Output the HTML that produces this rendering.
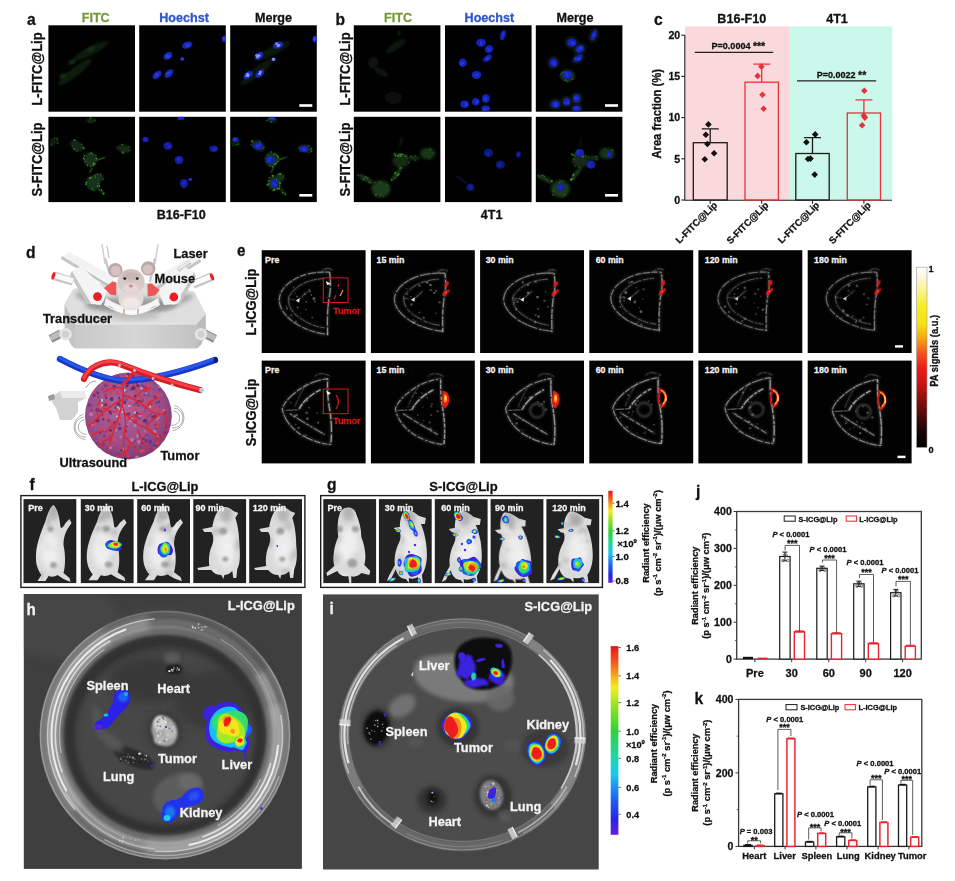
<!DOCTYPE html>
<html><head><meta charset="utf-8"><title>Figure</title>
<style>
html,body{margin:0;padding:0;background:#fff;}
body{width:955px;height:881px;overflow:hidden;font-family:"Liberation Sans",sans-serif;}
svg{display:block;position:absolute;left:0;top:0;opacity:0.999;}
text{font-family:"Liberation Sans",sans-serif;font-weight:bold;}
</style></head><body>
<svg width="955" height="881" viewBox="0 0 955 881">

<!-- p_defs -->

<defs>
<filter id="b05" x="-30%" y="-30%" width="160%" height="160%"><feGaussianBlur stdDeviation="0.5"/></filter>
<filter id="b1" x="-30%" y="-30%" width="160%" height="160%"><feGaussianBlur stdDeviation="1"/></filter>
<filter id="b15" x="-30%" y="-30%" width="160%" height="160%"><feGaussianBlur stdDeviation="1.5"/></filter>
<filter id="b2" x="-30%" y="-30%" width="160%" height="160%"><feGaussianBlur stdDeviation="2"/></filter>
<filter id="b3" x="-30%" y="-30%" width="160%" height="160%"><feGaussianBlur stdDeviation="3"/></filter>
<filter id="b5" x="-30%" y="-30%" width="160%" height="160%"><feGaussianBlur stdDeviation="5"/></filter>
<linearGradient id="jet" x1="0" y1="0" x2="0" y2="1">
<stop offset="0" stop-color="#e8141c"/><stop offset="0.08" stop-color="#f5541a"/><stop offset="0.15" stop-color="#f8a01c"/><stop offset="0.22" stop-color="#f2ee1e"/>
<stop offset="0.33" stop-color="#8be024"/><stop offset="0.45" stop-color="#2fd23a"/><stop offset="0.58" stop-color="#1fd6a6"/><stop offset="0.68" stop-color="#18c8ee"/>
<stop offset="0.80" stop-color="#1e6af0"/><stop offset="0.92" stop-color="#2a22e6"/><stop offset="1" stop-color="#6a1fd8"/>
</linearGradient>
<linearGradient id="hot" x1="0" y1="0" x2="0" y2="1">
<stop offset="0" stop-color="#ffffff"/><stop offset="0.06" stop-color="#fbf6d8"/><stop offset="0.14" stop-color="#fbf280"/><stop offset="0.22" stop-color="#f8ec20"/>
<stop offset="0.32" stop-color="#f8e010"/><stop offset="0.40" stop-color="#f8a010"/><stop offset="0.48" stop-color="#f4501a"/><stop offset="0.56" stop-color="#ee1c18"/>
<stop offset="0.66" stop-color="#c41212"/><stop offset="0.78" stop-color="#6c0c0c"/><stop offset="0.9" stop-color="#200505"/><stop offset="1" stop-color="#000"/>
</linearGradient>
<radialGradient id="jetr">
<stop offset="0" stop-color="#e8141c"/><stop offset="0.28" stop-color="#f5641a"/><stop offset="0.42" stop-color="#f2ee1e"/>
<stop offset="0.56" stop-color="#3fd83a"/><stop offset="0.7" stop-color="#18c8ee"/><stop offset="0.85" stop-color="#2a3ae6"/><stop offset="1" stop-color="#5a1fd8"/>
</radialGradient>
<radialGradient id="jetg">
<stop offset="0" stop-color="#f2ee1e"/><stop offset="0.3" stop-color="#3fd83a"/><stop offset="0.55" stop-color="#18c8ee"/><stop offset="0.8" stop-color="#2a3ae6"/><stop offset="1" stop-color="#4a1fd8"/>
</radialGradient>
<radialGradient id="jetb">
<stop offset="0" stop-color="#18c8ee"/><stop offset="0.4" stop-color="#1e6af0"/><stop offset="1" stop-color="#2a22e6"/>
</radialGradient>
</defs>

<!-- p_abc -->
<rect x="48.4" y="25.3" width="86.6" height="86.4" fill="#010101"/><rect x="139.2" y="25.3" width="86.6" height="86.4" fill="#010101"/><rect x="230.2" y="25.3" width="86.6" height="86.4" fill="#010101"/><rect x="48.4" y="116.8" width="86.6" height="85.3" fill="#010101"/><rect x="139.2" y="116.8" width="86.6" height="85.3" fill="#010101"/><rect x="230.2" y="116.8" width="86.6" height="85.3" fill="#010101"/><rect x="353.8" y="25.3" width="86.6" height="86.4" fill="#010101"/><rect x="445.0" y="25.3" width="86.6" height="86.4" fill="#010101"/><rect x="535.8" y="25.3" width="86.6" height="86.4" fill="#010101"/><rect x="353.8" y="116.8" width="86.6" height="85.3" fill="#010101"/><rect x="445.0" y="116.8" width="86.6" height="85.3" fill="#010101"/><rect x="535.8" y="116.8" width="86.6" height="85.3" fill="#010101"/><text transform="translate(27.0,25.3) scale(0.92,1)" font-size="17" text-anchor="start" fill="#111" stroke="#111" stroke-width=".28" >a</text><text x="95.7" y="22.2" font-size="12.6" text-anchor="middle" fill="#74993a" stroke="#74993a" stroke-width=".28" >FITC</text><text x="184.0" y="22.2" font-size="12.6" text-anchor="middle" fill="#2f55c9" stroke="#2f55c9" stroke-width=".28" >Hoechst</text><text x="273.5" y="22.2" font-size="12.6" text-anchor="middle" fill="#111" stroke="#111" stroke-width=".28" >Merge</text><text transform="translate(42.2,69.0) rotate(-90) scale(1,1.07)" font-size="13" text-anchor="middle" fill="#111" stroke="#111" stroke-width=".28">L-FITC@Lip</text><text transform="translate(42.2,159.5) rotate(-90) scale(1,1.07)" font-size="13" text-anchor="middle" fill="#111" stroke="#111" stroke-width=".28">S-FITC@Lip</text><text x="181.2" y="218.6" font-size="12.6" text-anchor="middle" fill="#111" stroke="#111" stroke-width=".28" >B16-F10</text><text transform="translate(335.5,25.3) scale(0.92,1)" font-size="17" text-anchor="start" fill="#111" stroke="#111" stroke-width=".28" >b</text><text x="398.0" y="22.2" font-size="12.6" text-anchor="middle" fill="#74993a" stroke="#74993a" stroke-width=".28" >FITC</text><text x="489.4" y="22.2" font-size="12.6" text-anchor="middle" fill="#2f55c9" stroke="#2f55c9" stroke-width=".28" >Hoechst</text><text x="575.0" y="22.2" font-size="12.6" text-anchor="middle" fill="#111" stroke="#111" stroke-width=".28" >Merge</text><text transform="translate(349.6,69.0) rotate(-90) scale(1,1.07)" font-size="13" text-anchor="middle" fill="#111" stroke="#111" stroke-width=".28">L-FITC@Lip</text><text transform="translate(349.6,159.5) rotate(-90) scale(1,1.07)" font-size="13" text-anchor="middle" fill="#111" stroke="#111" stroke-width=".28">S-FITC@Lip</text><text x="491.6" y="218.6" font-size="12.6" text-anchor="middle" fill="#111" stroke="#111" stroke-width=".28" >4T1</text><rect x="299.3" y="104.2" width="13" height="2.6" fill="#fff"/><rect x="299.3" y="194.0" width="13" height="2.6" fill="#fff"/><rect x="605.0" y="104.2" width="13" height="2.6" fill="#fff"/><rect x="605.0" y="194.0" width="13" height="2.6" fill="#fff"/><clipPath id="tc1"><rect x="48.4" y="25.3" width="86.6" height="86.0"/></clipPath><g clip-path="url(#tc1)"><ellipse cx="90.5" cy="51.0" rx="20.0" ry="4.2" transform="rotate(-27 90.5 51.0)" fill="#101c0e" opacity="1" filter="url(#b1)"/><ellipse cx="75.0" cy="72.0" rx="21.0" ry="4.5" transform="rotate(-38 75.0 72.0)" fill="#101c0e" opacity="1" filter="url(#b1)"/><ellipse cx="91.0" cy="49.0" rx="4.0" ry="2.0" transform="rotate(-27 91.0 49.0)" fill="#18301a" opacity="1" filter="url(#b1)"/><ellipse cx="72.0" cy="62.0" rx="4.0" ry="2.0" transform="rotate(-27 72.0 62.0)" fill="#18301a" opacity="1" filter="url(#b1)"/><ellipse cx="63.0" cy="76.0" rx="4.0" ry="2.0" transform="rotate(-27 63.0 76.0)" fill="#18301a" opacity="1" filter="url(#b1)"/></g><clipPath id="tc2"><rect x="139.2" y="25.3" width="86.6" height="86.0"/></clipPath><g clip-path="url(#tc2)"><ellipse cx="187.2" cy="45.2" rx="5.2" ry="3.4" transform="rotate(-20 187.2 45.2)" fill="#1a2bbe" opacity="1" filter="url(#b05)"/><circle cx="187.0" cy="45.5" r="1.3" fill="#2a40ea" opacity="0.9" filter="url(#b05)"/><circle cx="188.6" cy="45.6" r="1.1" fill="#2a40ea" opacity="0.9" filter="url(#b05)"/><circle cx="188.6" cy="45.5" r="0.9" fill="#2a40ea" opacity="0.9" filter="url(#b05)"/><circle cx="187.0" cy="45.3" r="1.0" fill="#2a40ea" opacity="0.9" filter="url(#b05)"/><ellipse cx="167.9" cy="55.8" rx="4.8" ry="3.4" transform="rotate(-40 167.9 55.8)" fill="#1a2bbe" opacity="1" filter="url(#b05)"/><circle cx="166.0" cy="56.5" r="1.0" fill="#2a40ea" opacity="0.9" filter="url(#b05)"/><circle cx="168.2" cy="57.0" r="1.5" fill="#2a40ea" opacity="0.9" filter="url(#b05)"/><circle cx="167.0" cy="55.5" r="1.5" fill="#2a40ea" opacity="0.9" filter="url(#b05)"/><circle cx="170.1" cy="56.3" r="1.1" fill="#2a40ea" opacity="0.9" filter="url(#b05)"/><ellipse cx="157.0" cy="74.9" rx="5.2" ry="3.2" transform="rotate(-40 157.0 74.9)" fill="#1a2bbe" opacity="1" filter="url(#b05)"/><circle cx="157.2" cy="75.1" r="1.1" fill="#2a40ea" opacity="0.9" filter="url(#b05)"/><circle cx="157.2" cy="74.6" r="1.2" fill="#2a40ea" opacity="0.9" filter="url(#b05)"/><circle cx="156.3" cy="74.4" r="1.2" fill="#2a40ea" opacity="0.9" filter="url(#b05)"/><circle cx="157.2" cy="74.9" r="1.0" fill="#2a40ea" opacity="0.9" filter="url(#b05)"/><ellipse cx="168.9" cy="73.6" rx="5.2" ry="3.2" transform="rotate(-45 168.9 73.6)" fill="#1a2bbe" opacity="1" filter="url(#b05)"/><circle cx="168.4" cy="72.9" r="1.1" fill="#2a40ea" opacity="0.9" filter="url(#b05)"/><circle cx="167.8" cy="73.2" r="1.1" fill="#2a40ea" opacity="0.9" filter="url(#b05)"/><circle cx="169.5" cy="72.4" r="1.0" fill="#2a40ea" opacity="0.9" filter="url(#b05)"/><circle cx="167.6" cy="73.2" r="1.4" fill="#2a40ea" opacity="0.9" filter="url(#b05)"/><ellipse cx="182.2" cy="59.0" rx="1.8" ry="1.2" transform="rotate(-30 182.2 59.0)" fill="#1a2bbe" opacity="1" filter="url(#b05)"/><circle cx="182.2" cy="58.8" r="1.5" fill="#2a40ea" opacity="0.9" filter="url(#b05)"/><circle cx="182.5" cy="59.2" r="1.4" fill="#2a40ea" opacity="0.9" filter="url(#b05)"/><circle cx="182.5" cy="59.3" r="0.9" fill="#2a40ea" opacity="0.9" filter="url(#b05)"/><circle cx="181.8" cy="58.6" r="1.2" fill="#2a40ea" opacity="0.9" filter="url(#b05)"/><ellipse cx="224.2" cy="39.0" rx="2.3" ry="3.2" transform="rotate(0 224.2 39.0)" fill="#1a2bbe" opacity="1" filter="url(#b05)"/><circle cx="224.5" cy="38.6" r="1.3" fill="#2a40ea" opacity="0.9" filter="url(#b05)"/><circle cx="223.6" cy="38.4" r="1.2" fill="#2a40ea" opacity="0.9" filter="url(#b05)"/><circle cx="224.8" cy="37.6" r="1.2" fill="#2a40ea" opacity="0.9" filter="url(#b05)"/><circle cx="224.2" cy="38.9" r="1.3" fill="#2a40ea" opacity="0.9" filter="url(#b05)"/></g><clipPath id="tc3"><rect x="230.2" y="25.3" width="86.6" height="86.0"/></clipPath><g clip-path="url(#tc3)"><ellipse cx="272.5" cy="51.0" rx="20.0" ry="4.2" transform="rotate(-27 272.5 51.0)" fill="#10160f" opacity="1" filter="url(#b1)"/><ellipse cx="257.0" cy="72.0" rx="21.0" ry="4.5" transform="rotate(-38 257.0 72.0)" fill="#10160f" opacity="1" filter="url(#b1)"/><ellipse cx="278.2" cy="45.2" rx="5.2" ry="3.4" transform="rotate(-20 278.2 45.2)" fill="#1a2bbe" opacity="1" filter="url(#b05)"/><circle cx="276.5" cy="43.7" r="1.4" fill="#7f9cf0" opacity="0.9" filter="url(#b05)"/><circle cx="278.0" cy="45.9" r="1.3" fill="#7f9cf0" opacity="0.9" filter="url(#b05)"/><circle cx="279.5" cy="45.3" r="1.0" fill="#7f9cf0" opacity="0.9" filter="url(#b05)"/><circle cx="278.3" cy="45.3" r="1.4" fill="#7f9cf0" opacity="0.9" filter="url(#b05)"/><circle cx="278.7" cy="45.5" r="1.1" fill="#7f9cf0" opacity="0.9" filter="url(#b05)"/><ellipse cx="258.9" cy="55.8" rx="4.8" ry="3.4" transform="rotate(-40 258.9 55.8)" fill="#1a2bbe" opacity="1" filter="url(#b05)"/><circle cx="259.0" cy="55.7" r="1.2" fill="#7f9cf0" opacity="0.9" filter="url(#b05)"/><circle cx="256.7" cy="55.3" r="1.4" fill="#7f9cf0" opacity="0.9" filter="url(#b05)"/><circle cx="259.4" cy="55.4" r="1.1" fill="#7f9cf0" opacity="0.9" filter="url(#b05)"/><circle cx="257.4" cy="57.1" r="1.5" fill="#7f9cf0" opacity="0.9" filter="url(#b05)"/><circle cx="259.2" cy="56.1" r="1.0" fill="#7f9cf0" opacity="0.9" filter="url(#b05)"/><ellipse cx="248.0" cy="74.9" rx="5.2" ry="3.2" transform="rotate(-40 248.0 74.9)" fill="#1a2bbe" opacity="1" filter="url(#b05)"/><circle cx="248.1" cy="75.7" r="1.3" fill="#7f9cf0" opacity="0.9" filter="url(#b05)"/><circle cx="248.0" cy="74.9" r="1.2" fill="#7f9cf0" opacity="0.9" filter="url(#b05)"/><circle cx="246.9" cy="75.6" r="1.5" fill="#7f9cf0" opacity="0.9" filter="url(#b05)"/><circle cx="247.5" cy="74.1" r="1.3" fill="#7f9cf0" opacity="0.9" filter="url(#b05)"/><circle cx="247.9" cy="74.8" r="1.4" fill="#7f9cf0" opacity="0.9" filter="url(#b05)"/><ellipse cx="259.9" cy="73.6" rx="5.2" ry="3.2" transform="rotate(-45 259.9 73.6)" fill="#1a2bbe" opacity="1" filter="url(#b05)"/><circle cx="260.4" cy="72.1" r="1.4" fill="#7f9cf0" opacity="0.9" filter="url(#b05)"/><circle cx="259.0" cy="74.0" r="1.0" fill="#7f9cf0" opacity="0.9" filter="url(#b05)"/><circle cx="259.8" cy="73.5" r="0.9" fill="#7f9cf0" opacity="0.9" filter="url(#b05)"/><circle cx="260.0" cy="73.9" r="1.1" fill="#7f9cf0" opacity="0.9" filter="url(#b05)"/><circle cx="259.9" cy="73.6" r="1.0" fill="#7f9cf0" opacity="0.9" filter="url(#b05)"/><ellipse cx="273.2" cy="59.0" rx="1.8" ry="1.2" transform="rotate(-30 273.2 59.0)" fill="#1a2bbe" opacity="1" filter="url(#b05)"/><circle cx="273.5" cy="59.1" r="0.9" fill="#7f9cf0" opacity="0.9" filter="url(#b05)"/><circle cx="273.6" cy="58.7" r="1.0" fill="#7f9cf0" opacity="0.9" filter="url(#b05)"/><circle cx="273.2" cy="59.2" r="1.1" fill="#7f9cf0" opacity="0.9" filter="url(#b05)"/><circle cx="273.8" cy="59.4" r="1.5" fill="#7f9cf0" opacity="0.9" filter="url(#b05)"/><circle cx="272.7" cy="59.1" r="1.0" fill="#7f9cf0" opacity="0.9" filter="url(#b05)"/><ellipse cx="315.2" cy="39.0" rx="2.3" ry="3.2" transform="rotate(0 315.2 39.0)" fill="#1a2bbe" opacity="1" filter="url(#b05)"/><circle cx="315.5" cy="39.4" r="1.1" fill="#7f9cf0" opacity="0.9" filter="url(#b05)"/><circle cx="315.3" cy="38.8" r="0.9" fill="#7f9cf0" opacity="0.9" filter="url(#b05)"/><circle cx="315.8" cy="38.7" r="1.0" fill="#7f9cf0" opacity="0.9" filter="url(#b05)"/><circle cx="315.2" cy="39.0" r="1.2" fill="#7f9cf0" opacity="0.9" filter="url(#b05)"/><circle cx="316.3" cy="38.8" r="1.3" fill="#7f9cf0" opacity="0.9" filter="url(#b05)"/><ellipse cx="314.8" cy="39.0" rx="2.3" ry="3.2" transform="rotate(0 314.8 39.0)" fill="#1a2bbe" opacity="1" filter="url(#b05)"/><circle cx="314.8" cy="39.6" r="1.0" fill="#2a40ea" opacity="0.9" filter="url(#b05)"/><circle cx="314.9" cy="38.1" r="1.4" fill="#2a40ea" opacity="0.9" filter="url(#b05)"/><circle cx="314.7" cy="39.3" r="1.4" fill="#2a40ea" opacity="0.9" filter="url(#b05)"/><circle cx="315.9" cy="38.9" r="1.4" fill="#2a40ea" opacity="0.9" filter="url(#b05)"/></g><clipPath id="tc4"><rect x="48.4" y="116.8" width="86.6" height="86.0"/></clipPath><g clip-path="url(#tc4)"><ellipse cx="76.8" cy="145.8" rx="7.5" ry="4.5" transform="rotate(35 76.8 145.8)" fill="#16281a" opacity="1" filter="url(#b1)"/><circle cx="81.6" cy="144.3" r="0.7" fill="#3fa02c" opacity="0.68" filter="url(#b05)"/><circle cx="72.4" cy="146.0" r="0.6" fill="#3fa02c" opacity="0.58" filter="url(#b05)"/><circle cx="74.0" cy="149.1" r="1.0" fill="#3fa02c" opacity="0.65" filter="url(#b05)"/><circle cx="83.8" cy="148.5" r="1.0" fill="#3fa02c" opacity="0.61" filter="url(#b05)"/><circle cx="75.7" cy="149.4" r="0.6" fill="#3fa02c" opacity="0.54" filter="url(#b05)"/><circle cx="74.2" cy="140.0" r="0.9" fill="#3fa02c" opacity="0.67" filter="url(#b05)"/><circle cx="75.4" cy="140.4" r="0.6" fill="#3fa02c" opacity="0.75" filter="url(#b05)"/><circle cx="83.3" cy="147.4" r="0.9" fill="#3fa02c" opacity="0.67" filter="url(#b05)"/><circle cx="77.1" cy="150.9" r="0.7" fill="#3fa02c" opacity="0.81" filter="url(#b05)"/><ellipse cx="90.3" cy="159.5" rx="6.8" ry="7.2" transform="rotate(0 90.3 159.5)" fill="#17301a" opacity="1" filter="url(#b1)"/><circle cx="96.1" cy="158.4" r="0.7" fill="#4bb834" opacity="0.88" filter="url(#b05)"/><circle cx="89.4" cy="153.8" r="0.6" fill="#4bb834" opacity="0.52" filter="url(#b05)"/><circle cx="95.9" cy="155.5" r="0.6" fill="#4bb834" opacity="0.82" filter="url(#b05)"/><circle cx="96.7" cy="158.7" r="0.7" fill="#4bb834" opacity="0.70" filter="url(#b05)"/><circle cx="93.8" cy="163.5" r="1.0" fill="#4bb834" opacity="0.74" filter="url(#b05)"/><circle cx="83.4" cy="158.3" r="0.7" fill="#4bb834" opacity="0.84" filter="url(#b05)"/><circle cx="92.8" cy="154.3" r="0.7" fill="#4bb834" opacity="0.58" filter="url(#b05)"/><circle cx="90.7" cy="166.2" r="0.7" fill="#4bb834" opacity="0.64" filter="url(#b05)"/><circle cx="95.0" cy="164.9" r="0.7" fill="#4bb834" opacity="0.66" filter="url(#b05)"/><circle cx="84.3" cy="155.8" r="0.7" fill="#4bb834" opacity="0.86" filter="url(#b05)"/><circle cx="84.1" cy="159.4" r="0.8" fill="#4bb834" opacity="0.46" filter="url(#b05)"/><circle cx="85.2" cy="161.6" r="0.6" fill="#4bb834" opacity="0.81" filter="url(#b05)"/><circle cx="93.1" cy="165.2" r="0.9" fill="#4bb834" opacity="0.70" filter="url(#b05)"/><circle cx="87.5" cy="165.3" r="0.8" fill="#4bb834" opacity="0.80" filter="url(#b05)"/><circle cx="95.2" cy="163.6" r="0.7" fill="#4bb834" opacity="0.57" filter="url(#b05)"/><circle cx="91.2" cy="153.1" r="0.8" fill="#4bb834" opacity="0.79" filter="url(#b05)"/><ellipse cx="100.0" cy="159.0" rx="6.5" ry="0.9" transform="rotate(-18 100.0 159.0)" fill="#1d4418" opacity="1" filter="url(#b05)"/><ellipse cx="91.0" cy="170.0" rx="0.9" ry="3.5" transform="rotate(25 91.0 170.0)" fill="#1d4418" opacity="1" filter="url(#b05)"/><ellipse cx="92.8" cy="183.0" rx="6.8" ry="7.5" transform="rotate(0 92.8 183.0)" fill="#17301a" opacity="1" filter="url(#b1)"/><circle cx="97.9" cy="179.5" r="0.8" fill="#4bb834" opacity="0.68" filter="url(#b05)"/><circle cx="86.3" cy="182.5" r="0.8" fill="#4bb834" opacity="0.69" filter="url(#b05)"/><circle cx="85.8" cy="184.1" r="0.9" fill="#4bb834" opacity="0.84" filter="url(#b05)"/><circle cx="98.1" cy="180.8" r="0.8" fill="#4bb834" opacity="0.87" filter="url(#b05)"/><circle cx="95.7" cy="178.0" r="0.6" fill="#4bb834" opacity="0.65" filter="url(#b05)"/><circle cx="97.8" cy="185.7" r="0.6" fill="#4bb834" opacity="0.75" filter="url(#b05)"/><circle cx="94.3" cy="175.5" r="0.6" fill="#4bb834" opacity="0.77" filter="url(#b05)"/><circle cx="89.9" cy="178.0" r="0.9" fill="#4bb834" opacity="0.89" filter="url(#b05)"/><circle cx="94.1" cy="190.6" r="0.7" fill="#4bb834" opacity="0.67" filter="url(#b05)"/><circle cx="99.6" cy="182.5" r="0.6" fill="#4bb834" opacity="0.64" filter="url(#b05)"/><circle cx="87.0" cy="182.4" r="0.6" fill="#4bb834" opacity="0.59" filter="url(#b05)"/><circle cx="91.9" cy="177.4" r="0.8" fill="#4bb834" opacity="0.65" filter="url(#b05)"/><circle cx="98.5" cy="183.7" r="0.8" fill="#4bb834" opacity="0.68" filter="url(#b05)"/><circle cx="99.3" cy="186.1" r="0.9" fill="#4bb834" opacity="0.89" filter="url(#b05)"/><circle cx="97.3" cy="186.8" r="0.6" fill="#4bb834" opacity="0.80" filter="url(#b05)"/><circle cx="92.1" cy="188.9" r="0.7" fill="#4bb834" opacity="0.86" filter="url(#b05)"/><ellipse cx="99.0" cy="177.5" rx="4.5" ry="4.2" transform="rotate(0 99.0 177.5)" fill="#17301a" opacity="1" filter="url(#b1)"/><circle cx="100.6" cy="174.3" r="0.6" fill="#3fa02c" opacity="0.86" filter="url(#b05)"/><circle cx="95.1" cy="175.8" r="0.6" fill="#3fa02c" opacity="0.48" filter="url(#b05)"/><circle cx="97.5" cy="174.1" r="0.6" fill="#3fa02c" opacity="0.87" filter="url(#b05)"/><circle cx="96.0" cy="174.4" r="0.6" fill="#3fa02c" opacity="0.84" filter="url(#b05)"/><circle cx="103.1" cy="179.2" r="0.8" fill="#3fa02c" opacity="0.60" filter="url(#b05)"/><circle cx="94.6" cy="176.1" r="0.7" fill="#3fa02c" opacity="0.51" filter="url(#b05)"/><circle cx="95.4" cy="176.9" r="0.6" fill="#3fa02c" opacity="0.52" filter="url(#b05)"/><ellipse cx="101.0" cy="191.0" rx="5.0" ry="1.2" transform="rotate(48 101.0 191.0)" fill="#1d4418" opacity="1" filter="url(#b1)"/><circle cx="103.4" cy="194.1" r="0.7" fill="#4bb834" opacity="0.59" filter="url(#b05)"/><circle cx="101.9" cy="190.5" r="0.8" fill="#4bb834" opacity="0.53" filter="url(#b05)"/><circle cx="99.0" cy="189.9" r="0.7" fill="#4bb834" opacity="0.46" filter="url(#b05)"/><circle cx="101.5" cy="189.9" r="0.6" fill="#4bb834" opacity="0.66" filter="url(#b05)"/><circle cx="103.7" cy="193.4" r="0.9" fill="#4bb834" opacity="0.64" filter="url(#b05)"/><ellipse cx="124.0" cy="148.7" rx="7.0" ry="4.0" transform="rotate(10 124.0 148.7)" fill="#152a18" opacity="1" filter="url(#b1)"/><circle cx="117.1" cy="147.6" r="0.7" fill="#3a8c2a" opacity="0.68" filter="url(#b05)"/><circle cx="121.9" cy="144.4" r="0.7" fill="#3a8c2a" opacity="0.82" filter="url(#b05)"/><circle cx="122.9" cy="144.8" r="0.7" fill="#3a8c2a" opacity="0.61" filter="url(#b05)"/><circle cx="128.9" cy="150.6" r="0.6" fill="#3a8c2a" opacity="0.78" filter="url(#b05)"/><circle cx="123.3" cy="151.8" r="0.6" fill="#3a8c2a" opacity="0.83" filter="url(#b05)"/><circle cx="129.0" cy="146.8" r="0.7" fill="#3a8c2a" opacity="0.56" filter="url(#b05)"/><circle cx="121.8" cy="151.8" r="0.6" fill="#3a8c2a" opacity="0.65" filter="url(#b05)"/><circle cx="122.7" cy="152.7" r="1.0" fill="#3a8c2a" opacity="0.70" filter="url(#b05)"/><circle cx="123.5" cy="152.8" r="0.7" fill="#3a8c2a" opacity="0.61" filter="url(#b05)"/><ellipse cx="90.7" cy="120.2" rx="5.0" ry="2.2" transform="rotate(0 90.7 120.2)" fill="#122414" opacity="1" filter="url(#b1)"/><circle cx="95.0" cy="120.2" r="0.8" fill="#2f7a22" opacity="0.68" filter="url(#b05)"/><circle cx="92.1" cy="122.1" r="0.6" fill="#2f7a22" opacity="0.57" filter="url(#b05)"/><circle cx="94.4" cy="121.2" r="0.6" fill="#2f7a22" opacity="0.46" filter="url(#b05)"/><circle cx="89.3" cy="121.9" r="0.8" fill="#2f7a22" opacity="0.69" filter="url(#b05)"/><circle cx="90.7" cy="118.1" r="0.9" fill="#2f7a22" opacity="0.85" filter="url(#b05)"/><ellipse cx="54.0" cy="142.0" rx="5.5" ry="3.5" transform="rotate(-20 54.0 142.0)" fill="#0f1c10" opacity="1" filter="url(#b1)"/><circle cx="51.3" cy="145.0" r="1.0" fill="#2a6a20" opacity="0.52" filter="url(#b05)"/><circle cx="52.1" cy="139.2" r="0.6" fill="#2a6a20" opacity="0.83" filter="url(#b05)"/><circle cx="57.1" cy="138.7" r="0.9" fill="#2a6a20" opacity="0.82" filter="url(#b05)"/><circle cx="57.8" cy="143.2" r="0.8" fill="#2a6a20" opacity="0.83" filter="url(#b05)"/><circle cx="54.6" cy="138.3" r="0.8" fill="#2a6a20" opacity="0.85" filter="url(#b05)"/></g><clipPath id="tc5"><rect x="139.2" y="116.8" width="86.6" height="86.0"/></clipPath><g clip-path="url(#tc5)"><ellipse cx="167.9" cy="145.8" rx="4.5" ry="4.0" transform="rotate(0 167.9 145.8)" fill="#121c9c" opacity="1" filter="url(#b05)"/><circle cx="167.2" cy="144.4" r="1.0" fill="#1c2ed4" opacity="0.9" filter="url(#b05)"/><circle cx="168.2" cy="145.9" r="1.1" fill="#1c2ed4" opacity="0.9" filter="url(#b05)"/><circle cx="169.5" cy="146.9" r="1.2" fill="#1c2ed4" opacity="0.9" filter="url(#b05)"/><ellipse cx="179.0" cy="160.0" rx="4.5" ry="4.2" transform="rotate(0 179.0 160.0)" fill="#121c9c" opacity="1" filter="url(#b05)"/><circle cx="177.9" cy="159.0" r="1.3" fill="#1c2ed4" opacity="0.9" filter="url(#b05)"/><circle cx="179.0" cy="160.0" r="1.4" fill="#1c2ed4" opacity="0.9" filter="url(#b05)"/><circle cx="179.0" cy="158.8" r="1.2" fill="#1c2ed4" opacity="0.9" filter="url(#b05)"/><ellipse cx="184.0" cy="183.6" rx="4.0" ry="4.6" transform="rotate(0 184.0 183.6)" fill="#121c9c" opacity="1" filter="url(#b05)"/><circle cx="183.9" cy="183.5" r="1.3" fill="#1c2ed4" opacity="0.9" filter="url(#b05)"/><circle cx="184.0" cy="183.8" r="1.1" fill="#1c2ed4" opacity="0.9" filter="url(#b05)"/><circle cx="183.9" cy="183.1" r="1.3" fill="#1c2ed4" opacity="0.9" filter="url(#b05)"/><ellipse cx="190.5" cy="179.5" rx="2.0" ry="1.5" transform="rotate(0 190.5 179.5)" fill="#121c9c" opacity="1" filter="url(#b05)"/><circle cx="191.0" cy="179.4" r="1.1" fill="#1c2ed4" opacity="0.9" filter="url(#b05)"/><circle cx="189.8" cy="179.6" r="1.4" fill="#1c2ed4" opacity="0.9" filter="url(#b05)"/><circle cx="190.0" cy="179.1" r="0.9" fill="#1c2ed4" opacity="0.9" filter="url(#b05)"/><ellipse cx="213.8" cy="148.8" rx="4.3" ry="3.3" transform="rotate(0 213.8 148.8)" fill="#121c9c" opacity="1" filter="url(#b05)"/><circle cx="214.2" cy="149.2" r="1.3" fill="#1c2ed4" opacity="0.9" filter="url(#b05)"/><circle cx="213.3" cy="149.8" r="0.9" fill="#1c2ed4" opacity="0.9" filter="url(#b05)"/><circle cx="214.4" cy="149.0" r="1.3" fill="#1c2ed4" opacity="0.9" filter="url(#b05)"/><ellipse cx="145.5" cy="139.5" rx="3.2" ry="2.8" transform="rotate(0 145.5 139.5)" fill="#121c9c" opacity="1" filter="url(#b05)"/><circle cx="145.1" cy="138.5" r="1.1" fill="#1c2ed4" opacity="0.9" filter="url(#b05)"/><circle cx="144.7" cy="139.4" r="1.2" fill="#1c2ed4" opacity="0.9" filter="url(#b05)"/><circle cx="146.7" cy="140.4" r="1.0" fill="#1c2ed4" opacity="0.9" filter="url(#b05)"/><ellipse cx="181.0" cy="118.3" rx="3.5" ry="2.0" transform="rotate(0 181.0 118.3)" fill="#121c9c" opacity="1" filter="url(#b05)"/><circle cx="182.8" cy="118.2" r="0.9" fill="#1c2ed4" opacity="0.9" filter="url(#b05)"/><circle cx="179.5" cy="118.5" r="1.5" fill="#1c2ed4" opacity="0.9" filter="url(#b05)"/><circle cx="180.5" cy="118.4" r="1.0" fill="#1c2ed4" opacity="0.9" filter="url(#b05)"/></g><clipPath id="tc6"><rect x="230.2" y="116.8" width="86.6" height="86.0"/></clipPath><g clip-path="url(#tc6)"><ellipse cx="258.1" cy="145.8" rx="7.5" ry="4.5" transform="rotate(35 258.1 145.8)" fill="#16281a" opacity="1" filter="url(#b1)"/><circle cx="263.5" cy="148.1" r="0.8" fill="#3fa02c" opacity="0.51" filter="url(#b05)"/><circle cx="252.2" cy="140.8" r="0.6" fill="#3fa02c" opacity="0.82" filter="url(#b05)"/><circle cx="252.0" cy="141.2" r="0.9" fill="#3fa02c" opacity="0.55" filter="url(#b05)"/><circle cx="263.9" cy="146.9" r="0.6" fill="#3fa02c" opacity="0.45" filter="url(#b05)"/><circle cx="252.5" cy="142.2" r="0.7" fill="#3fa02c" opacity="0.51" filter="url(#b05)"/><circle cx="253.4" cy="146.4" r="0.9" fill="#3fa02c" opacity="0.45" filter="url(#b05)"/><circle cx="260.7" cy="142.1" r="0.6" fill="#3fa02c" opacity="0.87" filter="url(#b05)"/><circle cx="259.2" cy="141.1" r="0.7" fill="#3fa02c" opacity="0.62" filter="url(#b05)"/><circle cx="251.4" cy="144.7" r="0.8" fill="#3fa02c" opacity="0.61" filter="url(#b05)"/><ellipse cx="271.6" cy="159.5" rx="6.8" ry="7.2" transform="rotate(0 271.6 159.5)" fill="#17301a" opacity="1" filter="url(#b1)"/><circle cx="266.5" cy="162.1" r="0.6" fill="#4bb834" opacity="0.50" filter="url(#b05)"/><circle cx="274.5" cy="154.3" r="1.0" fill="#4bb834" opacity="0.56" filter="url(#b05)"/><circle cx="271.0" cy="166.0" r="0.6" fill="#4bb834" opacity="0.62" filter="url(#b05)"/><circle cx="278.2" cy="157.5" r="0.9" fill="#4bb834" opacity="0.73" filter="url(#b05)"/><circle cx="277.6" cy="155.7" r="0.8" fill="#4bb834" opacity="0.77" filter="url(#b05)"/><circle cx="277.9" cy="161.6" r="0.8" fill="#4bb834" opacity="0.79" filter="url(#b05)"/><circle cx="268.1" cy="154.8" r="0.6" fill="#4bb834" opacity="0.87" filter="url(#b05)"/><circle cx="275.8" cy="164.1" r="0.7" fill="#4bb834" opacity="0.58" filter="url(#b05)"/><circle cx="271.1" cy="152.0" r="0.7" fill="#4bb834" opacity="0.75" filter="url(#b05)"/><circle cx="269.6" cy="165.8" r="0.7" fill="#4bb834" opacity="0.53" filter="url(#b05)"/><circle cx="274.5" cy="164.5" r="1.0" fill="#4bb834" opacity="0.67" filter="url(#b05)"/><circle cx="272.9" cy="166.7" r="1.0" fill="#4bb834" opacity="0.65" filter="url(#b05)"/><circle cx="275.1" cy="164.0" r="0.6" fill="#4bb834" opacity="0.60" filter="url(#b05)"/><circle cx="276.3" cy="162.7" r="0.7" fill="#4bb834" opacity="0.71" filter="url(#b05)"/><circle cx="276.6" cy="154.9" r="0.7" fill="#4bb834" opacity="0.64" filter="url(#b05)"/><circle cx="265.8" cy="158.6" r="0.7" fill="#4bb834" opacity="0.48" filter="url(#b05)"/><ellipse cx="281.3" cy="159.0" rx="6.5" ry="0.9" transform="rotate(-18 281.3 159.0)" fill="#1d4418" opacity="1" filter="url(#b05)"/><ellipse cx="272.3" cy="170.0" rx="0.9" ry="3.5" transform="rotate(25 272.3 170.0)" fill="#1d4418" opacity="1" filter="url(#b05)"/><ellipse cx="274.1" cy="183.0" rx="6.8" ry="7.5" transform="rotate(0 274.1 183.0)" fill="#17301a" opacity="1" filter="url(#b1)"/><circle cx="272.9" cy="190.7" r="0.6" fill="#4bb834" opacity="0.68" filter="url(#b05)"/><circle cx="269.4" cy="177.5" r="0.6" fill="#4bb834" opacity="0.57" filter="url(#b05)"/><circle cx="274.2" cy="189.5" r="0.8" fill="#4bb834" opacity="0.88" filter="url(#b05)"/><circle cx="278.1" cy="176.8" r="0.6" fill="#4bb834" opacity="0.46" filter="url(#b05)"/><circle cx="272.4" cy="175.6" r="0.8" fill="#4bb834" opacity="0.71" filter="url(#b05)"/><circle cx="280.0" cy="183.0" r="1.0" fill="#4bb834" opacity="0.82" filter="url(#b05)"/><circle cx="278.5" cy="176.8" r="0.7" fill="#4bb834" opacity="0.50" filter="url(#b05)"/><circle cx="277.6" cy="188.6" r="0.9" fill="#4bb834" opacity="0.87" filter="url(#b05)"/><circle cx="273.0" cy="176.0" r="0.9" fill="#4bb834" opacity="0.66" filter="url(#b05)"/><circle cx="269.2" cy="181.2" r="0.9" fill="#4bb834" opacity="0.55" filter="url(#b05)"/><circle cx="279.7" cy="179.6" r="0.7" fill="#4bb834" opacity="0.51" filter="url(#b05)"/><circle cx="274.0" cy="190.1" r="0.9" fill="#4bb834" opacity="0.50" filter="url(#b05)"/><circle cx="279.7" cy="185.9" r="0.8" fill="#4bb834" opacity="0.62" filter="url(#b05)"/><circle cx="275.1" cy="189.9" r="0.6" fill="#4bb834" opacity="0.59" filter="url(#b05)"/><circle cx="267.3" cy="184.9" r="0.8" fill="#4bb834" opacity="0.85" filter="url(#b05)"/><circle cx="268.6" cy="184.0" r="0.7" fill="#4bb834" opacity="0.88" filter="url(#b05)"/><ellipse cx="280.3" cy="177.5" rx="4.5" ry="4.2" transform="rotate(0 280.3 177.5)" fill="#17301a" opacity="1" filter="url(#b1)"/><circle cx="279.2" cy="174.1" r="0.6" fill="#3fa02c" opacity="0.67" filter="url(#b05)"/><circle cx="278.5" cy="174.2" r="0.7" fill="#3fa02c" opacity="0.75" filter="url(#b05)"/><circle cx="283.6" cy="175.9" r="0.6" fill="#3fa02c" opacity="0.60" filter="url(#b05)"/><circle cx="276.5" cy="179.4" r="0.6" fill="#3fa02c" opacity="0.81" filter="url(#b05)"/><circle cx="280.0" cy="173.7" r="0.6" fill="#3fa02c" opacity="0.89" filter="url(#b05)"/><circle cx="278.6" cy="181.4" r="0.7" fill="#3fa02c" opacity="0.55" filter="url(#b05)"/><circle cx="280.5" cy="174.0" r="1.0" fill="#3fa02c" opacity="0.67" filter="url(#b05)"/><ellipse cx="282.3" cy="191.0" rx="5.0" ry="1.2" transform="rotate(48 282.3 191.0)" fill="#1d4418" opacity="1" filter="url(#b1)"/><circle cx="282.7" cy="192.8" r="0.7" fill="#4bb834" opacity="0.75" filter="url(#b05)"/><circle cx="285.0" cy="193.6" r="0.7" fill="#4bb834" opacity="0.55" filter="url(#b05)"/><circle cx="285.0" cy="193.8" r="0.6" fill="#4bb834" opacity="0.48" filter="url(#b05)"/><circle cx="279.1" cy="188.5" r="0.9" fill="#4bb834" opacity="0.78" filter="url(#b05)"/><circle cx="285.8" cy="194.8" r="0.7" fill="#4bb834" opacity="0.53" filter="url(#b05)"/><ellipse cx="305.3" cy="148.7" rx="7.0" ry="4.0" transform="rotate(10 305.3 148.7)" fill="#152a18" opacity="1" filter="url(#b1)"/><circle cx="311.7" cy="148.3" r="0.6" fill="#3a8c2a" opacity="0.75" filter="url(#b05)"/><circle cx="300.6" cy="150.3" r="0.7" fill="#3a8c2a" opacity="0.53" filter="url(#b05)"/><circle cx="311.0" cy="149.8" r="0.7" fill="#3a8c2a" opacity="0.88" filter="url(#b05)"/><circle cx="309.9" cy="152.5" r="0.6" fill="#3a8c2a" opacity="0.61" filter="url(#b05)"/><circle cx="308.9" cy="145.7" r="0.7" fill="#3a8c2a" opacity="0.47" filter="url(#b05)"/><circle cx="299.3" cy="148.2" r="1.0" fill="#3a8c2a" opacity="0.54" filter="url(#b05)"/><circle cx="300.1" cy="150.9" r="0.6" fill="#3a8c2a" opacity="0.63" filter="url(#b05)"/><circle cx="308.5" cy="145.6" r="0.6" fill="#3a8c2a" opacity="0.47" filter="url(#b05)"/><circle cx="311.6" cy="151.4" r="0.7" fill="#3a8c2a" opacity="0.79" filter="url(#b05)"/><ellipse cx="272.0" cy="120.2" rx="5.0" ry="2.2" transform="rotate(0 272.0 120.2)" fill="#122414" opacity="1" filter="url(#b1)"/><circle cx="275.4" cy="119.1" r="0.7" fill="#2f7a22" opacity="0.88" filter="url(#b05)"/><circle cx="268.9" cy="119.0" r="0.9" fill="#2f7a22" opacity="0.59" filter="url(#b05)"/><circle cx="271.4" cy="121.8" r="0.9" fill="#2f7a22" opacity="0.86" filter="url(#b05)"/><circle cx="268.6" cy="118.5" r="0.6" fill="#2f7a22" opacity="0.56" filter="url(#b05)"/><circle cx="266.9" cy="120.6" r="1.0" fill="#2f7a22" opacity="0.62" filter="url(#b05)"/><ellipse cx="235.3" cy="142.0" rx="5.5" ry="3.5" transform="rotate(-20 235.3 142.0)" fill="#0f1c10" opacity="1" filter="url(#b1)"/><circle cx="236.3" cy="144.9" r="0.8" fill="#2a6a20" opacity="0.87" filter="url(#b05)"/><circle cx="238.5" cy="144.2" r="0.9" fill="#2a6a20" opacity="0.82" filter="url(#b05)"/><circle cx="234.9" cy="138.7" r="0.7" fill="#2a6a20" opacity="0.59" filter="url(#b05)"/><circle cx="232.9" cy="145.7" r="0.6" fill="#2a6a20" opacity="0.54" filter="url(#b05)"/><circle cx="234.4" cy="139.3" r="0.6" fill="#2a6a20" opacity="0.47" filter="url(#b05)"/><ellipse cx="258.3" cy="146.0" rx="4.3" ry="3.8" transform="rotate(0 258.3 146.0)" fill="#1624b0" opacity="1" filter="url(#b05)"/><circle cx="257.6" cy="145.8" r="1.5" fill="#2236e0" opacity="0.9" filter="url(#b05)"/><circle cx="260.0" cy="144.6" r="1.1" fill="#2236e0" opacity="0.9" filter="url(#b05)"/><circle cx="258.5" cy="146.1" r="1.2" fill="#2236e0" opacity="0.9" filter="url(#b05)"/><ellipse cx="270.5" cy="160.0" rx="4.3" ry="4.0" transform="rotate(0 270.5 160.0)" fill="#1624b0" opacity="1" filter="url(#b05)"/><circle cx="270.2" cy="159.0" r="1.0" fill="#2236e0" opacity="0.9" filter="url(#b05)"/><circle cx="269.2" cy="160.7" r="1.3" fill="#2236e0" opacity="0.9" filter="url(#b05)"/><circle cx="270.5" cy="158.1" r="1.3" fill="#2236e0" opacity="0.9" filter="url(#b05)"/><ellipse cx="274.3" cy="183.6" rx="3.8" ry="4.4" transform="rotate(0 274.3 183.6)" fill="#1624b0" opacity="1" filter="url(#b05)"/><circle cx="275.6" cy="185.0" r="1.1" fill="#2236e0" opacity="0.9" filter="url(#b05)"/><circle cx="273.6" cy="183.2" r="1.3" fill="#2236e0" opacity="0.9" filter="url(#b05)"/><circle cx="274.5" cy="184.2" r="1.0" fill="#2236e0" opacity="0.9" filter="url(#b05)"/><ellipse cx="304.0" cy="148.8" rx="4.2" ry="3.2" transform="rotate(0 304.0 148.8)" fill="#1624b0" opacity="1" filter="url(#b05)"/><circle cx="305.2" cy="150.1" r="1.2" fill="#2236e0" opacity="0.9" filter="url(#b05)"/><circle cx="303.6" cy="149.4" r="1.5" fill="#2236e0" opacity="0.9" filter="url(#b05)"/><circle cx="303.5" cy="148.8" r="1.4" fill="#2236e0" opacity="0.9" filter="url(#b05)"/><ellipse cx="235.5" cy="139.5" rx="3.0" ry="2.6" transform="rotate(0 235.5 139.5)" fill="#1624b0" opacity="1" filter="url(#b05)"/><circle cx="234.6" cy="138.3" r="1.0" fill="#2236e0" opacity="0.9" filter="url(#b05)"/><circle cx="234.2" cy="139.7" r="1.4" fill="#2236e0" opacity="0.9" filter="url(#b05)"/><circle cx="235.6" cy="139.5" r="1.1" fill="#2236e0" opacity="0.9" filter="url(#b05)"/><ellipse cx="272.0" cy="118.3" rx="3.4" ry="1.9" transform="rotate(0 272.0 118.3)" fill="#1624b0" opacity="1" filter="url(#b05)"/><circle cx="272.3" cy="118.4" r="1.5" fill="#2236e0" opacity="0.9" filter="url(#b05)"/><circle cx="270.5" cy="117.8" r="1.1" fill="#2236e0" opacity="0.9" filter="url(#b05)"/><circle cx="272.6" cy="118.0" r="1.1" fill="#2236e0" opacity="0.9" filter="url(#b05)"/></g><clipPath id="tc7"><rect x="353.8" y="25.3" width="86.6" height="86.0"/></clipPath><g clip-path="url(#tc7)"><ellipse cx="373.4" cy="62.8" rx="5.0" ry="6.0" transform="rotate(0 373.4 62.8)" fill="#10160f" opacity="1" filter="url(#b1)"/><ellipse cx="396.0" cy="46.0" rx="12.0" ry="3.5" transform="rotate(-35 396.0 46.0)" fill="#10160f" opacity="1" filter="url(#b1)"/><ellipse cx="381.0" cy="72.0" rx="8.0" ry="3.0" transform="rotate(30 381.0 72.0)" fill="#10160f" opacity="1" filter="url(#b1)"/><ellipse cx="393.5" cy="98.0" rx="9.0" ry="6.0" transform="rotate(0 393.5 98.0)" fill="#0c100c" opacity="1" filter="url(#b1)"/><ellipse cx="399.0" cy="33.0" rx="2.0" ry="3.0" transform="rotate(0 399.0 33.0)" fill="#10160f" opacity="1" filter="url(#b1)"/></g><clipPath id="tc8"><rect x="445.0" y="25.3" width="86.6" height="86.0"/></clipPath><g clip-path="url(#tc8)"><ellipse cx="503.0" cy="35.2" rx="2.6" ry="5.2" transform="rotate(20 503.0 35.2)" fill="#1624b8" opacity="1" filter="url(#b05)"/><circle cx="503.2" cy="32.5" r="1.0" fill="#2438e4" opacity="0.9" filter="url(#b05)"/><circle cx="502.3" cy="34.2" r="1.0" fill="#2438e4" opacity="0.9" filter="url(#b05)"/><circle cx="502.9" cy="35.5" r="1.0" fill="#2438e4" opacity="0.9" filter="url(#b05)"/><ellipse cx="481.0" cy="42.7" rx="4.8" ry="4.0" transform="rotate(0 481.0 42.7)" fill="#1624b8" opacity="1" filter="url(#b05)"/><circle cx="481.0" cy="44.0" r="1.3" fill="#2438e4" opacity="0.9" filter="url(#b05)"/><circle cx="481.0" cy="42.7" r="1.1" fill="#2438e4" opacity="0.9" filter="url(#b05)"/><circle cx="480.8" cy="42.3" r="1.1" fill="#2438e4" opacity="0.9" filter="url(#b05)"/><ellipse cx="489.0" cy="49.0" rx="4.3" ry="3.8" transform="rotate(-30 489.0 49.0)" fill="#1624b8" opacity="1" filter="url(#b05)"/><circle cx="489.5" cy="50.6" r="1.2" fill="#2438e4" opacity="0.9" filter="url(#b05)"/><circle cx="489.2" cy="49.1" r="1.1" fill="#2438e4" opacity="0.9" filter="url(#b05)"/><circle cx="487.6" cy="48.6" r="1.0" fill="#2438e4" opacity="0.9" filter="url(#b05)"/><ellipse cx="487.4" cy="58.3" rx="4.8" ry="2.8" transform="rotate(-35 487.4 58.3)" fill="#1624b8" opacity="1" filter="url(#b05)"/><circle cx="488.3" cy="59.2" r="1.1" fill="#2438e4" opacity="0.9" filter="url(#b05)"/><circle cx="487.2" cy="58.8" r="1.5" fill="#2438e4" opacity="0.9" filter="url(#b05)"/><circle cx="486.8" cy="59.1" r="1.1" fill="#2438e4" opacity="0.9" filter="url(#b05)"/><ellipse cx="462.7" cy="62.8" rx="4.0" ry="4.3" transform="rotate(0 462.7 62.8)" fill="#1624b8" opacity="1" filter="url(#b05)"/><circle cx="461.1" cy="63.8" r="1.5" fill="#2438e4" opacity="0.9" filter="url(#b05)"/><circle cx="462.4" cy="63.2" r="1.3" fill="#2438e4" opacity="0.9" filter="url(#b05)"/><circle cx="462.7" cy="62.8" r="1.4" fill="#2438e4" opacity="0.9" filter="url(#b05)"/><ellipse cx="476.5" cy="74.9" rx="4.8" ry="4.0" transform="rotate(0 476.5 74.9)" fill="#1624b8" opacity="1" filter="url(#b05)"/><circle cx="474.6" cy="75.7" r="1.1" fill="#2438e4" opacity="0.9" filter="url(#b05)"/><circle cx="477.4" cy="74.2" r="1.0" fill="#2438e4" opacity="0.9" filter="url(#b05)"/><circle cx="477.9" cy="75.0" r="1.3" fill="#2438e4" opacity="0.9" filter="url(#b05)"/><ellipse cx="485.8" cy="98.5" rx="3.8" ry="4.3" transform="rotate(0 485.8 98.5)" fill="#1624b8" opacity="1" filter="url(#b05)"/><circle cx="486.0" cy="98.4" r="1.3" fill="#2438e4" opacity="0.9" filter="url(#b05)"/><circle cx="485.1" cy="99.4" r="1.0" fill="#2438e4" opacity="0.9" filter="url(#b05)"/><circle cx="485.6" cy="99.7" r="1.5" fill="#2438e4" opacity="0.9" filter="url(#b05)"/><ellipse cx="475.8" cy="101.8" rx="3.8" ry="3.8" transform="rotate(0 475.8 101.8)" fill="#1624b8" opacity="1" filter="url(#b05)"/><circle cx="476.6" cy="102.4" r="1.4" fill="#2438e4" opacity="0.9" filter="url(#b05)"/><circle cx="476.2" cy="101.7" r="1.0" fill="#2438e4" opacity="0.9" filter="url(#b05)"/><circle cx="477.7" cy="101.1" r="1.2" fill="#2438e4" opacity="0.9" filter="url(#b05)"/><ellipse cx="464.7" cy="104.3" rx="4.3" ry="3.8" transform="rotate(0 464.7 104.3)" fill="#1624b8" opacity="1" filter="url(#b05)"/><circle cx="466.8" cy="104.9" r="1.1" fill="#2438e4" opacity="0.9" filter="url(#b05)"/><circle cx="465.9" cy="103.6" r="1.4" fill="#2438e4" opacity="0.9" filter="url(#b05)"/><circle cx="465.7" cy="105.7" r="1.0" fill="#2438e4" opacity="0.9" filter="url(#b05)"/><ellipse cx="485.8" cy="108.6" rx="4.3" ry="3.0" transform="rotate(0 485.8 108.6)" fill="#1624b8" opacity="1" filter="url(#b05)"/><circle cx="484.1" cy="109.4" r="1.4" fill="#2438e4" opacity="0.9" filter="url(#b05)"/><circle cx="486.0" cy="108.9" r="1.1" fill="#2438e4" opacity="0.9" filter="url(#b05)"/><circle cx="484.9" cy="108.5" r="1.0" fill="#2438e4" opacity="0.9" filter="url(#b05)"/></g><clipPath id="tc9"><rect x="535.8" y="25.3" width="86.6" height="86.0"/></clipPath><g clip-path="url(#tc9)"><ellipse cx="593.8" cy="35.2" rx="5.1" ry="7.7" transform="rotate(20 593.8 35.2)" fill="#10180f" opacity="1" filter="url(#b1)"/><ellipse cx="571.8" cy="42.7" rx="7.3" ry="6.5" transform="rotate(0 571.8 42.7)" fill="#10180f" opacity="1" filter="url(#b1)"/><ellipse cx="579.8" cy="49.0" rx="6.8" ry="6.3" transform="rotate(-30 579.8 49.0)" fill="#10180f" opacity="1" filter="url(#b1)"/><ellipse cx="578.2" cy="58.3" rx="7.3" ry="5.3" transform="rotate(-35 578.2 58.3)" fill="#10180f" opacity="1" filter="url(#b1)"/><ellipse cx="553.5" cy="62.8" rx="6.5" ry="6.8" transform="rotate(0 553.5 62.8)" fill="#10180f" opacity="1" filter="url(#b1)"/><ellipse cx="567.3" cy="74.9" rx="7.3" ry="6.5" transform="rotate(0 567.3 74.9)" fill="#10180f" opacity="1" filter="url(#b1)"/><ellipse cx="576.6" cy="98.5" rx="6.3" ry="6.8" transform="rotate(0 576.6 98.5)" fill="#10180f" opacity="1" filter="url(#b1)"/><ellipse cx="566.6" cy="101.8" rx="6.3" ry="6.3" transform="rotate(0 566.6 101.8)" fill="#10180f" opacity="1" filter="url(#b1)"/><ellipse cx="555.5" cy="104.3" rx="6.8" ry="6.3" transform="rotate(0 555.5 104.3)" fill="#10180f" opacity="1" filter="url(#b1)"/><ellipse cx="576.6" cy="108.6" rx="6.8" ry="5.5" transform="rotate(0 576.6 108.6)" fill="#10180f" opacity="1" filter="url(#b1)"/><ellipse cx="567.5" cy="75.9" rx="7.5" ry="5.5" transform="rotate(0 567.5 75.9)" fill="#16301a" opacity="1" filter="url(#b1)"/><circle cx="567.6" cy="81.2" r="1.0" fill="#3a8c2a" opacity="0.47" filter="url(#b05)"/><circle cx="560.7" cy="73.8" r="0.6" fill="#3a8c2a" opacity="0.83" filter="url(#b05)"/><circle cx="572.7" cy="79.3" r="0.8" fill="#3a8c2a" opacity="0.73" filter="url(#b05)"/><circle cx="565.2" cy="80.4" r="0.8" fill="#3a8c2a" opacity="0.64" filter="url(#b05)"/><circle cx="563.9" cy="71.8" r="0.7" fill="#3a8c2a" opacity="0.46" filter="url(#b05)"/><circle cx="562.6" cy="72.5" r="0.7" fill="#3a8c2a" opacity="0.79" filter="url(#b05)"/><ellipse cx="593.8" cy="35.2" rx="2.6" ry="5.2" transform="rotate(20 593.8 35.2)" fill="#1624b8" opacity="1" filter="url(#b05)"/><circle cx="593.9" cy="33.9" r="1.0" fill="#2438e4" opacity="0.9" filter="url(#b05)"/><circle cx="593.6" cy="35.3" r="1.0" fill="#2438e4" opacity="0.9" filter="url(#b05)"/><circle cx="593.7" cy="35.3" r="1.2" fill="#2438e4" opacity="0.9" filter="url(#b05)"/><ellipse cx="571.8" cy="42.7" rx="4.8" ry="4.0" transform="rotate(0 571.8 42.7)" fill="#1624b8" opacity="1" filter="url(#b05)"/><circle cx="571.7" cy="42.7" r="1.3" fill="#2438e4" opacity="0.9" filter="url(#b05)"/><circle cx="573.5" cy="43.5" r="1.4" fill="#2438e4" opacity="0.9" filter="url(#b05)"/><circle cx="571.7" cy="42.7" r="1.2" fill="#2438e4" opacity="0.9" filter="url(#b05)"/><ellipse cx="579.8" cy="49.0" rx="4.3" ry="3.8" transform="rotate(-30 579.8 49.0)" fill="#1624b8" opacity="1" filter="url(#b05)"/><circle cx="578.2" cy="50.4" r="1.0" fill="#2438e4" opacity="0.9" filter="url(#b05)"/><circle cx="581.3" cy="47.4" r="1.3" fill="#2438e4" opacity="0.9" filter="url(#b05)"/><circle cx="580.0" cy="48.6" r="1.5" fill="#2438e4" opacity="0.9" filter="url(#b05)"/><ellipse cx="578.2" cy="58.3" rx="4.8" ry="2.8" transform="rotate(-35 578.2 58.3)" fill="#1624b8" opacity="1" filter="url(#b05)"/><circle cx="575.7" cy="58.4" r="1.4" fill="#2438e4" opacity="0.9" filter="url(#b05)"/><circle cx="579.3" cy="59.3" r="1.5" fill="#2438e4" opacity="0.9" filter="url(#b05)"/><circle cx="579.0" cy="58.5" r="1.4" fill="#2438e4" opacity="0.9" filter="url(#b05)"/><ellipse cx="553.5" cy="62.8" rx="4.0" ry="4.3" transform="rotate(0 553.5 62.8)" fill="#1624b8" opacity="1" filter="url(#b05)"/><circle cx="554.6" cy="64.6" r="1.1" fill="#2438e4" opacity="0.9" filter="url(#b05)"/><circle cx="553.6" cy="62.5" r="1.2" fill="#2438e4" opacity="0.9" filter="url(#b05)"/><circle cx="553.9" cy="62.6" r="1.1" fill="#2438e4" opacity="0.9" filter="url(#b05)"/><ellipse cx="567.3" cy="74.9" rx="4.8" ry="4.0" transform="rotate(0 567.3 74.9)" fill="#1624b8" opacity="1" filter="url(#b05)"/><circle cx="566.5" cy="74.9" r="0.9" fill="#2438e4" opacity="0.9" filter="url(#b05)"/><circle cx="567.5" cy="75.2" r="1.5" fill="#2438e4" opacity="0.9" filter="url(#b05)"/><circle cx="566.3" cy="73.1" r="1.0" fill="#2438e4" opacity="0.9" filter="url(#b05)"/><ellipse cx="576.6" cy="98.5" rx="3.8" ry="4.3" transform="rotate(0 576.6 98.5)" fill="#1624b8" opacity="1" filter="url(#b05)"/><circle cx="576.7" cy="98.2" r="1.2" fill="#2438e4" opacity="0.9" filter="url(#b05)"/><circle cx="576.1" cy="97.9" r="1.4" fill="#2438e4" opacity="0.9" filter="url(#b05)"/><circle cx="575.5" cy="98.0" r="1.4" fill="#2438e4" opacity="0.9" filter="url(#b05)"/><ellipse cx="566.6" cy="101.8" rx="3.8" ry="3.8" transform="rotate(0 566.6 101.8)" fill="#1624b8" opacity="1" filter="url(#b05)"/><circle cx="568.2" cy="103.1" r="1.3" fill="#2438e4" opacity="0.9" filter="url(#b05)"/><circle cx="565.3" cy="102.8" r="1.1" fill="#2438e4" opacity="0.9" filter="url(#b05)"/><circle cx="567.8" cy="101.7" r="1.1" fill="#2438e4" opacity="0.9" filter="url(#b05)"/><ellipse cx="555.5" cy="104.3" rx="4.3" ry="3.8" transform="rotate(0 555.5 104.3)" fill="#1624b8" opacity="1" filter="url(#b05)"/><circle cx="555.6" cy="103.4" r="1.0" fill="#2438e4" opacity="0.9" filter="url(#b05)"/><circle cx="555.5" cy="104.2" r="1.4" fill="#2438e4" opacity="0.9" filter="url(#b05)"/><circle cx="555.5" cy="105.6" r="1.5" fill="#2438e4" opacity="0.9" filter="url(#b05)"/><ellipse cx="576.6" cy="108.6" rx="4.3" ry="3.0" transform="rotate(0 576.6 108.6)" fill="#1624b8" opacity="1" filter="url(#b05)"/><circle cx="575.3" cy="108.0" r="1.1" fill="#2438e4" opacity="0.9" filter="url(#b05)"/><circle cx="576.7" cy="108.6" r="1.0" fill="#2438e4" opacity="0.9" filter="url(#b05)"/><circle cx="575.8" cy="108.1" r="1.2" fill="#2438e4" opacity="0.9" filter="url(#b05)"/></g><clipPath id="tc10"><rect x="353.8" y="116.8" width="86.6" height="86.0"/></clipPath><g clip-path="url(#tc10)"><ellipse cx="381.0" cy="189.0" rx="9.5" ry="8.5" transform="rotate(0 381.0 189.0)" fill="#1a3a1a" opacity="1" filter="url(#b15)"/><circle cx="386.9" cy="184.9" r="0.7" fill="#2f7a22" opacity="0.74" filter="url(#b05)"/><circle cx="388.1" cy="189.9" r="0.7" fill="#2f7a22" opacity="0.50" filter="url(#b05)"/><circle cx="376.2" cy="194.4" r="0.8" fill="#2f7a22" opacity="0.72" filter="url(#b05)"/><circle cx="383.5" cy="196.6" r="0.8" fill="#2f7a22" opacity="0.51" filter="url(#b05)"/><circle cx="388.2" cy="186.3" r="0.6" fill="#2f7a22" opacity="0.49" filter="url(#b05)"/><circle cx="374.8" cy="182.4" r="0.9" fill="#2f7a22" opacity="0.63" filter="url(#b05)"/><circle cx="380.4" cy="195.4" r="0.8" fill="#2f7a22" opacity="0.70" filter="url(#b05)"/><circle cx="375.7" cy="195.5" r="0.7" fill="#2f7a22" opacity="0.87" filter="url(#b05)"/><circle cx="380.2" cy="182.0" r="1.0" fill="#2f7a22" opacity="0.47" filter="url(#b05)"/><circle cx="372.9" cy="187.5" r="0.7" fill="#2f7a22" opacity="0.48" filter="url(#b05)"/><ellipse cx="366.0" cy="179.0" rx="9.0" ry="2.2" transform="rotate(28 366.0 179.0)" fill="#1a3a1a" opacity="1" filter="url(#b1)"/><circle cx="367.8" cy="178.1" r="0.8" fill="#3a8c2a" opacity="0.87" filter="url(#b05)"/><circle cx="369.4" cy="182.4" r="0.8" fill="#3a8c2a" opacity="0.68" filter="url(#b05)"/><circle cx="361.8" cy="174.9" r="0.6" fill="#3a8c2a" opacity="0.59" filter="url(#b05)"/><circle cx="363.4" cy="179.4" r="1.0" fill="#3a8c2a" opacity="0.80" filter="url(#b05)"/><circle cx="365.5" cy="176.9" r="0.9" fill="#3a8c2a" opacity="0.79" filter="url(#b05)"/><circle cx="358.2" cy="175.4" r="0.8" fill="#3a8c2a" opacity="0.55" filter="url(#b05)"/><circle cx="370.6" cy="182.7" r="0.6" fill="#3a8c2a" opacity="0.60" filter="url(#b05)"/><ellipse cx="396.5" cy="174.0" rx="9.0" ry="1.8" transform="rotate(-52 396.5 174.0)" fill="#1d4418" opacity="1" filter="url(#b1)"/><circle cx="395.1" cy="173.0" r="0.9" fill="#4bb834" opacity="0.77" filter="url(#b05)"/><circle cx="397.3" cy="175.7" r="0.7" fill="#4bb834" opacity="0.80" filter="url(#b05)"/><circle cx="391.8" cy="179.7" r="0.8" fill="#4bb834" opacity="0.88" filter="url(#b05)"/><circle cx="399.1" cy="173.6" r="0.6" fill="#4bb834" opacity="0.57" filter="url(#b05)"/><circle cx="398.3" cy="174.5" r="1.0" fill="#4bb834" opacity="0.79" filter="url(#b05)"/><circle cx="395.2" cy="178.3" r="0.7" fill="#4bb834" opacity="0.56" filter="url(#b05)"/><circle cx="400.1" cy="167.9" r="0.9" fill="#4bb834" opacity="0.75" filter="url(#b05)"/><circle cx="401.2" cy="167.6" r="0.9" fill="#4bb834" opacity="0.76" filter="url(#b05)"/><ellipse cx="401.0" cy="161.0" rx="8.5" ry="6.5" transform="rotate(0 401.0 161.0)" fill="#152a18" opacity="1" filter="url(#b15)"/><circle cx="405.7" cy="156.5" r="0.9" fill="#2f7a22" opacity="0.71" filter="url(#b05)"/><circle cx="398.5" cy="165.9" r="0.8" fill="#2f7a22" opacity="0.49" filter="url(#b05)"/><circle cx="406.7" cy="158.3" r="0.6" fill="#2f7a22" opacity="0.50" filter="url(#b05)"/><circle cx="407.5" cy="158.6" r="0.6" fill="#2f7a22" opacity="0.46" filter="url(#b05)"/><circle cx="408.9" cy="162.6" r="0.8" fill="#2f7a22" opacity="0.76" filter="url(#b05)"/><circle cx="400.5" cy="156.0" r="0.8" fill="#2f7a22" opacity="0.61" filter="url(#b05)"/><circle cx="404.5" cy="155.1" r="1.0" fill="#2f7a22" opacity="0.48" filter="url(#b05)"/><circle cx="406.9" cy="156.1" r="1.0" fill="#2f7a22" opacity="0.50" filter="url(#b05)"/><ellipse cx="399.0" cy="155.0" rx="8.0" ry="1.2" transform="rotate(8 399.0 155.0)" fill="#1d4418" opacity="1" filter="url(#b1)"/><circle cx="400.6" cy="156.1" r="0.6" fill="#4bb834" opacity="0.83" filter="url(#b05)"/><circle cx="402.0" cy="154.4" r="0.9" fill="#4bb834" opacity="0.73" filter="url(#b05)"/><circle cx="397.4" cy="155.7" r="0.6" fill="#4bb834" opacity="0.79" filter="url(#b05)"/><circle cx="400.7" cy="156.2" r="0.7" fill="#4bb834" opacity="0.46" filter="url(#b05)"/><circle cx="398.6" cy="156.0" r="0.9" fill="#4bb834" opacity="0.62" filter="url(#b05)"/><circle cx="395.3" cy="155.6" r="0.8" fill="#4bb834" opacity="0.83" filter="url(#b05)"/><circle cx="394.7" cy="153.8" r="0.7" fill="#4bb834" opacity="0.65" filter="url(#b05)"/><circle cx="400.1" cy="154.1" r="0.9" fill="#4bb834" opacity="0.69" filter="url(#b05)"/><ellipse cx="427.5" cy="153.5" rx="7.5" ry="5.5" transform="rotate(0 427.5 153.5)" fill="#183818" opacity="1" filter="url(#b15)"/><circle cx="429.1" cy="158.9" r="0.6" fill="#2a6a20" opacity="0.82" filter="url(#b05)"/><circle cx="430.2" cy="157.1" r="0.6" fill="#2a6a20" opacity="0.79" filter="url(#b05)"/><circle cx="433.1" cy="152.9" r="0.8" fill="#2a6a20" opacity="0.67" filter="url(#b05)"/><circle cx="429.2" cy="149.3" r="0.8" fill="#2a6a20" opacity="0.61" filter="url(#b05)"/><circle cx="430.6" cy="149.5" r="1.0" fill="#2a6a20" opacity="0.58" filter="url(#b05)"/><ellipse cx="414.0" cy="158.0" rx="6.0" ry="2.5" transform="rotate(0 414.0 158.0)" fill="#152a18" opacity="1" filter="url(#b1)"/><circle cx="415.3" cy="160.3" r="0.8" fill="#2f7a22" opacity="0.50" filter="url(#b05)"/><circle cx="411.0" cy="156.5" r="0.9" fill="#2f7a22" opacity="0.76" filter="url(#b05)"/><circle cx="415.3" cy="155.7" r="0.7" fill="#2f7a22" opacity="0.63" filter="url(#b05)"/><ellipse cx="401.0" cy="142.0" rx="1.0" ry="6.0" transform="rotate(15 401.0 142.0)" fill="#101c10" opacity="1" filter="url(#b1)"/></g><clipPath id="tc11"><rect x="445.0" y="116.8" width="86.6" height="86.0"/></clipPath><g clip-path="url(#tc11)"><ellipse cx="488.4" cy="152.8" rx="4.6" ry="4.1" transform="rotate(0 488.4 152.8)" fill="#10187a" opacity="1" filter="url(#b05)"/><circle cx="486.6" cy="154.0" r="1.0" fill="#1826a8" opacity="0.9" filter="url(#b05)"/><circle cx="488.4" cy="152.8" r="1.0" fill="#1826a8" opacity="0.9" filter="url(#b05)"/><circle cx="488.2" cy="154.8" r="1.2" fill="#1826a8" opacity="0.9" filter="url(#b05)"/><ellipse cx="500.4" cy="164.6" rx="4.6" ry="4.1" transform="rotate(0 500.4 164.6)" fill="#10187a" opacity="1" filter="url(#b05)"/><circle cx="498.8" cy="166.0" r="1.0" fill="#1826a8" opacity="0.9" filter="url(#b05)"/><circle cx="499.1" cy="164.9" r="1.4" fill="#1826a8" opacity="0.9" filter="url(#b05)"/><circle cx="500.4" cy="163.1" r="1.1" fill="#1826a8" opacity="0.9" filter="url(#b05)"/><ellipse cx="518.5" cy="154.6" rx="2.3" ry="3.3" transform="rotate(0 518.5 154.6)" fill="#10187a" opacity="1" filter="url(#b05)"/><circle cx="518.4" cy="154.8" r="1.4" fill="#1826a8" opacity="0.9" filter="url(#b05)"/><circle cx="518.0" cy="153.5" r="1.0" fill="#1826a8" opacity="0.9" filter="url(#b05)"/><circle cx="517.6" cy="155.1" r="1.2" fill="#1826a8" opacity="0.9" filter="url(#b05)"/><ellipse cx="470.3" cy="187.2" rx="3.8" ry="3.8" transform="rotate(0 470.3 187.2)" fill="#10187a" opacity="1" filter="url(#b05)"/><circle cx="471.0" cy="187.9" r="1.4" fill="#1826a8" opacity="0.9" filter="url(#b05)"/><circle cx="470.3" cy="187.6" r="1.1" fill="#1826a8" opacity="0.9" filter="url(#b05)"/><circle cx="469.8" cy="185.5" r="1.0" fill="#1826a8" opacity="0.9" filter="url(#b05)"/><ellipse cx="462.0" cy="180.0" rx="8.0" ry="0.7" transform="rotate(35 462.0 180.0)" fill="#0c1250" opacity="1" filter="url(#b05)"/></g><clipPath id="tc12"><rect x="535.8" y="116.8" width="86.6" height="86.0"/></clipPath><g clip-path="url(#tc12)"><ellipse cx="560.5" cy="189.0" rx="9.5" ry="8.5" transform="rotate(0 560.5 189.0)" fill="#1a3a1a" opacity="1" filter="url(#b15)"/><circle cx="564.9" cy="194.8" r="0.7" fill="#2f7a22" opacity="0.68" filter="url(#b05)"/><circle cx="564.8" cy="195.1" r="0.6" fill="#2f7a22" opacity="0.89" filter="url(#b05)"/><circle cx="559.5" cy="182.4" r="1.0" fill="#2f7a22" opacity="0.50" filter="url(#b05)"/><circle cx="553.1" cy="194.9" r="0.9" fill="#2f7a22" opacity="0.78" filter="url(#b05)"/><circle cx="553.4" cy="191.7" r="0.8" fill="#2f7a22" opacity="0.50" filter="url(#b05)"/><circle cx="562.7" cy="196.1" r="0.6" fill="#2f7a22" opacity="0.63" filter="url(#b05)"/><circle cx="562.8" cy="181.1" r="0.8" fill="#2f7a22" opacity="0.73" filter="url(#b05)"/><circle cx="553.2" cy="190.5" r="0.8" fill="#2f7a22" opacity="0.63" filter="url(#b05)"/><circle cx="559.9" cy="180.3" r="0.7" fill="#2f7a22" opacity="0.71" filter="url(#b05)"/><circle cx="560.5" cy="181.6" r="0.7" fill="#2f7a22" opacity="0.77" filter="url(#b05)"/><ellipse cx="545.5" cy="179.0" rx="9.0" ry="2.2" transform="rotate(28 545.5 179.0)" fill="#1a3a1a" opacity="1" filter="url(#b1)"/><circle cx="551.9" cy="180.7" r="0.9" fill="#3a8c2a" opacity="0.83" filter="url(#b05)"/><circle cx="543.2" cy="175.6" r="0.8" fill="#3a8c2a" opacity="0.59" filter="url(#b05)"/><circle cx="541.8" cy="175.6" r="0.7" fill="#3a8c2a" opacity="0.80" filter="url(#b05)"/><circle cx="544.7" cy="176.3" r="0.7" fill="#3a8c2a" opacity="0.64" filter="url(#b05)"/><circle cx="538.1" cy="175.7" r="0.7" fill="#3a8c2a" opacity="0.75" filter="url(#b05)"/><circle cx="551.6" cy="181.4" r="0.8" fill="#3a8c2a" opacity="0.80" filter="url(#b05)"/><circle cx="539.4" cy="177.2" r="1.0" fill="#3a8c2a" opacity="0.47" filter="url(#b05)"/><ellipse cx="576.0" cy="174.0" rx="9.0" ry="1.8" transform="rotate(-52 576.0 174.0)" fill="#1d4418" opacity="1" filter="url(#b1)"/><circle cx="571.4" cy="179.2" r="0.9" fill="#4bb834" opacity="0.87" filter="url(#b05)"/><circle cx="571.6" cy="179.4" r="0.8" fill="#4bb834" opacity="0.69" filter="url(#b05)"/><circle cx="573.7" cy="174.3" r="0.8" fill="#4bb834" opacity="0.82" filter="url(#b05)"/><circle cx="571.0" cy="180.0" r="1.0" fill="#4bb834" opacity="0.54" filter="url(#b05)"/><circle cx="572.9" cy="175.6" r="0.9" fill="#4bb834" opacity="0.51" filter="url(#b05)"/><circle cx="580.6" cy="167.9" r="0.6" fill="#4bb834" opacity="0.57" filter="url(#b05)"/><circle cx="573.3" cy="178.8" r="0.7" fill="#4bb834" opacity="0.64" filter="url(#b05)"/><circle cx="573.3" cy="175.0" r="0.7" fill="#4bb834" opacity="0.55" filter="url(#b05)"/><ellipse cx="580.5" cy="161.0" rx="8.5" ry="6.5" transform="rotate(0 580.5 161.0)" fill="#152a18" opacity="1" filter="url(#b15)"/><circle cx="580.0" cy="154.3" r="0.8" fill="#2f7a22" opacity="0.55" filter="url(#b05)"/><circle cx="582.8" cy="155.7" r="0.6" fill="#2f7a22" opacity="0.51" filter="url(#b05)"/><circle cx="581.9" cy="154.6" r="0.8" fill="#2f7a22" opacity="0.66" filter="url(#b05)"/><circle cx="574.1" cy="159.0" r="1.0" fill="#2f7a22" opacity="0.61" filter="url(#b05)"/><circle cx="575.1" cy="156.0" r="0.9" fill="#2f7a22" opacity="0.66" filter="url(#b05)"/><circle cx="578.4" cy="166.7" r="0.6" fill="#2f7a22" opacity="0.83" filter="url(#b05)"/><circle cx="575.3" cy="166.2" r="0.7" fill="#2f7a22" opacity="0.62" filter="url(#b05)"/><circle cx="580.3" cy="166.7" r="0.6" fill="#2f7a22" opacity="0.45" filter="url(#b05)"/><ellipse cx="578.5" cy="155.0" rx="8.0" ry="1.2" transform="rotate(8 578.5 155.0)" fill="#1d4418" opacity="1" filter="url(#b1)"/><circle cx="577.5" cy="153.9" r="0.7" fill="#4bb834" opacity="0.59" filter="url(#b05)"/><circle cx="571.6" cy="154.2" r="0.8" fill="#4bb834" opacity="0.75" filter="url(#b05)"/><circle cx="573.1" cy="155.2" r="0.9" fill="#4bb834" opacity="0.48" filter="url(#b05)"/><circle cx="582.5" cy="154.5" r="0.9" fill="#4bb834" opacity="0.51" filter="url(#b05)"/><circle cx="582.3" cy="154.5" r="0.6" fill="#4bb834" opacity="0.46" filter="url(#b05)"/><circle cx="585.7" cy="155.7" r="0.7" fill="#4bb834" opacity="0.50" filter="url(#b05)"/><circle cx="582.4" cy="156.3" r="0.9" fill="#4bb834" opacity="0.61" filter="url(#b05)"/><circle cx="583.0" cy="156.6" r="0.9" fill="#4bb834" opacity="0.53" filter="url(#b05)"/><ellipse cx="607.0" cy="153.5" rx="7.5" ry="5.5" transform="rotate(0 607.0 153.5)" fill="#183818" opacity="1" filter="url(#b15)"/><circle cx="612.4" cy="150.3" r="0.9" fill="#2a6a20" opacity="0.75" filter="url(#b05)"/><circle cx="612.8" cy="150.1" r="0.9" fill="#2a6a20" opacity="0.54" filter="url(#b05)"/><circle cx="604.6" cy="148.8" r="0.9" fill="#2a6a20" opacity="0.65" filter="url(#b05)"/><circle cx="612.1" cy="150.1" r="0.7" fill="#2a6a20" opacity="0.56" filter="url(#b05)"/><circle cx="611.3" cy="157.3" r="0.6" fill="#2a6a20" opacity="0.66" filter="url(#b05)"/><ellipse cx="593.5" cy="158.0" rx="6.0" ry="2.5" transform="rotate(0 593.5 158.0)" fill="#152a18" opacity="1" filter="url(#b1)"/><circle cx="596.8" cy="159.8" r="0.8" fill="#2f7a22" opacity="0.69" filter="url(#b05)"/><circle cx="596.4" cy="156.6" r="0.9" fill="#2f7a22" opacity="0.66" filter="url(#b05)"/><circle cx="588.2" cy="157.1" r="0.9" fill="#2f7a22" opacity="0.62" filter="url(#b05)"/><ellipse cx="580.5" cy="142.0" rx="1.0" ry="6.0" transform="rotate(15 580.5 142.0)" fill="#101c10" opacity="1" filter="url(#b1)"/><ellipse cx="579.6" cy="152.8" rx="4.6" ry="4.1" transform="rotate(0 579.6 152.8)" fill="#1420a0" opacity="1" filter="url(#b05)"/><circle cx="577.5" cy="153.9" r="0.9" fill="#1c2cc8" opacity="0.9" filter="url(#b05)"/><circle cx="578.6" cy="151.7" r="0.9" fill="#1c2cc8" opacity="0.9" filter="url(#b05)"/><circle cx="578.3" cy="151.8" r="1.5" fill="#1c2cc8" opacity="0.9" filter="url(#b05)"/><ellipse cx="590.9" cy="164.6" rx="4.6" ry="4.1" transform="rotate(0 590.9 164.6)" fill="#1420a0" opacity="1" filter="url(#b05)"/><circle cx="589.7" cy="166.5" r="1.2" fill="#1c2cc8" opacity="0.9" filter="url(#b05)"/><circle cx="588.6" cy="164.8" r="0.9" fill="#1c2cc8" opacity="0.9" filter="url(#b05)"/><circle cx="590.6" cy="163.2" r="1.1" fill="#1c2cc8" opacity="0.9" filter="url(#b05)"/><ellipse cx="609.0" cy="154.6" rx="2.3" ry="3.3" transform="rotate(0 609.0 154.6)" fill="#1420a0" opacity="1" filter="url(#b05)"/><circle cx="609.3" cy="154.1" r="1.2" fill="#1c2cc8" opacity="0.9" filter="url(#b05)"/><circle cx="608.0" cy="154.4" r="1.0" fill="#1c2cc8" opacity="0.9" filter="url(#b05)"/><circle cx="608.5" cy="154.9" r="1.2" fill="#1c2cc8" opacity="0.9" filter="url(#b05)"/><ellipse cx="560.7" cy="187.2" rx="3.8" ry="3.8" transform="rotate(0 560.7 187.2)" fill="#1420a0" opacity="1" filter="url(#b05)"/><circle cx="561.0" cy="186.7" r="1.4" fill="#1c2cc8" opacity="0.9" filter="url(#b05)"/><circle cx="559.8" cy="187.8" r="1.1" fill="#1c2cc8" opacity="0.9" filter="url(#b05)"/><circle cx="558.7" cy="187.1" r="1.3" fill="#1c2cc8" opacity="0.9" filter="url(#b05)"/></g><rect x="685" y="26.4" width="104" height="173.6" fill="#fad9dd"/><rect x="789" y="26.4" width="103.2" height="173.6" fill="#cbf8ea"/><text transform="translate(654.0,25.3) scale(0.92,1)" font-size="17" text-anchor="start" fill="#111" stroke="#111" stroke-width=".28" >c</text><text x="741.8" y="23.3" font-size="12.6" text-anchor="middle" fill="#111" stroke="#111" stroke-width=".28" >B16-F10</text><text x="837.0" y="23.3" font-size="12.6" text-anchor="middle" fill="#111" stroke="#111" stroke-width=".28" >4T1</text><path d="M684.8 35 V200.3 H892" fill="none" stroke="#222" stroke-width="1.1"/><path d="M681.3 200.0 H684.8" stroke="#222" stroke-width="1.1"/><text x="680.2" y="203.8" font-size="10.6" text-anchor="end" fill="#111" stroke="#111" stroke-width=".28" >0</text><path d="M681.3 158.8 H684.8" stroke="#222" stroke-width="1.1"/><text x="680.2" y="162.6" font-size="10.6" text-anchor="end" fill="#111" stroke="#111" stroke-width=".28" >5</text><path d="M681.3 117.6 H684.8" stroke="#222" stroke-width="1.1"/><text x="680.2" y="121.4" font-size="10.6" text-anchor="end" fill="#111" stroke="#111" stroke-width=".28" >10</text><path d="M681.3 76.4 H684.8" stroke="#222" stroke-width="1.1"/><text x="680.2" y="80.2" font-size="10.6" text-anchor="end" fill="#111" stroke="#111" stroke-width=".28" >15</text><path d="M681.3 35.2 H684.8" stroke="#222" stroke-width="1.1"/><text x="680.2" y="39.0" font-size="10.6" text-anchor="end" fill="#111" stroke="#111" stroke-width=".28" >20</text><text transform="translate(661.0,113.8) rotate(-90) scale(1,1.07)" font-size="11.2" text-anchor="middle" fill="#111" stroke="#111" stroke-width=".28">Area fraction (%)</text><rect x="693.3" y="142.7" width="33.9" height="57.3" fill="none" stroke="#1a1a1a" stroke-width="1.3"/><path d="M710.2 142.7 V128.9 M701.8 128.9 H718.8" stroke="#1a1a1a" stroke-width="1.3" fill="none"/><path d="M710.2 200.3 v3.5" stroke="#222" stroke-width="1.1"/><rect x="745.0" y="82.2" width="33.4" height="117.8" fill="none" stroke="#e8323a" stroke-width="1.3"/><path d="M761.7 82.2 V64.1 M753.2 64.1 H770.2" stroke="#e8323a" stroke-width="1.3" fill="none"/><path d="M761.7 200.3 v3.5" stroke="#222" stroke-width="1.1"/><rect x="795.8" y="153.5" width="33.4" height="46.5" fill="none" stroke="#1a1a1a" stroke-width="1.3"/><path d="M812.5 153.5 V137.7 M804.0 137.7 H821.0" stroke="#1a1a1a" stroke-width="1.3" fill="none"/><path d="M812.5 200.3 v3.5" stroke="#222" stroke-width="1.1"/><rect x="847.3" y="113.0" width="33.2" height="87.0" fill="none" stroke="#e8323a" stroke-width="1.3"/><path d="M863.9 113.0 V99.9 M855.4 99.9 H872.4" stroke="#e8323a" stroke-width="1.3" fill="none"/><path d="M863.9 200.3 v3.5" stroke="#222" stroke-width="1.1"/><path d="M708.4 121.1 l3.3 3.3 l-3.3 3.3 l-3.3 -3.3 z" fill="#111"/><path d="M705.8 131.4 l3.3 3.3 l-3.3 3.3 l-3.3 -3.3 z" fill="#111"/><path d="M707.4 140.7 l3.3 3.3 l-3.3 3.3 l-3.3 -3.3 z" fill="#111"/><path d="M714.1 150.0 l3.3 3.3 l-3.3 3.3 l-3.3 -3.3 z" fill="#111"/><path d="M704.8 156.0 l3.3 3.3 l-3.3 3.3 l-3.3 -3.3 z" fill="#111"/><path d="M815.2 131.1 l3.3 3.3 l-3.3 3.3 l-3.3 -3.3 z" fill="#111"/><path d="M806.4 138.9 l3.3 3.3 l-3.3 3.3 l-3.3 -3.3 z" fill="#111"/><path d="M808.0 155.7 l3.3 3.3 l-3.3 3.3 l-3.3 -3.3 z" fill="#111"/><path d="M810.5 155.3 l3.3 3.3 l-3.3 3.3 l-3.3 -3.3 z" fill="#111"/><path d="M814.7 171.3 l3.3 3.3 l-3.3 3.3 l-3.3 -3.3 z" fill="#111"/><path d="M761.4 63.3 l3.3 3.3 l-3.3 3.3 l-3.3 -3.3 z" fill="#e8323a"/><path d="M757.6 72.6 l3.3 3.3 l-3.3 3.3 l-3.3 -3.3 z" fill="#e8323a"/><path d="M762.4 91.4 l3.3 3.3 l-3.3 3.3 l-3.3 -3.3 z" fill="#e8323a"/><path d="M763.6 105.5 l3.3 3.3 l-3.3 3.3 l-3.3 -3.3 z" fill="#e8323a"/><path d="M864.3 87.4 l3.3 3.3 l-3.3 3.3 l-3.3 -3.3 z" fill="#e8323a"/><path d="M864.9 114.3 l3.3 3.3 l-3.3 3.3 l-3.3 -3.3 z" fill="#e8323a"/><path d="M863.8 112.2 l3.3 3.3 l-3.3 3.3 l-3.3 -3.3 z" fill="#e8323a"/><path d="M862.1 122.0 l3.3 3.3 l-3.3 3.3 l-3.3 -3.3 z" fill="#e8323a"/><path d="M694.8 52.3 H773.2 M797 80.9 H876.2" stroke="#222" stroke-width="1.2"/><text x="738.4" y="49.0" font-size="9" text-anchor="middle" fill="#111" stroke="#111" stroke-width=".28" >P=0.0004 <tspan font-size="10.5" dy="0.8">***</tspan></text><text x="841.5" y="78.0" font-size="9" text-anchor="middle" fill="#111" stroke="#111" stroke-width=".28" >P=0.0022 <tspan font-size="10.5" dy="0.8">**</tspan></text><text transform="translate(717.8,205.8) rotate(-45)" font-size="9.6" text-anchor="end" fill="#111" stroke="#111" stroke-width=".28">L-FITC@Lip</text><text transform="translate(769.2,205.8) rotate(-45)" font-size="9.6" text-anchor="end" fill="#111" stroke="#111" stroke-width=".28">S-FITC@Lip</text><text transform="translate(820.0,205.8) rotate(-45)" font-size="9.6" text-anchor="end" fill="#111" stroke="#111" stroke-width=".28">L-FITC@Lip</text><text transform="translate(871.5,205.8) rotate(-45)" font-size="9.6" text-anchor="end" fill="#111" stroke="#111" stroke-width=".28">S-FITC@Lip</text>
<!-- p_d -->
<g><text transform="translate(26.0,257.6) scale(0.92,1)" font-size="17" text-anchor="start" fill="#111" stroke="#111" stroke-width=".28">d</text><defs><linearGradient id="boxtop" x1="0" y1="0" x2="0" y2="1"><stop offset="0" stop-color="#c4c4c4"/><stop offset="1" stop-color="#dedede"/></linearGradient><linearGradient id="boxfr" x1="0" y1="0" x2="1" y2="0"><stop offset="0" stop-color="#c9c9c9"/><stop offset="0.5" stop-color="#d6d6d6"/><stop offset="1" stop-color="#c2c2c2"/></linearGradient><radialGradient id="tum" cx="0.45" cy="0.4" r="0.6"><stop offset="0" stop-color="#a86aa8"/><stop offset="0.7" stop-color="#905494"/><stop offset="1" stop-color="#703e80"/></radialGradient></defs><path d="M64.5 304 L73 289 L100 283 L162 283 L194.5 292 L205.8 314 L197 323.5 L75 323.5 Z" fill="#dedede"/><path d="M64.5 304 L75 323.5 L75 348.5 L71 345 L64.5 330 Z" fill="#c2c2c2"/><path d="M205.8 314 L197 323.5 L197 348.5 L201 345 L205.8 334 Z" fill="#bcbcbc"/><path d="M75 323.5 H197 V348.5 H75 Z" fill="url(#boxfr)"/><path d="M75 324 H197" stroke="#ececec" stroke-width="1.2"/><ellipse cx="131" cy="305" rx="46" ry="8" fill="#8a8a8a" opacity="0.75" filter="url(#b2)"/><ellipse cx="96" cy="301" rx="22" ry="5" fill="#909090" opacity="0.7" filter="url(#b2)" transform="rotate(20 96 301)"/><ellipse cx="170" cy="303" rx="24" ry="5" fill="#909090" opacity="0.7" filter="url(#b2)" transform="rotate(-18 170 303)"/><ellipse cx="134" cy="316" rx="26" ry="4" fill="#b4b4b4" opacity="0.7" filter="url(#b2)"/><path d="M50.5 339.0 L61.0 333.5" stroke="#8c8c8c" stroke-width="8.5" stroke-linecap="butt"/><path d="M50.5 338.4 L61.0 332.9" stroke="#bdbdbd" stroke-width="5.3" stroke-linecap="butt"/><circle cx="65.6" cy="334.2" r="6.2" fill="#e4e4e4"/><circle cx="65.6" cy="334.2" r="3.4" fill="#cfcfcf"/><path d="M215.0 339.0 L204.5 333.5" stroke="#8c8c8c" stroke-width="8.5" stroke-linecap="butt"/><path d="M215.0 338.4 L204.5 332.9" stroke="#bdbdbd" stroke-width="5.3" stroke-linecap="butt"/><circle cx="201" cy="334.2" r="6.2" fill="#e4e4e4"/><circle cx="201" cy="334.2" r="3.4" fill="#cfcfcf"/><path d="M102 244 L105 264 M107 246 L109 258 M158 244 L155 264" stroke="#d2d2d2" stroke-width="1.6"/><path d="M105 258 L112 282 M155 258 L150 282" stroke="#c8c8c8" stroke-width="2.4"/><path d="M63 257 L69 252 L115 277 L111 284 Z" fill="#f2f2f2"/><path d="M62 256 L110 285 L108 287 L61 259 Z" fill="#c4c4c4"/><path d="M199 260 L193 255 L151 280 L155 286 Z" fill="#f2f2f2"/><path d="M200 259 L156 287 L158 289 L201 262 Z" fill="#c4c4c4"/><path d="M190.0 262.0 L178.0 270.0" stroke="#bdbdbd" stroke-width="4.0" stroke-linecap="butt"/><path d="M190.0 261.4 L178.0 269.4" stroke="#e8e8e8" stroke-width="2.5" stroke-linecap="butt"/><path d="M72 271 L81 266 L107 291 L101 305 L91 304 Z" fill="#f4f4f4"/><path d="M72 271 L91 304 L87 304 L70 275 Z" fill="#c6c6c6"/><path d="M194 272 L185 267 L158 291 L164 305 L176 304 Z" fill="#f4f4f4"/><path d="M194 272 L176 304 L180 304 L196 276 Z" fill="#c6c6c6"/><path d="M54.0 275.8 L73.0 281.5" stroke="#c4c4c4" stroke-width="8.6" stroke-linecap="butt"/><path d="M54.0 275.2 L73.0 280.9" stroke="#fafafa" stroke-width="5.3" stroke-linecap="butt"/><path d="M211.5 276.8 L193.0 284.5" stroke="#c4c4c4" stroke-width="8.6" stroke-linecap="butt"/><path d="M211.5 276.2 L193.0 283.9" stroke="#fafafa" stroke-width="5.3" stroke-linecap="butt"/><ellipse cx="53.4" cy="275.8" rx="1.7" ry="3.8" transform="rotate(18 53.4 275.8)" fill="#ee1c24"/><ellipse cx="212" cy="276.8" rx="1.7" ry="3.8" transform="rotate(-22 212 276.8)" fill="#ee1c24"/><ellipse cx="97.5" cy="296.8" rx="7" ry="7.6" fill="#f6f6f6" transform="rotate(-30 97.5 296.8)"/><ellipse cx="173.800" cy="297" rx="7" ry="7.6" fill="#f6f6f6" transform="rotate(30 173.800 297)"/><circle cx="97.5" cy="296.6" r="4.4" fill="#ee1c24"/><circle cx="173.8" cy="297" r="4.4" fill="#ee1c24"/><path d="M104 288 L112.6 281.5 L116.3 282.4 L116.3 295.6 L110.7 294.7 Z" fill="#ee5656"/><path d="M147.4 284.3 L151.2 283.3 L159.7 290 L155 295.6 L147.8 296.5 Z" fill="#ee5656"/><path d="M106 298 Q132 316 158 298 L160 305 Q132 324 104 305 Z" fill="#f4f4f4"/><path d="M108 306 Q132 320 156 306" fill="none" stroke="#bdbdbd" stroke-width="1"/><ellipse cx="131" cy="299" rx="12.5" ry="11" fill="#e4d8d6"/><ellipse cx="131" cy="303" rx="9" ry="6" fill="#f0e8e6" filter="url(#b1)"/><circle cx="115.4" cy="270.2" r="7.2" fill="#bda6a6"/><circle cx="115.8" cy="270.8" r="5" fill="#d8c2c0"/><circle cx="148.2" cy="268.5" r="7.2" fill="#bda6a6"/><circle cx="147.8" cy="269.2" r="5" fill="#d8c2c0"/><ellipse cx="131" cy="281.5" rx="13.6" ry="12.5" fill="#d6c8c6"/><ellipse cx="131" cy="276" rx="9" ry="5" fill="#c4b2b0" opacity="0.8" filter="url(#b1)"/><ellipse cx="131" cy="289" rx="8.5" ry="5.5" fill="#e6d6d4" filter="url(#b1)"/><circle cx="124.8" cy="278.6" r="1.4" fill="#222"/><circle cx="137.2" cy="278.6" r="1.4" fill="#222"/><ellipse cx="130.8" cy="286" rx="2.2" ry="1.6" fill="#d88a94"/><path d="M112 304 Q132 319 152 304 L151 308 Q132 322 113 308 Z" fill="#f8f8f8"/><path d="M124 309 l0 5 M138 309 l0 5" stroke="#c8a8a8" stroke-width="1.6"/><text x="173.5" y="257.6" font-size="12.8" text-anchor="start" fill="#111" stroke="#111" stroke-width=".28">Laser</text><text x="154.5" y="282.5" font-size="12.8" text-anchor="start" fill="#111" stroke="#111" stroke-width=".28">Mouse</text><text x="43.0" y="323.2" font-size="12.8" text-anchor="start" fill="#111" stroke="#111" stroke-width=".28">Transducer</text><path d="M50 397 L56 394 L60 391 L84 391 L86 398 L78 402 L78 412 L72 420 L60 420 L56 408 L52 402 Z" fill="#d2d2d2"/><path d="M60 391 L84 391 L86 398 L62 398 Z" fill="#ebebeb"/><path d="M48 396 L54 394 L55 399 L49 401 Z" fill="#9a9a9a"/><path d="M84.6 419.7 A7 7 0 0 0 86.6 434.3" fill="none" stroke="#9a9a9a" stroke-width="0.8"/><path d="M173.4 410.7 A7 7 0 0 1 171.4 425.3" fill="none" stroke="#9a9a9a" stroke-width="0.8"/><path d="M84.0 417.0 A10 10 0 0 0 86.0 437.0" fill="none" stroke="#9a9a9a" stroke-width="0.8"/><path d="M174.0 408.0 A10 10 0 0 1 172.0 428.0" fill="none" stroke="#9a9a9a" stroke-width="0.8"/><path d="M83.4 414.3 A13 13 0 0 0 85.4 439.7" fill="none" stroke="#9a9a9a" stroke-width="0.8"/><path d="M174.6 405.3 A13 13 0 0 1 172.6 430.7" fill="none" stroke="#9a9a9a" stroke-width="0.8"/><path d="M86 388 A12 12 0 0 1 96 381" fill="none" stroke="#888" stroke-width="0.8"/><circle cx="128.4" cy="416" r="43.4" fill="url(#tum)"/><clipPath id="tumc"><circle cx="128.4" cy="416" r="43.4"/></clipPath><g clip-path="url(#tumc)"><circle cx="130.8" cy="447.6" r="2.0" fill="#7a4a90" opacity=".85"/><circle cx="96.1" cy="421.3" r="2.0" fill="#5b2f76" opacity=".85"/><circle cx="97.1" cy="422.1" r="2.1" fill="#c84a66" opacity=".85"/><circle cx="89.8" cy="423.3" r="1.4" fill="#d03c54" opacity=".85"/><circle cx="141.7" cy="400.1" r="2.0" fill="#4d2268" opacity=".85"/><circle cx="91.8" cy="410.6" r="1.2" fill="#6d3a84" opacity=".85"/><circle cx="137.0" cy="413.7" r="1.9" fill="#5b2f76" opacity=".85"/><circle cx="124.4" cy="448.9" r="1.8" fill="#b088bc" opacity=".85"/><circle cx="152.2" cy="403.1" r="2.1" fill="#d03c54" opacity=".85"/><circle cx="145.7" cy="435.4" r="1.1" fill="#5b2f76" opacity=".85"/><circle cx="137.1" cy="457.3" r="1.9" fill="#b088bc" opacity=".85"/><circle cx="145.5" cy="394.0" r="1.6" fill="#b088bc" opacity=".85"/><circle cx="101.6" cy="410.2" r="2.0" fill="#c84a66" opacity=".85"/><circle cx="111.2" cy="378.3" r="2.1" fill="#dc3a4e" opacity=".85"/><circle cx="120.2" cy="400.7" r="2.1" fill="#7a4a90" opacity=".85"/><circle cx="155.2" cy="397.7" r="1.7" fill="#c84a66" opacity=".85"/><circle cx="150.6" cy="414.3" r="1.1" fill="#6d3a84" opacity=".85"/><circle cx="154.4" cy="382.0" r="1.4" fill="#6d3a84" opacity=".85"/><circle cx="165.6" cy="432.6" r="1.3" fill="#5b2f76" opacity=".85"/><circle cx="133.1" cy="376.1" r="1.7" fill="#5b2f76" opacity=".85"/><circle cx="130.3" cy="389.6" r="1.6" fill="#7a4a90" opacity=".85"/><circle cx="148.4" cy="405.3" r="2.1" fill="#c84a66" opacity=".85"/><circle cx="124.0" cy="427.1" r="1.0" fill="#e04458" opacity=".85"/><circle cx="137.3" cy="442.0" r="1.2" fill="#dc3a4e" opacity=".85"/><circle cx="167.0" cy="426.6" r="1.4" fill="#7a4a90" opacity=".85"/><circle cx="154.2" cy="446.5" r="1.5" fill="#b088bc" opacity=".85"/><circle cx="94.2" cy="411.7" r="1.1" fill="#e04458" opacity=".85"/><circle cx="166.6" cy="409.4" r="1.5" fill="#dc3a4e" opacity=".85"/><circle cx="124.5" cy="395.4" r="1.5" fill="#dc3a4e" opacity=".85"/><circle cx="127.2" cy="439.6" r="1.0" fill="#7a4a90" opacity=".85"/><circle cx="100.2" cy="432.6" r="1.4" fill="#5b2f76" opacity=".85"/><circle cx="115.1" cy="407.7" r="1.5" fill="#7a4a90" opacity=".85"/><circle cx="117.4" cy="392.9" r="1.8" fill="#dc3a4e" opacity=".85"/><circle cx="138.9" cy="417.5" r="2.1" fill="#5b2f76" opacity=".85"/><circle cx="128.2" cy="445.0" r="1.2" fill="#7a4a90" opacity=".85"/><circle cx="143.2" cy="450.4" r="1.3" fill="#dc3a4e" opacity=".85"/><circle cx="101.3" cy="442.4" r="2.1" fill="#5b2f76" opacity=".85"/><circle cx="122.1" cy="401.7" r="1.2" fill="#e04458" opacity=".85"/><circle cx="135.4" cy="396.2" r="1.7" fill="#4d2268" opacity=".85"/><circle cx="120.5" cy="405.2" r="2.0" fill="#7a4a90" opacity=".85"/><circle cx="119.1" cy="397.9" r="1.1" fill="#4d2268" opacity=".85"/><circle cx="127.4" cy="395.9" r="1.3" fill="#d03c54" opacity=".85"/><circle cx="130.2" cy="408.3" r="1.3" fill="#c84a66" opacity=".85"/><circle cx="145.2" cy="388.1" r="1.4" fill="#dc3a4e" opacity=".85"/><circle cx="134.3" cy="404.9" r="1.6" fill="#7a4a90" opacity=".85"/><circle cx="101.2" cy="430.7" r="1.5" fill="#dc3a4e" opacity=".85"/><circle cx="113.0" cy="398.7" r="1.0" fill="#b088bc" opacity=".85"/><circle cx="112.0" cy="426.0" r="2.0" fill="#d03c54" opacity=".85"/><circle cx="159.5" cy="386.8" r="1.6" fill="#b088bc" opacity=".85"/><circle cx="164.7" cy="412.7" r="1.8" fill="#5b2f76" opacity=".85"/><circle cx="146.5" cy="386.1" r="2.1" fill="#e04458" opacity=".85"/><circle cx="89.4" cy="405.0" r="1.9" fill="#6d3a84" opacity=".85"/><circle cx="143.0" cy="413.3" r="1.0" fill="#c84a66" opacity=".85"/><circle cx="157.8" cy="395.6" r="2.0" fill="#c84a66" opacity=".85"/><circle cx="154.8" cy="396.7" r="1.5" fill="#5b2f76" opacity=".85"/><circle cx="150.5" cy="437.0" r="1.7" fill="#c84a66" opacity=".85"/><circle cx="101.1" cy="411.7" r="1.4" fill="#6d3a84" opacity=".85"/><circle cx="127.8" cy="455.9" r="1.9" fill="#d03c54" opacity=".85"/><circle cx="147.1" cy="423.6" r="1.6" fill="#6d3a84" opacity=".85"/><circle cx="135.7" cy="399.7" r="2.0" fill="#dc3a4e" opacity=".85"/><circle cx="141.9" cy="379.4" r="1.5" fill="#5b2f76" opacity=".85"/><circle cx="103.8" cy="404.3" r="1.3" fill="#dc3a4e" opacity=".85"/><circle cx="105.6" cy="395.1" r="1.5" fill="#5b2f76" opacity=".85"/><circle cx="128.7" cy="414.2" r="1.9" fill="#5b2f76" opacity=".85"/><circle cx="137.6" cy="418.7" r="2.1" fill="#d03c54" opacity=".85"/><circle cx="136.1" cy="406.0" r="1.5" fill="#e04458" opacity=".85"/><circle cx="134.8" cy="425.6" r="1.7" fill="#b088bc" opacity=".85"/><circle cx="106.3" cy="402.6" r="2.1" fill="#c84a66" opacity=".85"/><circle cx="114.6" cy="422.7" r="1.8" fill="#5b2f76" opacity=".85"/><circle cx="119.5" cy="424.3" r="1.0" fill="#4d2268" opacity=".85"/><circle cx="94.8" cy="424.5" r="1.4" fill="#e04458" opacity=".85"/><circle cx="139.1" cy="383.8" r="1.1" fill="#b088bc" opacity=".85"/><circle cx="102.3" cy="389.1" r="1.5" fill="#7a4a90" opacity=".85"/><circle cx="118.4" cy="388.6" r="1.2" fill="#c84a66" opacity=".85"/><circle cx="124.2" cy="448.8" r="1.2" fill="#b088bc" opacity=".85"/><circle cx="133.3" cy="421.3" r="1.4" fill="#7a4a90" opacity=".85"/><circle cx="159.0" cy="393.1" r="1.1" fill="#dc3a4e" opacity=".85"/><circle cx="113.2" cy="377.2" r="1.9" fill="#e04458" opacity=".85"/><circle cx="110.2" cy="384.0" r="1.1" fill="#e04458" opacity=".85"/><circle cx="125.8" cy="414.4" r="1.3" fill="#4d2268" opacity=".85"/><circle cx="104.5" cy="436.1" r="1.7" fill="#6d3a84" opacity=".85"/><circle cx="100.7" cy="443.4" r="1.9" fill="#7a4a90" opacity=".85"/><circle cx="157.0" cy="443.3" r="1.9" fill="#d03c54" opacity=".85"/><circle cx="159.7" cy="406.4" r="1.0" fill="#6d3a84" opacity=".85"/><circle cx="131.8" cy="385.4" r="1.1" fill="#c84a66" opacity=".85"/><circle cx="128.1" cy="374.4" r="1.6" fill="#5b2f76" opacity=".85"/><circle cx="140.9" cy="402.6" r="1.3" fill="#6d3a84" opacity=".85"/><circle cx="137.6" cy="435.4" r="1.3" fill="#b088bc" opacity=".85"/><circle cx="94.6" cy="391.6" r="1.5" fill="#e04458" opacity=".85"/><circle cx="154.7" cy="431.2" r="1.9" fill="#b088bc" opacity=".85"/><circle cx="155.5" cy="410.3" r="1.8" fill="#e04458" opacity=".85"/><circle cx="143.5" cy="438.6" r="1.2" fill="#4d2268" opacity=".85"/><circle cx="98.5" cy="416.4" r="2.0" fill="#e04458" opacity=".85"/><circle cx="94.3" cy="395.4" r="1.3" fill="#4d2268" opacity=".85"/><circle cx="138.7" cy="447.2" r="2.0" fill="#7a4a90" opacity=".85"/><circle cx="147.2" cy="390.7" r="1.7" fill="#dc3a4e" opacity=".85"/><circle cx="148.8" cy="389.8" r="2.0" fill="#dc3a4e" opacity=".85"/><circle cx="120.6" cy="436.8" r="1.2" fill="#b088bc" opacity=".85"/><circle cx="109.4" cy="407.1" r="1.9" fill="#d03c54" opacity=".85"/><circle cx="154.9" cy="449.6" r="1.8" fill="#d03c54" opacity=".85"/><circle cx="137.4" cy="447.5" r="1.0" fill="#e04458" opacity=".85"/><circle cx="140.0" cy="415.5" r="1.9" fill="#b088bc" opacity=".85"/><circle cx="135.2" cy="409.8" r="2.0" fill="#c84a66" opacity=".85"/><circle cx="105.8" cy="385.6" r="2.1" fill="#6d3a84" opacity=".85"/><circle cx="141.2" cy="399.2" r="1.9" fill="#c84a66" opacity=".85"/><circle cx="150.4" cy="441.8" r="2.0" fill="#5b2f76" opacity=".85"/><circle cx="127.1" cy="456.0" r="1.2" fill="#7a4a90" opacity=".85"/><circle cx="160.7" cy="436.8" r="1.1" fill="#6d3a84" opacity=".85"/><circle cx="140.1" cy="395.9" r="1.5" fill="#7a4a90" opacity=".85"/><circle cx="125.9" cy="391.2" r="1.4" fill="#5b2f76" opacity=".85"/><circle cx="100.8" cy="427.7" r="1.7" fill="#c84a66" opacity=".85"/><circle cx="127.0" cy="385.9" r="1.6" fill="#4d2268" opacity=".85"/><circle cx="144.9" cy="431.3" r="1.1" fill="#b088bc" opacity=".85"/><circle cx="159.5" cy="389.3" r="1.6" fill="#6d3a84" opacity=".85"/><circle cx="117.6" cy="382.3" r="1.8" fill="#7a4a90" opacity=".85"/><circle cx="118.4" cy="449.9" r="1.1" fill="#dc3a4e" opacity=".85"/><circle cx="151.9" cy="407.4" r="1.6" fill="#e04458" opacity=".85"/><circle cx="113.1" cy="389.4" r="1.8" fill="#5b2f76" opacity=".85"/><circle cx="114.4" cy="386.8" r="1.7" fill="#4d2268" opacity=".85"/><circle cx="126.3" cy="399.5" r="2.0" fill="#7a4a90" opacity=".85"/><circle cx="119.9" cy="403.5" r="1.2" fill="#e04458" opacity=".85"/><circle cx="110.5" cy="447.8" r="1.6" fill="#b088bc" opacity=".85"/><circle cx="110.9" cy="392.7" r="1.9" fill="#dc3a4e" opacity=".85"/><circle cx="124.5" cy="402.5" r="1.8" fill="#4d2268" opacity=".85"/><circle cx="92.8" cy="406.1" r="1.1" fill="#7a4a90" opacity=".85"/><circle cx="127.1" cy="425.9" r="1.0" fill="#4d2268" opacity=".85"/><circle cx="107.0" cy="415.4" r="1.4" fill="#e04458" opacity=".85"/><circle cx="114.8" cy="439.7" r="1.9" fill="#e04458" opacity=".85"/><circle cx="155.9" cy="428.8" r="1.2" fill="#6d3a84" opacity=".85"/><circle cx="98.4" cy="397.0" r="1.2" fill="#6d3a84" opacity=".85"/><circle cx="138.8" cy="441.8" r="1.9" fill="#b088bc" opacity=".85"/><circle cx="128.1" cy="382.9" r="1.9" fill="#4d2268" opacity=".85"/><circle cx="137.9" cy="385.7" r="1.6" fill="#4d2268" opacity=".85"/><circle cx="134.8" cy="436.5" r="1.0" fill="#dc3a4e" opacity=".85"/><circle cx="141.7" cy="377.6" r="1.3" fill="#b088bc" opacity=".85"/><circle cx="148.3" cy="402.7" r="2.1" fill="#d03c54" opacity=".85"/><circle cx="119.3" cy="394.3" r="1.0" fill="#d03c54" opacity=".85"/><circle cx="140.9" cy="447.9" r="1.8" fill="#6d3a84" opacity=".85"/><circle cx="112.6" cy="390.3" r="1.7" fill="#e04458" opacity=".85"/><circle cx="140.4" cy="452.1" r="1.0" fill="#c84a66" opacity=".85"/><circle cx="93.8" cy="415.9" r="1.1" fill="#d03c54" opacity=".85"/><circle cx="121.2" cy="450.1" r="1.1" fill="#4d2268" opacity=".85"/><circle cx="137.3" cy="383.2" r="1.0" fill="#5b2f76" opacity=".85"/><circle cx="105.9" cy="395.3" r="1.6" fill="#d03c54" opacity=".85"/><circle cx="150.5" cy="405.6" r="1.8" fill="#7a4a90" opacity=".85"/><circle cx="154.9" cy="445.8" r="1.8" fill="#5b2f76" opacity=".85"/><circle cx="126.8" cy="390.8" r="2.0" fill="#c84a66" opacity=".85"/><circle cx="146.7" cy="394.3" r="1.5" fill="#c84a66" opacity=".85"/><circle cx="135.3" cy="421.6" r="1.9" fill="#6d3a84" opacity=".85"/><circle cx="121.0" cy="390.1" r="1.8" fill="#d03c54" opacity=".85"/><circle cx="101.2" cy="409.5" r="1.3" fill="#d03c54" opacity=".85"/><circle cx="91.9" cy="424.3" r="1.5" fill="#b088bc" opacity=".85"/><circle cx="120.4" cy="418.3" r="1.4" fill="#dc3a4e" opacity=".85"/><circle cx="106.8" cy="438.7" r="1.2" fill="#b088bc" opacity=".85"/><circle cx="148.1" cy="416.3" r="1.2" fill="#7a4a90" opacity=".85"/><circle cx="110.0" cy="420.7" r="1.0" fill="#c84a66" opacity=".85"/><circle cx="102.1" cy="400.5" r="1.2" fill="#5b2f76" opacity=".85"/><circle cx="106.2" cy="397.9" r="1.1" fill="#4d2268" opacity=".85"/><circle cx="156.9" cy="420.0" r="1.0" fill="#b088bc" opacity=".85"/><circle cx="123.7" cy="395.5" r="1.4" fill="#5b2f76" opacity=".85"/><circle cx="170.1" cy="423.0" r="1.3" fill="#c84a66" opacity=".85"/><circle cx="114.0" cy="428.1" r="1.7" fill="#7a4a90" opacity=".85"/><circle cx="119.8" cy="428.4" r="1.9" fill="#5b2f76" opacity=".85"/><circle cx="117.6" cy="457.2" r="1.9" fill="#d03c54" opacity=".85"/><circle cx="157.6" cy="408.8" r="1.3" fill="#e04458" opacity=".85"/><circle cx="141.9" cy="384.7" r="1.3" fill="#7a4a90" opacity=".85"/><circle cx="155.0" cy="425.9" r="1.7" fill="#6d3a84" opacity=".85"/><circle cx="135.9" cy="416.2" r="1.0" fill="#6d3a84" opacity=".85"/><circle cx="98.6" cy="415.4" r="1.7" fill="#c84a66" opacity=".85"/><circle cx="144.0" cy="404.7" r="1.4" fill="#d03c54" opacity=".85"/><circle cx="103.1" cy="419.4" r="1.4" fill="#5b2f76" opacity=".85"/><circle cx="128.7" cy="381.8" r="1.1" fill="#b088bc" opacity=".85"/><circle cx="117.7" cy="454.2" r="1.6" fill="#6d3a84" opacity=".85"/><circle cx="98.3" cy="406.8" r="1.2" fill="#b088bc" opacity=".85"/><circle cx="126.0" cy="379.2" r="1.4" fill="#e04458" opacity=".85"/><circle cx="143.9" cy="451.2" r="1.3" fill="#d03c54" opacity=".85"/><circle cx="133.9" cy="386.7" r="1.9" fill="#dc3a4e" opacity=".85"/><circle cx="91.1" cy="414.3" r="2.0" fill="#b088bc" opacity=".85"/><circle cx="145.6" cy="420.7" r="1.9" fill="#5b2f76" opacity=".85"/><circle cx="158.4" cy="435.5" r="1.4" fill="#6d3a84" opacity=".85"/><circle cx="97.4" cy="393.2" r="2.0" fill="#5b2f76" opacity=".85"/><circle cx="148.4" cy="395.3" r="2.1" fill="#7a4a90" opacity=".85"/><circle cx="147.4" cy="416.2" r="1.4" fill="#6d3a84" opacity=".85"/><circle cx="117.6" cy="442.7" r="1.3" fill="#c84a66" opacity=".85"/><circle cx="144.4" cy="421.1" r="1.6" fill="#4d2268" opacity=".85"/><circle cx="149.0" cy="417.5" r="1.2" fill="#c84a66" opacity=".85"/><circle cx="102.7" cy="405.3" r="1.9" fill="#7a4a90" opacity=".85"/><circle cx="110.2" cy="411.9" r="1.7" fill="#4d2268" opacity=".85"/><circle cx="165.7" cy="425.9" r="1.9" fill="#5b2f76" opacity=".85"/><circle cx="162.0" cy="440.8" r="1.1" fill="#dc3a4e" opacity=".85"/><circle cx="108.6" cy="420.4" r="1.7" fill="#6d3a84" opacity=".85"/><circle cx="131.3" cy="376.0" r="1.4" fill="#7a4a90" opacity=".85"/><circle cx="108.3" cy="383.8" r="1.9" fill="#dc3a4e" opacity=".85"/><circle cx="96.2" cy="394.3" r="1.1" fill="#c84a66" opacity=".85"/><circle cx="151.9" cy="417.1" r="1.4" fill="#6d3a84" opacity=".85"/><circle cx="141.7" cy="450.9" r="1.8" fill="#e04458" opacity=".85"/><circle cx="103.3" cy="444.6" r="1.7" fill="#6d3a84" opacity=".85"/><circle cx="134.1" cy="440.8" r="1.4" fill="#5b2f76" opacity=".85"/><circle cx="117.1" cy="421.3" r="1.4" fill="#c84a66" opacity=".85"/><circle cx="128.3" cy="396.4" r="2.0" fill="#c84a66" opacity=".85"/><circle cx="161.9" cy="413.2" r="1.9" fill="#e04458" opacity=".85"/><circle cx="115.7" cy="429.9" r="1.5" fill="#b088bc" opacity=".85"/><circle cx="132.4" cy="388.9" r="1.3" fill="#5b2f76" opacity=".85"/><circle cx="145.3" cy="408.6" r="1.0" fill="#6d3a84" opacity=".85"/><circle cx="146.2" cy="440.8" r="1.7" fill="#5b2f76" opacity=".85"/><circle cx="164.3" cy="425.4" r="1.5" fill="#dc3a4e" opacity=".85"/><circle cx="157.0" cy="422.9" r="1.8" fill="#c84a66" opacity=".85"/><circle cx="125.2" cy="429.4" r="2.0" fill="#dc3a4e" opacity=".85"/><circle cx="110.1" cy="422.7" r="1.8" fill="#d03c54" opacity=".85"/><circle cx="115.4" cy="375.6" r="2.0" fill="#7a4a90" opacity=".85"/><circle cx="90.5" cy="433.4" r="1.6" fill="#d03c54" opacity=".85"/><circle cx="103.5" cy="409.3" r="1.3" fill="#dc3a4e" opacity=".85"/><circle cx="89.0" cy="425.3" r="1.8" fill="#dc3a4e" opacity=".85"/><circle cx="156.5" cy="402.8" r="1.1" fill="#5b2f76" opacity=".85"/><circle cx="97.5" cy="409.9" r="2.0" fill="#4d2268" opacity=".85"/><circle cx="171.0" cy="416.5" r="1.4" fill="#d03c54" opacity=".85"/><circle cx="153.7" cy="410.5" r="1.0" fill="#e04458" opacity=".85"/><circle cx="130.4" cy="420.5" r="2.0" fill="#b088bc" opacity=".85"/><circle cx="145.5" cy="387.3" r="1.5" fill="#6d3a84" opacity=".85"/><circle cx="125.8" cy="451.2" r="1.5" fill="#d03c54" opacity=".85"/><circle cx="127.8" cy="425.0" r="1.0" fill="#b088bc" opacity=".85"/><circle cx="145.9" cy="415.6" r="2.0" fill="#c84a66" opacity=".85"/><circle cx="126.8" cy="376.6" r="1.6" fill="#b088bc" opacity=".85"/><circle cx="144.0" cy="388.1" r="1.0" fill="#dc3a4e" opacity=".85"/><circle cx="157.2" cy="424.4" r="2.0" fill="#5b2f76" opacity=".85"/><circle cx="152.8" cy="399.7" r="1.5" fill="#e04458" opacity=".85"/><circle cx="110.7" cy="413.9" r="1.1" fill="#4d2268" opacity=".85"/><circle cx="153.5" cy="446.2" r="1.4" fill="#6d3a84" opacity=".85"/><circle cx="111.1" cy="439.3" r="1.5" fill="#dc3a4e" opacity=".85"/><circle cx="144.8" cy="411.7" r="1.2" fill="#7a4a90" opacity=".85"/><circle cx="157.5" cy="423.0" r="1.9" fill="#c84a66" opacity=".85"/><circle cx="159.0" cy="401.9" r="1.3" fill="#5b2f76" opacity=".85"/><circle cx="116.4" cy="407.6" r="1.3" fill="#4d2268" opacity=".85"/><circle cx="118.0" cy="376.3" r="1.5" fill="#6d3a84" opacity=".85"/><circle cx="135.4" cy="419.6" r="2.0" fill="#d03c54" opacity=".85"/><circle cx="161.8" cy="407.5" r="1.3" fill="#c84a66" opacity=".85"/><circle cx="108.7" cy="444.7" r="1.3" fill="#b088bc" opacity=".85"/><circle cx="122.9" cy="457.5" r="1.3" fill="#7a4a90" opacity=".85"/><circle cx="110.6" cy="430.3" r="1.5" fill="#4d2268" opacity=".85"/><circle cx="93.5" cy="437.1" r="1.3" fill="#d03c54" opacity=".85"/><circle cx="132.1" cy="427.5" r="1.1" fill="#e04458" opacity=".85"/><circle cx="118.2" cy="404.8" r="2.0" fill="#5b2f76" opacity=".85"/><circle cx="163.7" cy="410.3" r="1.3" fill="#b088bc" opacity=".85"/><circle cx="106.3" cy="418.4" r="1.6" fill="#e04458" opacity=".85"/><circle cx="142.1" cy="442.7" r="1.2" fill="#4d2268" opacity=".85"/><circle cx="143.4" cy="405.9" r="1.7" fill="#d03c54" opacity=".85"/><circle cx="118.6" cy="403.1" r="1.2" fill="#5b2f76" opacity=".85"/><circle cx="111.6" cy="398.9" r="2.0" fill="#4d2268" opacity=".85"/><circle cx="168.6" cy="428.7" r="1.2" fill="#e04458" opacity=".85"/><circle cx="133.5" cy="388.2" r="2.1" fill="#4d2268" opacity=".85"/><circle cx="125.4" cy="431.3" r="1.3" fill="#4d2268" opacity=".85"/><circle cx="97.4" cy="443.8" r="2.0" fill="#6d3a84" opacity=".85"/><circle cx="154.6" cy="417.2" r="2.1" fill="#4d2268" opacity=".85"/><circle cx="129.1" cy="441.6" r="1.1" fill="#d03c54" opacity=".85"/><circle cx="145.3" cy="391.7" r="1.6" fill="#7a4a90" opacity=".85"/><circle cx="145.8" cy="393.3" r="1.5" fill="#b088bc" opacity=".85"/><circle cx="100.6" cy="409.2" r="1.5" fill="#e04458" opacity=".85"/><circle cx="100.5" cy="440.9" r="2.0" fill="#dc3a4e" opacity=".85"/><circle cx="139.0" cy="401.2" r="1.3" fill="#4d2268" opacity=".85"/><circle cx="136.7" cy="402.9" r="1.5" fill="#5b2f76" opacity=".85"/><circle cx="138.5" cy="405.6" r="1.2" fill="#5b2f76" opacity=".85"/><circle cx="148.0" cy="435.0" r="1.6" fill="#7a4a90" opacity=".85"/><circle cx="129.7" cy="403.0" r="1.6" fill="#e04458" opacity=".85"/><circle cx="113.2" cy="445.4" r="1.4" fill="#c84a66" opacity=".85"/><circle cx="102.1" cy="414.9" r="1.7" fill="#7a4a90" opacity=".85"/><circle cx="117.3" cy="379.9" r="1.9" fill="#7a4a90" opacity=".85"/><circle cx="140.2" cy="396.2" r="1.3" fill="#dc3a4e" opacity=".85"/><circle cx="150.2" cy="437.3" r="1.8" fill="#7a4a90" opacity=".85"/><circle cx="128.6" cy="444.3" r="1.5" fill="#dc3a4e" opacity=".85"/><circle cx="97.4" cy="420.3" r="2.1" fill="#4d2268" opacity=".85"/><circle cx="100.3" cy="410.9" r="1.1" fill="#5b2f76" opacity=".85"/><circle cx="93.1" cy="433.9" r="1.1" fill="#dc3a4e" opacity=".85"/><circle cx="144.7" cy="394.9" r="1.4" fill="#6d3a84" opacity=".85"/><circle cx="135.4" cy="447.1" r="1.5" fill="#6d3a84" opacity=".85"/><circle cx="152.8" cy="389.2" r="1.0" fill="#7a4a90" opacity=".85"/><circle cx="110.2" cy="434.9" r="1.4" fill="#d03c54" opacity=".85"/><circle cx="105.1" cy="383.2" r="1.2" fill="#d03c54" opacity=".85"/><circle cx="133.3" cy="441.7" r="1.2" fill="#5b2f76" opacity=".85"/><circle cx="149.6" cy="427.9" r="1.2" fill="#dc3a4e" opacity=".85"/><circle cx="164.6" cy="422.5" r="1.6" fill="#7a4a90" opacity=".85"/><circle cx="125.3" cy="377.0" r="1.5" fill="#c84a66" opacity=".85"/><circle cx="122.2" cy="402.4" r="1.2" fill="#b088bc" opacity=".85"/><circle cx="143.7" cy="434.2" r="1.2" fill="#e04458" opacity=".85"/><circle cx="143.2" cy="386.2" r="1.5" fill="#6d3a84" opacity=".85"/><circle cx="136.0" cy="390.5" r="1.9" fill="#d03c54" opacity=".85"/><circle cx="137.5" cy="436.6" r="1.2" fill="#b088bc" opacity=".85"/><circle cx="106.8" cy="391.2" r="1.5" fill="#dc3a4e" opacity=".85"/><circle cx="163.3" cy="440.4" r="1.1" fill="#6d3a84" opacity=".85"/><circle cx="155.0" cy="390.1" r="1.1" fill="#7a4a90" opacity=".85"/><circle cx="158.1" cy="417.8" r="1.7" fill="#b088bc" opacity=".85"/><circle cx="157.4" cy="435.5" r="2.0" fill="#b088bc" opacity=".85"/><circle cx="132.1" cy="440.1" r="2.1" fill="#b088bc" opacity=".85"/><circle cx="157.7" cy="425.9" r="1.6" fill="#e04458" opacity=".85"/><circle cx="117.2" cy="410.4" r="1.9" fill="#c84a66" opacity=".85"/><circle cx="146.9" cy="379.2" r="1.3" fill="#b088bc" opacity=".85"/><circle cx="163.2" cy="412.1" r="1.2" fill="#e04458" opacity=".85"/><circle cx="105.8" cy="404.8" r="1.6" fill="#4d2268" opacity=".85"/><circle cx="108.0" cy="439.3" r="1.8" fill="#7a4a90" opacity=".85"/><circle cx="162.0" cy="394.7" r="1.2" fill="#e04458" opacity=".85"/><circle cx="154.7" cy="426.4" r="1.7" fill="#dc3a4e" opacity=".85"/><circle cx="102.0" cy="400.8" r="1.1" fill="#a8dce8"/><circle cx="129.4" cy="406.1" r="1.1" fill="#a8dce8"/><circle cx="101.9" cy="405.4" r="1.1" fill="#a8dce8"/><circle cx="102.1" cy="399.9" r="1.1" fill="#a8dce8"/><circle cx="117.0" cy="416.6" r="1.1" fill="#a8dce8"/><circle cx="120.0" cy="409.1" r="1.1" fill="#a8dce8"/><circle cx="141.6" cy="388.3" r="1.1" fill="#a8dce8"/><circle cx="124.4" cy="390.0" r="1.1" fill="#a8dce8"/><circle cx="117.8" cy="407.3" r="1.1" fill="#a8dce8"/><circle cx="122.7" cy="411.9" r="1.1" fill="#a8dce8"/><circle cx="150.2" cy="406.7" r="1.1" fill="#a8dce8"/><circle cx="124.7" cy="390.6" r="1.1" fill="#a8dce8"/><circle cx="122.4" cy="408.2" r="1.1" fill="#a8dce8"/><circle cx="134.9" cy="412.6" r="1.1" fill="#a8dce8"/><circle cx="131.9" cy="418.1" r="1.1" fill="#a8dce8"/><circle cx="117.7" cy="407.5" r="1.1" fill="#a8dce8"/><circle cx="128.4" cy="416" r="43.4" fill="#e03048" opacity="0.12"/><path d="M123 382 Q124 395 122 405 Q118 420 112 436 Q108 446 106 456" fill="none" stroke="#e0242e" stroke-width="1.4" stroke-linecap="round"/><path d="M122 405 Q128 420 124 436 Q122 448 128 458" fill="none" stroke="#e0242e" stroke-width="1.4" stroke-linecap="round"/><path d="M123 395 Q135 398 146 408 Q156 416 164 414" fill="none" stroke="#e0242e" stroke-width="1.4" stroke-linecap="round"/><path d="M124 412 Q134 424 146 428 Q156 432 160 444" fill="none" stroke="#e0242e" stroke-width="1.4" stroke-linecap="round"/><path d="M122 400 Q108 406 98 418 Q92 424 88 426" fill="none" stroke="#e0242e" stroke-width="1.4" stroke-linecap="round"/><path d="M146 428 Q150 420 158 416" fill="none" stroke="#e0242e" stroke-width="1.4" stroke-linecap="round"/><path d="M118 422 Q112 424 106 432" fill="none" stroke="#e0242e" stroke-width="1.4" stroke-linecap="round"/><path d="M124 436 Q134 444 138 454" fill="none" stroke="#e0242e" stroke-width="1.4" stroke-linecap="round"/><path d="M123 388 Q112 386 104 392" fill="none" stroke="#e0242e" stroke-width="1.4" stroke-linecap="round"/><path d="M112 436 Q104 440 98 448" fill="none" stroke="#e0242e" stroke-width="1.4" stroke-linecap="round"/><path d="M106 432 Q100 430 94 434" fill="none" stroke="#e0242e" stroke-width="1.4" stroke-linecap="round"/><path d="M138 430 Q140 440 148 450" fill="none" stroke="#e0242e" stroke-width="1.4" stroke-linecap="round"/><path d="M146 408 Q150 400 158 398" fill="none" stroke="#e0242e" stroke-width="1.4" stroke-linecap="round"/><path d="M164 414 Q168 422 168 432" fill="none" stroke="#e0242e" stroke-width="1.4" stroke-linecap="round"/><path d="M128 420 Q134 414 142 414" fill="none" stroke="#e0242e" stroke-width="1.4" stroke-linecap="round"/><path d="M116 412 Q110 412 104 408" fill="none" stroke="#e0242e" stroke-width="1.4" stroke-linecap="round"/><path d="M130 444 Q128 452 120 456" fill="none" stroke="#e0242e" stroke-width="1.4" stroke-linecap="round"/><path d="M150 432 Q158 436 166 436" fill="none" stroke="#e0242e" stroke-width="1.4" stroke-linecap="round"/><path d="M98 418 Q96 408 100 400" fill="none" stroke="#e0242e" stroke-width="1.4" stroke-linecap="round"/><path d="M135 398 Q140 390 150 388" fill="none" stroke="#e0242e" stroke-width="1.4" stroke-linecap="round"/></g><path d="M60 359 Q96 378 122 381 Q160 380 215 360" fill="none" stroke="#1638c4" stroke-width="6.4" stroke-linecap="round"/><path d="M60 358 Q96 377 122 380 Q160 379 214 359" fill="none" stroke="#2a56ee" stroke-width="3" stroke-linecap="round"/><ellipse cx="215.6" cy="360" rx="2" ry="3" fill="#0c1e80"/><path d="M84 379 Q88 370 96 366 Q108 360 120 364 Q160 380 200 390" fill="none" stroke="#d81c26" stroke-width="6.2" stroke-linecap="round"/><path d="M84 378 Q88 369 96 365 Q108 359 120 363 Q160 379 199 389" fill="none" stroke="#f4424a" stroke-width="2.8" stroke-linecap="round"/><path d="M134 372 Q128 380 123 384" fill="none" stroke="#e0242e" stroke-width="3.2" stroke-linecap="round"/><circle cx="201.6" cy="390.2" r="2.4" fill="#a8d8e8"/><circle cx="119.5" cy="365.5" r="1.4" fill="#c8c0c0"/><circle cx="134.5" cy="370.5" r="1.4" fill="#c8c0c0"/><circle cx="153.0" cy="378.5" r="1.4" fill="#c8c0c0"/><circle cx="172.0" cy="385.0" r="1.4" fill="#c8c0c0"/><text x="160.5" y="459.5" font-size="12.8" text-anchor="start" fill="#111" stroke="#111" stroke-width=".28">Tumor</text><text x="59.5" y="466.7" font-size="12.8" text-anchor="start" fill="#111" stroke="#111" stroke-width=".28">Ultrasound</text></g>
<!-- p_e -->
<g><text transform="translate(237.0,256.4) scale(0.92,1)" font-size="16.6" text-anchor="start" fill="#111" stroke="#111" stroke-width=".28">e</text><text transform="translate(256.1,302.0) rotate(-90) scale(1,1.07)" font-size="12.9" text-anchor="middle" fill="#111" stroke="#111" stroke-width=".28">L-ICG@Lip</text><text transform="translate(256.1,412.5) rotate(-90) scale(1,1.07)" font-size="12.9" text-anchor="middle" fill="#111" stroke="#111" stroke-width=".28">S-ICG@Lip</text><rect x="261.7" y="250.2" width="103.9" height="102.8" fill="#020202"/><text x="265.1" y="263.0" font-size="8.8" text-anchor="start" fill="#f4f4f4" stroke="#f4f4f4" stroke-width=".28">Pre</text><path d="M329.7 272.2 Q307.7 271.1 293.7 279.7 Q279.7 288.2 279.2 300.0 Q279.7 312.9 295.7 323.6 Q311.7 333.2 327.7 334.3" fill="none" stroke="#cfcfcf" stroke-width="2.4" opacity="0.20" filter="url(#b1)"/><path d="M329.7 272.2 Q307.7 271.1 293.7 279.7 Q279.7 288.2 279.2 300.0 Q279.7 312.9 295.7 323.6 Q311.7 333.2 327.7 334.3" fill="none" stroke="#cfcfcf" stroke-width="1.2" opacity="0.50" stroke-dasharray="6.2 1.5 6.6 1.2 8.1 2.0" stroke-dashoffset="1.8" filter="url(#b05)"/><path d="M323.7 278.6 Q299.7 279.7 288.7 296.8 Q286.7 310.7 303.7 320.4 Q313.7 326.8 324.7 327.8" fill="none" stroke="#bdbdbd" stroke-width="2.2" opacity="0.16" filter="url(#b1)"/><path d="M323.7 278.6 Q299.7 279.7 288.7 296.8 Q286.7 310.7 303.7 320.4 Q313.7 326.8 324.7 327.8" fill="none" stroke="#bdbdbd" stroke-width="1.0" opacity="0.40" stroke-dasharray="6.6 1.6 6.0 0.6 6.4 1.0" stroke-dashoffset="8.1" filter="url(#b05)"/><path d="M329.7 272.2 Q331.7 287.2 328.7 300.0 Q326.7 317.1 327.7 335.3" fill="none" stroke="#e0e0e0" stroke-width="2.5" opacity="0.21" filter="url(#b1)"/><path d="M329.7 272.2 Q331.7 287.2 328.7 300.0 Q326.7 317.1 327.7 335.3" fill="none" stroke="#e0e0e0" stroke-width="1.3" opacity="0.53" stroke-dasharray="7.9 0.7 6.9 1.9 9.2 2.0" stroke-dashoffset="1.6" filter="url(#b05)"/><path d="M327.7 310.7 L327.7 334.3" fill="none" stroke="#f4f4f4" stroke-width="3.1" opacity="0.21" filter="url(#b1)"/><path d="M327.7 310.7 L327.7 334.3" fill="none" stroke="#f4f4f4" stroke-width="1.9" opacity="0.53" stroke-dasharray="3.1 1.4 2.3 0.8 5.9 0.9" stroke-dashoffset="4.6" filter="url(#b05)"/><path d="M295.7 300.6 L299.7 297.9 L299.2 302.7 Z" fill="#fff" opacity="0.90" filter="url(#b05)"/><path d="M299.7 298.9 L307.7 291.5" fill="none" stroke="#ccc" stroke-width="2.2" opacity="0.15" filter="url(#b1)"/><path d="M299.7 298.9 L307.7 291.5" fill="none" stroke="#ccc" stroke-width="1.0" opacity="0.37" stroke-dasharray="6.1 1.9 4.6 1.5 8.0 2.1" stroke-dashoffset="4.6" filter="url(#b05)"/><path d="M287.7 298.9 L294.7 300.0" fill="none" stroke="#bbb" stroke-width="2.2" opacity="0.12" filter="url(#b1)"/><path d="M287.7 298.9 L294.7 300.0" fill="none" stroke="#bbb" stroke-width="1.0" opacity="0.31" stroke-dasharray="4.9 2.2 7.0 1.8 9.7 1.4" stroke-dashoffset="2.3" filter="url(#b05)"/><path d="M321.7 272.2 Q325.7 265.8 332.7 270.1" fill="none" stroke="#bbb" stroke-width="2.2" opacity="0.14" filter="url(#b1)"/><path d="M321.7 272.2 Q325.7 265.8 332.7 270.1" fill="none" stroke="#bbb" stroke-width="1.0" opacity="0.34" stroke-dasharray="5.0 0.7 5.8 1.1 10.8 1.6" stroke-dashoffset="9.6" filter="url(#b05)"/><circle cx="306.0" cy="301.8" r="0.9" fill="#aaa" opacity="0.52" filter="url(#b05)"/><circle cx="286.2" cy="306.5" r="1.0" fill="#aaa" opacity="0.27" filter="url(#b05)"/><circle cx="293.6" cy="287.5" r="0.9" fill="#aaa" opacity="0.28" filter="url(#b05)"/><circle cx="296.0" cy="321.8" r="1.3" fill="#aaa" opacity="0.29" filter="url(#b05)"/><circle cx="305.8" cy="309.5" r="0.7" fill="#aaa" opacity="0.49" filter="url(#b05)"/><circle cx="312.3" cy="317.7" r="1.1" fill="#aaa" opacity="0.31" filter="url(#b05)"/><circle cx="304.9" cy="293.9" r="1.2" fill="#aaa" opacity="0.28" filter="url(#b05)"/><circle cx="297.6" cy="307.3" r="0.9" fill="#aaa" opacity="0.54" filter="url(#b05)"/><circle cx="309.3" cy="290.2" r="1.4" fill="#aaa" opacity="0.31" filter="url(#b05)"/><circle cx="291.1" cy="315.3" r="1.2" fill="#aaa" opacity="0.28" filter="url(#b05)"/><circle cx="314.9" cy="301.5" r="0.9" fill="#aaa" opacity="0.48" filter="url(#b05)"/><circle cx="300.5" cy="313.2" r="0.8" fill="#aaa" opacity="0.28" filter="url(#b05)"/><circle cx="297.1" cy="296.6" r="1.2" fill="#aaa" opacity="0.36" filter="url(#b05)"/><circle cx="287.0" cy="308.7" r="1.1" fill="#aaa" opacity="0.42" filter="url(#b05)"/><circle cx="311.4" cy="294.9" r="0.8" fill="#aaa" opacity="0.52" filter="url(#b05)"/><circle cx="309.8" cy="291.7" r="0.9" fill="#aaa" opacity="0.47" filter="url(#b05)"/><circle cx="314.0" cy="298.5" r="1.5" fill="#aaa" opacity="0.51" filter="url(#b05)"/><circle cx="295.4" cy="293.2" r="0.8" fill="#aaa" opacity="0.26" filter="url(#b05)"/><rect x="370.9" y="250.2" width="103.9" height="102.8" fill="#020202"/><text x="376.5" y="263.0" font-size="8.8" text-anchor="start" fill="#f4f4f4" stroke="#f4f4f4" stroke-width=".28">15 min</text><path d="M444.9 273.2 Q422.9 272.2 408.9 280.2 Q394.9 288.2 394.4 299.2 Q394.9 311.2 410.9 321.2 Q426.9 330.2 442.9 331.2" fill="none" stroke="#cfcfcf" stroke-width="2.4" opacity="0.20" filter="url(#b1)"/><path d="M444.9 273.2 Q422.9 272.2 408.9 280.2 Q394.9 288.2 394.4 299.2 Q394.9 311.2 410.9 321.2 Q426.9 330.2 442.9 331.2" fill="none" stroke="#cfcfcf" stroke-width="1.2" opacity="0.50" stroke-dasharray="9.7 1.0 5.5 0.9 10.6 2.0" stroke-dashoffset="2.9" filter="url(#b05)"/><path d="M438.9 279.2 Q414.9 280.2 403.9 296.2 Q401.9 309.2 418.9 318.2 Q428.9 324.2 439.9 325.2" fill="none" stroke="#bdbdbd" stroke-width="2.2" opacity="0.16" filter="url(#b1)"/><path d="M438.9 279.2 Q414.9 280.2 403.9 296.2 Q401.9 309.2 418.9 318.2 Q428.9 324.2 439.9 325.2" fill="none" stroke="#bdbdbd" stroke-width="1.0" opacity="0.40" stroke-dasharray="4.2 1.8 2.3 0.8 8.5 2.5" stroke-dashoffset="6.1" filter="url(#b05)"/><path d="M444.9 273.2 Q446.9 287.2 443.9 299.2 Q441.9 315.2 442.9 332.2" fill="none" stroke="#e0e0e0" stroke-width="2.5" opacity="0.21" filter="url(#b1)"/><path d="M444.9 273.2 Q446.9 287.2 443.9 299.2 Q441.9 315.2 442.9 332.2" fill="none" stroke="#e0e0e0" stroke-width="1.3" opacity="0.53" stroke-dasharray="5.0 2.1 3.0 0.5 6.2 1.7" stroke-dashoffset="0.6" filter="url(#b05)"/><path d="M442.9 309.2 L442.9 331.2" fill="none" stroke="#f4f4f4" stroke-width="3.1" opacity="0.21" filter="url(#b1)"/><path d="M442.9 309.2 L442.9 331.2" fill="none" stroke="#f4f4f4" stroke-width="1.9" opacity="0.53" stroke-dasharray="4.2 1.2 4.9 0.7 6.9 2.6" stroke-dashoffset="9.8" filter="url(#b05)"/><path d="M410.9 299.7 L414.9 297.2 L414.4 301.7 Z" fill="#fff" opacity="0.90" filter="url(#b05)"/><path d="M414.9 298.2 L422.9 291.2" fill="none" stroke="#ccc" stroke-width="2.2" opacity="0.15" filter="url(#b1)"/><path d="M414.9 298.2 L422.9 291.2" fill="none" stroke="#ccc" stroke-width="1.0" opacity="0.37" stroke-dasharray="7.6 1.7 4.9 0.7 4.3 0.8" stroke-dashoffset="9.1" filter="url(#b05)"/><path d="M402.9 298.2 L409.9 299.2" fill="none" stroke="#bbb" stroke-width="2.2" opacity="0.12" filter="url(#b1)"/><path d="M402.9 298.2 L409.9 299.2" fill="none" stroke="#bbb" stroke-width="1.0" opacity="0.31" stroke-dasharray="7.9 2.1 2.1 1.5 7.9 2.3" stroke-dashoffset="3.2" filter="url(#b05)"/><path d="M436.9 273.2 Q440.9 267.2 447.9 271.2" fill="none" stroke="#bbb" stroke-width="2.2" opacity="0.14" filter="url(#b1)"/><path d="M436.9 273.2 Q440.9 267.2 447.9 271.2" fill="none" stroke="#bbb" stroke-width="1.0" opacity="0.34" stroke-dasharray="10.0 0.7 4.7 1.6 11.2 2.3" stroke-dashoffset="7.0" filter="url(#b05)"/><circle cx="426.0" cy="282.0" r="1.0" fill="#aaa" opacity="0.46" filter="url(#b05)"/><circle cx="436.1" cy="290.7" r="1.0" fill="#aaa" opacity="0.49" filter="url(#b05)"/><circle cx="430.8" cy="290.0" r="1.2" fill="#aaa" opacity="0.36" filter="url(#b05)"/><circle cx="407.4" cy="294.3" r="0.8" fill="#aaa" opacity="0.44" filter="url(#b05)"/><circle cx="439.6" cy="302.3" r="1.3" fill="#aaa" opacity="0.37" filter="url(#b05)"/><circle cx="419.5" cy="285.7" r="1.1" fill="#aaa" opacity="0.50" filter="url(#b05)"/><circle cx="435.9" cy="313.2" r="0.7" fill="#aaa" opacity="0.43" filter="url(#b05)"/><circle cx="411.4" cy="304.5" r="1.3" fill="#aaa" opacity="0.40" filter="url(#b05)"/><circle cx="406.5" cy="288.7" r="0.9" fill="#aaa" opacity="0.25" filter="url(#b05)"/><circle cx="415.7" cy="321.2" r="0.9" fill="#aaa" opacity="0.30" filter="url(#b05)"/><circle cx="434.4" cy="292.8" r="1.1" fill="#aaa" opacity="0.52" filter="url(#b05)"/><circle cx="413.3" cy="319.8" r="0.9" fill="#aaa" opacity="0.38" filter="url(#b05)"/><circle cx="427.5" cy="282.6" r="1.4" fill="#aaa" opacity="0.37" filter="url(#b05)"/><circle cx="411.1" cy="296.7" r="0.8" fill="#aaa" opacity="0.40" filter="url(#b05)"/><circle cx="430.5" cy="285.1" r="1.3" fill="#aaa" opacity="0.54" filter="url(#b05)"/><circle cx="419.5" cy="312.5" r="1.1" fill="#aaa" opacity="0.33" filter="url(#b05)"/><circle cx="423.8" cy="317.6" r="1.2" fill="#aaa" opacity="0.40" filter="url(#b05)"/><circle cx="413.6" cy="322.5" r="1.5" fill="#aaa" opacity="0.39" filter="url(#b05)"/><ellipse cx="446.7" cy="284.2" rx="1.7" ry="3.3" transform="rotate(28 446.7 284.2)" fill="#e01616" opacity="1.00" filter="url(#b05)"/><ellipse cx="445.3" cy="293.2" rx="2" ry="3.6" transform="rotate(40 445.3 293.2)" fill="#e41a16" opacity="1.00" filter="url(#b05)"/><ellipse cx="448.3" cy="290.8" rx="1.300" ry="1.800" fill="#c01212" opacity="1.00" filter="url(#b05)"/><circle cx="445.9" cy="292.2" r="0.8" fill="#ff6a28" opacity="1.00"/><rect x="480.1" y="250.2" width="103.9" height="102.8" fill="#020202"/><text x="485.7" y="263.0" font-size="8.8" text-anchor="start" fill="#f4f4f4" stroke="#f4f4f4" stroke-width=".28">30 min</text><path d="M554.1 273.2 Q532.1 272.2 518.1 280.2 Q504.1 288.2 503.6 299.2 Q504.1 311.2 520.1 321.2 Q536.1 330.2 552.1 331.2" fill="none" stroke="#cfcfcf" stroke-width="2.4" opacity="0.20" filter="url(#b1)"/><path d="M554.1 273.2 Q532.1 272.2 518.1 280.2 Q504.1 288.2 503.6 299.2 Q504.1 311.2 520.1 321.2 Q536.1 330.2 552.1 331.2" fill="none" stroke="#cfcfcf" stroke-width="1.2" opacity="0.50" stroke-dasharray="3.5 0.7 6.4 0.6 9.7 1.9" stroke-dashoffset="3.1" filter="url(#b05)"/><path d="M548.1 279.2 Q524.1 280.2 513.1 296.2 Q511.1 309.2 528.1 318.2 Q538.1 324.2 549.1 325.2" fill="none" stroke="#bdbdbd" stroke-width="2.2" opacity="0.16" filter="url(#b1)"/><path d="M548.1 279.2 Q524.1 280.2 513.1 296.2 Q511.1 309.2 528.1 318.2 Q538.1 324.2 549.1 325.2" fill="none" stroke="#bdbdbd" stroke-width="1.0" opacity="0.40" stroke-dasharray="8.5 0.6 2.7 1.2 4.2 2.5" stroke-dashoffset="2.4" filter="url(#b05)"/><path d="M554.1 273.2 Q556.1 287.2 553.1 299.2 Q551.1 315.2 552.1 332.2" fill="none" stroke="#e0e0e0" stroke-width="2.5" opacity="0.21" filter="url(#b1)"/><path d="M554.1 273.2 Q556.1 287.2 553.1 299.2 Q551.1 315.2 552.1 332.2" fill="none" stroke="#e0e0e0" stroke-width="1.3" opacity="0.53" stroke-dasharray="4.0 0.7 5.1 1.2 9.0 2.1" stroke-dashoffset="8.1" filter="url(#b05)"/><path d="M552.1 309.2 L552.1 331.2" fill="none" stroke="#f4f4f4" stroke-width="3.1" opacity="0.21" filter="url(#b1)"/><path d="M552.1 309.2 L552.1 331.2" fill="none" stroke="#f4f4f4" stroke-width="1.9" opacity="0.53" stroke-dasharray="9.7 1.7 3.0 1.2 5.4 0.8" stroke-dashoffset="4.7" filter="url(#b05)"/><path d="M520.1 299.7 L524.1 297.2 L523.6 301.7 Z" fill="#fff" opacity="0.90" filter="url(#b05)"/><path d="M524.1 298.2 L532.1 291.2" fill="none" stroke="#ccc" stroke-width="2.2" opacity="0.15" filter="url(#b1)"/><path d="M524.1 298.2 L532.1 291.2" fill="none" stroke="#ccc" stroke-width="1.0" opacity="0.37" stroke-dasharray="8.0 0.9 3.4 1.0 9.6 1.8" stroke-dashoffset="6.1" filter="url(#b05)"/><path d="M512.1 298.2 L519.1 299.2" fill="none" stroke="#bbb" stroke-width="2.2" opacity="0.12" filter="url(#b1)"/><path d="M512.1 298.2 L519.1 299.2" fill="none" stroke="#bbb" stroke-width="1.0" opacity="0.31" stroke-dasharray="8.3 1.2 6.0 1.9 4.7 2.7" stroke-dashoffset="7.2" filter="url(#b05)"/><path d="M546.1 273.2 Q550.1 267.2 557.1 271.2" fill="none" stroke="#bbb" stroke-width="2.2" opacity="0.14" filter="url(#b1)"/><path d="M546.1 273.2 Q550.1 267.2 557.1 271.2" fill="none" stroke="#bbb" stroke-width="1.0" opacity="0.34" stroke-dasharray="3.9 1.3 5.1 1.9 7.0 1.9" stroke-dashoffset="8.8" filter="url(#b05)"/><circle cx="535.7" cy="281.8" r="1.1" fill="#aaa" opacity="0.45" filter="url(#b05)"/><circle cx="534.9" cy="322.0" r="1.4" fill="#aaa" opacity="0.44" filter="url(#b05)"/><circle cx="528.2" cy="292.8" r="1.4" fill="#aaa" opacity="0.54" filter="url(#b05)"/><circle cx="544.6" cy="300.8" r="1.3" fill="#aaa" opacity="0.35" filter="url(#b05)"/><circle cx="545.7" cy="291.8" r="1.0" fill="#aaa" opacity="0.27" filter="url(#b05)"/><circle cx="516.3" cy="309.4" r="1.3" fill="#aaa" opacity="0.40" filter="url(#b05)"/><circle cx="547.8" cy="306.9" r="0.8" fill="#aaa" opacity="0.49" filter="url(#b05)"/><circle cx="535.5" cy="315.0" r="1.3" fill="#aaa" opacity="0.29" filter="url(#b05)"/><circle cx="538.6" cy="316.5" r="1.3" fill="#aaa" opacity="0.50" filter="url(#b05)"/><circle cx="522.9" cy="282.4" r="1.1" fill="#aaa" opacity="0.53" filter="url(#b05)"/><circle cx="538.2" cy="308.8" r="1.1" fill="#aaa" opacity="0.34" filter="url(#b05)"/><circle cx="528.0" cy="285.0" r="1.1" fill="#aaa" opacity="0.50" filter="url(#b05)"/><circle cx="519.7" cy="298.5" r="1.0" fill="#aaa" opacity="0.50" filter="url(#b05)"/><circle cx="537.5" cy="297.1" r="1.4" fill="#aaa" opacity="0.54" filter="url(#b05)"/><circle cx="515.1" cy="300.6" r="0.9" fill="#aaa" opacity="0.41" filter="url(#b05)"/><circle cx="514.5" cy="302.8" r="0.7" fill="#aaa" opacity="0.54" filter="url(#b05)"/><circle cx="517.5" cy="301.7" r="1.3" fill="#aaa" opacity="0.42" filter="url(#b05)"/><circle cx="513.5" cy="304.3" r="0.8" fill="#aaa" opacity="0.41" filter="url(#b05)"/><ellipse cx="555.9" cy="284.2" rx="1.7" ry="3.3" transform="rotate(28 555.9 284.2)" fill="#e01616" opacity="1.00" filter="url(#b05)"/><ellipse cx="554.5" cy="293.2" rx="2" ry="3.6" transform="rotate(40 554.5 293.2)" fill="#e41a16" opacity="1.00" filter="url(#b05)"/><ellipse cx="557.5" cy="290.8" rx="1.300" ry="1.800" fill="#c01212" opacity="1.00" filter="url(#b05)"/><circle cx="555.1" cy="292.2" r="0.8" fill="#ff6a28" opacity="1.00"/><rect x="589.3" y="250.2" width="103.9" height="102.8" fill="#020202"/><text x="595.7" y="263.0" font-size="8.8" text-anchor="start" fill="#f4f4f4" stroke="#f4f4f4" stroke-width=".28">60 min</text><path d="M661.3 272.2 Q639.3 271.2 625.3 279.2 Q611.3 287.2 610.8 298.2 Q611.3 310.2 627.3 320.2 Q643.3 329.2 659.3 330.2" fill="none" stroke="#cfcfcf" stroke-width="2.4" opacity="0.20" filter="url(#b1)"/><path d="M661.3 272.2 Q639.3 271.2 625.3 279.2 Q611.3 287.2 610.8 298.2 Q611.3 310.2 627.3 320.2 Q643.3 329.2 659.3 330.2" fill="none" stroke="#cfcfcf" stroke-width="1.2" opacity="0.50" stroke-dasharray="5.9 2.1 6.6 0.9 7.8 1.1" stroke-dashoffset="4.3" filter="url(#b05)"/><path d="M655.3 278.2 Q631.3 279.2 620.3 295.2 Q618.3 308.2 635.3 317.2 Q645.3 323.2 656.3 324.2" fill="none" stroke="#bdbdbd" stroke-width="2.2" opacity="0.16" filter="url(#b1)"/><path d="M655.3 278.2 Q631.3 279.2 620.3 295.2 Q618.3 308.2 635.3 317.2 Q645.3 323.2 656.3 324.2" fill="none" stroke="#bdbdbd" stroke-width="1.0" opacity="0.40" stroke-dasharray="8.7 2.0 4.4 1.0 5.5 2.0" stroke-dashoffset="9.3" filter="url(#b05)"/><path d="M661.3 272.2 Q663.3 286.2 660.3 298.2 Q658.3 314.2 659.3 331.2" fill="none" stroke="#e0e0e0" stroke-width="2.5" opacity="0.21" filter="url(#b1)"/><path d="M661.3 272.2 Q663.3 286.2 660.3 298.2 Q658.3 314.2 659.3 331.2" fill="none" stroke="#e0e0e0" stroke-width="1.3" opacity="0.53" stroke-dasharray="3.9 1.8 2.1 0.8 5.8 2.2" stroke-dashoffset="3.2" filter="url(#b05)"/><path d="M659.3 308.2 L659.3 330.2" fill="none" stroke="#f4f4f4" stroke-width="3.1" opacity="0.21" filter="url(#b1)"/><path d="M659.3 308.2 L659.3 330.2" fill="none" stroke="#f4f4f4" stroke-width="1.9" opacity="0.53" stroke-dasharray="5.5 1.6 2.5 1.6 5.0 1.8" stroke-dashoffset="2.5" filter="url(#b05)"/><path d="M627.3 298.7 L631.3 296.2 L630.8 300.7 Z" fill="#fff" opacity="0.90" filter="url(#b05)"/><path d="M631.3 297.2 L639.3 290.2" fill="none" stroke="#ccc" stroke-width="2.2" opacity="0.15" filter="url(#b1)"/><path d="M631.3 297.2 L639.3 290.2" fill="none" stroke="#ccc" stroke-width="1.0" opacity="0.37" stroke-dasharray="4.4 1.4 4.2 1.1 7.3 1.9" stroke-dashoffset="1.6" filter="url(#b05)"/><path d="M619.3 297.2 L626.3 298.2" fill="none" stroke="#bbb" stroke-width="2.2" opacity="0.12" filter="url(#b1)"/><path d="M619.3 297.2 L626.3 298.2" fill="none" stroke="#bbb" stroke-width="1.0" opacity="0.31" stroke-dasharray="4.4 1.6 5.2 1.3 10.8 2.0" stroke-dashoffset="8.6" filter="url(#b05)"/><path d="M653.3 272.2 Q657.3 266.2 664.3 270.2" fill="none" stroke="#bbb" stroke-width="2.2" opacity="0.14" filter="url(#b1)"/><path d="M653.3 272.2 Q657.3 266.2 664.3 270.2" fill="none" stroke="#bbb" stroke-width="1.0" opacity="0.34" stroke-dasharray="4.6 1.8 6.1 1.9 6.5 1.4" stroke-dashoffset="9.2" filter="url(#b05)"/><circle cx="641.3" cy="324.7" r="1.4" fill="#aaa" opacity="0.29" filter="url(#b05)"/><circle cx="638.4" cy="321.8" r="0.9" fill="#aaa" opacity="0.28" filter="url(#b05)"/><circle cx="643.7" cy="289.2" r="1.3" fill="#aaa" opacity="0.29" filter="url(#b05)"/><circle cx="623.7" cy="313.1" r="0.7" fill="#aaa" opacity="0.31" filter="url(#b05)"/><circle cx="629.4" cy="282.2" r="1.5" fill="#aaa" opacity="0.28" filter="url(#b05)"/><circle cx="619.9" cy="301.5" r="1.1" fill="#aaa" opacity="0.46" filter="url(#b05)"/><circle cx="639.3" cy="307.9" r="0.8" fill="#aaa" opacity="0.26" filter="url(#b05)"/><circle cx="623.7" cy="296.9" r="1.2" fill="#aaa" opacity="0.29" filter="url(#b05)"/><circle cx="640.9" cy="311.7" r="1.4" fill="#aaa" opacity="0.55" filter="url(#b05)"/><circle cx="642.8" cy="299.1" r="0.7" fill="#aaa" opacity="0.54" filter="url(#b05)"/><circle cx="620.3" cy="306.9" r="1.0" fill="#aaa" opacity="0.39" filter="url(#b05)"/><circle cx="624.2" cy="300.8" r="1.2" fill="#aaa" opacity="0.25" filter="url(#b05)"/><circle cx="631.7" cy="282.1" r="0.8" fill="#aaa" opacity="0.39" filter="url(#b05)"/><circle cx="636.4" cy="287.6" r="0.9" fill="#aaa" opacity="0.30" filter="url(#b05)"/><circle cx="634.8" cy="302.0" r="1.4" fill="#aaa" opacity="0.49" filter="url(#b05)"/><circle cx="632.1" cy="281.7" r="1.2" fill="#aaa" opacity="0.37" filter="url(#b05)"/><circle cx="625.8" cy="292.6" r="1.5" fill="#aaa" opacity="0.49" filter="url(#b05)"/><circle cx="636.3" cy="324.1" r="1.3" fill="#aaa" opacity="0.48" filter="url(#b05)"/><ellipse cx="663.1" cy="283.2" rx="1.7" ry="3.3" transform="rotate(28 663.1 283.2)" fill="#e01616" opacity="1.00" filter="url(#b05)"/><ellipse cx="661.7" cy="292.2" rx="2" ry="3.6" transform="rotate(40 661.7 292.2)" fill="#e41a16" opacity="1.00" filter="url(#b05)"/><ellipse cx="664.7" cy="289.8" rx="1.300" ry="1.800" fill="#c01212" opacity="1.00" filter="url(#b05)"/><circle cx="662.3" cy="291.2" r="0.8" fill="#ff6a28" opacity="1.00"/><rect x="698.4" y="250.2" width="103.9" height="102.8" fill="#020202"/><text x="704.8" y="263.0" font-size="8.8" text-anchor="start" fill="#f4f4f4" stroke="#f4f4f4" stroke-width=".28">120 min</text><path d="M768.4 272.2 Q746.4 271.2 732.4 279.2 Q718.4 287.2 717.9 298.2 Q718.4 310.2 734.4 320.2 Q750.4 329.2 766.4 330.2" fill="none" stroke="#cfcfcf" stroke-width="2.4" opacity="0.17" filter="url(#b1)"/><path d="M768.4 272.2 Q746.4 271.2 732.4 279.2 Q718.4 287.2 717.9 298.2 Q718.4 310.2 734.4 320.2 Q750.4 329.2 766.4 330.2" fill="none" stroke="#cfcfcf" stroke-width="1.2" opacity="0.42" stroke-dasharray="8.7 1.2 6.5 1.8 9.6 2.3" stroke-dashoffset="7.7" filter="url(#b05)"/><path d="M762.4 278.2 Q738.4 279.2 727.4 295.2 Q725.4 308.2 742.4 317.2 Q752.4 323.2 763.4 324.2" fill="none" stroke="#bdbdbd" stroke-width="2.2" opacity="0.14" filter="url(#b1)"/><path d="M762.4 278.2 Q738.4 279.2 727.4 295.2 Q725.4 308.2 742.4 317.2 Q752.4 323.2 763.4 324.2" fill="none" stroke="#bdbdbd" stroke-width="1.0" opacity="0.34" stroke-dasharray="5.8 1.8 2.4 1.0 7.8 0.8" stroke-dashoffset="3.6" filter="url(#b05)"/><path d="M768.4 272.2 Q770.4 286.2 767.4 298.2 Q765.4 314.2 766.4 331.2" fill="none" stroke="#e0e0e0" stroke-width="2.5" opacity="0.18" filter="url(#b1)"/><path d="M768.4 272.2 Q770.4 286.2 767.4 298.2 Q765.4 314.2 766.4 331.2" fill="none" stroke="#e0e0e0" stroke-width="1.3" opacity="0.45" stroke-dasharray="7.5 1.6 3.2 1.9 9.3 1.5" stroke-dashoffset="6.6" filter="url(#b05)"/><path d="M766.4 308.2 L766.4 330.2" fill="none" stroke="#f4f4f4" stroke-width="3.1" opacity="0.18" filter="url(#b1)"/><path d="M766.4 308.2 L766.4 330.2" fill="none" stroke="#f4f4f4" stroke-width="1.9" opacity="0.45" stroke-dasharray="7.0 1.5 3.9 2.0 9.1 2.2" stroke-dashoffset="7.6" filter="url(#b05)"/><path d="M734.4 298.7 L738.4 296.2 L737.9 300.7 Z" fill="#fff" opacity="0.77" filter="url(#b05)"/><path d="M738.4 297.2 L746.4 290.2" fill="none" stroke="#ccc" stroke-width="2.2" opacity="0.13" filter="url(#b1)"/><path d="M738.4 297.2 L746.4 290.2" fill="none" stroke="#ccc" stroke-width="1.0" opacity="0.32" stroke-dasharray="9.9 0.6 5.1 1.6 6.1 1.6" stroke-dashoffset="0.5" filter="url(#b05)"/><path d="M726.4 297.2 L733.4 298.2" fill="none" stroke="#bbb" stroke-width="2.2" opacity="0.11" filter="url(#b1)"/><path d="M726.4 297.2 L733.4 298.2" fill="none" stroke="#bbb" stroke-width="1.0" opacity="0.26" stroke-dasharray="4.4 1.2 2.5 0.9 11.2 1.9" stroke-dashoffset="5.1" filter="url(#b05)"/><path d="M760.4 272.2 Q764.4 266.2 771.4 270.2" fill="none" stroke="#bbb" stroke-width="2.2" opacity="0.12" filter="url(#b1)"/><path d="M760.4 272.2 Q764.4 266.2 771.4 270.2" fill="none" stroke="#bbb" stroke-width="1.0" opacity="0.29" stroke-dasharray="9.8 1.5 7.0 1.5 10.5 1.0" stroke-dashoffset="6.0" filter="url(#b05)"/><circle cx="744.6" cy="297.3" r="1.4" fill="#aaa" opacity="0.25" filter="url(#b05)"/><circle cx="736.3" cy="303.9" r="1.1" fill="#aaa" opacity="0.37" filter="url(#b05)"/><circle cx="762.5" cy="310.2" r="1.0" fill="#aaa" opacity="0.35" filter="url(#b05)"/><circle cx="734.5" cy="294.2" r="0.9" fill="#aaa" opacity="0.38" filter="url(#b05)"/><circle cx="734.5" cy="297.6" r="1.3" fill="#aaa" opacity="0.29" filter="url(#b05)"/><circle cx="754.3" cy="303.2" r="0.7" fill="#aaa" opacity="0.25" filter="url(#b05)"/><circle cx="744.8" cy="287.8" r="1.4" fill="#aaa" opacity="0.40" filter="url(#b05)"/><circle cx="763.3" cy="309.3" r="1.5" fill="#aaa" opacity="0.23" filter="url(#b05)"/><circle cx="755.3" cy="293.8" r="1.1" fill="#aaa" opacity="0.46" filter="url(#b05)"/><circle cx="745.0" cy="318.8" r="1.4" fill="#aaa" opacity="0.40" filter="url(#b05)"/><circle cx="725.0" cy="306.7" r="1.4" fill="#aaa" opacity="0.37" filter="url(#b05)"/><circle cx="756.2" cy="314.2" r="1.1" fill="#aaa" opacity="0.26" filter="url(#b05)"/><circle cx="758.2" cy="307.6" r="0.8" fill="#aaa" opacity="0.33" filter="url(#b05)"/><circle cx="737.7" cy="288.7" r="0.9" fill="#aaa" opacity="0.36" filter="url(#b05)"/><circle cx="729.0" cy="312.0" r="1.1" fill="#aaa" opacity="0.47" filter="url(#b05)"/><circle cx="760.8" cy="296.4" r="0.9" fill="#aaa" opacity="0.24" filter="url(#b05)"/><circle cx="758.2" cy="289.5" r="1.2" fill="#aaa" opacity="0.30" filter="url(#b05)"/><circle cx="742.2" cy="321.1" r="1.2" fill="#aaa" opacity="0.36" filter="url(#b05)"/><ellipse cx="770.2" cy="283.2" rx="1.7" ry="3.3" transform="rotate(28 770.2 283.2)" fill="#e01616" opacity="1.00" filter="url(#b05)"/><ellipse cx="768.8" cy="292.2" rx="2" ry="3.6" transform="rotate(40 768.8 292.2)" fill="#e41a16" opacity="1.00" filter="url(#b05)"/><ellipse cx="771.8" cy="289.8" rx="1.300" ry="1.800" fill="#c01212" opacity="1.00" filter="url(#b05)"/><circle cx="769.4" cy="291.2" r="0.8" fill="#ff6a28" opacity="1.00"/><rect x="807.7" y="250.2" width="103.9" height="102.8" fill="#020202"/><text x="814.1" y="263.0" font-size="8.8" text-anchor="start" fill="#f4f4f4" stroke="#f4f4f4" stroke-width=".28">180 min</text><path d="M876.7 272.2 Q854.7 271.2 840.7 279.2 Q826.7 287.2 826.2 298.2 Q826.7 310.2 842.7 320.2 Q858.7 329.2 874.7 330.2" fill="none" stroke="#cfcfcf" stroke-width="2.4" opacity="0.17" filter="url(#b1)"/><path d="M876.7 272.2 Q854.7 271.2 840.7 279.2 Q826.7 287.2 826.2 298.2 Q826.7 310.2 842.7 320.2 Q858.7 329.2 874.7 330.2" fill="none" stroke="#cfcfcf" stroke-width="1.2" opacity="0.42" stroke-dasharray="7.4 1.8 2.9 0.9 11.8 2.6" stroke-dashoffset="8.8" filter="url(#b05)"/><path d="M870.7 278.2 Q846.7 279.2 835.7 295.2 Q833.7 308.2 850.7 317.2 Q860.7 323.2 871.7 324.2" fill="none" stroke="#bdbdbd" stroke-width="2.2" opacity="0.14" filter="url(#b1)"/><path d="M870.7 278.2 Q846.7 279.2 835.7 295.2 Q833.7 308.2 850.7 317.2 Q860.7 323.2 871.7 324.2" fill="none" stroke="#bdbdbd" stroke-width="1.0" opacity="0.34" stroke-dasharray="3.3 0.7 3.4 1.1 9.0 1.0" stroke-dashoffset="5.4" filter="url(#b05)"/><path d="M876.7 272.2 Q878.7 286.2 875.7 298.2 Q873.7 314.2 874.7 331.2" fill="none" stroke="#e0e0e0" stroke-width="2.5" opacity="0.18" filter="url(#b1)"/><path d="M876.7 272.2 Q878.7 286.2 875.7 298.2 Q873.7 314.2 874.7 331.2" fill="none" stroke="#e0e0e0" stroke-width="1.3" opacity="0.45" stroke-dasharray="3.5 0.7 5.4 1.3 9.0 1.5" stroke-dashoffset="4.8" filter="url(#b05)"/><path d="M874.7 308.2 L874.7 330.2" fill="none" stroke="#f4f4f4" stroke-width="3.1" opacity="0.18" filter="url(#b1)"/><path d="M874.7 308.2 L874.7 330.2" fill="none" stroke="#f4f4f4" stroke-width="1.9" opacity="0.45" stroke-dasharray="4.5 1.1 5.7 1.8 4.6 1.0" stroke-dashoffset="8.1" filter="url(#b05)"/><path d="M842.7 298.7 L846.7 296.2 L846.2 300.7 Z" fill="#fff" opacity="0.77" filter="url(#b05)"/><path d="M846.7 297.2 L854.7 290.2" fill="none" stroke="#ccc" stroke-width="2.2" opacity="0.13" filter="url(#b1)"/><path d="M846.7 297.2 L854.7 290.2" fill="none" stroke="#ccc" stroke-width="1.0" opacity="0.32" stroke-dasharray="7.4 1.8 3.1 1.1 6.1 2.4" stroke-dashoffset="3.7" filter="url(#b05)"/><path d="M834.7 297.2 L841.7 298.2" fill="none" stroke="#bbb" stroke-width="2.2" opacity="0.11" filter="url(#b1)"/><path d="M834.7 297.2 L841.7 298.2" fill="none" stroke="#bbb" stroke-width="1.0" opacity="0.26" stroke-dasharray="7.6 2.2 3.6 1.3 10.0 2.6" stroke-dashoffset="4.3" filter="url(#b05)"/><path d="M868.7 272.2 Q872.7 266.2 879.7 270.2" fill="none" stroke="#bbb" stroke-width="2.2" opacity="0.12" filter="url(#b1)"/><path d="M868.7 272.2 Q872.7 266.2 879.7 270.2" fill="none" stroke="#bbb" stroke-width="1.0" opacity="0.29" stroke-dasharray="5.6 0.8 6.4 0.6 4.7 1.9" stroke-dashoffset="4.8" filter="url(#b05)"/><circle cx="848.4" cy="290.7" r="1.3" fill="#aaa" opacity="0.23" filter="url(#b05)"/><circle cx="856.4" cy="320.4" r="0.8" fill="#aaa" opacity="0.29" filter="url(#b05)"/><circle cx="850.1" cy="283.3" r="0.9" fill="#aaa" opacity="0.25" filter="url(#b05)"/><circle cx="842.0" cy="317.5" r="1.0" fill="#aaa" opacity="0.24" filter="url(#b05)"/><circle cx="848.9" cy="285.4" r="1.4" fill="#aaa" opacity="0.45" filter="url(#b05)"/><circle cx="864.0" cy="294.3" r="1.3" fill="#aaa" opacity="0.29" filter="url(#b05)"/><circle cx="847.5" cy="315.4" r="1.4" fill="#aaa" opacity="0.44" filter="url(#b05)"/><circle cx="852.8" cy="316.0" r="1.0" fill="#aaa" opacity="0.31" filter="url(#b05)"/><circle cx="842.8" cy="310.9" r="0.9" fill="#aaa" opacity="0.36" filter="url(#b05)"/><circle cx="857.0" cy="286.0" r="1.4" fill="#aaa" opacity="0.36" filter="url(#b05)"/><circle cx="860.5" cy="320.1" r="1.4" fill="#aaa" opacity="0.28" filter="url(#b05)"/><circle cx="866.9" cy="304.5" r="1.1" fill="#aaa" opacity="0.36" filter="url(#b05)"/><circle cx="868.5" cy="298.3" r="1.3" fill="#aaa" opacity="0.23" filter="url(#b05)"/><circle cx="835.7" cy="296.3" r="0.8" fill="#aaa" opacity="0.23" filter="url(#b05)"/><circle cx="851.2" cy="280.5" r="0.8" fill="#aaa" opacity="0.37" filter="url(#b05)"/><circle cx="863.4" cy="317.8" r="1.2" fill="#aaa" opacity="0.28" filter="url(#b05)"/><circle cx="855.9" cy="322.0" r="1.1" fill="#aaa" opacity="0.41" filter="url(#b05)"/><circle cx="843.5" cy="310.4" r="1.5" fill="#aaa" opacity="0.38" filter="url(#b05)"/><ellipse cx="878.5" cy="283.2" rx="1.7" ry="3.3" transform="rotate(28 878.5 283.2)" fill="#e01616" opacity="0.85" filter="url(#b05)"/><ellipse cx="877.1" cy="292.2" rx="2" ry="3.6" transform="rotate(40 877.1 292.2)" fill="#e41a16" opacity="0.85" filter="url(#b05)"/><ellipse cx="880.1" cy="289.8" rx="1.300" ry="1.800" fill="#c01212" opacity="0.85" filter="url(#b05)"/><circle cx="877.7" cy="291.2" r="0.8" fill="#ff6a28" opacity="0.85"/><rect x="261.7" y="360.6" width="103.9" height="102.8" fill="#020202"/><text x="265.1" y="373.4" font-size="8.8" text-anchor="start" fill="#f4f4f4" stroke="#f4f4f4" stroke-width=".28">Pre</text><path d="M327.7 378.6 Q312.7 380.6 300.7 388.6 Q285.7 398.6 282.2 408.6 Q284.7 423.6 300.7 434.6 Q316.7 443.6 330.7 444.6" fill="none" stroke="#d4d4d4" stroke-width="2.4" opacity="0.21" filter="url(#b1)"/><path d="M327.7 378.6 Q312.7 380.6 300.7 388.6 Q285.7 398.6 282.2 408.6 Q284.7 423.6 300.7 434.6 Q316.7 443.6 330.7 444.6" fill="none" stroke="#d4d4d4" stroke-width="1.2" opacity="0.53" stroke-dasharray="6.5 1.5 5.6 1.6 11.3 1.6" stroke-dashoffset="8.3" filter="url(#b05)"/><path d="M327.7 378.6 Q326.7 393.6 329.7 409.6 Q332.7 427.6 330.7 444.6" fill="none" stroke="#e8e8e8" stroke-width="2.6" opacity="0.23" filter="url(#b1)"/><path d="M327.7 378.6 Q326.7 393.6 329.7 409.6 Q332.7 427.6 330.7 444.6" fill="none" stroke="#e8e8e8" stroke-width="1.4" opacity="0.56" stroke-dasharray="7.7 2.0 6.0 1.8 11.1 2.7" stroke-dashoffset="6.4" filter="url(#b05)"/><path d="M298.7 409.6 Q304.7 397.6 320.7 389.6" fill="none" stroke="#f4f4f4" stroke-width="2.6" opacity="0.23" filter="url(#b1)"/><path d="M298.7 409.6 Q304.7 397.6 320.7 389.6" fill="none" stroke="#f4f4f4" stroke-width="1.4" opacity="0.56" stroke-dasharray="6.7 1.7 6.0 1.1 7.4 1.1" stroke-dashoffset="7.4" filter="url(#b05)"/><path d="M298.7 409.6 L284.7 410.6" fill="none" stroke="#ccc" stroke-width="2.3" opacity="0.15" filter="url(#b1)"/><path d="M298.7 409.6 L284.7 410.6" fill="none" stroke="#ccc" stroke-width="1.1" opacity="0.37" stroke-dasharray="9.9 1.2 2.8 0.8 7.4 1.4" stroke-dashoffset="9.7" filter="url(#b05)"/><path d="M289.7 413.6 Q308.7 425.6 324.7 434.6" fill="none" stroke="#e0e0e0" stroke-width="2.4" opacity="0.19" filter="url(#b1)"/><path d="M289.7 413.6 Q308.7 425.6 324.7 434.6" fill="none" stroke="#e0e0e0" stroke-width="1.2" opacity="0.46" stroke-dasharray="3.4 1.1 2.6 1.5 10.2 1.2" stroke-dashoffset="0.6" filter="url(#b05)"/><path d="M306.7 383.6 Q298.7 395.6 294.7 407.6" fill="none" stroke="#aaa" stroke-width="2.2" opacity="0.11" filter="url(#b1)"/><path d="M306.7 383.6 Q298.7 395.6 294.7 407.6" fill="none" stroke="#aaa" stroke-width="1.0" opacity="0.28" stroke-dasharray="6.2 1.5 6.5 0.6 4.9 1.2" stroke-dashoffset="2.2" filter="url(#b05)"/><path d="M314.7 376.6 Q320.7 370.6 330.7 376.6" fill="none" stroke="#bbb" stroke-width="2.2" opacity="0.12" filter="url(#b1)"/><path d="M314.7 376.6 Q320.7 370.6 330.7 376.6" fill="none" stroke="#bbb" stroke-width="1.0" opacity="0.31" stroke-dasharray="4.6 1.7 5.0 0.8 5.5 1.4" stroke-dashoffset="1.7" filter="url(#b05)"/><circle cx="307.2" cy="400.8" r="1.1" fill="#aaa" opacity="0.40" filter="url(#b05)"/><circle cx="296.6" cy="415.1" r="1.4" fill="#aaa" opacity="0.43" filter="url(#b05)"/><circle cx="298.6" cy="427.8" r="1.5" fill="#aaa" opacity="0.32" filter="url(#b05)"/><circle cx="307.5" cy="418.6" r="1.5" fill="#aaa" opacity="0.40" filter="url(#b05)"/><circle cx="295.8" cy="424.6" r="1.1" fill="#aaa" opacity="0.27" filter="url(#b05)"/><circle cx="322.9" cy="412.5" r="0.9" fill="#aaa" opacity="0.20" filter="url(#b05)"/><circle cx="294.7" cy="416.0" r="1.3" fill="#aaa" opacity="0.38" filter="url(#b05)"/><circle cx="300.5" cy="408.0" r="0.8" fill="#aaa" opacity="0.28" filter="url(#b05)"/><circle cx="305.6" cy="435.0" r="1.1" fill="#aaa" opacity="0.36" filter="url(#b05)"/><circle cx="317.0" cy="413.1" r="1.1" fill="#aaa" opacity="0.24" filter="url(#b05)"/><circle cx="306.8" cy="412.8" r="1.4" fill="#aaa" opacity="0.41" filter="url(#b05)"/><circle cx="309.2" cy="407.7" r="0.9" fill="#aaa" opacity="0.38" filter="url(#b05)"/><circle cx="318.1" cy="422.7" r="1.1" fill="#aaa" opacity="0.44" filter="url(#b05)"/><circle cx="290.9" cy="402.6" r="0.9" fill="#aaa" opacity="0.40" filter="url(#b05)"/><rect x="370.9" y="360.6" width="103.9" height="102.8" fill="#020202"/><text x="376.5" y="373.4" font-size="8.8" text-anchor="start" fill="#f4f4f4" stroke="#f4f4f4" stroke-width=".28">15 min</text><path d="M440.9 378.6 Q425.9 380.6 413.9 388.6 Q398.9 398.6 395.4 408.6 Q397.9 423.6 413.9 434.6 Q429.9 443.6 443.9 444.6" fill="none" stroke="#d4d4d4" stroke-width="2.4" opacity="0.21" filter="url(#b1)"/><path d="M440.9 378.6 Q425.9 380.6 413.9 388.6 Q398.9 398.6 395.4 408.6 Q397.9 423.6 413.9 434.6 Q429.9 443.6 443.9 444.6" fill="none" stroke="#d4d4d4" stroke-width="1.2" opacity="0.53" stroke-dasharray="5.9 2.1 2.5 1.7 5.7 1.9" stroke-dashoffset="5.3" filter="url(#b05)"/><path d="M440.9 378.6 Q439.9 393.6 442.9 409.6 Q445.9 427.6 443.9 444.6" fill="none" stroke="#e8e8e8" stroke-width="2.6" opacity="0.23" filter="url(#b1)"/><path d="M440.9 378.6 Q439.9 393.6 442.9 409.6 Q445.9 427.6 443.9 444.6" fill="none" stroke="#e8e8e8" stroke-width="1.4" opacity="0.56" stroke-dasharray="4.1 1.9 3.6 1.0 4.6 1.4" stroke-dashoffset="4.7" filter="url(#b05)"/><path d="M411.9 409.6 Q417.9 397.6 433.9 389.6" fill="none" stroke="#f4f4f4" stroke-width="2.6" opacity="0.23" filter="url(#b1)"/><path d="M411.9 409.6 Q417.9 397.6 433.9 389.6" fill="none" stroke="#f4f4f4" stroke-width="1.4" opacity="0.56" stroke-dasharray="8.0 1.2 5.4 0.7 7.2 1.7" stroke-dashoffset="9.7" filter="url(#b05)"/><path d="M411.9 409.6 L397.9 410.6" fill="none" stroke="#ccc" stroke-width="2.3" opacity="0.15" filter="url(#b1)"/><path d="M411.9 409.6 L397.9 410.6" fill="none" stroke="#ccc" stroke-width="1.1" opacity="0.37" stroke-dasharray="8.8 1.6 2.1 1.1 9.7 1.3" stroke-dashoffset="5.6" filter="url(#b05)"/><path d="M402.9 413.6 Q421.9 425.6 437.9 434.6" fill="none" stroke="#e0e0e0" stroke-width="2.4" opacity="0.19" filter="url(#b1)"/><path d="M402.9 413.6 Q421.9 425.6 437.9 434.6" fill="none" stroke="#e0e0e0" stroke-width="1.2" opacity="0.46" stroke-dasharray="6.2 0.6 7.0 1.7 5.7 2.0" stroke-dashoffset="2.9" filter="url(#b05)"/><path d="M419.9 383.6 Q411.9 395.6 407.9 407.6" fill="none" stroke="#aaa" stroke-width="2.2" opacity="0.11" filter="url(#b1)"/><path d="M419.9 383.6 Q411.9 395.6 407.9 407.6" fill="none" stroke="#aaa" stroke-width="1.0" opacity="0.28" stroke-dasharray="5.6 1.5 3.5 1.0 7.1 2.1" stroke-dashoffset="2.6" filter="url(#b05)"/><path d="M427.9 376.6 Q433.9 370.6 443.9 376.6" fill="none" stroke="#bbb" stroke-width="2.2" opacity="0.12" filter="url(#b1)"/><path d="M427.9 376.6 Q433.9 370.6 443.9 376.6" fill="none" stroke="#bbb" stroke-width="1.0" opacity="0.31" stroke-dasharray="4.4 1.8 3.6 1.9 8.5 2.2" stroke-dashoffset="3.3" filter="url(#b05)"/><circle cx="422.7" cy="407.4" r="0.8" fill="#aaa" opacity="0.22" filter="url(#b05)"/><circle cx="412.5" cy="396.2" r="0.8" fill="#aaa" opacity="0.30" filter="url(#b05)"/><circle cx="427.9" cy="398.5" r="0.8" fill="#aaa" opacity="0.26" filter="url(#b05)"/><circle cx="423.8" cy="420.4" r="1.0" fill="#aaa" opacity="0.22" filter="url(#b05)"/><circle cx="431.4" cy="406.4" r="1.1" fill="#aaa" opacity="0.36" filter="url(#b05)"/><circle cx="421.8" cy="392.9" r="1.0" fill="#aaa" opacity="0.28" filter="url(#b05)"/><circle cx="417.8" cy="415.1" r="1.0" fill="#aaa" opacity="0.37" filter="url(#b05)"/><circle cx="437.6" cy="411.3" r="1.2" fill="#aaa" opacity="0.35" filter="url(#b05)"/><circle cx="431.3" cy="415.1" r="1.0" fill="#aaa" opacity="0.36" filter="url(#b05)"/><circle cx="429.6" cy="422.4" r="1.1" fill="#aaa" opacity="0.40" filter="url(#b05)"/><circle cx="427.0" cy="397.6" r="0.8" fill="#aaa" opacity="0.39" filter="url(#b05)"/><circle cx="432.0" cy="403.9" r="1.0" fill="#aaa" opacity="0.33" filter="url(#b05)"/><circle cx="430.5" cy="428.7" r="1.5" fill="#aaa" opacity="0.33" filter="url(#b05)"/><circle cx="416.0" cy="393.1" r="0.9" fill="#aaa" opacity="0.44" filter="url(#b05)"/><path d="M442.9 390.6 q6 1 6.500 8 q0 6 -4 10 q-4 -2 -3.500 -9 q0.500 -5 1 -9z" fill="#e01c18" filter="url(#b05)"/><ellipse cx="445.4" cy="398.6" rx="1.600" ry="4" fill="#ff9a20" opacity="0.95" filter="url(#b05)"/><ellipse cx="445.7" cy="398.1" rx="0.8" ry="2" fill="#fff070" opacity="0.9" filter="url(#b05)"/><rect x="480.1" y="360.6" width="103.9" height="102.8" fill="#020202"/><text x="485.7" y="373.4" font-size="8.8" text-anchor="start" fill="#f4f4f4" stroke="#f4f4f4" stroke-width=".28">30 min</text><path d="M551.1 378.6 Q536.1 380.6 524.1 388.6 Q509.1 398.6 505.6 408.6 Q508.1 423.6 524.1 434.6 Q540.1 443.6 554.1 444.6" fill="none" stroke="#d4d4d4" stroke-width="2.4" opacity="0.21" filter="url(#b1)"/><path d="M551.1 378.6 Q536.1 380.6 524.1 388.6 Q509.1 398.6 505.6 408.6 Q508.1 423.6 524.1 434.6 Q540.1 443.6 554.1 444.6" fill="none" stroke="#d4d4d4" stroke-width="1.2" opacity="0.53" stroke-dasharray="7.4 0.9 2.4 0.9 8.6 2.2" stroke-dashoffset="3.3" filter="url(#b05)"/><path d="M551.1 378.6 Q550.1 393.6 553.1 409.6 Q556.1 427.6 554.1 444.6" fill="none" stroke="#e8e8e8" stroke-width="2.6" opacity="0.23" filter="url(#b1)"/><path d="M551.1 378.6 Q550.1 393.6 553.1 409.6 Q556.1 427.6 554.1 444.6" fill="none" stroke="#e8e8e8" stroke-width="1.4" opacity="0.56" stroke-dasharray="9.5 1.2 4.3 0.7 11.8 1.1" stroke-dashoffset="9.0" filter="url(#b05)"/><path d="M522.1 409.6 Q528.1 397.6 544.1 389.6" fill="none" stroke="#f4f4f4" stroke-width="2.6" opacity="0.23" filter="url(#b1)"/><path d="M522.1 409.6 Q528.1 397.6 544.1 389.6" fill="none" stroke="#f4f4f4" stroke-width="1.4" opacity="0.56" stroke-dasharray="6.8 1.5 4.8 0.9 11.3 2.8" stroke-dashoffset="8.2" filter="url(#b05)"/><path d="M522.1 409.6 L508.1 410.6" fill="none" stroke="#ccc" stroke-width="2.3" opacity="0.15" filter="url(#b1)"/><path d="M522.1 409.6 L508.1 410.6" fill="none" stroke="#ccc" stroke-width="1.1" opacity="0.37" stroke-dasharray="7.2 0.8 6.1 0.9 11.2 1.3" stroke-dashoffset="5.7" filter="url(#b05)"/><path d="M513.1 413.6 Q532.1 425.6 548.1 434.6" fill="none" stroke="#e0e0e0" stroke-width="2.4" opacity="0.19" filter="url(#b1)"/><path d="M513.1 413.6 Q532.1 425.6 548.1 434.6" fill="none" stroke="#e0e0e0" stroke-width="1.2" opacity="0.46" stroke-dasharray="8.8 0.9 4.7 0.6 4.3 1.2" stroke-dashoffset="9.9" filter="url(#b05)"/><path d="M530.1 383.6 Q522.1 395.6 518.1 407.6" fill="none" stroke="#aaa" stroke-width="2.2" opacity="0.11" filter="url(#b1)"/><path d="M530.1 383.6 Q522.1 395.6 518.1 407.6" fill="none" stroke="#aaa" stroke-width="1.0" opacity="0.28" stroke-dasharray="9.6 1.7 3.5 1.5 9.9 1.6" stroke-dashoffset="5.9" filter="url(#b05)"/><circle cx="537.1" cy="410.6" r="7" fill="none" stroke="#999" stroke-width="1.6" opacity="0.5" filter="url(#b1)"/><path d="M538.1 376.6 Q544.1 370.6 554.1 376.6" fill="none" stroke="#bbb" stroke-width="2.2" opacity="0.12" filter="url(#b1)"/><path d="M538.1 376.6 Q544.1 370.6 554.1 376.6" fill="none" stroke="#bbb" stroke-width="1.0" opacity="0.31" stroke-dasharray="8.6 0.6 3.0 1.2 5.1 1.6" stroke-dashoffset="5.7" filter="url(#b05)"/><circle cx="536.8" cy="428.3" r="0.9" fill="#aaa" opacity="0.34" filter="url(#b05)"/><circle cx="522.2" cy="429.6" r="0.7" fill="#aaa" opacity="0.37" filter="url(#b05)"/><circle cx="542.1" cy="431.4" r="1.2" fill="#aaa" opacity="0.32" filter="url(#b05)"/><circle cx="516.7" cy="423.2" r="1.3" fill="#aaa" opacity="0.39" filter="url(#b05)"/><circle cx="530.3" cy="397.6" r="1.5" fill="#aaa" opacity="0.41" filter="url(#b05)"/><circle cx="537.9" cy="402.0" r="1.0" fill="#aaa" opacity="0.34" filter="url(#b05)"/><circle cx="542.1" cy="404.2" r="1.1" fill="#aaa" opacity="0.31" filter="url(#b05)"/><circle cx="539.4" cy="406.2" r="0.7" fill="#aaa" opacity="0.38" filter="url(#b05)"/><circle cx="544.0" cy="402.0" r="1.2" fill="#aaa" opacity="0.39" filter="url(#b05)"/><circle cx="524.9" cy="430.3" r="0.8" fill="#aaa" opacity="0.23" filter="url(#b05)"/><circle cx="516.7" cy="418.9" r="1.0" fill="#aaa" opacity="0.21" filter="url(#b05)"/><circle cx="525.2" cy="397.9" r="0.9" fill="#aaa" opacity="0.28" filter="url(#b05)"/><circle cx="522.4" cy="420.4" r="0.8" fill="#aaa" opacity="0.43" filter="url(#b05)"/><circle cx="546.1" cy="409.7" r="1.4" fill="#aaa" opacity="0.31" filter="url(#b05)"/><path d="M553.1 390.6 q6 1 6.500 8 q0 6 -4 10 q-4 -2 -3.500 -9 q0.500 -5 1 -9z" fill="#e01c18" filter="url(#b05)"/><ellipse cx="555.6" cy="398.6" rx="1.600" ry="4" fill="#ff9a20" opacity="0.95" filter="url(#b05)"/><ellipse cx="555.9" cy="398.1" rx="0.8" ry="2" fill="#fff070" opacity="0.9" filter="url(#b05)"/><rect x="589.3" y="360.6" width="103.9" height="102.8" fill="#020202"/><text x="595.7" y="373.4" font-size="8.8" text-anchor="start" fill="#f4f4f4" stroke="#f4f4f4" stroke-width=".28">60 min</text><path d="M658.3 377.6 Q643.3 379.6 631.3 387.6 Q616.3 397.6 612.8 407.6 Q615.3 422.6 631.3 433.6 Q647.3 442.6 661.3 443.6" fill="none" stroke="#d4d4d4" stroke-width="2.4" opacity="0.21" filter="url(#b1)"/><path d="M658.3 377.6 Q643.3 379.6 631.3 387.6 Q616.3 397.6 612.8 407.6 Q615.3 422.6 631.3 433.6 Q647.3 442.6 661.3 443.6" fill="none" stroke="#d4d4d4" stroke-width="1.2" opacity="0.53" stroke-dasharray="8.6 1.0 5.7 1.4 11.2 1.0" stroke-dashoffset="7.9" filter="url(#b05)"/><path d="M658.3 377.6 Q657.3 392.6 660.3 408.6 Q663.3 426.6 661.3 443.6" fill="none" stroke="#e8e8e8" stroke-width="2.6" opacity="0.23" filter="url(#b1)"/><path d="M658.3 377.6 Q657.3 392.6 660.3 408.6 Q663.3 426.6 661.3 443.6" fill="none" stroke="#e8e8e8" stroke-width="1.4" opacity="0.56" stroke-dasharray="3.9 1.5 6.8 0.5 6.0 1.4" stroke-dashoffset="3.2" filter="url(#b05)"/><path d="M629.3 408.6 Q635.3 396.6 651.3 388.6" fill="none" stroke="#f4f4f4" stroke-width="2.6" opacity="0.23" filter="url(#b1)"/><path d="M629.3 408.6 Q635.3 396.6 651.3 388.6" fill="none" stroke="#f4f4f4" stroke-width="1.4" opacity="0.56" stroke-dasharray="3.4 2.0 6.1 1.1 6.9 2.0" stroke-dashoffset="0.5" filter="url(#b05)"/><path d="M629.3 408.6 L615.3 409.6" fill="none" stroke="#ccc" stroke-width="2.3" opacity="0.15" filter="url(#b1)"/><path d="M629.3 408.6 L615.3 409.6" fill="none" stroke="#ccc" stroke-width="1.1" opacity="0.37" stroke-dasharray="3.2 2.0 3.5 1.2 11.5 2.8" stroke-dashoffset="4.7" filter="url(#b05)"/><path d="M620.3 412.6 Q639.3 424.6 655.3 433.6" fill="none" stroke="#e0e0e0" stroke-width="2.4" opacity="0.19" filter="url(#b1)"/><path d="M620.3 412.6 Q639.3 424.6 655.3 433.6" fill="none" stroke="#e0e0e0" stroke-width="1.2" opacity="0.46" stroke-dasharray="4.4 1.1 6.6 1.8 5.6 2.5" stroke-dashoffset="3.5" filter="url(#b05)"/><path d="M637.3 382.6 Q629.3 394.6 625.3 406.6" fill="none" stroke="#aaa" stroke-width="2.2" opacity="0.11" filter="url(#b1)"/><path d="M637.3 382.6 Q629.3 394.6 625.3 406.6" fill="none" stroke="#aaa" stroke-width="1.0" opacity="0.28" stroke-dasharray="6.3 0.9 6.4 2.0 5.6 2.1" stroke-dashoffset="1.9" filter="url(#b05)"/><circle cx="644.3" cy="409.6" r="7" fill="none" stroke="#999" stroke-width="1.6" opacity="0.5" filter="url(#b1)"/><path d="M645.3 375.6 Q651.3 369.6 661.3 375.6" fill="none" stroke="#bbb" stroke-width="2.2" opacity="0.12" filter="url(#b1)"/><path d="M645.3 375.6 Q651.3 369.6 661.3 375.6" fill="none" stroke="#bbb" stroke-width="1.0" opacity="0.31" stroke-dasharray="9.2 0.7 2.5 1.6 6.5 2.6" stroke-dashoffset="8.7" filter="url(#b05)"/><circle cx="635.6" cy="404.4" r="1.3" fill="#aaa" opacity="0.43" filter="url(#b05)"/><circle cx="632.0" cy="414.8" r="0.9" fill="#aaa" opacity="0.28" filter="url(#b05)"/><circle cx="635.1" cy="402.7" r="0.8" fill="#aaa" opacity="0.26" filter="url(#b05)"/><circle cx="628.2" cy="395.0" r="1.0" fill="#aaa" opacity="0.37" filter="url(#b05)"/><circle cx="648.8" cy="400.9" r="0.9" fill="#aaa" opacity="0.28" filter="url(#b05)"/><circle cx="651.9" cy="404.3" r="0.9" fill="#aaa" opacity="0.36" filter="url(#b05)"/><circle cx="654.0" cy="424.8" r="1.1" fill="#aaa" opacity="0.33" filter="url(#b05)"/><circle cx="633.1" cy="411.7" r="1.2" fill="#aaa" opacity="0.27" filter="url(#b05)"/><circle cx="637.2" cy="433.2" r="0.8" fill="#aaa" opacity="0.27" filter="url(#b05)"/><circle cx="637.7" cy="401.2" r="0.9" fill="#aaa" opacity="0.34" filter="url(#b05)"/><circle cx="644.7" cy="432.7" r="1.5" fill="#aaa" opacity="0.21" filter="url(#b05)"/><circle cx="620.5" cy="417.4" r="1.0" fill="#aaa" opacity="0.43" filter="url(#b05)"/><circle cx="628.8" cy="412.6" r="1.1" fill="#aaa" opacity="0.36" filter="url(#b05)"/><circle cx="627.0" cy="427.0" r="1.3" fill="#aaa" opacity="0.33" filter="url(#b05)"/><path d="M659.3 389.6 q6.500 1 6.500 8.500 q0 6 -5 9" fill="none" stroke="#e01c18" stroke-width="2.8" stroke-linecap="round" filter="url(#b05)"/><path d="M659.8 392.6 q-2.500 5 -0.500 11" fill="none" stroke="#c81616" stroke-width="2" stroke-linecap="round" filter="url(#b05)"/><path d="M661.3 390.6 q4.500 2 4.500 7 q0 4 -3 6.500" fill="none" stroke="#ffa020" stroke-width="1.4" stroke-linecap="round" opacity="1.00" filter="url(#b05)"/><path d="M665.3 395.1 q1.500 3 0.500 5.500" fill="none" stroke="#fff070" stroke-width="1.1" stroke-linecap="round" opacity="1.00" filter="url(#b05)"/><rect x="698.4" y="360.6" width="103.9" height="102.8" fill="#020202"/><text x="704.8" y="373.4" font-size="8.8" text-anchor="start" fill="#f4f4f4" stroke="#f4f4f4" stroke-width=".28">120 min</text><path d="M770.4 377.6 Q755.4 379.6 743.4 387.6 Q728.4 397.6 724.9 407.6 Q727.4 422.6 743.4 433.6 Q759.4 442.6 773.4 443.6" fill="none" stroke="#d4d4d4" stroke-width="2.4" opacity="0.21" filter="url(#b1)"/><path d="M770.4 377.6 Q755.4 379.6 743.4 387.6 Q728.4 397.6 724.9 407.6 Q727.4 422.6 743.4 433.6 Q759.4 442.6 773.4 443.6" fill="none" stroke="#d4d4d4" stroke-width="1.2" opacity="0.53" stroke-dasharray="6.5 2.0 5.4 1.3 11.6 1.1" stroke-dashoffset="7.8" filter="url(#b05)"/><path d="M770.4 377.6 Q769.4 392.6 772.4 408.6 Q775.4 426.6 773.4 443.6" fill="none" stroke="#e8e8e8" stroke-width="2.6" opacity="0.23" filter="url(#b1)"/><path d="M770.4 377.6 Q769.4 392.6 772.4 408.6 Q775.4 426.6 773.4 443.6" fill="none" stroke="#e8e8e8" stroke-width="1.4" opacity="0.56" stroke-dasharray="4.2 1.6 3.2 1.2 10.2 2.4" stroke-dashoffset="7.9" filter="url(#b05)"/><path d="M741.4 408.6 Q747.4 396.6 763.4 388.6" fill="none" stroke="#f4f4f4" stroke-width="2.6" opacity="0.23" filter="url(#b1)"/><path d="M741.4 408.6 Q747.4 396.6 763.4 388.6" fill="none" stroke="#f4f4f4" stroke-width="1.4" opacity="0.56" stroke-dasharray="4.7 1.4 3.1 1.4 8.0 0.9" stroke-dashoffset="6.0" filter="url(#b05)"/><path d="M741.4 408.6 L727.4 409.6" fill="none" stroke="#ccc" stroke-width="2.3" opacity="0.15" filter="url(#b1)"/><path d="M741.4 408.6 L727.4 409.6" fill="none" stroke="#ccc" stroke-width="1.1" opacity="0.37" stroke-dasharray="8.0 1.5 6.4 0.8 5.2 0.8" stroke-dashoffset="5.0" filter="url(#b05)"/><path d="M732.4 412.6 Q751.4 424.6 767.4 433.6" fill="none" stroke="#e0e0e0" stroke-width="2.4" opacity="0.19" filter="url(#b1)"/><path d="M732.4 412.6 Q751.4 424.6 767.4 433.6" fill="none" stroke="#e0e0e0" stroke-width="1.2" opacity="0.46" stroke-dasharray="6.0 1.3 3.3 1.7 4.6 2.6" stroke-dashoffset="5.7" filter="url(#b05)"/><path d="M749.4 382.6 Q741.4 394.6 737.4 406.6" fill="none" stroke="#aaa" stroke-width="2.2" opacity="0.11" filter="url(#b1)"/><path d="M749.4 382.6 Q741.4 394.6 737.4 406.6" fill="none" stroke="#aaa" stroke-width="1.0" opacity="0.28" stroke-dasharray="6.8 1.9 3.2 0.7 6.5 0.9" stroke-dashoffset="3.1" filter="url(#b05)"/><circle cx="756.4" cy="409.6" r="7" fill="none" stroke="#999" stroke-width="1.6" opacity="0.5" filter="url(#b1)"/><path d="M757.4 375.6 Q763.4 369.6 773.4 375.6" fill="none" stroke="#bbb" stroke-width="2.2" opacity="0.12" filter="url(#b1)"/><path d="M757.4 375.6 Q763.4 369.6 773.4 375.6" fill="none" stroke="#bbb" stroke-width="1.0" opacity="0.31" stroke-dasharray="7.3 1.4 3.3 1.4 4.7 2.4" stroke-dashoffset="1.7" filter="url(#b05)"/><circle cx="749.2" cy="421.8" r="1.3" fill="#aaa" opacity="0.41" filter="url(#b05)"/><circle cx="750.5" cy="407.1" r="1.0" fill="#aaa" opacity="0.29" filter="url(#b05)"/><circle cx="753.5" cy="434.8" r="0.7" fill="#aaa" opacity="0.32" filter="url(#b05)"/><circle cx="750.8" cy="389.8" r="0.8" fill="#aaa" opacity="0.31" filter="url(#b05)"/><circle cx="749.3" cy="408.0" r="0.9" fill="#aaa" opacity="0.42" filter="url(#b05)"/><circle cx="757.3" cy="423.8" r="0.9" fill="#aaa" opacity="0.31" filter="url(#b05)"/><circle cx="752.7" cy="414.6" r="1.5" fill="#aaa" opacity="0.39" filter="url(#b05)"/><circle cx="748.4" cy="401.6" r="0.9" fill="#aaa" opacity="0.34" filter="url(#b05)"/><circle cx="750.1" cy="428.2" r="1.4" fill="#aaa" opacity="0.29" filter="url(#b05)"/><circle cx="739.1" cy="432.1" r="1.2" fill="#aaa" opacity="0.21" filter="url(#b05)"/><circle cx="736.2" cy="423.2" r="0.7" fill="#aaa" opacity="0.29" filter="url(#b05)"/><circle cx="743.1" cy="392.5" r="1.2" fill="#aaa" opacity="0.42" filter="url(#b05)"/><circle cx="737.2" cy="416.0" r="1.4" fill="#aaa" opacity="0.30" filter="url(#b05)"/><circle cx="751.2" cy="402.1" r="1.0" fill="#aaa" opacity="0.25" filter="url(#b05)"/><path d="M771.4 389.6 q6.500 1 6.500 8.500 q0 6 -5 9" fill="none" stroke="#e01c18" stroke-width="2.8" stroke-linecap="round" filter="url(#b05)"/><path d="M771.9 392.6 q-2.500 5 -0.500 11" fill="none" stroke="#c81616" stroke-width="2" stroke-linecap="round" filter="url(#b05)"/><path d="M773.4 390.6 q4.500 2 4.500 7 q0 4 -3 6.500" fill="none" stroke="#ffa020" stroke-width="1.4" stroke-linecap="round" opacity="1.00" filter="url(#b05)"/><path d="M777.4 395.1 q1.500 3 0.500 5.500" fill="none" stroke="#fff070" stroke-width="1.1" stroke-linecap="round" opacity="1.00" filter="url(#b05)"/><rect x="807.7" y="360.6" width="103.9" height="102.8" fill="#020202"/><text x="814.1" y="373.4" font-size="8.8" text-anchor="start" fill="#f4f4f4" stroke="#f4f4f4" stroke-width=".28">180 min</text><path d="M877.7 379.6 Q862.7 381.6 850.7 389.6 Q835.7 399.6 832.2 409.6 Q834.7 424.6 850.7 435.6 Q866.7 444.6 880.7 445.6" fill="none" stroke="#d4d4d4" stroke-width="2.4" opacity="0.21" filter="url(#b1)"/><path d="M877.7 379.6 Q862.7 381.6 850.7 389.6 Q835.7 399.6 832.2 409.6 Q834.7 424.6 850.7 435.6 Q866.7 444.6 880.7 445.6" fill="none" stroke="#d4d4d4" stroke-width="1.2" opacity="0.53" stroke-dasharray="6.8 0.9 3.0 0.8 7.7 1.4" stroke-dashoffset="4.5" filter="url(#b05)"/><path d="M877.7 379.6 Q876.7 394.6 879.7 410.6 Q882.7 428.6 880.7 445.6" fill="none" stroke="#e8e8e8" stroke-width="2.6" opacity="0.23" filter="url(#b1)"/><path d="M877.7 379.6 Q876.7 394.6 879.7 410.6 Q882.7 428.6 880.7 445.6" fill="none" stroke="#e8e8e8" stroke-width="1.4" opacity="0.56" stroke-dasharray="10.0 1.7 6.3 0.8 7.1 0.9" stroke-dashoffset="6.9" filter="url(#b05)"/><path d="M848.7 410.6 Q854.7 398.6 870.7 390.6" fill="none" stroke="#f4f4f4" stroke-width="2.6" opacity="0.23" filter="url(#b1)"/><path d="M848.7 410.6 Q854.7 398.6 870.7 390.6" fill="none" stroke="#f4f4f4" stroke-width="1.4" opacity="0.56" stroke-dasharray="5.5 1.0 2.1 0.8 6.1 1.6" stroke-dashoffset="9.2" filter="url(#b05)"/><path d="M848.7 410.6 L834.7 411.6" fill="none" stroke="#ccc" stroke-width="2.3" opacity="0.15" filter="url(#b1)"/><path d="M848.7 410.6 L834.7 411.6" fill="none" stroke="#ccc" stroke-width="1.1" opacity="0.37" stroke-dasharray="8.0 1.0 3.8 0.7 11.5 1.5" stroke-dashoffset="7.7" filter="url(#b05)"/><path d="M839.7 414.6 Q858.7 426.6 874.7 435.6" fill="none" stroke="#e0e0e0" stroke-width="2.4" opacity="0.19" filter="url(#b1)"/><path d="M839.7 414.6 Q858.7 426.6 874.7 435.6" fill="none" stroke="#e0e0e0" stroke-width="1.2" opacity="0.46" stroke-dasharray="8.1 2.1 2.1 1.0 7.1 1.0" stroke-dashoffset="8.8" filter="url(#b05)"/><path d="M856.7 384.6 Q848.7 396.6 844.7 408.6" fill="none" stroke="#aaa" stroke-width="2.2" opacity="0.11" filter="url(#b1)"/><path d="M856.7 384.6 Q848.7 396.6 844.7 408.6" fill="none" stroke="#aaa" stroke-width="1.0" opacity="0.28" stroke-dasharray="5.3 1.8 4.6 0.6 7.2 1.3" stroke-dashoffset="0.4" filter="url(#b05)"/><circle cx="863.7" cy="411.6" r="7" fill="none" stroke="#999" stroke-width="1.6" opacity="0.5" filter="url(#b1)"/><path d="M864.7 377.6 Q870.7 371.6 880.7 377.6" fill="none" stroke="#bbb" stroke-width="2.2" opacity="0.12" filter="url(#b1)"/><path d="M864.7 377.6 Q870.7 371.6 880.7 377.6" fill="none" stroke="#bbb" stroke-width="1.0" opacity="0.31" stroke-dasharray="4.1 1.6 2.2 1.0 7.4 1.9" stroke-dashoffset="1.4" filter="url(#b05)"/><circle cx="854.0" cy="403.3" r="1.3" fill="#aaa" opacity="0.37" filter="url(#b05)"/><circle cx="862.1" cy="422.9" r="0.9" fill="#aaa" opacity="0.38" filter="url(#b05)"/><circle cx="846.4" cy="422.6" r="1.4" fill="#aaa" opacity="0.26" filter="url(#b05)"/><circle cx="853.6" cy="427.6" r="0.9" fill="#aaa" opacity="0.21" filter="url(#b05)"/><circle cx="872.4" cy="417.4" r="1.2" fill="#aaa" opacity="0.40" filter="url(#b05)"/><circle cx="867.5" cy="412.7" r="1.2" fill="#aaa" opacity="0.43" filter="url(#b05)"/><circle cx="860.2" cy="433.3" r="1.2" fill="#aaa" opacity="0.44" filter="url(#b05)"/><circle cx="863.3" cy="406.4" r="1.2" fill="#aaa" opacity="0.22" filter="url(#b05)"/><circle cx="845.4" cy="420.9" r="0.7" fill="#aaa" opacity="0.30" filter="url(#b05)"/><circle cx="850.0" cy="428.9" r="0.9" fill="#aaa" opacity="0.24" filter="url(#b05)"/><circle cx="845.4" cy="423.7" r="0.8" fill="#aaa" opacity="0.37" filter="url(#b05)"/><circle cx="857.1" cy="421.6" r="1.0" fill="#aaa" opacity="0.31" filter="url(#b05)"/><circle cx="865.6" cy="428.9" r="1.3" fill="#aaa" opacity="0.34" filter="url(#b05)"/><circle cx="855.8" cy="411.3" r="1.0" fill="#aaa" opacity="0.29" filter="url(#b05)"/><path d="M878.7 391.6 q6.500 1 6.500 8.500 q0 6 -5 9" fill="none" stroke="#e01c18" stroke-width="2.8" stroke-linecap="round" filter="url(#b05)"/><path d="M879.2 394.6 q-2.500 5 -0.500 11" fill="none" stroke="#c81616" stroke-width="2" stroke-linecap="round" filter="url(#b05)"/><path d="M880.7 392.6 q4.500 2 4.500 7 q0 4 -3 6.500" fill="none" stroke="#ffa020" stroke-width="1.4" stroke-linecap="round" opacity="1.00" filter="url(#b05)"/><path d="M884.7 397.1 q1.500 3 0.500 5.500" fill="none" stroke="#fff070" stroke-width="1.1" stroke-linecap="round" opacity="1.00" filter="url(#b05)"/><rect x="323.3" y="277.9" width="24.7" height="24.6" fill="none" stroke="#e01818" stroke-width="1"/><text x="333.3" y="313.7" font-size="9" text-anchor="start" fill="#d81414" stroke="#d81414" stroke-width=".28">Tumor</text><rect x="323.3" y="389.1" width="24.7" height="24.6" fill="none" stroke="#e01818" stroke-width="1"/><text x="333.3" y="423.7" font-size="9" text-anchor="start" fill="#d81414" stroke="#d81414" stroke-width=".28">Tumor</text><path d="M340 296 l3 -6" stroke="#ff9a20" stroke-width="1.3" filter="url(#b05)"/><path d="M334 299 l2 -4 M338 287 l1 -3" stroke="#e01818" stroke-width="1.1" filter="url(#b05)"/><path d="M336 395 q5 6 0 14" fill="none" stroke="#d01818" stroke-width="1.2" filter="url(#b05)"/><path d="M326 281 l5 3 l-4 1z" fill="#fff"/><path d="M326 391 l5 2 l-3 2z" fill="#fff"/><rect x="895" y="345.2" width="8" height="2.4" fill="#fff"/><rect x="897.5" y="455.7" width="8" height="2.4" fill="#fff"/><rect x="916.6" y="267.2" width="10.4" height="180.2" fill="url(#hot)" stroke="#999" stroke-width="0.6"/><text x="928.5" y="271.6" font-size="9.2" text-anchor="start" fill="#111" stroke="#111" stroke-width=".28">1</text><text x="928.5" y="452.5" font-size="9.2" text-anchor="start" fill="#111" stroke="#111" stroke-width=".28">0</text><text transform="translate(937.6,350.8) rotate(-90) scale(1,1.07)" font-size="9.4" text-anchor="middle" fill="#111" stroke="#111" stroke-width=".28">PA signals (a.u.)</text></g>
<!-- p_fg -->
<g><text transform="translate(29.5,489.6) scale(0.92,1)" font-size="17" text-anchor="start" fill="#111" stroke="#111" stroke-width=".28">f</text><text x="164.9" y="491.3" font-size="12.9" text-anchor="middle" fill="#111" stroke="#111" stroke-width=".28">L-ICG@Lip</text><text transform="translate(327.0,489.8) scale(0.92,1)" font-size="17" text-anchor="start" fill="#111" stroke="#111" stroke-width=".28">g</text><text x="463.5" y="491.3" font-size="13" text-anchor="middle" fill="#111" stroke="#111" stroke-width=".28">S-ICG@Lip</text><rect x="20.9" y="495.6" width="284.0" height="91.8" fill="#fff" stroke="#1c1c1c" stroke-width="1.4"/><rect x="320.7" y="495.6" width="281.7" height="91.8" fill="#fff" stroke="#1c1c1c" stroke-width="1.4"/><rect x="23.5" y="499.1" width="52.8" height="84.0" fill="#222"/><rect x="80.8" y="499.1" width="52.8" height="84.0" fill="#222"/><rect x="137.2" y="499.1" width="52.8" height="84.0" fill="#222"/><rect x="193.3" y="499.1" width="52.8" height="84.0" fill="#222"/><rect x="249.2" y="499.1" width="52.8" height="84.0" fill="#222"/><rect x="323.3" y="499.1" width="52.8" height="84.0" fill="#222"/><rect x="378.9" y="499.1" width="52.8" height="84.0" fill="#222"/><rect x="434.8" y="499.1" width="52.8" height="84.0" fill="#222"/><rect x="490.6" y="499.1" width="52.8" height="84.0" fill="#222"/><rect x="546.4" y="499.1" width="52.8" height="84.0" fill="#222"/><clipPath id="mc0"><rect x="23.5" y="499.1" width="52.8" height="84.0"/></clipPath><g clip-path="url(#mc0)"><g transform="translate(23.5,499.1) skewX(0.0) scale(1.000,1.000)"><path d="M30,6 C27,8 24,14 22,22 C18,32 13,44 12.5,56 C12,66 15,72 18,76 L14,82 L22,82 L25,77 C28,78 31,78 34,76 L40,80 L47,83 L46,79 L40,74 C42,66 42,56 40,46 C40,38 42,34 44,30 L48,24 L46,20 L42,24 C40,28 38,30 37,28 C36,18 34,10 30,6 Z" fill="#dadada" filter="url(#b05)"/><clipPath id="mp0"><path d="M30,6 C27,8 24,14 22,22 C18,32 13,44 12.5,56 C12,66 15,72 18,76 L14,82 L22,82 L25,77 C28,78 31,78 34,76 L40,80 L47,83 L46,79 L40,74 C42,66 42,56 40,46 C40,38 42,34 44,30 L48,24 L46,20 L42,24 C40,28 38,30 37,28 C36,18 34,10 30,6 Z"/></clipPath><g clip-path="url(#mp0)"><ellipse cx="32.4" cy="60.4" rx="2.1" ry="3.9" fill="#e4e4e4" opacity="0.55" filter="url(#b15)"/><ellipse cx="44.0" cy="54.1" rx="2.3" ry="3.9" fill="#ececec" opacity="0.55" filter="url(#b15)"/><ellipse cx="18.9" cy="47.0" rx="2.7" ry="4.9" fill="#e4e4e4" opacity="0.55" filter="url(#b15)"/><ellipse cx="24.7" cy="22.4" rx="2.5" ry="5.2" fill="#a8a8a8" opacity="0.55" filter="url(#b15)"/><ellipse cx="15.0" cy="52.0" rx="2.4" ry="5.9" fill="#ececec" opacity="0.55" filter="url(#b15)"/><ellipse cx="10.2" cy="62.6" rx="4.6" ry="3.2" fill="#ececec" opacity="0.55" filter="url(#b15)"/><ellipse cx="44.6" cy="46.7" rx="2.5" ry="5.9" fill="#ececec" opacity="0.55" filter="url(#b15)"/><ellipse cx="17.1" cy="75.6" rx="2.9" ry="3.4" fill="#a8a8a8" opacity="0.55" filter="url(#b15)"/><ellipse cx="16.0" cy="19.9" rx="3.0" ry="5.3" fill="#f2f2f2" opacity="0.55" filter="url(#b15)"/><ellipse cx="31.1" cy="50.5" rx="2.2" ry="3.4" fill="#b4b4b4" opacity="0.55" filter="url(#b15)"/><ellipse cx="21.0" cy="57.4" rx="3.4" ry="4.8" fill="#ececec" opacity="0.55" filter="url(#b15)"/><ellipse cx="12.1" cy="76.3" rx="4.8" ry="3.4" fill="#f2f2f2" opacity="0.55" filter="url(#b15)"/><ellipse cx="24.6" cy="47.3" rx="3.1" ry="4.3" fill="#a8a8a8" opacity="0.55" filter="url(#b15)"/><ellipse cx="10.3" cy="13.2" rx="3.9" ry="5.8" fill="#ececec" opacity="0.55" filter="url(#b15)"/><ellipse cx="27.0" cy="52.0" rx="9" ry="19" fill="#f4f4f4" opacity="0.75" filter="url(#b3)"/><ellipse cx="30.0" cy="13.0" rx="6" ry="8" fill="#9a9a9a" opacity="0.6" filter="url(#b2)"/><ellipse cx="27.0" cy="30.0" rx="3.0" ry="2.7" fill="#8c8c8c" opacity="0.75" filter="url(#b1)"/><ellipse cx="30.0" cy="66.0" rx="3.5" ry="3.1" fill="#8c8c8c" opacity="0.75" filter="url(#b1)"/></g></g></g><clipPath id="mc1"><rect x="80.8" y="499.1" width="52.8" height="84.0"/></clipPath><g clip-path="url(#mc1)"><g transform="translate(72.8,499.1) skewX(0.0) scale(1.120,0.990)"><path d="M30,6 C27,8 24,14 22,22 C18,32 13,44 12.5,56 C12,66 15,72 18,76 L14,82 L22,82 L25,77 C28,78 31,78 34,76 L40,80 L47,83 L46,79 L40,74 C42,66 42,56 40,46 C40,38 42,34 44,30 L48,24 L46,20 L42,24 C40,28 38,30 37,28 C36,18 34,10 30,6 Z" fill="#dadada" filter="url(#b05)"/><clipPath id="mp1"><path d="M30,6 C27,8 24,14 22,22 C18,32 13,44 12.5,56 C12,66 15,72 18,76 L14,82 L22,82 L25,77 C28,78 31,78 34,76 L40,80 L47,83 L46,79 L40,74 C42,66 42,56 40,46 C40,38 42,34 44,30 L48,24 L46,20 L42,24 C40,28 38,30 37,28 C36,18 34,10 30,6 Z"/></clipPath><g clip-path="url(#mp1)"><ellipse cx="14.3" cy="26.7" rx="3.0" ry="3.4" fill="#a8a8a8" opacity="0.55" filter="url(#b15)"/><ellipse cx="28.9" cy="62.7" rx="3.8" ry="5.1" fill="#f2f2f2" opacity="0.55" filter="url(#b15)"/><ellipse cx="23.2" cy="30.1" rx="4.8" ry="2.4" fill="#a8a8a8" opacity="0.55" filter="url(#b15)"/><ellipse cx="22.3" cy="51.5" rx="3.0" ry="5.7" fill="#ececec" opacity="0.55" filter="url(#b15)"/><ellipse cx="29.6" cy="31.2" rx="2.9" ry="5.2" fill="#b4b4b4" opacity="0.55" filter="url(#b15)"/><ellipse cx="32.6" cy="59.0" rx="5.0" ry="2.6" fill="#b4b4b4" opacity="0.55" filter="url(#b15)"/><ellipse cx="11.7" cy="77.1" rx="4.8" ry="2.1" fill="#e4e4e4" opacity="0.55" filter="url(#b15)"/><ellipse cx="36.7" cy="33.4" rx="3.4" ry="3.7" fill="#b4b4b4" opacity="0.55" filter="url(#b15)"/><ellipse cx="12.0" cy="72.3" rx="4.4" ry="3.3" fill="#f2f2f2" opacity="0.55" filter="url(#b15)"/><ellipse cx="17.5" cy="76.7" rx="4.8" ry="4.5" fill="#e4e4e4" opacity="0.55" filter="url(#b15)"/><ellipse cx="38.4" cy="17.3" rx="3.1" ry="2.2" fill="#a8a8a8" opacity="0.55" filter="url(#b15)"/><ellipse cx="25.1" cy="19.6" rx="4.6" ry="5.9" fill="#e4e4e4" opacity="0.55" filter="url(#b15)"/><ellipse cx="26.3" cy="43.2" rx="3.4" ry="3.2" fill="#b4b4b4" opacity="0.55" filter="url(#b15)"/><ellipse cx="24.5" cy="20.0" rx="4.5" ry="4.1" fill="#a8a8a8" opacity="0.55" filter="url(#b15)"/><ellipse cx="27.0" cy="52.0" rx="9" ry="19" fill="#f4f4f4" opacity="0.75" filter="url(#b3)"/><ellipse cx="30.0" cy="13.0" rx="6" ry="8" fill="#9a9a9a" opacity="0.6" filter="url(#b2)"/><ellipse cx="30.0" cy="30.0" rx="3.0" ry="2.7" fill="#8c8c8c" opacity="0.75" filter="url(#b1)"/><ellipse cx="32.0" cy="66.0" rx="3.5" ry="3.1" fill="#8c8c8c" opacity="0.75" filter="url(#b1)"/></g></g></g><clipPath id="mc2"><rect x="137.2" y="499.1" width="52.8" height="84.0"/></clipPath><g clip-path="url(#mc2)"><g transform="translate(129.2,499.1) skewX(0.0) scale(1.120,0.990)"><path d="M30,6 C27,8 24,14 22,22 C18,32 13,44 12.5,56 C12,66 15,72 18,76 L14,82 L22,82 L25,77 C28,78 31,78 34,76 L40,80 L47,83 L46,79 L40,74 C42,66 42,56 40,46 C40,38 42,34 44,30 L48,24 L46,20 L42,24 C40,28 38,30 37,28 C36,18 34,10 30,6 Z" fill="#dadada" filter="url(#b05)"/><clipPath id="mp2"><path d="M30,6 C27,8 24,14 22,22 C18,32 13,44 12.5,56 C12,66 15,72 18,76 L14,82 L22,82 L25,77 C28,78 31,78 34,76 L40,80 L47,83 L46,79 L40,74 C42,66 42,56 40,46 C40,38 42,34 44,30 L48,24 L46,20 L42,24 C40,28 38,30 37,28 C36,18 34,10 30,6 Z"/></clipPath><g clip-path="url(#mp2)"><ellipse cx="16.5" cy="73.7" rx="2.5" ry="4.0" fill="#b4b4b4" opacity="0.55" filter="url(#b15)"/><ellipse cx="28.5" cy="47.3" rx="3.1" ry="5.1" fill="#e4e4e4" opacity="0.55" filter="url(#b15)"/><ellipse cx="37.9" cy="57.2" rx="4.3" ry="3.5" fill="#f2f2f2" opacity="0.55" filter="url(#b15)"/><ellipse cx="35.4" cy="29.1" rx="2.8" ry="5.9" fill="#a8a8a8" opacity="0.55" filter="url(#b15)"/><ellipse cx="35.8" cy="75.1" rx="3.9" ry="4.3" fill="#b4b4b4" opacity="0.55" filter="url(#b15)"/><ellipse cx="10.4" cy="47.2" rx="3.0" ry="3.1" fill="#b4b4b4" opacity="0.55" filter="url(#b15)"/><ellipse cx="20.4" cy="44.0" rx="3.0" ry="4.6" fill="#b4b4b4" opacity="0.55" filter="url(#b15)"/><ellipse cx="36.6" cy="66.3" rx="4.8" ry="2.7" fill="#b4b4b4" opacity="0.55" filter="url(#b15)"/><ellipse cx="41.2" cy="40.6" rx="4.9" ry="4.1" fill="#b4b4b4" opacity="0.55" filter="url(#b15)"/><ellipse cx="29.1" cy="21.3" rx="4.8" ry="3.9" fill="#b4b4b4" opacity="0.55" filter="url(#b15)"/><ellipse cx="34.9" cy="58.9" rx="2.5" ry="5.1" fill="#a8a8a8" opacity="0.55" filter="url(#b15)"/><ellipse cx="30.9" cy="55.3" rx="2.9" ry="4.2" fill="#a8a8a8" opacity="0.55" filter="url(#b15)"/><ellipse cx="41.2" cy="28.4" rx="2.6" ry="4.3" fill="#f2f2f2" opacity="0.55" filter="url(#b15)"/><ellipse cx="32.5" cy="22.3" rx="3.9" ry="2.2" fill="#ececec" opacity="0.55" filter="url(#b15)"/><ellipse cx="27.0" cy="52.0" rx="9" ry="19" fill="#f4f4f4" opacity="0.75" filter="url(#b3)"/><ellipse cx="30.0" cy="13.0" rx="6" ry="8" fill="#9a9a9a" opacity="0.6" filter="url(#b2)"/><ellipse cx="30.0" cy="30.0" rx="3.0" ry="2.7" fill="#8c8c8c" opacity="0.75" filter="url(#b1)"/><ellipse cx="32.0" cy="66.0" rx="3.5" ry="3.1" fill="#8c8c8c" opacity="0.75" filter="url(#b1)"/></g></g></g><clipPath id="mc3"><rect x="193.3" y="499.1" width="52.8" height="84.0"/></clipPath><g clip-path="url(#mc3)"><g transform="translate(193.3,499.1) skewX(0.0) scale(1.000,1.000)"><path d="M27,9 C31,7 36,8 40,12 L45,14 L42,19 C44,24 46,34 46,46 C47,56 47,64 44,70 L43,79 L40,79 L39,72 C36,75 33,76 31,76 L30,80 L28,76 C24,76 20,74 18,71 L5,71 L4,69 L16,67 C15,60 16,52 19,46 C21,40 20,36 18,33 L11,33 L9,30 L19,28 C20,22 22,14 27,9 Z" fill="#dadada" filter="url(#b05)"/><clipPath id="mp3"><path d="M27,9 C31,7 36,8 40,12 L45,14 L42,19 C44,24 46,34 46,46 C47,56 47,64 44,70 L43,79 L40,79 L39,72 C36,75 33,76 31,76 L30,80 L28,76 C24,76 20,74 18,71 L5,71 L4,69 L16,67 C15,60 16,52 19,46 C21,40 20,36 18,33 L11,33 L9,30 L19,28 C20,22 22,14 27,9 Z"/></clipPath><g clip-path="url(#mp3)"><ellipse cx="27.0" cy="25.4" rx="4.7" ry="2.4" fill="#f2f2f2" opacity="0.55" filter="url(#b15)"/><ellipse cx="44.8" cy="42.8" rx="2.1" ry="3.9" fill="#e4e4e4" opacity="0.55" filter="url(#b15)"/><ellipse cx="23.7" cy="51.6" rx="2.6" ry="4.9" fill="#e4e4e4" opacity="0.55" filter="url(#b15)"/><ellipse cx="23.5" cy="33.8" rx="4.6" ry="5.5" fill="#b4b4b4" opacity="0.55" filter="url(#b15)"/><ellipse cx="34.8" cy="47.2" rx="3.6" ry="3.2" fill="#f2f2f2" opacity="0.55" filter="url(#b15)"/><ellipse cx="20.6" cy="44.9" rx="2.9" ry="3.4" fill="#e4e4e4" opacity="0.55" filter="url(#b15)"/><ellipse cx="14.6" cy="37.8" rx="3.9" ry="3.5" fill="#e4e4e4" opacity="0.55" filter="url(#b15)"/><ellipse cx="15.1" cy="50.5" rx="3.4" ry="2.8" fill="#e4e4e4" opacity="0.55" filter="url(#b15)"/><ellipse cx="14.8" cy="16.2" rx="3.1" ry="3.3" fill="#f2f2f2" opacity="0.55" filter="url(#b15)"/><ellipse cx="43.0" cy="46.7" rx="3.9" ry="5.6" fill="#b4b4b4" opacity="0.55" filter="url(#b15)"/><ellipse cx="23.5" cy="39.4" rx="3.5" ry="3.9" fill="#ececec" opacity="0.55" filter="url(#b15)"/><ellipse cx="35.5" cy="36.1" rx="3.8" ry="3.0" fill="#ececec" opacity="0.55" filter="url(#b15)"/><ellipse cx="45.3" cy="43.7" rx="2.1" ry="5.8" fill="#a8a8a8" opacity="0.55" filter="url(#b15)"/><ellipse cx="21.1" cy="73.2" rx="3.4" ry="2.5" fill="#ececec" opacity="0.55" filter="url(#b15)"/><ellipse cx="33.0" cy="50.0" rx="9" ry="19" fill="#f4f4f4" opacity="0.75" filter="url(#b3)"/><ellipse cx="33.0" cy="15.0" rx="6" ry="8" fill="#9a9a9a" opacity="0.6" filter="url(#b2)"/><ellipse cx="30.0" cy="32.0" rx="4.0" ry="3.6" fill="#8c8c8c" opacity="0.75" filter="url(#b1)"/><ellipse cx="32.0" cy="60.0" rx="3.0" ry="2.7" fill="#8c8c8c" opacity="0.75" filter="url(#b1)"/></g></g></g><clipPath id="mc4"><rect x="249.2" y="499.1" width="52.8" height="84.0"/></clipPath><g clip-path="url(#mc4)"><g transform="translate(250.2,499.1) skewX(0.0) scale(1.000,1.000)"><path d="M27,9 C31,7 36,8 40,12 L45,14 L42,19 C44,24 46,34 46,46 C47,56 47,64 44,70 L43,79 L40,79 L39,72 C36,75 33,76 31,76 L30,80 L28,76 C24,76 20,74 18,71 L5,71 L4,69 L16,67 C15,60 16,52 19,46 C21,40 20,36 18,33 L11,33 L9,30 L19,28 C20,22 22,14 27,9 Z" fill="#dadada" filter="url(#b05)"/><clipPath id="mp4"><path d="M27,9 C31,7 36,8 40,12 L45,14 L42,19 C44,24 46,34 46,46 C47,56 47,64 44,70 L43,79 L40,79 L39,72 C36,75 33,76 31,76 L30,80 L28,76 C24,76 20,74 18,71 L5,71 L4,69 L16,67 C15,60 16,52 19,46 C21,40 20,36 18,33 L11,33 L9,30 L19,28 C20,22 22,14 27,9 Z"/></clipPath><g clip-path="url(#mp4)"><ellipse cx="32.4" cy="40.2" rx="2.1" ry="2.5" fill="#b4b4b4" opacity="0.55" filter="url(#b15)"/><ellipse cx="24.1" cy="42.7" rx="2.8" ry="5.7" fill="#e4e4e4" opacity="0.55" filter="url(#b15)"/><ellipse cx="38.1" cy="26.7" rx="4.5" ry="4.9" fill="#b4b4b4" opacity="0.55" filter="url(#b15)"/><ellipse cx="20.3" cy="43.5" rx="3.6" ry="5.5" fill="#a8a8a8" opacity="0.55" filter="url(#b15)"/><ellipse cx="41.7" cy="70.9" rx="4.3" ry="3.2" fill="#f2f2f2" opacity="0.55" filter="url(#b15)"/><ellipse cx="29.2" cy="32.9" rx="4.2" ry="2.1" fill="#b4b4b4" opacity="0.55" filter="url(#b15)"/><ellipse cx="22.6" cy="56.4" rx="2.4" ry="2.0" fill="#e4e4e4" opacity="0.55" filter="url(#b15)"/><ellipse cx="29.9" cy="56.6" rx="4.7" ry="4.2" fill="#f2f2f2" opacity="0.55" filter="url(#b15)"/><ellipse cx="10.5" cy="62.9" rx="3.8" ry="4.8" fill="#a8a8a8" opacity="0.55" filter="url(#b15)"/><ellipse cx="44.3" cy="54.1" rx="3.4" ry="4.7" fill="#a8a8a8" opacity="0.55" filter="url(#b15)"/><ellipse cx="35.9" cy="71.1" rx="4.5" ry="2.3" fill="#a8a8a8" opacity="0.55" filter="url(#b15)"/><ellipse cx="40.1" cy="57.2" rx="3.7" ry="4.6" fill="#a8a8a8" opacity="0.55" filter="url(#b15)"/><ellipse cx="27.0" cy="31.1" rx="3.4" ry="4.2" fill="#ececec" opacity="0.55" filter="url(#b15)"/><ellipse cx="27.9" cy="32.5" rx="3.3" ry="4.2" fill="#ececec" opacity="0.55" filter="url(#b15)"/><ellipse cx="33.0" cy="50.0" rx="9" ry="19" fill="#f4f4f4" opacity="0.75" filter="url(#b3)"/><ellipse cx="33.0" cy="15.0" rx="6" ry="8" fill="#9a9a9a" opacity="0.6" filter="url(#b2)"/><ellipse cx="30.0" cy="32.0" rx="4.0" ry="3.6" fill="#8c8c8c" opacity="0.75" filter="url(#b1)"/><ellipse cx="32.0" cy="60.0" rx="3.0" ry="2.7" fill="#8c8c8c" opacity="0.75" filter="url(#b1)"/></g></g></g><clipPath id="mc5"><rect x="323.3" y="499.1" width="52.8" height="84.0"/></clipPath><g clip-path="url(#mc5)"><g transform="translate(323.3,499.1) skewX(0.0) scale(1.000,1.000)"><path d="M22,9 C27,7 32,10 33,16 C36,22 38,30 38,38 C42,48 43,58 41,66 L47,72 L46,76 L38,74 C34,78 30,78 28,77 L28,84 L26,84 L25,77 C20,78 16,76 14,72 L4,77 L3,74 L11,67 C9,58 11,46 15,38 C14,30 14,22 16,16 C17,12 19,10 22,9 Z" fill="#dadada" filter="url(#b05)"/><clipPath id="mp5"><path d="M22,9 C27,7 32,10 33,16 C36,22 38,30 38,38 C42,48 43,58 41,66 L47,72 L46,76 L38,74 C34,78 30,78 28,77 L28,84 L26,84 L25,77 C20,78 16,76 14,72 L4,77 L3,74 L11,67 C9,58 11,46 15,38 C14,30 14,22 16,16 C17,12 19,10 22,9 Z"/></clipPath><g clip-path="url(#mp5)"><ellipse cx="11.7" cy="59.8" rx="4.5" ry="5.2" fill="#b4b4b4" opacity="0.55" filter="url(#b15)"/><ellipse cx="33.9" cy="11.7" rx="4.9" ry="6.0" fill="#a8a8a8" opacity="0.55" filter="url(#b15)"/><ellipse cx="35.2" cy="13.3" rx="2.7" ry="4.6" fill="#f2f2f2" opacity="0.55" filter="url(#b15)"/><ellipse cx="44.3" cy="58.4" rx="5.0" ry="4.8" fill="#ececec" opacity="0.55" filter="url(#b15)"/><ellipse cx="25.8" cy="22.4" rx="3.2" ry="2.6" fill="#ececec" opacity="0.55" filter="url(#b15)"/><ellipse cx="32.4" cy="13.0" rx="4.0" ry="5.0" fill="#f2f2f2" opacity="0.55" filter="url(#b15)"/><ellipse cx="20.1" cy="48.8" rx="4.2" ry="5.5" fill="#f2f2f2" opacity="0.55" filter="url(#b15)"/><ellipse cx="14.8" cy="39.4" rx="4.1" ry="4.0" fill="#b4b4b4" opacity="0.55" filter="url(#b15)"/><ellipse cx="22.7" cy="54.6" rx="2.4" ry="3.2" fill="#f2f2f2" opacity="0.55" filter="url(#b15)"/><ellipse cx="30.5" cy="56.1" rx="4.7" ry="4.2" fill="#b4b4b4" opacity="0.55" filter="url(#b15)"/><ellipse cx="32.4" cy="27.9" rx="2.7" ry="5.3" fill="#e4e4e4" opacity="0.55" filter="url(#b15)"/><ellipse cx="20.2" cy="76.3" rx="4.6" ry="3.8" fill="#ececec" opacity="0.55" filter="url(#b15)"/><ellipse cx="24.0" cy="18.9" rx="4.0" ry="2.3" fill="#f2f2f2" opacity="0.55" filter="url(#b15)"/><ellipse cx="34.0" cy="16.2" rx="3.5" ry="3.8" fill="#f2f2f2" opacity="0.55" filter="url(#b15)"/><ellipse cx="26.0" cy="46.0" rx="9" ry="19" fill="#f4f4f4" opacity="0.75" filter="url(#b3)"/><ellipse cx="25.0" cy="15.0" rx="6" ry="8" fill="#9a9a9a" opacity="0.6" filter="url(#b2)"/><ellipse cx="16.0" cy="30.0" rx="3.5" ry="3.1" fill="#8c8c8c" opacity="0.75" filter="url(#b1)"/><ellipse cx="32.0" cy="30.0" rx="3.5" ry="3.1" fill="#8c8c8c" opacity="0.75" filter="url(#b1)"/><ellipse cx="29.0" cy="64.0" rx="5.0" ry="4.5" fill="#8c8c8c" opacity="0.75" filter="url(#b1)"/></g></g></g><clipPath id="mc6"><rect x="378.9" y="499.1" width="52.8" height="84.0"/></clipPath><g clip-path="url(#mc6)"><g transform="translate(378.9,499.1) skewX(0.0) scale(1.000,1.000)"><path d="M26,11 C30,10 36,13 40,17 L47,19 L46,25 L42,25 C46,34 48,46 48,56 C48,64 46,72 43,76 L44,84 L40,84 L39,78 C36,80 32,80 30,79 L30,84 L27,80 C22,80 18,76 17,70 L12,80 L8,82 L10,77 L16,66 C15,58 17,50 20,44 C22,40 22,36 21,33 L18,32 L15,29 L21,28 C21,22 22,16 26,11 Z" fill="#dadada" filter="url(#b05)"/><clipPath id="mp6"><path d="M26,11 C30,10 36,13 40,17 L47,19 L46,25 L42,25 C46,34 48,46 48,56 C48,64 46,72 43,76 L44,84 L40,84 L39,78 C36,80 32,80 30,79 L30,84 L27,80 C22,80 18,76 17,70 L12,80 L8,82 L10,77 L16,66 C15,58 17,50 20,44 C22,40 22,36 21,33 L18,32 L15,29 L21,28 C21,22 22,16 26,11 Z"/></clipPath><g clip-path="url(#mp6)"><ellipse cx="24.0" cy="41.5" rx="2.3" ry="4.1" fill="#b4b4b4" opacity="0.55" filter="url(#b15)"/><ellipse cx="29.5" cy="36.2" rx="4.8" ry="3.7" fill="#ececec" opacity="0.55" filter="url(#b15)"/><ellipse cx="38.6" cy="61.0" rx="4.9" ry="4.7" fill="#f2f2f2" opacity="0.55" filter="url(#b15)"/><ellipse cx="39.5" cy="19.5" rx="3.1" ry="5.3" fill="#e4e4e4" opacity="0.55" filter="url(#b15)"/><ellipse cx="20.4" cy="73.3" rx="4.4" ry="3.5" fill="#b4b4b4" opacity="0.55" filter="url(#b15)"/><ellipse cx="36.0" cy="34.4" rx="4.4" ry="3.7" fill="#b4b4b4" opacity="0.55" filter="url(#b15)"/><ellipse cx="40.7" cy="45.2" rx="5.0" ry="2.9" fill="#e4e4e4" opacity="0.55" filter="url(#b15)"/><ellipse cx="16.5" cy="14.3" rx="2.1" ry="2.8" fill="#f2f2f2" opacity="0.55" filter="url(#b15)"/><ellipse cx="11.4" cy="70.5" rx="4.0" ry="3.4" fill="#a8a8a8" opacity="0.55" filter="url(#b15)"/><ellipse cx="25.4" cy="30.4" rx="4.8" ry="3.3" fill="#e4e4e4" opacity="0.55" filter="url(#b15)"/><ellipse cx="26.6" cy="23.0" rx="2.2" ry="5.5" fill="#ececec" opacity="0.55" filter="url(#b15)"/><ellipse cx="41.3" cy="41.9" rx="2.8" ry="3.1" fill="#e4e4e4" opacity="0.55" filter="url(#b15)"/><ellipse cx="15.8" cy="29.5" rx="2.1" ry="5.6" fill="#ececec" opacity="0.55" filter="url(#b15)"/><ellipse cx="22.4" cy="61.1" rx="4.8" ry="4.8" fill="#b4b4b4" opacity="0.55" filter="url(#b15)"/><ellipse cx="34.0" cy="52.0" rx="9" ry="19" fill="#f4f4f4" opacity="0.75" filter="url(#b3)"/><ellipse cx="31.0" cy="18.0" rx="6" ry="8" fill="#9a9a9a" opacity="0.6" filter="url(#b2)"/></g></g></g><clipPath id="mc7"><rect x="434.8" y="499.1" width="52.8" height="84.0"/></clipPath><g clip-path="url(#mc7)"><g transform="translate(433.8,500.1) skewX(0.0) scale(1.000,1.000)"><path d="M26,11 C30,10 36,13 40,17 L47,19 L46,25 L42,25 C46,34 48,46 48,56 C48,64 46,72 43,76 L44,84 L40,84 L39,78 C36,80 32,80 30,79 L30,84 L27,80 C22,80 18,76 17,70 L12,80 L8,82 L10,77 L16,66 C15,58 17,50 20,44 C22,40 22,36 21,33 L18,32 L15,29 L21,28 C21,22 22,16 26,11 Z" fill="#dadada" filter="url(#b05)"/><clipPath id="mp7"><path d="M26,11 C30,10 36,13 40,17 L47,19 L46,25 L42,25 C46,34 48,46 48,56 C48,64 46,72 43,76 L44,84 L40,84 L39,78 C36,80 32,80 30,79 L30,84 L27,80 C22,80 18,76 17,70 L12,80 L8,82 L10,77 L16,66 C15,58 17,50 20,44 C22,40 22,36 21,33 L18,32 L15,29 L21,28 C21,22 22,16 26,11 Z"/></clipPath><g clip-path="url(#mp7)"><ellipse cx="34.3" cy="42.1" rx="2.4" ry="4.7" fill="#ececec" opacity="0.55" filter="url(#b15)"/><ellipse cx="20.5" cy="55.9" rx="2.1" ry="4.9" fill="#ececec" opacity="0.55" filter="url(#b15)"/><ellipse cx="30.7" cy="54.6" rx="3.2" ry="5.9" fill="#e4e4e4" opacity="0.55" filter="url(#b15)"/><ellipse cx="23.1" cy="31.2" rx="3.1" ry="2.3" fill="#a8a8a8" opacity="0.55" filter="url(#b15)"/><ellipse cx="45.8" cy="41.8" rx="2.5" ry="2.8" fill="#ececec" opacity="0.55" filter="url(#b15)"/><ellipse cx="11.6" cy="51.4" rx="2.0" ry="2.2" fill="#b4b4b4" opacity="0.55" filter="url(#b15)"/><ellipse cx="38.1" cy="37.9" rx="2.1" ry="5.3" fill="#f2f2f2" opacity="0.55" filter="url(#b15)"/><ellipse cx="40.1" cy="48.4" rx="4.1" ry="2.9" fill="#f2f2f2" opacity="0.55" filter="url(#b15)"/><ellipse cx="38.9" cy="16.3" rx="2.2" ry="3.0" fill="#a8a8a8" opacity="0.55" filter="url(#b15)"/><ellipse cx="11.8" cy="37.0" rx="2.1" ry="5.3" fill="#f2f2f2" opacity="0.55" filter="url(#b15)"/><ellipse cx="26.1" cy="53.6" rx="4.9" ry="2.8" fill="#f2f2f2" opacity="0.55" filter="url(#b15)"/><ellipse cx="35.0" cy="53.6" rx="3.6" ry="2.3" fill="#ececec" opacity="0.55" filter="url(#b15)"/><ellipse cx="21.3" cy="17.3" rx="5.0" ry="2.6" fill="#e4e4e4" opacity="0.55" filter="url(#b15)"/><ellipse cx="12.7" cy="59.6" rx="2.1" ry="4.2" fill="#e4e4e4" opacity="0.55" filter="url(#b15)"/><ellipse cx="34.0" cy="52.0" rx="9" ry="19" fill="#f4f4f4" opacity="0.75" filter="url(#b3)"/><ellipse cx="31.0" cy="18.0" rx="6" ry="8" fill="#9a9a9a" opacity="0.6" filter="url(#b2)"/></g></g></g><clipPath id="mc8"><rect x="490.6" y="499.1" width="52.8" height="84.0"/></clipPath><g clip-path="url(#mc8)"><g transform="translate(476.6,502.1) skewX(6.5) scale(1.000,0.970)"><path d="M26,11 C30,10 36,13 40,17 L47,19 L46,25 L42,25 C46,34 48,46 48,56 C48,64 46,72 43,76 L44,84 L40,84 L39,78 C36,80 32,80 30,79 L30,84 L27,80 C22,80 18,76 17,70 L12,80 L8,82 L10,77 L16,66 C15,58 17,50 20,44 C22,40 22,36 21,33 L18,32 L15,29 L21,28 C21,22 22,16 26,11 Z" fill="#dadada" filter="url(#b05)"/><clipPath id="mp8"><path d="M26,11 C30,10 36,13 40,17 L47,19 L46,25 L42,25 C46,34 48,46 48,56 C48,64 46,72 43,76 L44,84 L40,84 L39,78 C36,80 32,80 30,79 L30,84 L27,80 C22,80 18,76 17,70 L12,80 L8,82 L10,77 L16,66 C15,58 17,50 20,44 C22,40 22,36 21,33 L18,32 L15,29 L21,28 C21,22 22,16 26,11 Z"/></clipPath><g clip-path="url(#mp8)"><ellipse cx="27.5" cy="48.9" rx="3.6" ry="2.5" fill="#a8a8a8" opacity="0.55" filter="url(#b15)"/><ellipse cx="10.4" cy="61.4" rx="4.7" ry="6.0" fill="#a8a8a8" opacity="0.55" filter="url(#b15)"/><ellipse cx="30.0" cy="19.4" rx="2.3" ry="5.1" fill="#a8a8a8" opacity="0.55" filter="url(#b15)"/><ellipse cx="39.5" cy="31.3" rx="3.6" ry="3.9" fill="#ececec" opacity="0.55" filter="url(#b15)"/><ellipse cx="35.1" cy="64.3" rx="4.0" ry="3.1" fill="#e4e4e4" opacity="0.55" filter="url(#b15)"/><ellipse cx="27.7" cy="26.9" rx="4.4" ry="5.5" fill="#ececec" opacity="0.55" filter="url(#b15)"/><ellipse cx="41.9" cy="14.9" rx="3.1" ry="5.1" fill="#b4b4b4" opacity="0.55" filter="url(#b15)"/><ellipse cx="10.0" cy="29.4" rx="3.7" ry="3.8" fill="#ececec" opacity="0.55" filter="url(#b15)"/><ellipse cx="39.4" cy="54.6" rx="4.2" ry="4.8" fill="#f2f2f2" opacity="0.55" filter="url(#b15)"/><ellipse cx="19.6" cy="65.2" rx="3.7" ry="3.3" fill="#a8a8a8" opacity="0.55" filter="url(#b15)"/><ellipse cx="21.0" cy="19.3" rx="4.0" ry="3.1" fill="#a8a8a8" opacity="0.55" filter="url(#b15)"/><ellipse cx="12.3" cy="61.9" rx="2.1" ry="2.5" fill="#e4e4e4" opacity="0.55" filter="url(#b15)"/><ellipse cx="44.9" cy="66.2" rx="4.6" ry="5.8" fill="#a8a8a8" opacity="0.55" filter="url(#b15)"/><ellipse cx="32.0" cy="25.7" rx="2.4" ry="2.8" fill="#a8a8a8" opacity="0.55" filter="url(#b15)"/><ellipse cx="34.0" cy="52.0" rx="9" ry="19" fill="#f4f4f4" opacity="0.75" filter="url(#b3)"/><ellipse cx="31.0" cy="18.0" rx="6" ry="8" fill="#9a9a9a" opacity="0.6" filter="url(#b2)"/></g></g></g><clipPath id="mc9"><rect x="546.4" y="499.1" width="52.8" height="84.0"/></clipPath><g clip-path="url(#mc9)"><g transform="translate(541.4,501.1) skewX(0.0) scale(1.070,0.970)"><path d="M26,11 C30,10 36,13 40,17 L47,19 L46,25 L42,25 C46,34 48,46 48,56 C48,64 46,72 43,76 L44,84 L40,84 L39,78 C36,80 32,80 30,79 L30,84 L27,80 C22,80 18,76 17,70 L12,80 L8,82 L10,77 L16,66 C15,58 17,50 20,44 C22,40 22,36 21,33 L18,32 L15,29 L21,28 C21,22 22,16 26,11 Z" fill="#dadada" filter="url(#b05)"/><clipPath id="mp9"><path d="M26,11 C30,10 36,13 40,17 L47,19 L46,25 L42,25 C46,34 48,46 48,56 C48,64 46,72 43,76 L44,84 L40,84 L39,78 C36,80 32,80 30,79 L30,84 L27,80 C22,80 18,76 17,70 L12,80 L8,82 L10,77 L16,66 C15,58 17,50 20,44 C22,40 22,36 21,33 L18,32 L15,29 L21,28 C21,22 22,16 26,11 Z"/></clipPath><g clip-path="url(#mp9)"><ellipse cx="22.9" cy="21.1" rx="4.5" ry="4.9" fill="#e4e4e4" opacity="0.55" filter="url(#b15)"/><ellipse cx="13.4" cy="46.1" rx="3.9" ry="2.6" fill="#ececec" opacity="0.55" filter="url(#b15)"/><ellipse cx="37.5" cy="39.6" rx="2.4" ry="3.3" fill="#a8a8a8" opacity="0.55" filter="url(#b15)"/><ellipse cx="42.9" cy="41.3" rx="2.5" ry="2.2" fill="#a8a8a8" opacity="0.55" filter="url(#b15)"/><ellipse cx="34.0" cy="20.9" rx="4.9" ry="4.4" fill="#a8a8a8" opacity="0.55" filter="url(#b15)"/><ellipse cx="13.7" cy="65.4" rx="4.1" ry="2.8" fill="#a8a8a8" opacity="0.55" filter="url(#b15)"/><ellipse cx="10.0" cy="71.8" rx="3.4" ry="5.5" fill="#ececec" opacity="0.55" filter="url(#b15)"/><ellipse cx="24.1" cy="24.7" rx="4.5" ry="3.2" fill="#b4b4b4" opacity="0.55" filter="url(#b15)"/><ellipse cx="28.6" cy="62.0" rx="3.1" ry="5.2" fill="#ececec" opacity="0.55" filter="url(#b15)"/><ellipse cx="39.3" cy="55.1" rx="3.9" ry="3.6" fill="#f2f2f2" opacity="0.55" filter="url(#b15)"/><ellipse cx="15.1" cy="66.6" rx="3.1" ry="2.4" fill="#a8a8a8" opacity="0.55" filter="url(#b15)"/><ellipse cx="24.3" cy="61.2" rx="4.7" ry="2.8" fill="#b4b4b4" opacity="0.55" filter="url(#b15)"/><ellipse cx="38.7" cy="32.0" rx="4.6" ry="4.5" fill="#a8a8a8" opacity="0.55" filter="url(#b15)"/><ellipse cx="38.8" cy="35.6" rx="2.3" ry="4.4" fill="#f2f2f2" opacity="0.55" filter="url(#b15)"/><ellipse cx="34.0" cy="52.0" rx="9" ry="19" fill="#f4f4f4" opacity="0.75" filter="url(#b3)"/><ellipse cx="31.0" cy="18.0" rx="6" ry="8" fill="#9a9a9a" opacity="0.6" filter="url(#b2)"/></g></g></g><path d="M119.8 544.3 Q120.7 545.4 121.5 547.3 Q122.4 549.2 119.7 550.3 Q116.9 551.3 114.2 550.6 Q111.5 549.8 109.1 549.2 Q106.7 548.6 106.0 547.0 Q105.3 545.4 105.6 543.7 Q106.0 541.9 108.3 540.7 Q110.6 539.4 113.2 540.4 Q115.9 541.5 117.4 542.3 Q118.9 543.1 119.8 544.3Z" fill="#3a22dc" filter="url(#b05)"/><path d="M122.0 543.9 Q123.3 545.3 121.0 546.3 Q118.7 547.3 117.6 548.6 Q116.6 549.8 114.0 550.2 Q111.5 550.6 110.2 549.1 Q108.9 547.7 106.5 546.5 Q104.2 545.3 105.3 543.6 Q106.3 541.8 109.4 541.9 Q112.5 542.0 114.2 542.1 Q116.0 542.1 118.4 542.2 Q120.8 542.4 122.0 543.9Z" fill="#1e5af0" filter="url(#b05)"/><path d="M120.4 544.0 Q120.5 545.3 120.3 546.5 Q120.1 547.7 118.2 547.9 Q116.3 548.2 114.6 548.4 Q113.0 548.6 111.2 548.2 Q109.3 547.7 108.6 546.5 Q107.8 545.3 108.9 544.2 Q110.0 543.2 111.5 542.5 Q113.0 541.9 114.7 541.9 Q116.5 541.9 118.4 542.3 Q120.2 542.8 120.4 544.0Z" fill="#18c0f0" filter="url(#b05)"/><path d="M120.9 543.7 Q121.7 544.9 120.6 546.0 Q119.5 547.1 118.0 547.9 Q116.5 548.7 114.8 548.2 Q113.0 547.7 110.6 547.7 Q108.2 547.7 107.7 546.3 Q107.2 544.9 109.0 544.1 Q110.7 543.2 111.8 542.5 Q112.8 541.7 114.7 541.3 Q116.6 540.9 118.3 541.7 Q120.0 542.5 120.9 543.7Z" fill="#30dc70" filter="url(#b05)"/><path d="M119.8 544.1 Q121.1 544.8 120.3 545.8 Q119.5 546.8 118.0 547.1 Q116.4 547.4 114.9 547.7 Q113.4 547.9 111.7 547.5 Q110.0 547.1 109.5 546.0 Q108.9 544.8 109.9 543.9 Q110.9 543.0 112.2 542.4 Q113.4 541.7 114.8 542.2 Q116.2 542.7 117.3 543.0 Q118.5 543.3 119.8 544.1Z" fill="#a8e822" filter="url(#b05)"/><path d="M118.6 544.1 Q118.7 544.8 118.7 545.5 Q118.8 546.3 117.8 546.9 Q116.8 547.4 115.4 547.4 Q114.0 547.4 113.2 546.8 Q112.4 546.1 111.9 545.5 Q111.5 544.8 111.8 544.0 Q112.1 543.3 113.0 542.6 Q113.9 542.0 115.3 542.2 Q116.7 542.4 117.6 542.9 Q118.5 543.4 118.6 544.1Z" fill="#f4e61c" filter="url(#b05)"/><path d="M117.8 543.9 Q117.6 544.4 117.9 545.0 Q118.2 545.7 117.4 546.2 Q116.6 546.7 115.5 546.5 Q114.4 546.3 113.7 545.9 Q113.1 545.5 113.0 544.9 Q112.9 544.4 112.9 543.9 Q112.9 543.3 113.5 542.7 Q114.2 542.1 115.3 542.2 Q116.5 542.3 117.2 542.8 Q117.9 543.3 117.8 543.9Z" fill="#f8901a" filter="url(#b05)"/><path d="M117.8 543.8 Q117.9 544.2 117.9 544.7 Q117.9 545.1 117.2 545.3 Q116.5 545.5 115.9 545.4 Q115.2 545.4 114.8 545.1 Q114.4 544.8 114.1 544.5 Q113.8 544.2 113.7 543.8 Q113.7 543.3 114.6 543.3 Q115.4 543.4 116.0 543.1 Q116.6 542.8 117.2 543.1 Q117.8 543.3 117.8 543.8Z" fill="#ee1c1c" filter="url(#b05)"/><path d="M172.0 546.9 Q173.5 549.4 172.7 552.5 Q171.8 555.6 169.0 555.1 Q166.2 554.6 164.8 554.7 Q163.4 554.8 160.8 555.0 Q158.2 555.2 157.7 552.3 Q157.1 549.4 158.0 546.8 Q158.8 544.1 160.9 543.5 Q163.0 542.8 165.0 542.0 Q167.0 541.2 168.8 542.8 Q170.5 544.3 172.0 546.9Z" fill="#3a22dc" filter="url(#b05)"/><path d="M169.2 547.6 Q170.4 549.0 169.8 550.9 Q169.2 552.9 168.1 554.8 Q167.0 556.8 164.7 557.4 Q162.5 558.0 160.6 556.3 Q158.7 554.5 158.8 551.7 Q158.9 549.0 159.6 547.0 Q160.4 545.0 161.9 544.2 Q163.4 543.4 164.7 543.9 Q166.1 544.5 167.1 545.4 Q168.0 546.2 169.2 547.6Z" fill="#1e5af0" filter="url(#b05)"/><path d="M169.9 546.4 Q169.4 548.8 169.7 551.1 Q170.0 553.4 168.2 554.0 Q166.4 554.7 164.8 554.8 Q163.2 554.8 162.4 553.3 Q161.5 551.7 161.5 550.3 Q161.5 548.8 161.4 547.2 Q161.3 545.7 162.5 545.1 Q163.7 544.5 165.0 543.7 Q166.4 543.0 168.4 543.5 Q170.3 544.0 169.9 546.4Z" fill="#18c0f0" filter="url(#b05)"/><path d="M169.0 547.3 Q170.4 548.5 169.7 550.3 Q169.1 552.1 167.8 553.1 Q166.5 554.1 164.9 554.4 Q163.3 554.7 162.2 553.3 Q161.0 552.0 160.5 550.2 Q159.9 548.5 160.9 547.1 Q162.0 545.8 162.6 543.9 Q163.3 542.0 165.0 542.0 Q166.7 542.0 167.2 544.1 Q167.6 546.2 169.0 547.3Z" fill="#30dc70" filter="url(#b05)"/><path d="M168.2 547.5 Q168.5 548.7 168.3 549.9 Q168.0 551.2 167.1 551.9 Q166.3 552.6 165.1 553.2 Q163.9 553.7 163.2 552.4 Q162.5 551.1 161.8 549.9 Q161.1 548.7 161.9 547.6 Q162.8 546.5 163.4 545.2 Q163.9 543.8 165.2 543.7 Q166.6 543.7 167.2 545.0 Q167.9 546.4 168.2 547.5Z" fill="#a8e822" filter="url(#b05)"/><path d="M167.6 548.4 Q168.2 549.2 167.8 550.1 Q167.3 550.9 166.6 551.2 Q165.9 551.5 165.3 551.6 Q164.6 551.7 163.8 551.5 Q163.0 551.2 163.2 550.2 Q163.4 549.2 163.0 548.0 Q162.7 546.9 163.7 546.8 Q164.6 546.7 165.5 546.1 Q166.3 545.4 166.7 546.5 Q167.1 547.6 167.6 548.4Z" fill="#f4e61c" filter="url(#b05)"/><path d="M167.0 549.0 Q167.4 549.4 167.2 550.0 Q167.1 550.6 166.7 551.0 Q166.3 551.5 165.7 551.4 Q165.2 551.4 164.9 550.9 Q164.6 550.4 164.5 549.9 Q164.4 549.4 164.4 548.8 Q164.4 548.2 164.7 547.6 Q165.1 547.0 165.7 547.2 Q166.3 547.4 166.5 548.0 Q166.7 548.6 167.0 549.0Z" fill="#f8901a" filter="url(#b05)"/><path d="M165.8 529.6 Q165.9 530.0 165.9 530.5 Q165.8 531.0 165.6 531.2 Q165.3 531.4 165.0 531.5 Q164.7 531.6 164.4 531.3 Q164.1 531.0 164.2 530.5 Q164.2 530.0 164.3 529.6 Q164.4 529.3 164.5 528.8 Q164.6 528.3 165.0 528.4 Q165.3 528.6 165.5 528.9 Q165.7 529.2 165.8 529.6Z" fill="#3a22dc" filter="url(#b05)"/><path d="M165.6 529.8 Q165.7 530.0 165.6 530.3 Q165.5 530.5 165.4 530.7 Q165.3 530.9 165.1 530.8 Q164.9 530.7 164.7 530.6 Q164.6 530.6 164.5 530.3 Q164.4 530.0 164.5 529.7 Q164.6 529.4 164.7 529.2 Q164.9 529.0 165.1 529.0 Q165.3 529.1 165.4 529.3 Q165.4 529.6 165.6 529.8Z" fill="#1e5af0" filter="url(#b05)"/><path d="M278.0 545.9 Q278.1 546.2 278.0 546.5 Q277.9 546.8 277.8 547.0 Q277.6 547.3 277.4 547.2 Q277.2 547.2 277.0 547.0 Q276.9 546.8 276.8 546.5 Q276.6 546.2 276.6 545.8 Q276.6 545.4 276.9 545.1 Q277.1 544.9 277.4 544.9 Q277.7 544.9 277.8 545.3 Q278.0 545.6 278.0 545.9Z" fill="#3a22dc" filter="url(#b05)"/><path d="M277.8 545.9 Q277.8 546.2 277.8 546.3 Q277.7 546.5 277.6 546.6 Q277.5 546.7 277.4 546.8 Q277.2 546.9 277.1 546.8 Q276.9 546.6 276.9 546.4 Q276.8 546.2 276.9 545.9 Q276.9 545.7 277.1 545.6 Q277.3 545.6 277.4 545.6 Q277.5 545.6 277.7 545.6 Q277.8 545.7 277.8 545.9Z" fill="#1e5af0" filter="url(#b05)"/><path d="M408.1 512.9 Q409.2 514.3 409.7 516.0 Q410.1 517.8 410.0 519.2 Q410.0 520.6 409.0 520.6 Q408.1 520.5 407.1 520.4 Q406.0 520.3 404.9 518.6 Q403.7 516.8 403.3 514.9 Q402.8 513.0 403.3 512.1 Q403.8 511.2 404.3 510.5 Q404.9 509.7 406.0 510.6 Q407.1 511.5 408.1 512.9Z" fill="#3a22dc" filter="url(#b05)"/><path d="M408.2 513.1 Q409.3 514.6 409.3 516.1 Q409.2 517.7 409.6 519.4 Q410.0 521.2 409.1 521.3 Q408.2 521.4 407.1 520.6 Q406.0 519.7 405.2 518.3 Q404.3 516.9 403.6 515.2 Q402.9 513.6 403.2 512.4 Q403.5 511.3 404.1 510.8 Q404.8 510.2 405.9 510.9 Q407.0 511.7 408.2 513.1Z" fill="#1e5af0" filter="url(#b05)"/><path d="M407.9 513.4 Q409.0 514.9 409.5 516.7 Q410.0 518.5 409.7 519.6 Q409.3 520.6 408.4 520.4 Q407.6 520.2 406.8 519.6 Q406.0 519.1 405.2 518.0 Q404.5 517.0 403.6 515.4 Q402.7 513.7 403.2 513.0 Q403.8 512.2 404.4 511.8 Q405.0 511.5 405.9 511.7 Q406.9 511.9 407.9 513.4Z" fill="#18c0f0" filter="url(#b05)"/><path d="M407.5 513.8 Q408.3 515.3 408.4 516.5 Q408.6 517.7 408.8 519.0 Q409.0 520.3 408.4 520.8 Q407.8 521.3 406.9 520.2 Q405.9 519.1 405.2 518.0 Q404.5 517.0 404.0 515.7 Q403.5 514.4 403.8 513.7 Q404.2 512.9 404.5 512.3 Q404.9 511.6 405.8 512.0 Q406.7 512.4 407.5 513.8Z" fill="#30dc70" filter="url(#b05)"/><path d="M407.6 514.0 Q408.4 515.2 408.5 516.4 Q408.6 517.7 408.7 518.8 Q408.8 519.9 408.2 520.0 Q407.5 520.1 406.7 519.8 Q406.0 519.4 405.4 518.2 Q404.8 516.9 404.1 515.6 Q403.5 514.3 403.9 513.7 Q404.4 513.2 404.8 512.9 Q405.3 512.6 406.0 512.7 Q406.8 512.7 407.6 514.0Z" fill="#a8e822" filter="url(#b05)"/><path d="M407.5 514.2 Q408.1 515.4 408.4 516.5 Q408.6 517.5 408.6 518.3 Q408.5 519.1 408.1 519.6 Q407.7 520.1 407.0 519.3 Q406.2 518.6 405.7 517.7 Q405.1 516.8 404.7 515.7 Q404.2 514.6 404.4 514.0 Q404.7 513.3 405.0 512.7 Q405.3 512.2 406.1 512.6 Q406.9 513.0 407.5 514.2Z" fill="#f4e61c" filter="url(#b05)"/><path d="M407.5 514.6 Q408.0 515.5 408.3 516.5 Q408.7 517.5 408.4 518.0 Q408.2 518.5 407.9 519.1 Q407.7 519.7 407.0 519.1 Q406.4 518.4 405.8 517.6 Q405.3 516.8 405.1 515.9 Q404.9 515.0 404.8 514.1 Q404.8 513.3 405.2 513.0 Q405.6 512.7 406.3 513.2 Q406.9 513.7 407.5 514.6Z" fill="#f8901a" filter="url(#b05)"/><path d="M407.5 514.9 Q407.9 515.7 408.3 516.6 Q408.6 517.5 408.7 518.4 Q408.7 519.2 408.2 519.2 Q407.7 519.2 407.1 518.9 Q406.5 518.5 406.1 517.7 Q405.7 516.8 405.3 515.9 Q404.9 515.1 405.0 514.4 Q405.1 513.8 405.5 513.6 Q405.9 513.5 406.5 513.8 Q407.0 514.2 407.5 514.9Z" fill="#ee1c1c" filter="url(#b05)"/><path d="M413.1 522.4 Q414.1 524.4 414.8 526.3 Q415.4 528.2 415.7 530.1 Q416.0 532.1 414.8 531.7 Q413.6 531.3 412.6 530.6 Q411.5 529.9 410.4 528.3 Q409.3 526.7 409.1 525.0 Q408.9 523.4 408.7 521.8 Q408.4 520.2 409.1 519.6 Q409.8 519.1 411.0 519.7 Q412.1 520.4 413.1 522.4Z" fill="#3a22dc" filter="url(#b05)"/><path d="M412.5 523.6 Q413.2 524.6 414.2 526.3 Q415.2 527.9 415.1 529.2 Q414.9 530.4 413.8 529.7 Q412.8 529.0 412.1 529.6 Q411.3 530.2 410.2 528.3 Q409.1 526.5 408.7 524.7 Q408.3 522.9 408.5 521.7 Q408.6 520.5 409.5 520.9 Q410.4 521.3 411.1 522.0 Q411.8 522.7 412.5 523.6Z" fill="#1e5af0" filter="url(#b05)"/><path d="M412.5 522.9 Q413.0 524.3 413.4 525.4 Q413.8 526.5 413.6 527.1 Q413.4 527.6 413.2 528.4 Q413.0 529.1 412.2 528.5 Q411.5 527.9 410.5 526.9 Q409.6 525.9 409.4 524.5 Q409.1 523.0 409.1 521.9 Q409.1 520.8 409.7 520.7 Q410.3 520.6 411.1 521.1 Q411.9 521.5 412.5 522.9Z" fill="#18c0f0" filter="url(#b05)"/><path d="M412.6 523.1 Q413.4 523.9 413.8 525.3 Q414.3 526.6 414.1 527.5 Q414.0 528.4 413.4 528.5 Q412.9 528.6 412.2 527.7 Q411.5 526.9 411.0 526.1 Q410.5 525.2 410.2 524.3 Q409.9 523.4 410.1 523.0 Q410.2 522.5 410.3 521.6 Q410.4 520.8 411.1 521.6 Q411.8 522.4 412.6 523.1Z" fill="#30dc70" filter="url(#b05)"/><path d="M412.5 523.3 Q413.1 524.0 413.3 525.0 Q413.6 525.9 413.2 526.1 Q412.8 526.2 412.6 526.4 Q412.4 526.7 412.0 526.8 Q411.6 526.9 411.2 526.0 Q410.8 525.1 410.3 524.1 Q409.8 523.2 410.1 522.9 Q410.4 522.5 410.8 522.6 Q411.2 522.7 411.5 522.7 Q411.9 522.6 412.5 523.3Z" fill="#a8e822" filter="url(#b05)"/><path d="M412.1 523.8 Q412.4 524.2 412.5 524.6 Q412.7 525.0 412.9 525.6 Q413.0 526.2 412.7 526.2 Q412.5 526.3 412.1 525.8 Q411.8 525.3 411.6 525.0 Q411.3 524.7 411.2 524.3 Q411.2 523.9 411.2 523.6 Q411.2 523.4 411.2 522.9 Q411.3 522.5 411.6 523.0 Q411.9 523.5 412.1 523.8Z" fill="#f4e61c" filter="url(#b05)"/><path d="M417.3 532.1 Q417.6 533.1 417.7 534.2 Q417.8 535.3 417.3 536.1 Q416.8 536.9 416.1 536.6 Q415.4 536.4 414.9 535.8 Q414.4 535.3 413.9 534.6 Q413.5 533.9 413.5 532.9 Q413.6 532.0 413.8 530.9 Q414.1 529.9 414.8 529.9 Q415.6 529.8 416.3 530.4 Q417.0 531.1 417.3 532.1Z" fill="#3a22dc" filter="url(#b05)"/><path d="M416.7 532.7 Q416.8 533.3 416.9 534.1 Q417.0 534.8 416.6 535.1 Q416.3 535.5 415.9 536.0 Q415.4 536.5 415.1 535.7 Q414.7 534.9 414.2 534.4 Q413.7 533.9 414.0 533.2 Q414.3 532.6 414.4 531.8 Q414.5 531.1 415.1 531.2 Q415.6 531.3 416.0 531.6 Q416.5 532.0 416.7 532.7Z" fill="#1e5af0" filter="url(#b05)"/><path d="M416.3 532.8 Q416.4 533.2 416.5 533.7 Q416.7 534.2 416.4 534.4 Q416.2 534.7 415.9 534.6 Q415.6 534.5 415.2 534.5 Q414.9 534.5 414.7 534.0 Q414.5 533.5 414.7 533.1 Q414.9 532.7 415.0 532.4 Q415.1 532.0 415.4 532.1 Q415.7 532.1 415.9 532.3 Q416.2 532.4 416.3 532.8Z" fill="#18c0f0" filter="url(#b05)"/><path d="M400.7 531.0 Q400.9 531.5 400.6 532.1 Q400.4 532.6 399.4 532.6 Q398.4 532.6 397.3 532.3 Q396.2 531.9 395.8 531.2 Q395.5 530.5 395.3 530.0 Q395.2 529.5 395.7 529.2 Q396.1 528.9 396.9 528.8 Q397.6 528.8 398.7 528.9 Q399.7 529.1 400.1 529.8 Q400.5 530.5 400.7 531.0Z" fill="#3a22dc" filter="url(#b05)"/><path d="M400.8 530.9 Q400.6 531.4 400.3 531.7 Q399.9 532.1 399.2 532.3 Q398.4 532.5 397.5 532.0 Q396.5 531.6 396.2 531.0 Q395.9 530.5 395.7 530.0 Q395.4 529.5 395.9 529.2 Q396.3 529.0 397.0 528.7 Q397.6 528.4 398.6 528.8 Q399.6 529.2 400.3 529.8 Q401.0 530.4 400.8 530.9Z" fill="#1e5af0" filter="url(#b05)"/><path d="M400.8 531.0 Q401.2 531.6 400.7 531.9 Q400.2 532.2 399.3 532.0 Q398.5 531.9 397.6 531.8 Q396.7 531.6 396.3 531.1 Q395.9 530.5 395.6 530.0 Q395.4 529.5 395.9 529.2 Q396.4 528.9 397.1 528.9 Q397.9 529.0 398.6 529.3 Q399.3 529.6 399.9 530.0 Q400.4 530.4 400.8 531.0Z" fill="#18c0f0" filter="url(#b05)"/><path d="M400.2 530.8 Q400.6 531.3 400.2 531.6 Q399.8 531.9 399.1 532.0 Q398.4 532.0 397.7 531.7 Q396.9 531.3 396.5 530.9 Q396.0 530.4 395.8 530.0 Q395.7 529.5 396.2 529.4 Q396.8 529.3 397.3 529.1 Q397.8 528.9 398.5 529.3 Q399.1 529.6 399.5 530.0 Q399.8 530.4 400.2 530.8Z" fill="#30dc70" filter="url(#b05)"/><path d="M399.6 530.7 Q399.6 531.0 399.4 531.2 Q399.2 531.5 398.7 531.5 Q398.2 531.6 397.6 531.3 Q397.1 531.1 396.8 530.8 Q396.5 530.4 396.3 530.1 Q396.1 529.7 396.5 529.6 Q396.8 529.4 397.3 529.4 Q397.7 529.4 398.2 529.6 Q398.7 529.8 399.1 530.1 Q399.5 530.4 399.6 530.7Z" fill="#a8e822" filter="url(#b05)"/><path d="M399.2 530.7 Q399.5 531.1 399.1 531.2 Q398.7 531.3 398.3 531.4 Q397.9 531.4 397.4 531.3 Q396.9 531.1 396.8 530.8 Q396.6 530.5 396.6 530.2 Q396.5 530.0 396.5 529.7 Q396.6 529.4 397.0 529.4 Q397.5 529.4 398.0 529.6 Q398.5 529.8 398.7 530.1 Q398.9 530.4 399.2 530.7Z" fill="#f4e61c" filter="url(#b05)"/><path d="M398.9 530.8 Q399.0 531.0 398.8 531.1 Q398.6 531.3 398.2 531.2 Q397.8 531.1 397.4 531.1 Q397.1 531.0 396.9 530.8 Q396.7 530.5 396.6 530.3 Q396.5 530.1 396.8 530.0 Q397.0 530.0 397.3 529.8 Q397.5 529.7 397.9 529.9 Q398.3 530.1 398.5 530.3 Q398.8 530.5 398.9 530.8Z" fill="#f8901a" filter="url(#b05)"/><path d="M398.2 530.7 Q398.3 530.8 398.2 531.0 Q398.1 531.1 397.8 531.1 Q397.6 531.1 397.4 531.0 Q397.1 531.0 397.0 530.8 Q396.9 530.6 396.9 530.5 Q396.9 530.3 397.0 530.2 Q397.1 530.1 397.3 530.1 Q397.5 530.0 397.7 530.1 Q397.9 530.3 398.0 530.4 Q398.2 530.5 398.2 530.7Z" fill="#ee1c1c" filter="url(#b05)"/><path d="M421.5 561.0 Q420.9 564.5 421.6 568.1 Q422.3 571.6 419.5 573.7 Q416.7 575.7 413.1 576.6 Q409.6 577.5 408.1 573.7 Q406.6 570.0 405.8 567.2 Q405.0 564.5 404.7 560.9 Q404.4 557.3 407.2 555.3 Q410.1 553.3 413.1 554.3 Q416.1 555.4 419.1 556.4 Q422.2 557.5 421.5 561.0Z" fill="#3a22dc" filter="url(#b05)"/><path d="M420.7 561.7 Q420.2 564.9 419.8 567.4 Q419.3 569.8 418.0 573.2 Q416.7 576.6 413.7 575.1 Q410.7 573.6 408.9 571.7 Q407.0 569.9 404.8 567.4 Q402.6 564.9 404.0 561.8 Q405.4 558.6 408.2 558.0 Q411.1 557.5 413.6 556.3 Q416.1 555.2 418.7 556.9 Q421.3 558.5 420.7 561.7Z" fill="#1e5af0" filter="url(#b05)"/><path d="M420.0 561.9 Q419.1 565.1 419.0 567.5 Q418.8 569.9 416.7 570.8 Q414.7 571.6 412.7 571.9 Q410.7 572.2 407.5 572.1 Q404.3 572.0 404.7 568.6 Q405.1 565.1 404.6 561.7 Q404.2 558.3 407.3 557.6 Q410.4 556.9 412.9 556.4 Q415.5 556.0 418.2 557.3 Q420.9 558.7 420.0 561.9Z" fill="#18c0f0" filter="url(#b05)"/><path d="M420.5 561.7 Q420.8 564.6 420.2 567.1 Q419.5 569.7 417.2 570.3 Q414.9 570.8 413.1 570.6 Q411.3 570.4 408.5 570.4 Q405.7 570.4 405.7 567.5 Q405.6 564.6 406.9 562.6 Q408.2 560.7 409.5 558.9 Q410.8 557.0 412.9 557.6 Q415.0 558.1 417.5 558.5 Q420.1 558.9 420.5 561.7Z" fill="#30dc70" filter="url(#b05)"/><path d="M419.9 561.6 Q420.9 564.0 419.0 565.6 Q417.1 567.2 415.9 568.5 Q414.8 569.9 413.2 569.4 Q411.6 568.9 409.3 568.9 Q407.0 568.8 407.5 566.4 Q408.0 564.0 407.8 561.8 Q407.7 559.6 409.6 559.2 Q411.5 558.8 413.3 558.0 Q415.1 557.2 417.0 558.2 Q419.0 559.2 419.9 561.6Z" fill="#a8e822" filter="url(#b05)"/><path d="M417.8 562.4 Q418.8 563.9 418.2 565.7 Q417.6 567.5 416.3 568.8 Q415.0 570.2 413.4 569.3 Q411.8 568.4 410.2 568.0 Q408.5 567.5 408.4 565.7 Q408.3 563.9 407.9 561.6 Q407.5 559.4 409.2 557.8 Q410.9 556.3 412.6 557.9 Q414.4 559.5 415.6 560.2 Q416.7 561.0 417.8 562.4Z" fill="#f4e61c" filter="url(#b05)"/><path d="M416.7 562.7 Q416.8 564.0 417.3 565.8 Q417.8 567.5 416.5 569.0 Q415.3 570.5 413.6 569.7 Q411.9 568.9 410.9 567.9 Q409.8 566.9 409.1 565.4 Q408.3 564.0 408.4 562.0 Q408.4 560.0 410.2 559.8 Q412.1 559.6 413.4 559.6 Q414.7 559.5 415.6 560.5 Q416.6 561.4 416.7 562.7Z" fill="#f8901a" filter="url(#b05)"/><path d="M416.6 562.9 Q417.0 564.0 416.8 565.2 Q416.6 566.4 415.5 566.7 Q414.5 567.0 413.5 567.3 Q412.5 567.7 410.9 567.5 Q409.4 567.3 409.4 565.6 Q409.3 564.0 410.0 562.8 Q410.7 561.7 411.4 560.2 Q412.0 558.7 413.3 559.4 Q414.7 560.1 415.5 560.9 Q416.3 561.7 416.6 562.9Z" fill="#ee1c1c" filter="url(#b05)"/><path d="M401.7 561.6 Q401.9 563.0 401.3 563.9 Q400.8 564.8 400.5 566.0 Q400.2 567.2 399.6 566.7 Q399.0 566.2 398.3 566.0 Q397.5 565.9 397.7 564.4 Q397.9 563.0 397.8 561.6 Q397.6 560.3 398.2 559.6 Q398.8 558.9 399.5 558.7 Q400.2 558.6 400.8 559.4 Q401.5 560.1 401.7 561.6Z" fill="#3a22dc" filter="url(#b05)"/><path d="M400.8 562.1 Q401.0 562.9 400.7 563.7 Q400.5 564.4 400.2 564.9 Q399.8 565.4 399.4 565.3 Q399.0 565.3 398.6 565.1 Q398.1 564.9 397.9 563.9 Q397.8 562.9 397.9 562.0 Q398.1 561.0 398.6 560.8 Q399.0 560.5 399.5 560.1 Q400.0 559.7 400.3 560.4 Q400.6 561.2 400.8 562.1Z" fill="#1e5af0" filter="url(#b05)"/><path d="M400.2 562.3 Q400.2 562.9 400.0 563.3 Q399.9 563.7 399.8 564.1 Q399.6 564.5 399.4 564.5 Q399.1 564.4 398.9 564.2 Q398.6 563.9 398.5 563.4 Q398.3 562.9 398.5 562.4 Q398.6 561.8 398.9 561.6 Q399.1 561.3 399.4 561.2 Q399.7 561.0 399.9 561.3 Q400.2 561.7 400.2 562.3Z" fill="#18c0f0" filter="url(#b05)"/><path d="M395.5 577.6 Q396.1 577.8 396.0 578.4 Q396.0 579.0 395.2 579.7 Q394.3 580.5 393.2 581.0 Q392.1 581.6 391.0 581.7 Q390.0 581.8 389.2 581.6 Q388.4 581.4 388.9 580.7 Q389.3 579.9 389.9 579.2 Q390.5 578.4 391.7 578.1 Q392.9 577.9 393.9 577.6 Q394.9 577.3 395.5 577.6Z" fill="#3a22dc" filter="url(#b05)"/><path d="M395.3 577.6 Q396.0 577.7 395.6 578.4 Q395.2 579.0 394.7 579.7 Q394.2 580.4 393.1 581.0 Q391.9 581.6 391.2 581.4 Q390.4 581.2 389.5 581.2 Q388.6 581.2 388.8 580.5 Q389.0 579.9 389.8 579.2 Q390.6 578.5 391.7 578.2 Q392.7 578.0 393.7 577.7 Q394.6 577.4 395.3 577.6Z" fill="#1e5af0" filter="url(#b05)"/><path d="M394.4 578.1 Q394.9 578.2 394.8 578.6 Q394.8 579.0 394.3 579.5 Q393.7 580.0 392.9 580.5 Q392.1 581.1 391.4 581.0 Q390.7 581.0 390.3 580.8 Q389.8 580.6 389.8 580.2 Q389.8 579.7 390.3 579.1 Q390.8 578.5 391.8 578.2 Q392.8 578.0 393.4 578.0 Q394.0 578.0 394.4 578.1Z" fill="#18c0f0" filter="url(#b05)"/><path d="M394.6 578.3 Q395.2 578.3 395.0 578.7 Q394.8 579.2 394.3 579.6 Q393.7 580.0 393.1 580.2 Q392.5 580.5 392.0 580.6 Q391.4 580.7 391.0 580.6 Q390.6 580.4 390.9 580.1 Q391.1 579.7 391.3 579.2 Q391.6 578.8 392.3 578.5 Q393.0 578.1 393.5 578.2 Q393.9 578.4 394.6 578.3Z" fill="#30dc70" filter="url(#b05)"/><path d="M394.5 578.5 Q394.9 578.5 394.7 578.9 Q394.4 579.2 394.2 579.6 Q393.9 579.9 393.3 580.1 Q392.8 580.3 392.3 580.4 Q391.8 580.5 391.6 580.4 Q391.3 580.2 391.6 579.9 Q391.8 579.6 392.0 579.3 Q392.3 579.1 392.7 578.9 Q393.1 578.7 393.6 578.6 Q394.0 578.5 394.5 578.5Z" fill="#a8e822" filter="url(#b05)"/><path d="M393.7 578.9 Q394.0 578.9 393.9 579.1 Q393.8 579.3 393.6 579.5 Q393.4 579.7 393.1 579.9 Q392.8 580.0 392.4 580.1 Q392.0 580.2 391.9 580.1 Q391.7 580.0 391.8 579.8 Q391.9 579.6 392.1 579.4 Q392.3 579.1 392.6 579.0 Q393.0 578.9 393.2 578.9 Q393.5 578.9 393.7 578.9Z" fill="#f4e61c" filter="url(#b05)"/><path d="M420.8 579.8 Q421.0 580.5 420.9 581.3 Q420.8 582.2 420.3 582.8 Q419.7 583.4 419.1 583.0 Q418.4 582.7 417.8 582.4 Q417.2 582.1 417.0 581.3 Q416.8 580.5 417.0 579.7 Q417.3 578.9 417.9 578.7 Q418.5 578.5 419.0 578.6 Q419.5 578.6 420.0 578.9 Q420.5 579.1 420.8 579.8Z" fill="#3a22dc" filter="url(#b05)"/><path d="M420.5 579.9 Q420.7 580.4 420.5 581.0 Q420.3 581.5 420.0 582.1 Q419.7 582.7 419.1 582.7 Q418.5 582.8 418.1 582.2 Q417.8 581.6 417.4 581.0 Q417.0 580.4 417.5 579.9 Q418.0 579.4 418.2 578.8 Q418.5 578.2 419.1 578.1 Q419.7 578.1 419.9 578.7 Q420.2 579.4 420.5 579.9Z" fill="#1e5af0" filter="url(#b05)"/><path d="M420.6 579.8 Q420.7 580.4 420.4 580.9 Q420.1 581.3 419.8 581.7 Q419.5 582.0 419.1 582.2 Q418.6 582.3 418.3 581.9 Q418.0 581.5 418.0 580.9 Q417.9 580.4 418.1 580.0 Q418.3 579.6 418.4 579.1 Q418.6 578.6 419.1 578.7 Q419.5 578.9 420.0 579.1 Q420.4 579.2 420.6 579.8Z" fill="#18c0f0" filter="url(#b05)"/><path d="M420.0 580.1 Q420.1 580.5 420.0 581.0 Q420.0 581.4 419.6 581.4 Q419.3 581.5 419.0 581.5 Q418.7 581.6 418.6 581.4 Q418.4 581.1 418.2 580.8 Q417.9 580.5 418.1 580.2 Q418.3 579.9 418.5 579.5 Q418.7 579.2 419.0 579.3 Q419.3 579.5 419.6 579.6 Q419.9 579.7 420.0 580.1Z" fill="#30dc70" filter="url(#b05)"/><path d="M419.7 580.2 Q419.7 580.5 419.7 580.7 Q419.7 581.0 419.5 581.1 Q419.3 581.2 419.1 581.2 Q419.0 581.1 418.8 581.0 Q418.7 580.8 418.6 580.7 Q418.4 580.5 418.6 580.3 Q418.7 580.1 418.8 579.9 Q418.9 579.7 419.1 579.7 Q419.3 579.7 419.5 579.9 Q419.6 580.0 419.7 580.2Z" fill="#a8e822" filter="url(#b05)"/><path d="M402.7 572.4 Q402.9 573.0 402.9 573.7 Q402.9 574.4 402.3 574.7 Q401.6 574.9 401.0 574.9 Q400.4 574.8 399.8 574.6 Q399.2 574.3 399.0 573.6 Q398.8 573.0 399.0 572.4 Q399.2 571.7 399.8 571.3 Q400.3 570.9 401.0 571.0 Q401.6 571.1 402.1 571.5 Q402.6 571.8 402.7 572.4Z" fill="#3a22dc" filter="url(#b05)"/><path d="M403.0 572.3 Q403.2 572.9 403.0 573.6 Q402.9 574.3 402.3 574.7 Q401.8 575.1 401.0 575.2 Q400.3 575.2 400.0 574.6 Q399.7 574.0 399.5 573.5 Q399.3 572.9 399.3 572.3 Q399.3 571.7 399.9 571.3 Q400.4 571.0 401.0 571.2 Q401.6 571.3 402.2 571.5 Q402.8 571.7 403.0 572.3Z" fill="#1e5af0" filter="url(#b05)"/><path d="M402.7 572.5 Q402.7 573.0 402.6 573.5 Q402.5 574.0 402.0 574.2 Q401.6 574.3 401.1 574.7 Q400.5 575.0 400.2 574.5 Q399.9 573.9 399.6 573.5 Q399.3 573.0 399.5 572.5 Q399.7 572.0 400.2 571.7 Q400.6 571.3 401.2 571.4 Q401.7 571.4 402.3 571.6 Q402.8 571.9 402.7 572.5Z" fill="#18c0f0" filter="url(#b05)"/><path d="M402.4 572.6 Q402.5 573.0 402.4 573.4 Q402.4 573.9 402.1 574.3 Q401.8 574.7 401.3 574.4 Q400.8 574.2 400.4 574.1 Q399.9 573.9 399.8 573.5 Q399.6 573.0 399.9 572.6 Q400.2 572.2 400.5 572.0 Q400.8 571.7 401.3 571.6 Q401.7 571.4 402.0 571.8 Q402.4 572.1 402.4 572.6Z" fill="#30dc70" filter="url(#b05)"/><path d="M402.1 572.7 Q402.2 573.0 402.3 573.4 Q402.3 573.8 401.9 574.0 Q401.6 574.2 401.2 574.2 Q400.8 574.2 400.5 573.9 Q400.2 573.7 400.0 573.3 Q399.7 573.0 399.9 572.6 Q400.0 572.1 400.4 571.9 Q400.8 571.8 401.1 571.9 Q401.5 572.0 401.8 572.2 Q402.0 572.4 402.1 572.7Z" fill="#a8e822" filter="url(#b05)"/><path d="M402.1 572.5 Q402.2 572.9 402.0 573.2 Q401.9 573.5 401.6 573.6 Q401.3 573.7 401.0 573.8 Q400.7 574.0 400.4 573.7 Q400.2 573.5 400.1 573.2 Q399.9 572.9 400.0 572.5 Q400.1 572.2 400.4 572.0 Q400.7 571.8 401.1 571.8 Q401.4 571.9 401.7 572.0 Q402.1 572.1 402.1 572.5Z" fill="#f4e61c" filter="url(#b05)"/><path d="M401.7 572.7 Q401.9 572.9 401.7 573.1 Q401.6 573.4 401.4 573.5 Q401.2 573.7 401.0 573.6 Q400.8 573.5 400.6 573.4 Q400.4 573.3 400.3 573.1 Q400.3 572.9 400.3 572.7 Q400.4 572.5 400.5 572.3 Q400.7 572.1 400.9 572.2 Q401.2 572.3 401.3 572.4 Q401.5 572.5 401.7 572.7Z" fill="#f8901a" filter="url(#b05)"/><path d="M401.5 572.7 Q401.5 572.9 401.5 573.0 Q401.6 573.2 401.4 573.3 Q401.2 573.3 401.1 573.3 Q400.9 573.2 400.8 573.2 Q400.6 573.2 400.6 573.0 Q400.6 572.9 400.7 572.7 Q400.7 572.6 400.8 572.5 Q400.9 572.3 401.1 572.3 Q401.2 572.3 401.3 572.5 Q401.5 572.6 401.5 572.7Z" fill="#ee1c1c" filter="url(#b05)"/><path d="M416.1 544.6 Q416.3 545.0 416.2 545.5 Q416.1 545.9 415.7 546.1 Q415.4 546.3 415.0 546.3 Q414.6 546.3 414.4 546.1 Q414.1 545.8 413.8 545.4 Q413.5 545.0 413.8 544.6 Q414.1 544.3 414.4 544.1 Q414.7 543.9 415.0 543.8 Q415.3 543.8 415.6 544.0 Q415.9 544.3 416.1 544.6Z" fill="#3a22dc" filter="url(#b05)"/><path d="M415.6 544.7 Q415.5 545.0 415.5 545.2 Q415.5 545.4 415.3 545.5 Q415.2 545.7 415.0 545.7 Q414.8 545.7 414.6 545.6 Q414.5 545.4 414.4 545.2 Q414.4 545.0 414.4 544.7 Q414.5 544.5 414.6 544.4 Q414.8 544.2 415.0 544.2 Q415.2 544.2 415.4 544.3 Q415.6 544.4 415.6 544.7Z" fill="#1e5af0" filter="url(#b05)"/><path d="M409.9 551.7 Q410.2 552.0 410.0 552.4 Q409.9 552.8 409.6 553.0 Q409.3 553.3 409.0 553.3 Q408.6 553.3 408.5 553.0 Q408.3 552.6 408.1 552.3 Q407.9 552.0 408.0 551.6 Q408.0 551.2 408.3 550.9 Q408.6 550.7 409.0 550.7 Q409.3 550.8 409.5 551.1 Q409.7 551.4 409.9 551.7Z" fill="#3a22dc" filter="url(#b05)"/><path d="M409.5 551.9 Q409.5 552.1 409.4 552.3 Q409.4 552.5 409.3 552.7 Q409.2 552.9 409.0 552.8 Q408.8 552.7 408.7 552.6 Q408.6 552.4 408.5 552.3 Q408.5 552.1 408.4 551.8 Q408.4 551.6 408.6 551.5 Q408.8 551.5 409.0 551.5 Q409.2 551.4 409.3 551.6 Q409.5 551.7 409.5 551.9Z" fill="#1e5af0" filter="url(#b05)"/><path d="M460.2 513.7 Q461.2 514.6 462.1 516.0 Q463.1 517.3 462.8 518.7 Q462.5 520.1 461.4 520.6 Q460.4 521.2 459.1 520.7 Q457.8 520.2 456.4 519.6 Q455.0 519.0 454.3 517.3 Q453.6 515.7 454.2 514.4 Q454.7 513.1 455.7 512.4 Q456.6 511.8 457.9 512.2 Q459.2 512.7 460.2 513.7Z" fill="#3a22dc" filter="url(#b05)"/><path d="M460.1 513.3 Q461.2 514.3 461.4 515.6 Q461.5 517.0 461.8 518.5 Q462.2 520.0 461.0 520.1 Q459.8 520.3 458.7 520.1 Q457.6 519.9 456.8 519.0 Q455.9 518.0 454.7 516.8 Q453.4 515.6 453.9 514.2 Q454.3 512.9 455.3 512.1 Q456.2 511.3 457.6 511.8 Q459.0 512.2 460.1 513.3Z" fill="#1e5af0" filter="url(#b05)"/><path d="M459.7 513.5 Q460.7 514.4 460.9 515.6 Q461.1 516.8 461.5 518.3 Q461.9 519.8 460.7 520.0 Q459.5 520.1 458.5 519.8 Q457.4 519.4 456.2 518.9 Q454.9 518.4 454.9 517.1 Q454.9 515.7 454.5 514.3 Q454.1 512.8 455.2 512.5 Q456.4 512.3 457.5 512.4 Q458.7 512.5 459.7 513.5Z" fill="#18c0f0" filter="url(#b05)"/><path d="M459.3 513.6 Q460.0 514.8 460.3 515.8 Q460.6 516.7 461.0 518.1 Q461.4 519.4 460.3 519.5 Q459.2 519.6 458.2 519.8 Q457.2 520.1 456.5 518.9 Q455.7 517.8 454.8 516.7 Q453.8 515.6 454.1 514.3 Q454.4 513.1 455.3 512.6 Q456.2 512.1 457.4 512.3 Q458.6 512.5 459.3 513.6Z" fill="#30dc70" filter="url(#b05)"/><path d="M459.2 514.3 Q459.8 515.1 460.4 516.0 Q461.0 517.0 461.1 518.1 Q461.1 519.2 460.1 519.3 Q459.1 519.4 458.2 519.8 Q457.3 520.1 456.3 519.2 Q455.3 518.3 455.1 517.1 Q455.0 515.9 455.2 515.0 Q455.4 514.1 456.0 513.6 Q456.6 513.1 457.5 513.3 Q458.5 513.5 459.2 514.3Z" fill="#a8e822" filter="url(#b05)"/><path d="M459.3 514.3 Q459.8 515.2 460.2 516.0 Q460.5 516.8 460.7 517.8 Q460.9 518.8 460.3 519.5 Q459.7 520.1 458.7 519.6 Q457.7 519.1 456.9 518.5 Q456.2 517.8 455.8 516.8 Q455.4 515.9 455.4 514.9 Q455.5 513.9 456.3 513.8 Q457.1 513.6 457.9 513.5 Q458.7 513.4 459.3 514.3Z" fill="#f4e61c" filter="url(#b05)"/><path d="M459.3 514.5 Q459.8 515.4 460.1 516.1 Q460.4 516.8 460.3 517.5 Q460.3 518.3 459.9 519.0 Q459.5 519.7 458.7 519.2 Q457.8 518.8 457.1 518.3 Q456.3 517.8 456.2 516.9 Q456.0 516.0 456.2 515.4 Q456.4 514.8 456.9 514.5 Q457.4 514.2 458.1 513.9 Q458.7 513.6 459.3 514.5Z" fill="#f8901a" filter="url(#b05)"/><path d="M459.4 514.7 Q460.1 515.1 460.4 516.0 Q460.7 516.8 460.7 517.6 Q460.7 518.4 460.1 518.8 Q459.5 519.3 458.8 518.9 Q458.0 518.4 457.2 518.1 Q456.5 517.7 456.1 516.8 Q455.8 515.9 456.1 515.2 Q456.4 514.6 456.8 514.0 Q457.3 513.5 458.0 513.9 Q458.8 514.2 459.4 514.7Z" fill="#ee1c1c" filter="url(#b05)"/><path d="M458.1 534.9 Q458.8 535.5 457.9 535.7 Q457.0 536.0 456.3 536.0 Q455.6 536.1 454.5 536.3 Q453.5 536.4 453.1 535.8 Q452.7 535.2 452.5 534.8 Q452.4 534.3 452.4 533.8 Q452.5 533.3 453.4 533.3 Q454.3 533.2 455.4 533.2 Q456.5 533.2 456.9 533.8 Q457.4 534.4 458.1 534.9Z" fill="#3a22dc" filter="url(#b05)"/><path d="M457.7 534.8 Q458.2 535.3 458.0 535.8 Q457.8 536.2 456.8 536.3 Q455.9 536.4 454.9 536.3 Q453.9 536.2 453.2 535.7 Q452.6 535.2 452.7 534.8 Q452.9 534.4 452.8 533.8 Q452.7 533.3 453.6 533.3 Q454.5 533.2 455.4 533.4 Q456.2 533.7 456.8 534.0 Q457.3 534.4 457.7 534.8Z" fill="#1e5af0" filter="url(#b05)"/><path d="M458.1 534.8 Q458.3 535.3 457.9 535.6 Q457.5 536.0 456.8 536.2 Q456.0 536.4 455.2 536.1 Q454.4 535.9 453.7 535.5 Q453.0 535.2 452.9 534.8 Q452.7 534.3 453.2 534.1 Q453.7 533.8 454.2 533.5 Q454.7 533.2 455.5 533.5 Q456.3 533.8 457.0 534.1 Q457.8 534.4 458.1 534.8Z" fill="#18c0f0" filter="url(#b05)"/><path d="M457.4 534.8 Q457.4 535.1 457.4 535.5 Q457.4 535.9 456.8 536.0 Q456.1 536.0 455.5 535.8 Q454.8 535.6 454.5 535.3 Q454.1 535.1 453.7 534.7 Q453.4 534.4 453.8 534.2 Q454.3 534.1 454.6 533.8 Q455.0 533.5 455.7 533.7 Q456.4 533.9 456.9 534.2 Q457.4 534.5 457.4 534.8Z" fill="#30dc70" filter="url(#b05)"/><path d="M457.4 534.9 Q457.7 535.2 457.2 535.4 Q456.8 535.6 456.3 535.7 Q455.9 535.8 455.3 535.7 Q454.8 535.6 454.4 535.4 Q454.1 535.1 453.9 534.8 Q453.6 534.5 453.9 534.3 Q454.1 534.0 454.6 534.0 Q455.1 533.9 455.7 534.0 Q456.3 534.0 456.7 534.3 Q457.1 534.6 457.4 534.9Z" fill="#a8e822" filter="url(#b05)"/><path d="M456.6 535.0 Q456.7 535.2 456.6 535.4 Q456.4 535.6 456.0 535.6 Q455.7 535.7 455.2 535.7 Q454.7 535.7 454.2 535.5 Q453.8 535.2 453.9 535.0 Q453.9 534.7 454.1 534.5 Q454.3 534.4 454.7 534.3 Q455.1 534.3 455.5 534.3 Q456.0 534.2 456.2 534.5 Q456.4 534.8 456.6 535.0Z" fill="#f4e61c" filter="url(#b05)"/><path d="M456.2 534.9 Q456.4 535.1 456.3 535.2 Q456.1 535.4 455.9 535.4 Q455.6 535.4 455.3 535.4 Q455.0 535.3 454.7 535.2 Q454.4 535.1 454.3 534.9 Q454.1 534.7 454.3 534.6 Q454.5 534.4 454.8 534.4 Q455.1 534.4 455.5 534.4 Q455.8 534.4 456.0 534.6 Q456.1 534.8 456.2 534.9Z" fill="#f8901a" filter="url(#b05)"/><path d="M456.1 535.0 Q456.2 535.2 456.0 535.3 Q455.8 535.4 455.7 535.5 Q455.5 535.6 455.3 535.5 Q455.0 535.4 454.8 535.3 Q454.7 535.2 454.6 535.0 Q454.6 534.9 454.6 534.7 Q454.7 534.5 454.9 534.5 Q455.2 534.4 455.4 534.5 Q455.6 534.6 455.8 534.7 Q456.0 534.8 456.1 535.0Z" fill="#ee1c1c" filter="url(#b05)"/><path d="M477.5 530.8 Q478.1 531.5 477.7 532.4 Q477.4 533.3 476.5 533.8 Q475.6 534.3 474.7 533.9 Q473.7 533.4 472.9 533.2 Q472.0 533.0 471.8 532.3 Q471.6 531.5 471.8 530.8 Q472.0 530.0 472.9 529.8 Q473.7 529.5 474.5 529.5 Q475.3 529.4 476.1 529.8 Q476.9 530.1 477.5 530.8Z" fill="#3a22dc" filter="url(#b05)"/><path d="M476.5 530.8 Q476.4 531.5 476.3 532.0 Q476.1 532.5 475.7 533.1 Q475.3 533.7 474.4 533.6 Q473.6 533.5 472.9 533.1 Q472.3 532.8 471.9 532.1 Q471.5 531.5 472.0 530.9 Q472.4 530.3 473.1 530.1 Q473.7 529.8 474.5 529.5 Q475.3 529.2 475.9 529.7 Q476.6 530.2 476.5 530.8Z" fill="#1e5af0" filter="url(#b05)"/><path d="M476.7 530.9 Q477.1 531.5 476.6 532.0 Q476.1 532.5 475.6 533.0 Q475.2 533.4 474.5 533.3 Q473.8 533.1 473.2 532.9 Q472.6 532.6 472.4 532.1 Q472.1 531.5 472.5 531.0 Q472.8 530.6 473.4 530.3 Q473.9 530.1 474.5 530.0 Q475.1 529.8 475.7 530.1 Q476.4 530.4 476.7 530.9Z" fill="#18c0f0" filter="url(#b05)"/><path d="M476.0 531.1 Q476.3 531.5 476.0 531.9 Q475.7 532.2 475.3 532.5 Q474.9 532.7 474.5 532.7 Q474.0 532.8 473.4 532.6 Q472.9 532.5 472.9 532.0 Q473.0 531.5 473.2 531.2 Q473.3 530.8 473.7 530.6 Q474.0 530.4 474.5 530.4 Q474.9 530.4 475.3 530.6 Q475.7 530.7 476.0 531.1Z" fill="#30dc70" filter="url(#b05)"/><path d="M475.7 531.3 Q475.7 531.6 475.6 531.9 Q475.5 532.2 475.2 532.4 Q474.9 532.5 474.5 532.5 Q474.2 532.5 473.8 532.4 Q473.4 532.3 473.3 532.0 Q473.2 531.6 473.4 531.3 Q473.6 531.1 473.9 530.9 Q474.2 530.8 474.6 530.6 Q475.0 530.5 475.3 530.7 Q475.6 530.9 475.7 531.3Z" fill="#a8e822" filter="url(#b05)"/><path d="M475.4 531.3 Q475.5 531.5 475.5 531.8 Q475.4 532.0 475.2 532.1 Q474.9 532.2 474.6 532.2 Q474.4 532.3 474.2 532.1 Q474.1 531.9 473.9 531.7 Q473.7 531.5 473.9 531.4 Q474.1 531.2 474.3 531.1 Q474.4 530.9 474.6 531.0 Q474.9 531.0 475.1 531.0 Q475.4 531.1 475.4 531.3Z" fill="#f4e61c" filter="url(#b05)"/><path d="M471.8 540.6 Q472.1 541.5 471.8 542.4 Q471.6 543.4 470.7 543.6 Q469.7 543.8 468.8 544.3 Q467.9 544.7 467.5 543.8 Q467.0 542.9 466.5 542.2 Q466.0 541.5 466.6 540.8 Q467.1 540.1 467.6 539.3 Q468.0 538.5 468.9 538.9 Q469.7 539.2 470.6 539.5 Q471.5 539.7 471.8 540.6Z" fill="#3a22dc" filter="url(#b05)"/><path d="M471.0 540.9 Q471.0 541.6 471.0 542.3 Q471.0 543.0 470.4 543.5 Q469.8 543.9 469.2 543.6 Q468.6 543.2 468.0 543.0 Q467.4 542.8 467.1 542.2 Q466.7 541.6 467.0 541.0 Q467.3 540.3 467.9 540.0 Q468.5 539.7 469.1 539.8 Q469.7 539.9 470.3 540.0 Q471.0 540.2 471.0 540.9Z" fill="#1e5af0" filter="url(#b05)"/><path d="M470.2 541.3 Q470.3 541.7 470.0 542.0 Q469.7 542.3 469.5 542.5 Q469.3 542.8 468.9 542.7 Q468.6 542.7 468.3 542.6 Q467.9 542.4 467.9 542.1 Q467.8 541.7 467.8 541.3 Q467.8 540.9 468.1 540.6 Q468.5 540.4 468.9 540.5 Q469.3 540.7 469.7 540.8 Q470.1 540.9 470.2 541.3Z" fill="#18c0f0" filter="url(#b05)"/><path d="M475.3 536.6 Q475.5 537.0 475.5 537.6 Q475.5 538.1 475.1 538.4 Q474.6 538.8 474.1 538.5 Q473.6 538.3 473.0 538.2 Q472.5 538.1 472.4 537.5 Q472.3 537.0 472.6 536.6 Q473.0 536.2 473.2 535.7 Q473.4 535.2 473.9 535.4 Q474.4 535.6 474.8 535.9 Q475.2 536.1 475.3 536.6Z" fill="#3a22dc" filter="url(#b05)"/><path d="M474.7 536.8 Q474.8 537.0 474.8 537.3 Q474.8 537.6 474.5 537.8 Q474.3 538.0 474.0 538.0 Q473.7 537.9 473.4 537.8 Q473.1 537.6 473.1 537.3 Q473.0 537.0 473.1 536.7 Q473.1 536.4 473.4 536.3 Q473.7 536.3 474.0 536.2 Q474.2 536.2 474.5 536.3 Q474.7 536.5 474.7 536.8Z" fill="#1e5af0" filter="url(#b05)"/><path d="M480.2 562.8 Q482.0 565.5 479.4 567.6 Q476.8 569.8 474.8 571.1 Q472.9 572.4 470.1 573.7 Q467.3 574.9 466.1 572.0 Q465.0 569.2 461.9 567.4 Q458.8 565.5 460.0 562.3 Q461.1 559.1 464.8 559.3 Q468.4 559.6 471.2 557.6 Q473.9 555.6 476.2 557.9 Q478.4 560.1 480.2 562.8Z" fill="#3a22dc" filter="url(#b05)"/><path d="M480.6 563.4 Q482.7 566.1 480.1 568.4 Q477.5 570.7 475.8 573.4 Q474.1 576.0 470.7 575.9 Q467.4 575.7 464.2 574.2 Q461.0 572.7 462.9 569.4 Q464.7 566.1 462.9 562.9 Q461.2 559.6 464.8 559.6 Q468.5 559.6 470.6 559.9 Q472.7 560.2 475.6 560.5 Q478.4 560.8 480.6 563.4Z" fill="#1e5af0" filter="url(#b05)"/><path d="M478.3 564.3 Q478.5 566.7 478.9 569.4 Q479.2 572.2 476.0 571.9 Q472.8 571.5 470.3 573.9 Q467.8 576.3 466.7 573.4 Q465.5 570.5 464.1 568.6 Q462.8 566.7 464.5 565.0 Q466.3 563.4 467.9 562.5 Q469.4 561.7 471.1 561.8 Q472.8 561.9 475.5 561.9 Q478.2 561.9 478.3 564.3Z" fill="#18c0f0" filter="url(#b05)"/><path d="M478.8 565.0 Q480.3 567.1 478.6 569.0 Q476.8 570.9 475.4 573.0 Q474.0 575.2 471.7 573.7 Q469.5 572.2 466.6 572.2 Q463.8 572.2 464.5 569.6 Q465.2 567.1 464.4 564.5 Q463.5 561.8 466.3 561.5 Q469.2 561.1 471.3 561.0 Q473.4 560.9 475.3 562.0 Q477.2 563.0 478.8 565.0Z" fill="#30dc70" filter="url(#b05)"/><path d="M475.8 565.3 Q477.3 566.5 476.9 568.6 Q476.6 570.6 474.3 570.5 Q472.0 570.4 470.4 571.2 Q468.8 571.9 467.3 570.8 Q465.9 569.8 464.4 568.1 Q462.9 566.5 463.3 564.2 Q463.7 561.8 466.4 562.1 Q469.2 562.4 470.9 561.5 Q472.7 560.6 473.5 562.3 Q474.4 564.0 475.8 565.3Z" fill="#a8e822" filter="url(#b05)"/><path d="M477.1 565.1 Q477.4 567.1 476.6 568.7 Q475.8 570.3 474.0 570.4 Q472.2 570.5 471.0 570.6 Q469.8 570.7 468.6 570.1 Q467.3 569.6 467.2 568.4 Q467.1 567.1 467.4 566.0 Q467.7 564.8 468.2 562.7 Q468.8 560.6 470.7 561.6 Q472.6 562.7 474.7 562.9 Q476.8 563.2 477.1 565.1Z" fill="#f4e61c" filter="url(#b05)"/><path d="M476.9 565.7 Q477.4 567.5 476.5 568.9 Q475.7 570.4 474.2 570.8 Q472.7 571.2 471.3 571.3 Q470.0 571.5 468.9 570.7 Q467.9 569.8 468.1 568.6 Q468.2 567.5 468.5 566.6 Q468.8 565.7 469.3 564.4 Q469.9 563.1 471.4 563.2 Q472.8 563.2 474.6 563.6 Q476.4 564.0 476.9 565.7Z" fill="#f8901a" filter="url(#b05)"/><path d="M474.6 567.1 Q475.2 567.9 475.0 569.0 Q474.7 570.1 473.9 571.0 Q473.0 572.0 471.9 571.0 Q470.8 570.1 470.1 569.7 Q469.5 569.2 468.8 568.6 Q468.0 567.9 468.5 567.0 Q469.0 566.1 469.7 565.4 Q470.4 564.7 471.4 565.1 Q472.3 565.5 473.1 565.9 Q473.9 566.3 474.6 567.1Z" fill="#ee1c1c" filter="url(#b05)"/><path d="M460.8 559.2 Q461.1 560.0 460.9 561.0 Q460.8 561.9 460.3 562.7 Q459.7 563.4 459.1 562.9 Q458.5 562.5 458.1 561.9 Q457.7 561.4 457.2 560.7 Q456.7 560.0 457.1 559.2 Q457.5 558.4 458.0 557.8 Q458.4 557.3 459.1 557.0 Q459.7 556.8 460.0 557.6 Q460.4 558.5 460.8 559.2Z" fill="#3a22dc" filter="url(#b05)"/><path d="M460.2 559.5 Q460.3 560.0 460.4 560.7 Q460.5 561.5 460.0 561.8 Q459.6 562.1 459.2 561.9 Q458.8 561.7 458.3 561.6 Q457.8 561.5 457.6 560.7 Q457.5 560.0 457.7 559.3 Q457.8 558.6 458.2 558.2 Q458.6 557.8 459.1 557.7 Q459.7 557.5 459.8 558.2 Q460.0 559.0 460.2 559.5Z" fill="#1e5af0" filter="url(#b05)"/><path d="M460.0 559.6 Q460.0 560.1 460.0 560.4 Q460.0 560.8 459.7 561.0 Q459.5 561.2 459.2 561.3 Q459.0 561.3 458.7 561.1 Q458.5 560.9 458.4 560.5 Q458.4 560.1 458.5 559.7 Q458.7 559.4 458.8 559.2 Q459.0 558.9 459.2 558.9 Q459.5 558.9 459.7 559.1 Q460.0 559.2 460.0 559.6Z" fill="#18c0f0" filter="url(#b05)"/><path d="M463.1 568.0 Q463.0 569.0 462.8 569.7 Q462.6 570.5 462.2 571.2 Q461.8 572.0 461.1 571.7 Q460.4 571.4 459.9 571.0 Q459.4 570.5 459.0 569.7 Q458.6 569.0 458.9 568.2 Q459.1 567.3 459.7 566.9 Q460.4 566.5 461.0 566.4 Q461.7 566.3 462.5 566.6 Q463.2 567.0 463.1 568.0Z" fill="#3a22dc" filter="url(#b05)"/><path d="M462.5 568.1 Q462.5 568.9 462.4 569.5 Q462.3 570.2 461.8 570.5 Q461.4 570.8 460.8 571.3 Q460.1 571.8 459.8 571.0 Q459.4 570.2 458.9 569.5 Q458.4 568.9 459.0 568.3 Q459.5 567.6 459.8 566.9 Q460.1 566.1 460.8 566.3 Q461.5 566.5 462.1 566.9 Q462.6 567.3 462.5 568.1Z" fill="#1e5af0" filter="url(#b05)"/><path d="M462.2 568.2 Q462.3 568.8 462.3 569.4 Q462.3 570.0 461.8 570.2 Q461.3 570.4 460.9 570.3 Q460.5 570.3 460.0 570.2 Q459.5 570.1 459.4 569.4 Q459.2 568.8 459.5 568.3 Q459.8 567.7 460.1 567.3 Q460.4 566.9 461.0 566.7 Q461.5 566.5 461.8 567.1 Q462.1 567.7 462.2 568.2Z" fill="#18c0f0" filter="url(#b05)"/><path d="M461.9 568.2 Q461.8 568.7 461.7 569.1 Q461.7 569.5 461.4 569.7 Q461.1 569.8 460.7 570.1 Q460.4 570.3 460.1 570.0 Q459.7 569.7 459.7 569.2 Q459.7 568.7 459.8 568.3 Q459.9 567.9 460.2 567.7 Q460.5 567.5 460.9 567.3 Q461.2 567.1 461.6 567.4 Q461.9 567.7 461.9 568.2Z" fill="#30dc70" filter="url(#b05)"/><path d="M461.5 568.3 Q461.5 568.6 461.5 568.9 Q461.5 569.2 461.3 569.3 Q461.1 569.3 460.8 569.4 Q460.6 569.5 460.5 569.3 Q460.3 569.1 460.3 568.9 Q460.3 568.6 460.3 568.4 Q460.4 568.1 460.5 567.9 Q460.6 567.6 460.8 567.7 Q461.1 567.8 461.3 567.9 Q461.5 568.0 461.5 568.3Z" fill="#a8e822" filter="url(#b05)"/><path d="M451.6 572.9 Q452.1 573.2 451.8 573.8 Q451.5 574.3 450.9 575.0 Q450.4 575.7 449.2 575.9 Q448.0 576.2 446.9 576.3 Q445.9 576.4 445.5 576.1 Q445.2 575.7 445.3 575.2 Q445.4 574.7 446.0 574.0 Q446.5 573.3 447.8 573.1 Q449.0 573.0 450.0 572.8 Q451.0 572.6 451.6 572.9Z" fill="#3a22dc" filter="url(#b05)"/><path d="M451.5 572.8 Q452.1 573.1 451.5 573.7 Q450.9 574.3 450.4 574.9 Q449.8 575.4 448.8 575.7 Q447.9 576.0 446.9 576.1 Q445.9 576.3 445.6 575.9 Q445.4 575.6 445.7 575.1 Q446.0 574.6 446.5 574.1 Q447.0 573.6 447.9 573.3 Q448.8 573.0 449.8 572.8 Q450.8 572.6 451.5 572.8Z" fill="#1e5af0" filter="url(#b05)"/><path d="M450.7 573.2 Q451.2 573.4 450.8 573.8 Q450.5 574.3 450.0 574.7 Q449.6 575.1 448.8 575.3 Q448.0 575.6 447.3 575.6 Q446.6 575.7 446.1 575.6 Q445.5 575.5 445.8 575.0 Q446.1 574.5 446.6 574.0 Q447.1 573.6 448.0 573.3 Q448.9 572.9 449.6 572.9 Q450.3 573.0 450.7 573.2Z" fill="#18c0f0" filter="url(#b05)"/><path d="M450.2 573.5 Q450.6 573.6 450.6 573.9 Q450.5 574.3 449.9 574.6 Q449.2 574.9 448.6 575.2 Q448.1 575.6 447.6 575.5 Q447.1 575.4 446.9 575.2 Q446.7 575.0 446.8 574.7 Q446.9 574.5 447.3 574.1 Q447.6 573.8 448.2 573.7 Q448.7 573.5 449.3 573.4 Q449.9 573.3 450.2 573.5Z" fill="#30dc70" filter="url(#b05)"/><path d="M449.6 573.8 Q449.9 573.9 450.0 574.1 Q450.0 574.3 449.6 574.6 Q449.2 574.9 448.7 575.0 Q448.2 575.1 447.7 575.2 Q447.1 575.4 447.0 575.2 Q446.8 575.0 446.8 574.8 Q446.8 574.5 447.2 574.2 Q447.7 573.9 448.2 573.7 Q448.7 573.5 449.0 573.6 Q449.4 573.7 449.6 573.8Z" fill="#a8e822" filter="url(#b05)"/><path d="M449.1 574.1 Q449.1 574.2 449.2 574.4 Q449.3 574.5 449.1 574.7 Q448.8 574.9 448.5 574.9 Q448.2 575.0 448.0 575.0 Q447.7 575.0 447.4 575.0 Q447.2 574.9 447.2 574.7 Q447.2 574.5 447.5 574.3 Q447.8 574.1 448.1 574.0 Q448.4 573.9 448.8 573.9 Q449.1 573.9 449.1 574.1Z" fill="#f4e61c" filter="url(#b05)"/><path d="M475.8 579.4 Q476.0 580.0 475.8 580.5 Q475.5 581.1 475.0 581.3 Q474.5 581.5 473.9 581.8 Q473.3 582.0 473.0 581.5 Q472.6 581.0 472.4 580.5 Q472.2 580.0 472.3 579.4 Q472.5 578.9 472.9 578.4 Q473.3 578.0 474.0 577.8 Q474.8 577.7 475.2 578.3 Q475.6 578.8 475.8 579.4Z" fill="#3a22dc" filter="url(#b05)"/><path d="M475.2 579.8 Q475.4 580.1 475.2 580.5 Q475.1 580.8 474.8 581.1 Q474.5 581.3 474.1 581.5 Q473.6 581.7 473.3 581.4 Q472.9 581.0 472.7 580.6 Q472.4 580.1 472.6 579.6 Q472.7 579.1 473.2 578.9 Q473.7 578.7 474.1 578.7 Q474.6 578.7 474.8 579.1 Q475.1 579.5 475.2 579.8Z" fill="#1e5af0" filter="url(#b05)"/><path d="M474.9 579.9 Q474.9 580.2 474.8 580.5 Q474.8 580.8 474.5 580.9 Q474.3 581.1 474.0 581.1 Q473.7 581.1 473.5 580.9 Q473.3 580.8 473.1 580.5 Q473.0 580.2 473.2 580.0 Q473.4 579.8 473.6 579.6 Q473.7 579.4 474.0 579.4 Q474.2 579.5 474.5 579.6 Q474.8 579.7 474.9 579.9Z" fill="#18c0f0" filter="url(#b05)"/><path d="M466.2 549.5 Q466.1 550.0 466.0 550.3 Q465.9 550.7 465.7 551.0 Q465.4 551.3 465.0 551.4 Q464.5 551.4 464.3 551.1 Q464.0 550.7 463.9 550.3 Q463.8 550.0 463.9 549.6 Q464.0 549.3 464.3 548.9 Q464.5 548.5 464.9 548.7 Q465.4 548.9 465.8 549.0 Q466.3 549.1 466.2 549.5Z" fill="#3a22dc" filter="url(#b05)"/><path d="M465.7 549.7 Q465.8 549.9 465.8 550.2 Q465.7 550.4 465.5 550.5 Q465.3 550.7 465.0 550.8 Q464.7 550.9 464.6 550.6 Q464.5 550.3 464.4 550.1 Q464.4 549.9 464.3 549.6 Q464.3 549.4 464.5 549.3 Q464.8 549.2 465.0 549.2 Q465.2 549.3 465.4 549.4 Q465.6 549.5 465.7 549.7Z" fill="#1e5af0" filter="url(#b05)"/><path d="M463.0 543.6 Q463.0 544.0 462.9 544.3 Q462.8 544.6 462.6 544.8 Q462.3 545.0 462.0 545.2 Q461.6 545.3 461.3 545.0 Q461.0 544.7 460.9 544.4 Q460.7 544.0 460.9 543.7 Q461.2 543.4 461.4 543.1 Q461.6 542.9 462.0 542.8 Q462.4 542.7 462.7 543.0 Q463.0 543.3 463.0 543.6Z" fill="#3a22dc" filter="url(#b05)"/><path d="M462.6 543.9 Q462.7 544.1 462.6 544.2 Q462.5 544.4 462.4 544.6 Q462.3 544.8 462.1 544.7 Q461.9 544.6 461.8 544.5 Q461.6 544.4 461.5 544.2 Q461.3 544.1 461.4 543.8 Q461.4 543.6 461.6 543.5 Q461.8 543.3 462.1 543.3 Q462.3 543.3 462.4 543.5 Q462.6 543.7 462.6 543.9Z" fill="#1e5af0" filter="url(#b05)"/><path d="M507.9 517.3 Q508.6 518.4 508.8 519.8 Q509.0 521.1 508.6 522.2 Q508.2 523.4 507.2 523.3 Q506.1 523.2 505.2 523.0 Q504.2 522.9 503.3 521.8 Q502.4 520.7 502.2 519.2 Q502.0 517.7 502.9 517.1 Q503.8 516.5 504.5 515.8 Q505.2 515.2 506.2 515.7 Q507.2 516.2 507.9 517.3Z" fill="#3a22dc" filter="url(#b05)"/><path d="M507.5 517.9 Q508.1 518.9 508.2 519.9 Q508.2 521.0 508.1 522.1 Q507.9 523.2 507.0 523.3 Q506.1 523.4 505.4 522.8 Q504.6 522.2 504.1 521.4 Q503.6 520.6 503.3 519.5 Q503.1 518.5 503.7 518.0 Q504.2 517.5 504.7 516.8 Q505.3 516.2 506.1 516.6 Q507.0 516.9 507.5 517.9Z" fill="#1e5af0" filter="url(#b05)"/><path d="M507.3 518.4 Q507.9 519.2 507.8 520.1 Q507.8 521.0 507.5 521.7 Q507.3 522.4 506.6 522.3 Q505.9 522.2 505.4 521.9 Q504.9 521.7 504.2 521.2 Q503.4 520.8 503.6 519.9 Q503.8 519.1 504.1 518.5 Q504.4 518.0 504.8 517.4 Q505.3 516.8 506.0 517.2 Q506.7 517.7 507.3 518.4Z" fill="#18c0f0" filter="url(#b05)"/><path d="M506.5 518.8 Q506.7 519.4 506.8 520.0 Q506.9 520.5 506.6 520.9 Q506.4 521.2 506.1 521.5 Q505.8 521.9 505.3 521.6 Q504.9 521.3 504.5 520.8 Q504.2 520.3 504.2 519.8 Q504.2 519.2 504.4 518.9 Q504.6 518.5 505.0 518.4 Q505.3 518.3 505.8 518.2 Q506.3 518.1 506.5 518.8Z" fill="#30dc70" filter="url(#b05)"/><path d="M506.2 519.3 Q506.3 519.6 506.4 520.0 Q506.4 520.3 506.3 520.5 Q506.2 520.8 506.0 520.9 Q505.8 521.0 505.5 520.9 Q505.3 520.7 505.1 520.4 Q504.8 520.2 504.8 519.9 Q504.8 519.5 504.9 519.3 Q505.0 519.0 505.2 518.8 Q505.5 518.6 505.7 518.8 Q506.0 519.0 506.2 519.3Z" fill="#a8e822" filter="url(#b05)"/><path d="M504.3 538.6 Q504.8 539.0 504.6 539.5 Q504.4 539.9 503.7 540.3 Q503.0 540.6 502.0 540.7 Q501.0 540.7 500.2 540.4 Q499.4 540.0 499.4 539.5 Q499.4 539.0 499.3 538.5 Q499.3 537.9 500.2 537.8 Q501.2 537.6 502.0 537.7 Q502.8 537.7 503.3 538.0 Q503.9 538.3 504.3 538.6Z" fill="#3a22dc" filter="url(#b05)"/><path d="M504.2 538.5 Q504.2 538.9 504.1 539.3 Q504.0 539.7 503.4 540.0 Q502.8 540.3 502.0 540.3 Q501.2 540.3 500.8 539.9 Q500.4 539.5 500.2 539.2 Q500.1 538.9 500.2 538.6 Q500.3 538.3 500.8 538.0 Q501.2 537.7 502.1 537.6 Q502.9 537.5 503.5 537.8 Q504.2 538.1 504.2 538.5Z" fill="#1e5af0" filter="url(#b05)"/><path d="M504.0 538.7 Q504.3 538.9 504.0 539.2 Q503.7 539.5 503.2 539.7 Q502.7 539.9 502.2 539.9 Q501.6 539.8 501.1 539.7 Q500.5 539.6 500.3 539.3 Q500.1 538.9 500.3 538.6 Q500.5 538.3 501.0 538.1 Q501.6 538.0 502.2 538.0 Q502.8 538.0 503.2 538.2 Q503.6 538.4 504.0 538.7Z" fill="#18c0f0" filter="url(#b05)"/><path d="M503.8 538.7 Q504.1 539.0 503.9 539.3 Q503.8 539.5 503.3 539.6 Q502.7 539.7 502.3 539.7 Q501.9 539.6 501.5 539.5 Q501.1 539.4 500.8 539.2 Q500.4 539.0 500.6 538.7 Q500.8 538.4 501.3 538.3 Q501.8 538.2 502.3 538.1 Q502.9 538.0 503.2 538.3 Q503.5 538.5 503.8 538.7Z" fill="#30dc70" filter="url(#b05)"/><path d="M503.5 538.7 Q503.8 538.9 503.7 539.1 Q503.6 539.3 503.2 539.4 Q502.8 539.5 502.4 539.5 Q502.1 539.5 501.9 539.3 Q501.6 539.2 501.5 539.0 Q501.4 538.9 501.5 538.7 Q501.6 538.5 501.8 538.4 Q502.1 538.3 502.4 538.4 Q502.7 538.4 503.0 538.5 Q503.3 538.5 503.5 538.7Z" fill="#a8e822" filter="url(#b05)"/><path d="M503.0 538.7 Q503.0 538.9 502.9 539.0 Q502.8 539.1 502.7 539.3 Q502.6 539.5 502.3 539.4 Q502.1 539.3 501.9 539.2 Q501.7 539.2 501.5 539.0 Q501.4 538.9 501.5 538.7 Q501.6 538.6 501.8 538.4 Q502.0 538.3 502.3 538.3 Q502.5 538.4 502.8 538.5 Q503.0 538.5 503.0 538.7Z" fill="#f4e61c" filter="url(#b05)"/><path d="M522.7 536.8 Q522.7 537.5 522.6 538.2 Q522.5 538.8 521.9 539.2 Q521.3 539.6 520.5 539.7 Q519.7 539.7 519.3 539.1 Q518.9 538.6 518.4 538.0 Q517.8 537.5 518.3 536.9 Q518.7 536.3 519.2 535.8 Q519.7 535.4 520.5 535.4 Q521.3 535.4 521.9 535.7 Q522.6 536.1 522.7 536.8Z" fill="#3a22dc" filter="url(#b05)"/><path d="M522.2 536.9 Q522.4 537.5 522.2 538.0 Q522.0 538.5 521.5 538.8 Q521.1 539.2 520.5 539.1 Q519.9 539.0 519.3 538.8 Q518.7 538.6 518.8 538.1 Q519.0 537.5 518.9 536.9 Q518.8 536.4 519.3 536.2 Q519.9 536.0 520.4 536.1 Q520.9 536.2 521.5 536.3 Q522.0 536.4 522.2 536.9Z" fill="#1e5af0" filter="url(#b05)"/><path d="M521.6 537.0 Q521.6 537.4 521.5 537.7 Q521.3 538.0 521.0 538.3 Q520.7 538.5 520.3 538.4 Q519.9 538.4 519.4 538.3 Q518.9 538.3 519.0 537.8 Q519.1 537.4 519.2 537.1 Q519.3 536.7 519.6 536.5 Q519.9 536.4 520.4 536.1 Q520.8 535.9 521.2 536.2 Q521.5 536.6 521.6 537.0Z" fill="#18c0f0" filter="url(#b05)"/><path d="M521.4 537.2 Q521.5 537.5 521.3 537.8 Q521.2 538.1 521.0 538.2 Q520.7 538.4 520.4 538.4 Q520.1 538.3 519.8 538.2 Q519.5 538.1 519.3 537.8 Q519.1 537.5 519.3 537.2 Q519.5 536.9 519.8 536.7 Q520.0 536.5 520.4 536.5 Q520.8 536.4 521.1 536.7 Q521.4 536.9 521.4 537.2Z" fill="#30dc70" filter="url(#b05)"/><path d="M521.0 537.3 Q521.0 537.5 521.0 537.7 Q521.0 537.9 520.8 538.0 Q520.7 538.2 520.5 538.1 Q520.2 538.1 520.1 538.0 Q519.9 537.9 519.9 537.7 Q519.9 537.5 519.9 537.4 Q519.9 537.2 520.1 537.1 Q520.3 537.0 520.5 537.0 Q520.7 536.9 520.9 537.0 Q521.1 537.1 521.0 537.3Z" fill="#a8e822" filter="url(#b05)"/><path d="M531.5 564.0 Q531.2 566.8 532.0 570.0 Q532.9 573.3 530.1 575.2 Q527.3 577.1 524.0 577.0 Q520.7 576.9 518.4 574.7 Q516.0 572.6 514.8 569.7 Q513.6 566.8 516.7 565.2 Q519.7 563.7 520.5 561.0 Q521.2 558.3 523.7 559.3 Q526.1 560.4 528.9 560.8 Q531.7 561.2 531.5 564.0Z" fill="#3a22dc" filter="url(#b05)"/><path d="M530.6 564.7 Q531.4 566.9 530.7 569.1 Q530.1 571.3 528.4 573.3 Q526.7 575.3 523.8 575.7 Q520.9 576.1 519.8 573.4 Q518.7 570.7 516.9 568.8 Q515.2 566.9 515.8 564.2 Q516.5 561.5 519.2 561.0 Q521.9 560.5 523.7 561.2 Q525.6 561.8 527.7 562.2 Q529.8 562.6 530.6 564.7Z" fill="#1e5af0" filter="url(#b05)"/><path d="M529.8 564.6 Q529.1 566.9 529.5 569.0 Q530.0 571.1 528.0 571.6 Q525.9 572.1 523.8 573.3 Q521.8 574.4 521.1 572.1 Q520.4 569.7 519.0 568.3 Q517.6 566.9 518.6 565.2 Q519.6 563.5 520.6 561.2 Q521.6 559.0 523.7 560.7 Q525.7 562.5 528.1 562.4 Q530.6 562.3 529.8 564.6Z" fill="#18c0f0" filter="url(#b05)"/><path d="M528.0 565.4 Q528.3 566.7 528.3 568.3 Q528.3 569.8 527.3 571.5 Q526.2 573.2 524.1 573.3 Q522.0 573.5 520.3 572.1 Q518.6 570.8 518.6 568.8 Q518.5 566.7 519.6 565.5 Q520.7 564.2 521.6 563.0 Q522.5 561.8 524.2 561.5 Q525.9 561.3 526.8 562.7 Q527.8 564.1 528.0 565.4Z" fill="#30dc70" filter="url(#b05)"/><path d="M527.9 565.2 Q528.1 566.3 527.7 567.2 Q527.4 568.2 526.5 568.8 Q525.7 569.3 524.7 569.2 Q523.8 569.0 522.9 568.7 Q521.9 568.3 521.4 567.3 Q520.9 566.3 520.6 564.7 Q520.3 563.1 521.8 562.6 Q523.4 562.2 524.7 562.1 Q526.1 561.9 526.9 563.0 Q527.7 564.1 527.9 565.2Z" fill="#a8e822" filter="url(#b05)"/><path d="M527.4 565.4 Q527.9 566.3 527.0 567.0 Q526.1 567.7 525.7 568.6 Q525.4 569.6 524.5 569.2 Q523.5 568.7 522.5 568.6 Q521.4 568.4 521.5 567.4 Q521.5 566.3 522.0 565.7 Q522.4 565.0 523.0 564.5 Q523.6 564.1 524.5 563.4 Q525.5 562.8 526.2 563.6 Q526.9 564.5 527.4 565.4Z" fill="#f4e61c" filter="url(#b05)"/><path d="M525.6 566.1 Q525.5 566.8 525.4 567.3 Q525.2 567.8 524.7 567.9 Q524.2 568.1 523.8 568.3 Q523.3 568.5 522.7 568.3 Q522.1 568.1 521.7 567.4 Q521.2 566.8 521.8 566.3 Q522.4 565.8 522.8 565.3 Q523.2 564.9 523.7 565.2 Q524.3 565.5 525.0 565.5 Q525.7 565.5 525.6 566.1Z" fill="#f8901a" filter="url(#b05)"/><path d="M504.4 579.4 Q505.4 579.6 504.6 580.2 Q503.9 580.9 503.3 581.5 Q502.8 582.1 501.4 582.5 Q500.0 583.0 498.8 582.9 Q497.5 582.9 497.2 582.4 Q496.9 581.9 497.1 581.3 Q497.3 580.7 498.3 580.2 Q499.4 579.6 500.6 579.3 Q501.8 578.9 502.7 579.1 Q503.5 579.3 504.4 579.4Z" fill="#3a22dc" filter="url(#b05)"/><path d="M503.9 579.7 Q504.3 580.0 504.1 580.4 Q504.0 580.9 503.3 581.4 Q502.7 582.0 501.6 582.2 Q500.4 582.4 499.2 582.6 Q498.0 582.7 497.4 582.3 Q496.9 582.0 497.2 581.3 Q497.6 580.7 498.8 580.3 Q499.9 580.0 500.8 579.7 Q501.7 579.5 502.6 579.4 Q503.5 579.4 503.9 579.7Z" fill="#1e5af0" filter="url(#b05)"/><path d="M503.9 579.7 Q504.4 580.0 504.0 580.5 Q503.6 580.9 503.0 581.4 Q502.3 581.8 501.4 582.0 Q500.4 582.3 499.9 582.1 Q499.3 581.9 498.7 581.8 Q498.1 581.7 498.4 581.2 Q498.8 580.8 499.3 580.4 Q499.9 580.0 500.7 579.9 Q501.5 579.8 502.4 579.6 Q503.3 579.5 503.9 579.7Z" fill="#18c0f0" filter="url(#b05)"/><path d="M503.4 579.9 Q503.7 580.1 503.3 580.5 Q502.9 580.8 502.5 581.1 Q502.2 581.4 501.5 581.6 Q500.9 581.7 500.1 581.8 Q499.3 582.0 499.0 581.7 Q498.7 581.5 498.8 581.1 Q498.9 580.7 499.7 580.4 Q500.4 580.2 501.1 579.9 Q501.8 579.6 502.5 579.6 Q503.2 579.6 503.4 579.9Z" fill="#30dc70" filter="url(#b05)"/><path d="M502.7 580.3 Q503.1 580.4 502.9 580.6 Q502.6 580.9 502.3 581.2 Q502.1 581.4 501.5 581.6 Q500.9 581.7 500.5 581.6 Q500.2 581.6 499.8 581.5 Q499.5 581.4 499.8 581.1 Q500.1 580.8 500.3 580.6 Q500.6 580.4 501.1 580.2 Q501.6 580.0 502.0 580.1 Q502.3 580.3 502.7 580.3Z" fill="#a8e822" filter="url(#b05)"/><path d="M502.3 580.4 Q502.5 580.5 502.4 580.6 Q502.3 580.8 502.0 580.9 Q501.7 581.1 501.4 581.3 Q501.1 581.4 500.9 581.3 Q500.7 581.2 500.6 581.1 Q500.4 581.0 500.4 580.9 Q500.4 580.7 500.7 580.6 Q501.0 580.4 501.3 580.3 Q501.6 580.2 501.9 580.2 Q502.2 580.3 502.3 580.4Z" fill="#f4e61c" filter="url(#b05)"/><path d="M525.3 580.0 Q525.6 580.5 525.4 581.1 Q525.2 581.6 524.8 582.1 Q524.5 582.6 524.1 582.3 Q523.6 582.0 523.2 581.9 Q522.7 581.8 522.6 581.1 Q522.6 580.5 522.7 579.9 Q522.7 579.3 523.2 579.1 Q523.6 578.9 524.0 578.8 Q524.4 578.7 524.8 579.1 Q525.1 579.4 525.3 580.0Z" fill="#3a22dc" filter="url(#b05)"/><path d="M524.9 580.2 Q525.0 580.6 525.0 581.1 Q525.0 581.6 524.7 581.8 Q524.3 582.0 524.0 581.9 Q523.7 581.8 523.4 581.6 Q523.0 581.5 523.0 581.0 Q522.9 580.6 523.1 580.2 Q523.2 579.9 523.4 579.5 Q523.6 579.2 523.9 579.3 Q524.2 579.5 524.5 579.6 Q524.8 579.8 524.9 580.2Z" fill="#1e5af0" filter="url(#b05)"/><path d="M524.6 580.4 Q524.7 580.6 524.6 580.9 Q524.5 581.1 524.3 581.2 Q524.1 581.3 524.0 581.3 Q523.8 581.4 523.6 581.2 Q523.5 581.1 523.4 580.8 Q523.3 580.6 523.3 580.3 Q523.4 580.0 523.6 580.0 Q523.8 580.0 524.0 579.8 Q524.2 579.7 524.3 579.9 Q524.4 580.2 524.6 580.4Z" fill="#18c0f0" filter="url(#b05)"/><path d="M564.2 522.8 Q564.2 523.5 564.1 524.1 Q564.0 524.7 563.5 525.0 Q563.0 525.2 562.5 525.3 Q561.9 525.4 561.4 525.1 Q560.9 524.8 560.7 524.1 Q560.5 523.5 560.8 522.9 Q561.1 522.4 561.5 522.0 Q562.0 521.6 562.5 521.7 Q563.0 521.8 563.6 521.9 Q564.2 522.1 564.2 522.8Z" fill="#3a22dc" filter="url(#b05)"/><path d="M563.7 523.1 Q563.7 523.6 563.5 524.0 Q563.4 524.4 563.1 524.8 Q562.9 525.1 562.4 525.1 Q562.0 525.1 561.5 524.9 Q561.1 524.7 560.9 524.2 Q560.7 523.6 561.0 523.1 Q561.2 522.6 561.6 522.4 Q562.0 522.2 562.5 522.0 Q563.0 521.9 563.3 522.3 Q563.6 522.7 563.7 523.1Z" fill="#1e5af0" filter="url(#b05)"/><path d="M563.3 523.1 Q563.2 523.6 563.3 523.9 Q563.3 524.3 563.0 524.4 Q562.7 524.5 562.4 524.5 Q562.1 524.5 561.8 524.4 Q561.5 524.3 561.3 523.9 Q561.2 523.6 561.3 523.2 Q561.5 522.8 561.7 522.6 Q562.0 522.3 562.4 522.3 Q562.8 522.3 563.1 522.5 Q563.4 522.7 563.3 523.1Z" fill="#18c0f0" filter="url(#b05)"/><path d="M563.0 523.3 Q563.1 523.5 563.0 523.7 Q563.0 523.9 562.8 524.0 Q562.7 524.2 562.5 524.2 Q562.3 524.1 562.1 524.1 Q561.9 524.0 561.8 523.8 Q561.8 523.5 561.9 523.3 Q562.0 523.1 562.2 523.0 Q562.3 522.8 562.5 522.8 Q562.7 522.8 562.8 523.0 Q562.9 523.2 563.0 523.3Z" fill="#30dc70" filter="url(#b05)"/><path d="M573.2 529.8 Q573.5 530.3 573.4 530.8 Q573.4 531.4 572.5 531.5 Q571.6 531.5 571.0 531.6 Q570.3 531.7 569.4 531.6 Q568.6 531.4 568.4 530.9 Q568.3 530.3 568.8 529.9 Q569.3 529.5 569.8 529.2 Q570.3 528.9 571.1 528.7 Q571.9 528.5 572.4 529.0 Q573.0 529.4 573.2 529.8Z" fill="#3a22dc" filter="url(#b05)"/><path d="M572.4 530.1 Q572.6 530.4 572.6 530.8 Q572.6 531.2 572.1 531.5 Q571.5 531.7 570.9 531.7 Q570.2 531.6 569.5 531.5 Q568.8 531.3 568.9 530.9 Q569.0 530.4 569.1 530.0 Q569.1 529.6 569.7 529.5 Q570.3 529.3 571.0 529.1 Q571.6 528.9 571.9 529.3 Q572.3 529.7 572.4 530.1Z" fill="#1e5af0" filter="url(#b05)"/><path d="M572.4 530.2 Q572.8 530.5 572.4 530.7 Q571.9 531.0 571.7 531.3 Q571.4 531.6 570.8 531.6 Q570.3 531.6 569.9 531.3 Q569.6 531.0 569.3 530.7 Q569.0 530.5 569.3 530.2 Q569.7 529.9 570.0 529.8 Q570.4 529.6 570.8 529.6 Q571.3 529.6 571.7 529.7 Q572.1 529.9 572.4 530.2Z" fill="#18c0f0" filter="url(#b05)"/><path d="M572.2 530.2 Q572.4 530.5 572.3 530.7 Q572.1 531.0 571.7 531.0 Q571.3 531.1 570.9 531.1 Q570.6 531.2 570.4 531.0 Q570.2 530.8 569.9 530.6 Q569.7 530.5 569.8 530.2 Q569.9 530.0 570.2 529.8 Q570.6 529.7 570.9 529.8 Q571.3 529.8 571.6 529.9 Q572.0 530.0 572.2 530.2Z" fill="#30dc70" filter="url(#b05)"/><path d="M571.5 530.4 Q571.6 530.5 571.4 530.7 Q571.3 530.8 571.2 530.9 Q571.1 531.1 570.8 531.1 Q570.5 531.1 570.4 531.0 Q570.3 530.8 570.1 530.7 Q569.9 530.5 570.1 530.4 Q570.3 530.3 570.4 530.2 Q570.6 530.0 570.8 530.0 Q571.1 530.0 571.3 530.1 Q571.5 530.2 571.5 530.4Z" fill="#a8e822" filter="url(#b05)"/><path d="M560.2 537.1 Q560.2 537.6 559.8 537.9 Q559.3 538.2 558.5 538.2 Q557.8 538.3 556.7 538.3 Q555.7 538.2 555.1 537.6 Q554.5 537.0 554.2 536.5 Q554.0 535.9 554.5 535.5 Q555.0 535.2 555.9 535.2 Q556.8 535.2 557.8 535.3 Q558.8 535.5 559.5 536.0 Q560.1 536.6 560.2 537.1Z" fill="#3a22dc" filter="url(#b05)"/><path d="M560.3 537.1 Q560.5 537.7 559.9 537.9 Q559.3 538.2 558.6 538.1 Q557.8 538.1 557.1 537.9 Q556.4 537.7 555.6 537.4 Q554.8 537.1 555.0 536.6 Q555.2 536.2 555.3 535.8 Q555.4 535.4 556.1 535.3 Q556.9 535.3 557.6 535.6 Q558.4 536.0 559.2 536.3 Q560.1 536.6 560.3 537.1Z" fill="#1e5af0" filter="url(#b05)"/><path d="M559.7 537.2 Q559.8 537.6 559.2 537.8 Q558.6 537.9 558.1 538.1 Q557.7 538.3 556.9 538.1 Q556.1 537.9 555.9 537.5 Q555.6 537.1 555.2 536.7 Q554.8 536.3 555.3 536.1 Q555.9 536.0 556.3 535.7 Q556.7 535.5 557.5 535.7 Q558.3 536.0 558.9 536.3 Q559.6 536.7 559.7 537.2Z" fill="#18c0f0" filter="url(#b05)"/><path d="M558.8 537.1 Q558.9 537.4 558.6 537.6 Q558.4 537.8 557.8 537.8 Q557.3 537.7 556.7 537.7 Q556.1 537.7 555.7 537.4 Q555.2 537.0 555.3 536.7 Q555.4 536.4 555.7 536.3 Q555.9 536.1 556.3 536.0 Q556.7 535.8 557.2 536.0 Q557.8 536.2 558.2 536.5 Q558.7 536.7 558.8 537.1Z" fill="#30dc70" filter="url(#b05)"/><path d="M558.1 536.9 Q558.1 537.1 557.9 537.3 Q557.8 537.4 557.5 537.5 Q557.2 537.6 556.8 537.5 Q556.4 537.4 556.1 537.2 Q555.9 537.0 555.7 536.7 Q555.6 536.5 555.8 536.3 Q556.0 536.2 556.4 536.1 Q556.7 536.0 557.2 536.1 Q557.6 536.3 557.9 536.5 Q558.1 536.8 558.1 536.9Z" fill="#a8e822" filter="url(#b05)"/><path d="M557.6 536.8 Q557.5 536.9 557.5 537.1 Q557.5 537.3 557.3 537.3 Q557.0 537.4 556.7 537.3 Q556.4 537.2 556.3 537.0 Q556.2 536.8 556.1 536.7 Q556.0 536.5 556.2 536.4 Q556.4 536.4 556.5 536.3 Q556.7 536.1 557.0 536.2 Q557.3 536.3 557.5 536.5 Q557.7 536.6 557.6 536.8Z" fill="#f4e61c" filter="url(#b05)"/><path d="M583.1 562.8 Q584.8 564.5 583.1 566.1 Q581.3 567.8 580.5 569.5 Q579.6 571.2 578.0 571.1 Q576.5 570.9 574.3 570.6 Q572.2 570.3 571.6 567.4 Q571.0 564.5 571.3 561.4 Q571.6 558.2 574.1 558.5 Q576.6 558.8 578.2 557.9 Q579.8 556.9 580.6 559.1 Q581.4 561.2 583.1 562.8Z" fill="#3a22dc" filter="url(#b05)"/><path d="M581.9 562.2 Q581.2 564.5 581.1 566.1 Q581.1 567.8 580.3 569.8 Q579.5 571.9 577.8 571.6 Q576.1 571.4 575.3 569.6 Q574.4 567.8 573.3 566.2 Q572.3 564.5 572.5 562.0 Q572.7 559.5 574.7 559.8 Q576.7 560.2 578.2 558.3 Q579.7 556.4 581.1 558.1 Q582.5 559.8 581.9 562.2Z" fill="#1e5af0" filter="url(#b05)"/><path d="M582.5 561.9 Q583.0 564.1 581.8 565.5 Q580.6 567.0 579.5 567.4 Q578.5 567.9 577.6 567.9 Q576.7 567.9 575.1 568.0 Q573.5 568.2 573.4 566.1 Q573.2 564.1 573.4 562.1 Q573.6 560.1 574.9 559.0 Q576.1 558.0 577.5 558.3 Q578.9 558.7 580.5 559.2 Q582.0 559.8 582.5 561.9Z" fill="#18c0f0" filter="url(#b05)"/><path d="M580.4 563.2 Q581.2 564.2 580.7 565.5 Q580.1 566.8 579.4 567.9 Q578.7 569.0 577.6 568.6 Q576.5 568.3 575.6 567.6 Q574.7 566.9 575.1 565.5 Q575.5 564.2 575.5 563.2 Q575.5 562.2 576.1 561.5 Q576.7 560.9 577.4 561.1 Q578.2 561.4 578.8 561.8 Q579.5 562.2 580.4 563.2Z" fill="#30dc70" filter="url(#b05)"/><path d="M579.1 563.0 Q579.2 563.9 578.9 564.6 Q578.5 565.2 578.1 565.7 Q577.7 566.1 577.2 566.0 Q576.7 565.8 576.3 565.5 Q575.9 565.1 575.3 564.5 Q574.7 563.9 575.1 563.1 Q575.5 562.3 576.0 561.8 Q576.5 561.3 577.1 561.7 Q577.6 562.0 578.3 562.1 Q578.9 562.2 579.1 563.0Z" fill="#a8e822" filter="url(#b05)"/><path d="M565.0 577.3 Q565.1 577.9 565.4 578.4 Q565.7 579.0 564.3 579.4 Q562.9 579.8 561.7 580.1 Q560.4 580.5 559.1 580.4 Q557.8 580.4 557.1 579.9 Q556.4 579.4 557.1 578.7 Q557.7 578.1 558.8 577.5 Q559.8 577.0 561.1 576.9 Q562.4 576.9 563.6 576.9 Q564.9 576.8 565.0 577.3Z" fill="#3a22dc" filter="url(#b05)"/><path d="M564.9 577.5 Q565.4 577.9 565.3 578.5 Q565.1 579.0 564.0 579.5 Q562.9 579.9 561.7 580.0 Q560.6 580.1 559.3 580.2 Q558.0 580.3 557.5 579.9 Q557.0 579.4 557.6 578.8 Q558.3 578.2 559.2 577.9 Q560.2 577.5 561.3 577.2 Q562.4 576.8 563.4 577.0 Q564.4 577.1 564.9 577.5Z" fill="#1e5af0" filter="url(#b05)"/><path d="M564.5 577.7 Q564.9 578.0 564.7 578.5 Q564.5 579.0 563.6 579.3 Q562.8 579.7 561.9 579.7 Q561.0 579.8 560.3 579.7 Q559.6 579.6 558.6 579.5 Q557.7 579.3 558.1 578.8 Q558.4 578.2 559.4 577.9 Q560.5 577.6 561.5 577.3 Q562.5 576.9 563.3 577.1 Q564.1 577.4 564.5 577.7Z" fill="#18c0f0" filter="url(#b05)"/><path d="M563.8 577.9 Q564.0 578.2 564.0 578.6 Q564.0 579.0 563.2 579.3 Q562.4 579.7 561.6 579.7 Q560.8 579.7 560.0 579.7 Q559.2 579.8 558.8 579.5 Q558.4 579.2 558.6 578.8 Q558.7 578.4 559.6 578.2 Q560.4 577.9 561.2 577.7 Q562.0 577.5 562.7 577.6 Q563.5 577.6 563.8 577.9Z" fill="#30dc70" filter="url(#b05)"/><path d="M562.9 578.2 Q563.3 578.4 562.9 578.7 Q562.4 579.0 562.2 579.2 Q561.9 579.5 561.3 579.6 Q560.7 579.6 560.3 579.5 Q559.9 579.4 559.5 579.3 Q559.1 579.2 559.1 578.9 Q559.1 578.6 559.8 578.4 Q560.4 578.1 560.9 578.1 Q561.5 578.1 562.1 578.1 Q562.6 578.1 562.9 578.2Z" fill="#a8e822" filter="url(#b05)"/><path d="M562.5 578.5 Q562.6 578.7 562.4 578.9 Q562.1 579.0 562.0 579.2 Q561.9 579.4 561.4 579.5 Q561.0 579.5 560.8 579.4 Q560.5 579.3 560.4 579.2 Q560.3 579.1 560.4 579.0 Q560.5 578.8 560.6 578.7 Q560.8 578.5 561.2 578.5 Q561.6 578.5 562.0 578.4 Q562.4 578.4 562.5 578.5Z" fill="#f4e61c" filter="url(#b05)"/><path d="M584.5 579.3 Q584.6 580.0 584.5 580.7 Q584.4 581.5 584.0 582.1 Q583.6 582.8 583.1 582.4 Q582.5 582.0 582.2 581.7 Q581.8 581.3 581.7 580.6 Q581.7 580.0 581.8 579.4 Q581.9 578.8 582.2 578.5 Q582.6 578.1 583.0 578.1 Q583.4 578.0 583.9 578.3 Q584.4 578.5 584.5 579.3Z" fill="#3a22dc" filter="url(#b05)"/><path d="M584.1 579.6 Q584.3 580.1 584.2 580.6 Q584.1 581.1 583.8 581.5 Q583.5 581.9 583.1 581.8 Q582.8 581.6 582.5 581.3 Q582.3 580.9 582.0 580.5 Q581.7 580.1 581.9 579.5 Q582.1 579.0 582.4 578.8 Q582.8 578.6 583.1 578.7 Q583.4 578.7 583.7 578.9 Q583.9 579.2 584.1 579.6Z" fill="#1e5af0" filter="url(#b05)"/><path d="M583.8 579.7 Q584.0 579.9 584.0 580.3 Q583.9 580.7 583.7 580.7 Q583.4 580.7 583.2 580.8 Q583.0 580.9 582.8 580.7 Q582.6 580.5 582.5 580.2 Q582.4 579.9 582.5 579.7 Q582.7 579.4 582.9 579.2 Q583.0 579.0 583.2 579.0 Q583.4 579.0 583.6 579.2 Q583.7 579.4 583.8 579.7Z" fill="#18c0f0" filter="url(#b05)"/><text x="28.2" y="511.4" font-size="9" text-anchor="start" fill="#f6f6f6" stroke="#f6f6f6" stroke-width=".28">Pre</text><text x="84.7" y="511.4" font-size="9" text-anchor="start" fill="#f6f6f6" stroke="#f6f6f6" stroke-width=".28">30 min</text><text x="141.3" y="511.4" font-size="9" text-anchor="start" fill="#f6f6f6" stroke="#f6f6f6" stroke-width=".28">60 min</text><text x="195.6" y="511.4" font-size="9" text-anchor="start" fill="#f6f6f6" stroke="#f6f6f6" stroke-width=".28">90 min</text><text x="252.8" y="511.4" font-size="9" text-anchor="start" fill="#f6f6f6" stroke="#f6f6f6" stroke-width=".28">120 min</text><text x="327.6" y="511.4" font-size="9" text-anchor="start" fill="#f6f6f6" stroke="#f6f6f6" stroke-width=".28">Pre</text><text x="384.7" y="511.4" font-size="9" text-anchor="start" fill="#f6f6f6" stroke="#f6f6f6" stroke-width=".28">30 min</text><text x="441.3" y="511.4" font-size="9" text-anchor="start" fill="#f6f6f6" stroke="#f6f6f6" stroke-width=".28">60 min</text><text x="495.0" y="511.4" font-size="9" text-anchor="start" fill="#f6f6f6" stroke="#f6f6f6" stroke-width=".28">90 min</text><text x="552.2" y="511.4" font-size="9" text-anchor="start" fill="#f6f6f6" stroke="#f6f6f6" stroke-width=".28">120 min</text><rect x="608.3" y="490.8" width="4.3" height="92" fill="url(#jet)"/><text x="615.5" y="506.6" font-size="9.6" text-anchor="start" fill="#111" stroke="#111" stroke-width=".28">1.4</text><text x="615.5" y="534.2" font-size="9.6" text-anchor="start" fill="#111" stroke="#111" stroke-width=".28">1.2</text><text x="615.5" y="559.9" font-size="9.6" text-anchor="start" fill="#111" stroke="#111" stroke-width=".28">1.0</text><text x="615.5" y="584.4" font-size="9.6" text-anchor="start" fill="#111" stroke="#111" stroke-width=".28">0.8</text><text x="617.2" y="546.6" font-size="9.6" text-anchor="start" fill="#111" stroke="#111" stroke-width=".28">×10<tspan font-size="6" dy="-3.4">9</tspan></text><path d="M612.6 503.2 h1.8" stroke="#222" stroke-width="0.7"/><path d="M612.6 530.8 h1.8" stroke="#222" stroke-width="0.7"/><path d="M612.6 556.5 h1.8" stroke="#222" stroke-width="0.7"/><path d="M612.6 581.0 h1.8" stroke="#222" stroke-width="0.7"/><text transform="translate(649.4,543.0) rotate(-90)" font-size="9.3" text-anchor="middle" fill="#111" stroke="#111" stroke-width=".28">Radiant efficiency</text><text transform="translate(660.9,543.0) rotate(-90)" font-size="9.3" text-anchor="middle" fill="#111" stroke="#111" stroke-width=".28">(p s<tspan font-size="6" dy="-3.5">-1</tspan><tspan dy="3.5"> cm</tspan><tspan font-size="6" dy="-3.5">-2</tspan><tspan dy="3.5"> sr</tspan><tspan font-size="6" dy="-3.5">-1</tspan><tspan dy="3.5">)/(μw cm</tspan><tspan font-size="6" dy="-3.5">-2</tspan><tspan dy="3.5">)</tspan></text></g>
<!-- p_hi -->
<g><rect x="23.8" y="594.0" width="278.1" height="274.9" fill="#3f3f3f"/><clipPath id="hc"><rect x="23.8" y="594.0" width="278.1" height="274.9"/></clipPath><g clip-path="url(#hc)"><ellipse cx="60.0" cy="620.0" rx="60.0" ry="40.0" fill="#4c4c4c" opacity="0.6" transform="rotate(0 60.0 620.0)" filter="url(#b5)" /><ellipse cx="165.0" cy="735.0" rx="125.5" ry="124.5" fill="#787878" opacity="1" transform="rotate(0 165.0 735.0)" filter="url(#b05)" /><ellipse cx="165.0" cy="735.0" rx="124.5" ry="123.5" fill="none" stroke="#a4a4a4" stroke-width="1.4" opacity="0.8" filter="url(#b05)"/><ellipse cx="165.0" cy="735.0" rx="120.0" ry="119.0" fill="none" stroke="#686868" stroke-width="5.0" opacity="0.8" filter="url(#b1)"/><ellipse cx="165.0" cy="735.0" rx="114.5" ry="113.6" fill="none" stroke="#9a9a9a" stroke-width="5.0" opacity="0.85" filter="url(#b1)"/><ellipse cx="165.0" cy="735.0" rx="109.5" ry="108.6" fill="none" stroke="#a0a0a0" stroke-width="4.0" opacity="0.75" filter="url(#b1)"/><ellipse cx="165.0" cy="735.0" rx="104.5" ry="103.7" fill="none" stroke="#6c6c6c" stroke-width="4.0" opacity="0.9" filter="url(#b1)"/><path d="M105.0 633.0 A113.5 112.6 0 0 1 260.0 673.0" fill="none" stroke="#4a4a4a" stroke-width="20" opacity="0.55" filter="url(#b3)"/><path d="M78.1 807.4 A113.5 112.6 0 0 1 149.2 623.5" fill="none" stroke="#b8b8b8" stroke-width="14.0" opacity="0.45" filter="url(#b3)"/><path d="M274.6 705.9 A113.5 112.6 0 0 1 145.3 845.9" fill="none" stroke="#b8b8b8" stroke-width="14.0" opacity="0.45" filter="url(#b3)"/><path d="M66.7 791.3 A113.5 112.6 0 0 1 126.2 629.2" fill="none" stroke="#f4f4f4" stroke-width="2.0" opacity="0.90" filter="url(#b05)"/><path d="M62.1 772.2 A109.5 108.6 0 0 1 110.2 640.9" fill="none" stroke="#e4e4e4" stroke-width="1.6" opacity="0.85" filter="url(#b05)"/><path d="M75.0 809.9 A117.5 116.6 0 0 1 154.8 618.9" fill="none" stroke="#d8d8d8" stroke-width="1.4" opacity="0.80" filter="url(#b05)"/><path d="M61.1 753.2 A105.5 104.7 0 0 1 104.5 649.3" fill="none" stroke="#cfcfcf" stroke-width="1.2" opacity="0.70" filter="url(#b05)"/><path d="M278.1 744.8 A113.5 112.6 0 0 1 188.6 845.1" fill="none" stroke="#f4f4f4" stroke-width="2.0" opacity="0.90" filter="url(#b05)"/><path d="M270.8 763.1 A109.5 108.6 0 0 1 202.5 837.1" fill="none" stroke="#e8e8e8" stroke-width="1.6" opacity="0.85" filter="url(#b05)"/><path d="M280.7 714.8 A117.5 116.6 0 0 1 154.8 851.1" fill="none" stroke="#d8d8d8" stroke-width="1.4" opacity="0.80" filter="url(#b05)"/><path d="M279.2 776.2 A121.5 120.5 0 0 1 104.3 839.4" fill="none" stroke="#c4c4c4" stroke-width="1.2" opacity="0.70" filter="url(#b05)"/><path d="M260.6 779.2 A105.5 104.7 0 0 1 217.8 825.6" fill="none" stroke="#cfcfcf" stroke-width="1.2" opacity="0.70" filter="url(#b05)"/><path d="M154.9 849.1 A115.5 114.6 0 0 1 65.0 792.3" fill="none" stroke="#c8c8c8" stroke-width="1.4" opacity="0.70" filter="url(#b05)"/><path d="M220.8 639.2 A111.5 110.6 0 0 1 276.1 725.4" fill="none" stroke="#b4b4b4" stroke-width="1.3" opacity="0.60" filter="url(#b05)"/><path d="M127.2 838.0 A110.5 109.6 0 0 1 61.2 772.5" fill="none" stroke="#b4b4b4" stroke-width="1.2" opacity="0.60" filter="url(#b05)"/><ellipse cx="165.0" cy="735.0" rx="101.5" ry="100.5" fill="#3c3c3c" opacity="1" transform="rotate(0 165.0 735.0)" filter="url(#b15)" /><ellipse cx="165.0" cy="735.0" rx="95.0" ry="94.0" fill="none" stroke="#2e2e2e" stroke-width="9.0" opacity="0.8" filter="url(#b2)"/><ellipse cx="165.0" cy="737.0" rx="88.0" ry="86.0" fill="#474747" opacity="1" transform="rotate(0 165.0 737.0)" filter="url(#b3)" /><ellipse cx="150.0" cy="680.0" rx="40.0" ry="22.0" fill="#343434" opacity="0.8" transform="rotate(0 150.0 680.0)" filter="url(#b5)" /><ellipse cx="215.0" cy="700.0" rx="40.0" ry="30.0" fill="#363636" opacity="0.7" transform="rotate(0 215.0 700.0)" filter="url(#b5)" /><circle cx="202.2" cy="629.9" r="0.8" fill="#bbb" opacity="0.92"/><circle cx="204.9" cy="626.8" r="1.0" fill="#ddd" opacity="0.75"/><circle cx="198.0" cy="627.2" r="0.7" fill="#999" opacity="0.71"/><circle cx="203.3" cy="629.7" r="1.0" fill="#999" opacity="0.52"/><circle cx="206.6" cy="626.9" r="0.9" fill="#999" opacity="0.72"/><circle cx="205.1" cy="626.2" r="0.8" fill="#999" opacity="0.98"/><circle cx="195.3" cy="628.2" r="0.9" fill="#ddd" opacity="0.90"/><circle cx="202.0" cy="627.2" r="0.9" fill="#bbb" opacity="0.74"/><circle cx="198.7" cy="627.7" r="0.9" fill="#ddd" opacity="0.54"/><circle cx="200.7" cy="630.1" r="0.9" fill="#999" opacity="0.88"/><circle cx="198.6" cy="624.0" r="0.9" fill="#ddd" opacity="0.78"/><circle cx="192.2" cy="626.1" r="0.7" fill="#ddd" opacity="0.94"/><circle cx="192.9" cy="628.3" r="0.7" fill="#bbb" opacity="0.66"/><circle cx="192.9" cy="627.2" r="0.9" fill="#ddd" opacity="0.86"/><circle cx="135.4" cy="839.9" r="0.7" fill="#ddd" opacity="0.79"/><circle cx="122.0" cy="842.7" r="0.6" fill="#ddd" opacity="0.81"/><circle cx="130.5" cy="838.5" r="0.9" fill="#bbb" opacity="0.62"/><circle cx="132.6" cy="842.5" r="0.6" fill="#bbb" opacity="0.69"/><circle cx="123.0" cy="837.7" r="0.9" fill="#ddd" opacity="0.70"/><circle cx="138.7" cy="839.8" r="0.8" fill="#bbb" opacity="0.75"/><circle cx="122.8" cy="841.1" r="0.9" fill="#ddd" opacity="0.78"/><circle cx="119.9" cy="840.7" r="0.9" fill="#ddd" opacity="0.92"/><ellipse cx="174.0" cy="669.0" rx="8.0" ry="5.0" fill="#1c1c1c" opacity="1" transform="rotate(0 174.0 669.0)" filter="url(#b1)" /><circle cx="176.9" cy="670.0" r="0.7" fill="#ddd" opacity="0.62"/><circle cx="169.6" cy="671.2" r="0.9" fill="#fff" opacity="0.99"/><circle cx="173.9" cy="667.4" r="0.7" fill="#bbb" opacity="0.76"/><circle cx="173.9" cy="669.0" r="0.7" fill="#ddd" opacity="0.90"/><circle cx="177.4" cy="667.9" r="0.8" fill="#bbb" opacity="0.95"/><circle cx="171.8" cy="669.7" r="0.9" fill="#fff" opacity="0.88"/><circle cx="179.0" cy="669.7" r="1.1" fill="#fff" opacity="0.63"/><circle cx="172.6" cy="670.8" r="1.1" fill="#ddd" opacity="0.63"/><circle cx="169.1" cy="671.1" r="1.1" fill="#fff" opacity="0.57"/><ellipse cx="172.0" cy="658.0" rx="8.0" ry="6.0" fill="#606060" opacity="0.8" transform="rotate(0 172.0 658.0)" filter="url(#b2)" /><ellipse cx="164.5" cy="731.0" rx="18.0" ry="20.0" fill="#343434" opacity="0.7" transform="rotate(0 164.5 731.0)" filter="url(#b3)" /><ellipse cx="164.5" cy="731.0" rx="12.5" ry="15.5" fill="#a4a4a4" opacity="1" transform="rotate(-20 164.5 731.0)" filter="url(#b1)" /><ellipse cx="160.0" cy="723.0" rx="6.5" ry="7.5" fill="#d8d8d8" opacity="0.9" transform="rotate(0 160.0 723.0)" filter="url(#b1)" /><ellipse cx="170.0" cy="732.0" rx="6.0" ry="7.0" fill="#bdbdbd" opacity="0.9" transform="rotate(0 170.0 732.0)" filter="url(#b1)" /><ellipse cx="160.0" cy="740.0" rx="6.0" ry="5.0" fill="#b4b4b4" opacity="0.9" transform="rotate(0 160.0 740.0)" filter="url(#b1)" /><circle cx="160.6" cy="733.4" r="1.1" fill="#f0f0f0" opacity="0.54"/><circle cx="167.9" cy="734.7" r="1.0" fill="#d8d8d8" opacity="0.70"/><circle cx="170.0" cy="723.4" r="0.9" fill="#d8d8d8" opacity="0.60"/><circle cx="163.7" cy="718.7" r="1.1" fill="#777" opacity="0.94"/><circle cx="165.3" cy="718.6" r="0.8" fill="#d8d8d8" opacity="0.93"/><circle cx="158.0" cy="735.9" r="1.2" fill="#f0f0f0" opacity="0.63"/><circle cx="162.2" cy="723.1" r="0.8" fill="#d8d8d8" opacity="0.58"/><circle cx="162.5" cy="717.2" r="1.2" fill="#777" opacity="0.75"/><circle cx="157.4" cy="725.7" r="0.8" fill="#777" opacity="0.87"/><circle cx="169.5" cy="728.5" r="1.1" fill="#777" opacity="0.88"/><circle cx="166.9" cy="739.5" r="1.0" fill="#f0f0f0" opacity="0.68"/><circle cx="159.9" cy="741.8" r="0.9" fill="#f0f0f0" opacity="0.83"/><circle cx="157.7" cy="721.7" r="1.3" fill="#777" opacity="0.81"/><circle cx="172.0" cy="731.3" r="1.0" fill="#777" opacity="0.76"/><circle cx="165.9" cy="727.6" r="0.8" fill="#777" opacity="0.72"/><circle cx="164.2" cy="740.9" r="1.2" fill="#777" opacity="0.71"/><circle cx="165.9" cy="722.2" r="1.0" fill="#f0f0f0" opacity="0.82"/><circle cx="166.8" cy="729.1" r="1.0" fill="#d8d8d8" opacity="0.69"/><circle cx="160.3" cy="726.3" r="1.0" fill="#777" opacity="0.88"/><circle cx="159.4" cy="719.5" r="1.1" fill="#777" opacity="0.63"/><circle cx="157.0" cy="731.1" r="1.0" fill="#d8d8d8" opacity="0.91"/><circle cx="173.7" cy="727.1" r="0.8" fill="#d8d8d8" opacity="0.60"/><ellipse cx="134.0" cy="758.0" rx="22.0" ry="8.0" fill="#2a2a2a" opacity="1" transform="rotate(24 134.0 758.0)" filter="url(#b1)" /><circle cx="144.8" cy="755.0" r="0.7" fill="#999" opacity="0.54"/><circle cx="128.3" cy="762.6" r="1.1" fill="#666" opacity="0.99"/><circle cx="141.3" cy="757.9" r="0.9" fill="#111" opacity="0.69"/><circle cx="127.2" cy="756.9" r="0.7" fill="#ddd" opacity="0.66"/><circle cx="133.6" cy="762.6" r="0.8" fill="#999" opacity="0.62"/><circle cx="128.2" cy="754.1" r="0.8" fill="#666" opacity="0.73"/><circle cx="121.0" cy="759.5" r="0.8" fill="#999" opacity="0.83"/><circle cx="129.9" cy="756.9" r="1.2" fill="#999" opacity="0.52"/><circle cx="140.5" cy="753.5" r="1.1" fill="#ddd" opacity="0.54"/><circle cx="124.0" cy="756.5" r="0.9" fill="#666" opacity="0.62"/><circle cx="147.3" cy="758.2" r="0.7" fill="#111" opacity="0.60"/><circle cx="133.3" cy="758.2" r="0.8" fill="#666" opacity="0.76"/><circle cx="141.4" cy="758.7" r="0.9" fill="#999" opacity="0.61"/><circle cx="139.3" cy="753.7" r="1.2" fill="#ddd" opacity="0.83"/><circle cx="144.7" cy="759.5" r="1.1" fill="#999" opacity="0.58"/><circle cx="120.9" cy="758.1" r="1.0" fill="#666" opacity="0.74"/><circle cx="137.2" cy="755.2" r="0.8" fill="#111" opacity="0.64"/><circle cx="132.9" cy="757.6" r="1.1" fill="#ddd" opacity="0.59"/><circle cx="147.4" cy="760.6" r="0.9" fill="#111" opacity="0.53"/><circle cx="146.3" cy="758.8" r="1.0" fill="#666" opacity="0.58"/><circle cx="147.8" cy="760.9" r="1.0" fill="#666" opacity="0.60"/><circle cx="140.1" cy="762.6" r="0.9" fill="#111" opacity="0.91"/><circle cx="134.8" cy="759.0" r="0.9" fill="#999" opacity="0.51"/><circle cx="125.6" cy="760.5" r="1.1" fill="#666" opacity="0.90"/><circle cx="146.3" cy="755.7" r="0.8" fill="#ddd" opacity="0.99"/><circle cx="120.5" cy="761.1" r="1.2" fill="#111" opacity="0.51"/><ellipse cx="152.0" cy="766.0" rx="1.5" ry="1.2" fill="#3a2ae0" opacity="1" transform="rotate(0 152.0 766.0)" /><ellipse cx="166.0" cy="727.0" rx="1.0" ry="1.0" fill="#3a2ae0" opacity="1" transform="rotate(0 166.0 727.0)" /><ellipse cx="178.0" cy="794.0" rx="26.0" ry="20.0" fill="#5e5e5e" opacity="0.9" transform="rotate(-25 178.0 794.0)" filter="url(#b2)" /><ellipse cx="190.0" cy="782.0" rx="12.0" ry="9.0" fill="#6c6c6c" opacity="0.8" transform="rotate(0 190.0 782.0)" filter="url(#b2)" /><ellipse cx="98.0" cy="722.0" rx="5.0" ry="18.0" fill="#585858" opacity="0.8" transform="rotate(-12 98.0 722.0)" filter="url(#b2)" /><ellipse cx="112.0" cy="742.0" rx="6.0" ry="14.0" fill="#5a5a5a" opacity="0.8" transform="rotate(-50 112.0 742.0)" filter="url(#b2)" /><path d="M96 722 L106 716 L113 702 L114 694 Q118 688 126 690 Q132 694 130 702 L126 708 L118 716 L108 728 L98 730 Q92 728 96 722Z" fill="#2a22e8" filter="url(#b05)"/><ellipse cx="123.0" cy="697.0" rx="5.0" ry="5.0" fill="#1e6af0" opacity="0.9" transform="rotate(0 123.0 697.0)" filter="url(#b1)" /><ellipse cx="126.0" cy="694.0" rx="2.0" ry="2.0" fill="#18b8f0" opacity="0.9" transform="rotate(0 126.0 694.0)" filter="url(#b05)" /><ellipse cx="106.0" cy="715.0" rx="2.5" ry="1.6" fill="#18c8ee" opacity="0.95" transform="rotate(0 106.0 715.0)" filter="url(#b05)" /><ellipse cx="98.0" cy="727.0" rx="4.0" ry="3.0" fill="#5a22d8" opacity="0.9" transform="rotate(0 98.0 727.0)" filter="url(#b05)" /><path d="M247.2 722.1 Q248.9 728.0 246.2 733.2 Q243.6 738.4 240.0 745.1 Q236.4 751.8 228.2 751.4 Q219.9 750.9 213.1 746.7 Q206.3 742.5 205.6 735.3 Q205.0 728.0 206.7 721.4 Q208.3 714.8 213.5 708.1 Q218.6 701.4 227.8 701.8 Q237.1 702.2 241.3 709.2 Q245.6 716.3 247.2 722.1Z" fill="#3a22dc" filter="url(#b05)"/><path d="M249.5 741.8 Q249.8 744.0 249.3 746.1 Q248.8 748.3 247.5 750.9 Q246.1 753.5 243.4 752.2 Q240.8 750.8 237.3 750.8 Q233.8 750.7 232.9 747.4 Q232.1 744.0 233.4 741.0 Q234.7 737.9 237.5 736.8 Q240.3 735.6 243.3 734.7 Q246.3 733.8 247.7 736.6 Q249.2 739.5 249.5 741.8Z" fill="#3a22dc" filter="url(#b05)"/><path d="M219.0 711.7 Q219.6 714.0 219.2 716.4 Q218.7 718.9 216.6 720.4 Q214.6 721.9 212.0 721.9 Q209.4 722.0 206.9 720.8 Q204.4 719.6 203.1 716.8 Q201.8 714.0 203.3 711.4 Q204.9 708.8 207.0 706.9 Q209.1 705.0 211.8 705.5 Q214.6 706.1 216.5 707.7 Q218.4 709.4 219.0 711.7Z" fill="#3a22dc" filter="url(#b05)"/><path d="M248.2 723.8 Q254.8 728.0 250.4 733.7 Q245.9 739.4 240.8 743.3 Q235.7 747.2 229.4 746.1 Q223.0 745.0 219.4 741.0 Q215.7 737.0 212.7 732.5 Q209.7 728.0 212.4 723.3 Q215.1 718.6 219.5 716.0 Q223.9 713.4 229.1 713.2 Q234.3 713.0 237.9 716.3 Q241.5 719.5 248.2 723.8Z" fill="#1e5af0" filter="url(#b05)"/><path d="M245.5 723.5 Q249.4 727.7 246.4 732.5 Q243.4 737.4 239.8 742.9 Q236.3 748.4 229.5 747.2 Q222.6 746.0 216.9 742.9 Q211.2 739.7 209.8 733.7 Q208.4 727.7 209.9 721.8 Q211.4 715.8 216.5 711.2 Q221.7 706.7 229.1 706.4 Q236.6 706.1 239.1 712.7 Q241.6 719.3 245.5 723.5Z" fill="#18c0f0" filter="url(#b05)"/><path d="M248.0 721.8 Q248.0 728.0 244.5 731.8 Q241.0 735.5 237.8 738.6 Q234.7 741.6 229.8 742.3 Q224.8 743.0 222.4 739.0 Q219.9 734.9 216.2 731.4 Q212.5 728.0 212.3 721.8 Q212.0 715.7 218.4 714.3 Q224.8 713.0 230.7 711.1 Q236.5 709.2 242.3 712.4 Q248.1 715.6 248.0 721.8Z" fill="#30dc70" filter="url(#b05)"/><path d="M242.3 724.2 Q245.0 727.7 245.5 733.3 Q246.1 738.9 240.3 740.2 Q234.4 741.6 229.2 743.0 Q223.9 744.5 219.7 741.0 Q215.5 737.4 216.8 732.5 Q218.1 727.7 217.6 723.4 Q217.1 719.0 220.7 715.6 Q224.3 712.2 229.0 714.2 Q233.6 716.3 236.6 718.6 Q239.7 720.8 242.3 724.2Z" fill="#a8e822" filter="url(#b05)"/><path d="M245.7 740.5 Q247.5 742.0 246.4 744.1 Q245.3 746.1 244.0 748.4 Q242.6 750.6 240.3 749.7 Q237.9 748.8 235.7 748.0 Q233.4 747.2 234.2 744.6 Q234.9 742.0 234.9 740.0 Q234.8 737.9 236.6 737.3 Q238.4 736.8 239.9 737.0 Q241.4 737.3 242.7 738.1 Q243.9 738.9 245.7 740.5Z" fill="#18c0f0" filter="url(#b05)"/><path d="M245.7 739.7 Q245.7 741.9 245.1 743.7 Q244.5 745.5 242.9 746.0 Q241.3 746.5 239.7 747.3 Q238.1 748.1 237.0 746.6 Q235.9 745.1 234.7 743.5 Q233.6 741.9 234.7 740.3 Q235.8 738.7 237.2 738.0 Q238.6 737.4 240.0 737.4 Q241.3 737.3 243.5 737.4 Q245.6 737.5 245.7 739.7Z" fill="#30dc70" filter="url(#b05)"/><path d="M244.2 740.5 Q244.7 741.9 244.2 743.4 Q243.6 744.8 242.4 745.2 Q241.1 745.6 239.7 746.4 Q238.4 747.2 237.2 746.2 Q235.9 745.1 235.2 743.5 Q234.4 741.9 235.4 740.5 Q236.4 739.1 237.7 738.9 Q239.0 738.7 240.1 738.2 Q241.3 737.7 242.5 738.4 Q243.7 739.0 244.2 740.5Z" fill="#a8e822" filter="url(#b05)"/><path d="M238.9 725.9 Q239.5 728.7 239.4 732.4 Q239.3 736.2 235.4 736.2 Q231.4 736.3 228.8 735.2 Q226.1 734.1 222.4 733.2 Q218.7 732.2 218.3 728.5 Q217.9 724.9 219.8 721.8 Q221.7 718.8 225.3 719.5 Q228.9 720.1 231.7 719.4 Q234.6 718.7 236.4 721.0 Q238.3 723.2 238.9 725.9Z" fill="#f4e61c" filter="url(#b05)"/><path d="M244.0 739.3 Q243.7 741.0 244.0 742.7 Q244.3 744.5 242.8 744.9 Q241.3 745.4 239.8 746.1 Q238.3 746.7 237.0 745.6 Q235.7 744.5 235.5 742.7 Q235.3 741.0 235.8 739.5 Q236.2 738.0 237.6 737.8 Q239.0 737.6 240.4 736.3 Q241.7 735.1 243.0 736.3 Q244.3 737.5 244.0 739.3Z" fill="#f4e61c" filter="url(#b05)"/><path d="M230.6 720.7 Q230.6 722.3 229.9 724.5 Q229.3 726.7 227.7 726.7 Q226.2 726.7 225.4 725.8 Q224.5 724.9 223.6 724.2 Q222.6 723.4 222.5 721.4 Q222.5 719.4 223.7 717.6 Q224.9 715.7 226.3 716.1 Q227.7 716.4 229.0 716.0 Q230.3 715.6 230.5 717.3 Q230.7 719.0 230.6 720.7Z" fill="#f8901a" filter="url(#b05)"/><path d="M230.9 720.6 Q230.4 722.4 229.4 723.5 Q228.3 724.6 227.2 725.8 Q226.1 726.9 225.0 726.5 Q223.8 726.1 224.1 724.3 Q224.4 722.5 224.2 721.3 Q224.0 720.1 224.8 718.9 Q225.6 717.8 226.5 717.6 Q227.4 717.5 228.7 716.9 Q230.0 716.2 230.6 717.5 Q231.3 718.8 230.9 720.6Z" fill="#ee1c1c" filter="url(#b05)"/><path d="M243.3 739.6 Q243.2 740.5 242.7 741.1 Q242.3 741.7 241.6 742.0 Q240.8 742.3 240.0 742.4 Q239.1 742.4 238.0 742.3 Q236.8 742.1 237.0 741.3 Q237.1 740.5 237.3 739.8 Q237.4 739.2 238.1 738.6 Q238.8 738.0 240.0 738.1 Q241.1 738.2 242.3 738.4 Q243.5 738.7 243.3 739.6Z" fill="#f8901a" filter="url(#b05)"/><path d="M242.4 740.0 Q242.9 740.5 242.3 741.0 Q241.8 741.4 241.4 742.1 Q241.0 742.7 240.1 742.5 Q239.2 742.2 238.6 741.9 Q238.0 741.5 237.5 741.0 Q237.0 740.5 237.6 740.0 Q238.3 739.6 238.7 739.1 Q239.1 738.5 240.0 738.4 Q241.0 738.3 241.5 738.9 Q242.0 739.5 242.4 740.0Z" fill="#ee1c1c" filter="url(#b05)"/><path d="M234.9 730.3 Q234.9 731.0 234.9 731.7 Q234.9 732.4 234.4 733.0 Q233.9 733.7 233.0 733.6 Q232.2 733.6 231.5 733.1 Q230.8 732.6 230.7 731.8 Q230.7 731.0 230.7 730.2 Q230.7 729.3 231.5 729.0 Q232.2 728.7 232.9 729.0 Q233.6 729.3 234.2 729.5 Q234.9 729.6 234.9 730.3Z" fill="#f8901a" filter="url(#b05)"/><path d="M244 752 l2 8" stroke="#3a22e0" stroke-width="1.6"/><path d="M162 812 Q162 802 172 800 Q180 800 184 794 Q192 786 200 788 Q206 792 203 800 Q198 806 190 806 Q182 808 178 816 Q172 824 166 822 Q160 820 162 812Z" fill="#2433ea" filter="url(#b05)"/><ellipse cx="170.0" cy="812.0" rx="5.0" ry="6.0" fill="#1e7af0" opacity="0.95" transform="rotate(0 170.0 812.0)" filter="url(#b1)" /><ellipse cx="167.0" cy="818.0" rx="3.5" ry="3.0" fill="#18d0ee" opacity="1" transform="rotate(0 167.0 818.0)" filter="url(#b05)" /><ellipse cx="194.0" cy="796.0" rx="6.0" ry="4.0" fill="#2a52f0" opacity="0.9" transform="rotate(-30 194.0 796.0)" filter="url(#b1)" /><ellipse cx="261.4" cy="808.5" rx="1.2" ry="1.4" fill="#4a22e0" opacity="1" transform="rotate(0 261.4 808.5)" /><text transform="translate(26.5,615.3) scale(0.92,1)" font-size="16.5" text-anchor="start" fill="#f4f4f4" stroke="#f4f4f4" stroke-width=".28">h</text><text x="227.8" y="609.5" font-size="12.9" text-anchor="start" fill="#f4f4f4" stroke="#f4f4f4" stroke-width=".28">L-ICG@Lip</text><text x="86.5" y="690.2" font-size="12.8" text-anchor="start" fill="#f4f4f4" stroke="#f4f4f4" stroke-width=".28">Spleen</text><text x="157.3" y="693.3" font-size="12.8" text-anchor="start" fill="#f4f4f4" stroke="#f4f4f4" stroke-width=".28">Heart</text><text x="158.0" y="762.7" font-size="12.8" text-anchor="start" fill="#f4f4f4" stroke="#f4f4f4" stroke-width=".28">Tumor</text><text x="221.6" y="769.4" font-size="12.8" text-anchor="start" fill="#f4f4f4" stroke="#f4f4f4" stroke-width=".28">Liver</text><text x="103.0" y="781.2" font-size="12.8" text-anchor="start" fill="#f4f4f4" stroke="#f4f4f4" stroke-width=".28">Lung</text><text x="179.8" y="817.3" font-size="12.8" text-anchor="start" fill="#f4f4f4" stroke="#f4f4f4" stroke-width=".28">Kidney</text></g><rect x="323.0" y="594.4" width="275.7" height="275.1" fill="#464646"/><clipPath id="ic"><rect x="323.0" y="594.4" width="275.7" height="275.1"/></clipPath><g clip-path="url(#ic)"><ellipse cx="462.5" cy="734.5" rx="123.0" ry="116.0" fill="#4c4c4c" opacity="1" transform="rotate(0 462.5 734.5)" /><ellipse cx="462.5" cy="734.5" rx="118.5" ry="111.5" fill="none" stroke="#6e6e6e" stroke-width="9.0" opacity="0.8" filter="url(#b1)"/><ellipse cx="462.5" cy="734.5" rx="122.5" ry="115.5" fill="none" stroke="#a0a0a0" stroke-width="1.2" opacity="0.7" filter="url(#b05)"/><ellipse cx="462.5" cy="734.5" rx="114.0" ry="107.0" fill="none" stroke="#8c8c8c" stroke-width="1.2" opacity="0.6" filter="url(#b05)"/><path d="M360.3 790.1 A118.0 111.3 0 0 1 412.6 633.6" fill="none" stroke="#929292" stroke-width="7.0" opacity="0.50" filter="url(#b05)"/><path d="M348.5 763.3 A118.0 111.3 0 0 1 403.5 638.1" fill="none" stroke="#f0f0f0" stroke-width="2.2" opacity="0.90" filter="url(#b05)"/><path d="M348.8 773.5 A121.0 114.1 0 0 1 376.9 653.8" fill="none" stroke="#d0d0d0" stroke-width="1.5" opacity="0.80" filter="url(#b05)"/><path d="M347.9 744.0 A115.0 108.5 0 0 1 396.5 645.7" fill="none" stroke="#c4c4c4" stroke-width="1.4" opacity="0.75" filter="url(#b05)"/><path d="M530.2 643.3 A118.0 111.3 0 0 1 552.9 806.0" fill="none" stroke="#9c9c9c" stroke-width="7.0" opacity="0.55" filter="url(#b05)"/><path d="M550.2 660.0 A118.0 111.3 0 0 1 575.9 765.2" fill="none" stroke="#f0f0f0" stroke-width="2.2" opacity="0.90" filter="url(#b05)"/><path d="M538.8 654.6 A114.0 107.5 0 0 1 561.2 788.3" fill="none" stroke="#e4e4e4" stroke-width="1.6" opacity="0.80" filter="url(#b05)"/><path d="M543.5 649.7 A121.0 114.1 0 0 1 574.7 777.2" fill="none" stroke="#d0d0d0" stroke-width="1.5" opacity="0.80" filter="url(#b05)"/><path d="M556.7 672.3 A115.0 108.5 0 0 1 575.8 753.3" fill="none" stroke="#c8c8c8" stroke-width="1.4" opacity="0.75" filter="url(#b05)"/><path d="M393.1 824.5 A118.0 111.3 0 0 1 358.3 786.7" fill="none" stroke="#d8d8d8" stroke-width="1.8" opacity="0.80" filter="url(#b05)"/><path d="M566.7 786.7 A118.0 111.3 0 0 1 517.9 832.8" fill="none" stroke="#cccccc" stroke-width="1.6" opacity="0.75" filter="url(#b05)"/><path d="M567.3 791.6 A121.0 114.1 0 0 1 523.0 833.3" fill="none" stroke="#b0b0b0" stroke-width="1.2" opacity="0.60" filter="url(#b05)"/><path d="M503.2 840.0 A119.0 112.2 0 0 1 406.6 833.6" fill="none" stroke="#8e8e8e" stroke-width="1.2" opacity="0.60" filter="url(#b05)"/><path d="M421.8 629.0 A119.0 112.2 0 0 1 530.8 642.6" fill="none" stroke="#8a8a8a" stroke-width="1.2" opacity="0.55" filter="url(#b05)"/><rect x="406.5" y="627.0" width="11" height="6" transform="rotate(-115.8 412.0 630.0)" fill="#d4d4d4" opacity="0.85" filter="url(#b05)"/><rect x="406.5" y="627.0" width="11" height="1.2" transform="rotate(-115.8 412.0 630.0)" fill="#fff" opacity="0.8"/><rect x="523.0" y="635.5" width="11" height="6" transform="rotate(-55.5 528.5 638.5)" fill="#d4d4d4" opacity="0.85" filter="url(#b05)"/><rect x="523.0" y="635.5" width="11" height="1.2" transform="rotate(-55.5 528.5 638.5)" fill="#fff" opacity="0.8"/><rect x="339.5" y="719.5" width="11" height="6" transform="rotate(-174.2 345.0 722.5)" fill="#d4d4d4" opacity="0.85" filter="url(#b05)"/><rect x="339.5" y="719.5" width="11" height="1.2" transform="rotate(-174.2 345.0 722.5)" fill="#fff" opacity="0.8"/><rect x="574.5" y="737.5" width="11" height="6" transform="rotate(2.9 580.0 740.5)" fill="#d4d4d4" opacity="0.85" filter="url(#b05)"/><rect x="574.5" y="737.5" width="11" height="1.2" transform="rotate(2.9 580.0 740.5)" fill="#fff" opacity="0.8"/><rect x="391.0" y="819.5" width="11" height="6" transform="rotate(126.9 396.5 822.5)" fill="#d4d4d4" opacity="0.85" filter="url(#b05)"/><rect x="391.0" y="819.5" width="11" height="1.2" transform="rotate(126.9 396.5 822.5)" fill="#fff" opacity="0.8"/><rect x="507.0" y="830.0" width="11" height="6" transform="rotate(63.1 512.5 833.0)" fill="#d4d4d4" opacity="0.85" filter="url(#b05)"/><rect x="507.0" y="830.0" width="11" height="1.2" transform="rotate(63.1 512.5 833.0)" fill="#fff" opacity="0.8"/><ellipse cx="464.0" cy="678.0" rx="50.0" ry="24.0" fill="#808080" opacity="0.9" transform="rotate(6 464.0 678.0)" filter="url(#b2)" /><ellipse cx="500.0" cy="698.0" rx="14.0" ry="13.0" fill="#6a6a6a" opacity="0.85" transform="rotate(0 500.0 698.0)" filter="url(#b2)" /><ellipse cx="430.0" cy="668.0" rx="16.0" ry="12.0" fill="#7c7c7c" opacity="0.7" transform="rotate(0 430.0 668.0)" filter="url(#b2)" /><ellipse cx="402.0" cy="706.0" rx="15.0" ry="10.0" fill="#787878" opacity="0.85" transform="rotate(-35 402.0 706.0)" filter="url(#b2)" /><ellipse cx="415.0" cy="742.0" rx="8.0" ry="5.0" fill="#5c5c5c" opacity="0.6" transform="rotate(0 415.0 742.0)" filter="url(#b2)" /><ellipse cx="520.0" cy="745.0" rx="16.0" ry="6.0" fill="#5a5a5a" opacity="0.5" transform="rotate(0 520.0 745.0)" filter="url(#b2)" /><path d="M455 668 Q452 652 462 644 Q474 636 490 638 Q506 638 511 650 Q514 664 508 676 Q500 690 482 690 Q462 690 455 668Z" fill="#0e0e10" filter="url(#b1)"/><path d="M475.5 666.0 Q477.0 669.9 474.1 672.8 Q471.1 675.7 468.8 678.0 Q466.6 680.4 464.4 678.7 Q462.2 677.1 458.6 676.6 Q455.0 676.1 457.0 671.4 Q459.0 666.8 459.3 662.5 Q459.5 658.3 462.5 656.4 Q465.4 654.6 468.4 654.7 Q471.5 654.8 472.8 658.4 Q474.0 662.1 475.5 666.0Z" fill="#3a22dc" filter="url(#b1)"/><path d="M487.3 680.7 Q488.7 682.0 488.6 683.7 Q488.4 685.5 484.5 685.6 Q480.6 685.7 476.9 687.2 Q473.2 688.7 469.8 687.3 Q466.4 685.9 464.4 683.9 Q462.4 682.0 466.0 680.6 Q469.7 679.2 472.3 678.5 Q475.0 677.7 477.8 677.9 Q480.7 678.2 483.3 678.8 Q485.9 679.4 487.3 680.7Z" fill="#3a22dc" filter="url(#b1)"/><path d="M505.3 677.2 Q503.6 679.2 503.8 681.1 Q503.9 683.0 501.6 684.5 Q499.3 685.9 496.4 684.3 Q493.6 682.7 491.3 681.5 Q489.0 680.3 488.9 678.4 Q488.8 676.6 489.2 674.6 Q489.5 672.6 492.3 671.9 Q495.1 671.2 498.0 671.9 Q501.0 672.6 504.0 673.9 Q507.0 675.2 505.3 677.2Z" fill="#3a22dc" filter="url(#b1)"/><path d="M465.1 654.7 Q465.5 656.0 465.4 657.5 Q465.2 658.9 464.3 659.9 Q463.3 660.9 462.0 660.8 Q460.8 660.6 459.7 659.9 Q458.6 659.1 458.3 657.5 Q458.0 656.0 458.4 654.5 Q458.7 653.0 459.9 652.6 Q461.0 652.1 462.0 652.2 Q462.9 652.4 463.9 652.9 Q464.8 653.5 465.1 654.7Z" fill="#3a22dc" filter="url(#b05)"/><path d="M502.5 645.3 Q503.3 646.0 502.6 646.7 Q501.9 647.5 500.8 647.7 Q499.8 647.8 499.0 647.8 Q498.2 647.8 497.3 647.6 Q496.5 647.3 495.6 646.7 Q494.7 646.0 495.1 645.1 Q495.4 644.1 496.7 644.0 Q498.0 643.8 499.0 643.8 Q500.0 643.7 500.9 644.1 Q501.8 644.6 502.5 645.3Z" fill="#3a22dc" filter="url(#b05)"/><path d="M485.5 658.7 Q485.8 659.2 485.4 659.7 Q485.0 660.2 483.6 660.6 Q482.3 660.9 480.9 661.5 Q479.5 662.1 478.2 661.9 Q476.8 661.8 476.2 661.4 Q475.6 661.0 476.2 660.4 Q476.9 659.8 478.0 659.2 Q479.0 658.6 480.8 658.2 Q482.5 657.8 483.9 658.0 Q485.3 658.2 485.5 658.7Z" fill="#3a22dc" filter="url(#b05)"/><path d="M504.5 662.9 Q504.8 664.0 504.9 665.9 Q505.1 667.7 504.3 667.8 Q503.5 667.9 503.0 668.0 Q502.5 668.2 502.0 667.5 Q501.5 666.8 501.4 665.4 Q501.3 664.0 501.4 662.7 Q501.6 661.4 501.9 659.8 Q502.3 658.3 502.9 658.8 Q503.6 659.3 503.9 660.5 Q504.2 661.8 504.5 662.9Z" fill="#3a22dc" filter="url(#b05)"/><path d="M476.6 674.7 Q477.0 676.2 476.4 677.6 Q475.9 678.9 475.1 679.7 Q474.4 680.5 473.5 681.0 Q472.6 681.6 472.0 680.1 Q471.5 678.7 471.1 677.4 Q470.6 676.2 470.9 674.7 Q471.1 673.2 471.9 672.2 Q472.6 671.2 473.5 671.7 Q474.4 672.1 475.3 672.6 Q476.2 673.1 476.6 674.7Z" fill="#1e5af0" filter="url(#b05)"/><path d="M475.6 675.1 Q475.5 676.4 475.7 677.7 Q475.9 679.1 475.0 679.4 Q474.2 679.6 473.5 680.1 Q472.8 680.6 472.2 679.6 Q471.7 678.7 471.3 677.5 Q470.9 676.4 471.4 675.4 Q471.9 674.4 472.4 673.6 Q472.9 672.9 473.6 673.1 Q474.2 673.2 475.0 673.5 Q475.7 673.8 475.6 675.1Z" fill="#18c0f0" filter="url(#b05)"/><path d="M475.1 675.3 Q475.1 676.2 474.9 676.9 Q474.8 677.6 474.4 678.1 Q474.1 678.6 473.6 678.8 Q473.1 679.0 472.7 678.4 Q472.3 677.9 472.0 677.0 Q471.8 676.2 472.1 675.5 Q472.5 674.8 472.7 674.0 Q473.0 673.2 473.6 673.1 Q474.2 673.0 474.7 673.7 Q475.1 674.4 475.1 675.3Z" fill="#30dc70" filter="url(#b05)"/><path d="M502.8 674.6 Q502.7 676.3 500.9 676.6 Q499.0 676.8 497.3 677.4 Q495.6 678.0 493.6 676.7 Q491.6 675.3 490.9 673.6 Q490.3 672.0 490.2 670.5 Q490.1 669.0 491.6 668.5 Q493.0 668.1 494.7 668.1 Q496.3 668.1 498.3 668.8 Q500.3 669.5 501.6 671.2 Q502.9 672.9 502.8 674.6Z" fill="#1e5af0" filter="url(#b05)"/><path d="M500.9 674.2 Q501.0 675.5 500.0 676.4 Q499.0 677.2 497.3 677.3 Q495.5 677.4 494.0 676.1 Q492.5 674.7 491.6 673.4 Q490.8 672.1 490.6 670.8 Q490.5 669.4 491.2 668.2 Q492.0 667.0 494.0 667.6 Q496.1 668.2 498.0 669.0 Q499.9 669.7 500.3 671.3 Q500.8 672.9 500.9 674.2Z" fill="#18c0f0" filter="url(#b05)"/><path d="M500.5 674.2 Q500.6 675.3 499.6 675.9 Q498.5 676.4 497.1 676.2 Q495.7 676.0 494.4 675.3 Q493.1 674.6 492.2 673.4 Q491.3 672.3 491.1 671.0 Q490.9 669.7 491.8 668.8 Q492.7 667.9 494.5 668.5 Q496.2 669.1 498.0 669.6 Q499.7 670.1 500.1 671.6 Q500.4 673.0 500.5 674.2Z" fill="#30dc70" filter="url(#b05)"/><path d="M500.3 674.3 Q500.9 675.6 499.8 676.3 Q498.8 677.0 497.3 676.9 Q495.7 676.8 494.6 675.6 Q493.5 674.4 492.2 673.4 Q491.0 672.4 491.7 671.6 Q492.5 670.7 493.0 670.0 Q493.5 669.2 494.8 669.3 Q496.2 669.5 497.5 670.2 Q498.8 670.9 499.2 672.0 Q499.7 673.1 500.3 674.3Z" fill="#a8e822" filter="url(#b05)"/><path d="M499.4 674.1 Q499.8 675.1 498.7 675.3 Q497.7 675.4 496.7 675.8 Q495.7 676.1 494.6 675.2 Q493.6 674.4 492.8 673.5 Q492.1 672.5 492.3 671.7 Q492.5 670.9 493.1 670.2 Q493.6 669.5 494.9 669.7 Q496.1 669.9 497.4 670.4 Q498.7 671.0 498.9 672.0 Q499.1 673.1 499.4 674.1Z" fill="#f4e61c" filter="url(#b05)"/><path d="M498.4 673.9 Q498.3 674.5 497.8 674.9 Q497.4 675.3 496.5 675.5 Q495.7 675.7 494.5 675.2 Q493.4 674.7 493.3 673.8 Q493.2 672.9 493.1 672.2 Q493.1 671.5 493.5 670.9 Q493.9 670.3 495.0 670.5 Q496.0 670.6 497.1 671.1 Q498.2 671.5 498.4 672.4 Q498.5 673.3 498.4 673.9Z" fill="#f8901a" filter="url(#b05)"/><path d="M497.9 673.7 Q497.9 674.3 497.4 674.5 Q496.8 674.8 496.1 674.8 Q495.4 674.9 494.8 674.4 Q494.2 673.9 493.6 673.3 Q493.0 672.7 493.2 672.2 Q493.3 671.6 493.8 671.4 Q494.3 671.1 495.0 671.2 Q495.7 671.3 496.4 671.6 Q497.1 671.9 497.5 672.5 Q497.9 673.1 497.9 673.7Z" fill="#ee1c1c" filter="url(#b05)"/><ellipse cx="377.0" cy="728.0" rx="16.0" ry="21.0" fill="#363636" opacity="0.9" transform="rotate(0 377.0 728.0)" filter="url(#b2)" /><ellipse cx="376.5" cy="728.0" rx="12.5" ry="17.0" fill="#101010" opacity="1" transform="rotate(10 376.5 728.0)" filter="url(#b1)" /><circle cx="370.8" cy="739.2" r="0.8" fill="#bbb" opacity="0.82"/><circle cx="379.6" cy="741.7" r="0.8" fill="#bbb" opacity="0.60"/><circle cx="381.7" cy="730.9" r="0.9" fill="#888" opacity="0.88"/><circle cx="383.2" cy="727.5" r="0.6" fill="#888" opacity="0.59"/><circle cx="367.1" cy="728.1" r="0.7" fill="#fff" opacity="1.00"/><circle cx="382.5" cy="724.3" r="0.9" fill="#888" opacity="0.87"/><circle cx="374.8" cy="725.0" r="0.8" fill="#bbb" opacity="0.95"/><circle cx="371.9" cy="730.6" r="0.6" fill="#bbb" opacity="0.81"/><circle cx="368.8" cy="733.0" r="0.6" fill="#fff" opacity="0.63"/><circle cx="370.0" cy="734.4" r="0.7" fill="#bbb" opacity="0.52"/><circle cx="377.6" cy="726.4" r="0.9" fill="#bbb" opacity="0.79"/><circle cx="377.5" cy="720.5" r="0.9" fill="#fff" opacity="0.69"/><circle cx="374.6" cy="731.5" r="0.8" fill="#888" opacity="0.65"/><circle cx="378.0" cy="723.4" r="0.7" fill="#888" opacity="0.78"/><circle cx="375.7" cy="720.4" r="0.5" fill="#fff" opacity="0.75"/><circle cx="369.5" cy="732.9" r="0.8" fill="#888" opacity="0.86"/><ellipse cx="385.0" cy="715.0" rx="1.4" ry="1.8" fill="#3a22e0" opacity="1" transform="rotate(0 385.0 715.0)" /><ellipse cx="380.0" cy="744.0" rx="1.5" ry="1.5" fill="#3a22e0" opacity="1" transform="rotate(0 380.0 744.0)" /><ellipse cx="458.0" cy="727.0" rx="21.0" ry="20.0" fill="#303030" opacity="0.85" transform="rotate(0 458.0 727.0)" filter="url(#b2)" /><path d="M471.5 720.7 Q473.1 725.5 470.2 729.4 Q467.4 733.3 464.5 737.3 Q461.7 741.2 457.0 739.8 Q452.3 738.4 448.5 736.2 Q444.6 734.0 442.3 729.7 Q440.1 725.5 442.5 721.4 Q445.0 717.3 448.5 714.4 Q451.9 711.6 456.3 712.3 Q460.6 712.9 465.3 714.4 Q470.0 715.8 471.5 720.7Z" fill="#3a22dc" filter="url(#b05)"/><path d="M468.8 721.2 Q469.3 725.3 468.7 729.3 Q468.0 733.4 464.6 735.9 Q461.1 738.5 456.6 739.0 Q452.1 739.5 449.0 736.3 Q446.0 733.1 444.2 729.2 Q442.4 725.3 444.5 721.6 Q446.5 718.0 449.7 715.6 Q452.8 713.2 456.7 713.5 Q460.6 713.7 464.4 715.4 Q468.3 717.1 468.8 721.2Z" fill="#1e5af0" filter="url(#b05)"/><path d="M469.2 721.8 Q471.6 725.4 469.3 729.0 Q466.9 732.6 463.8 734.9 Q460.7 737.2 456.8 737.4 Q452.8 737.6 448.8 735.8 Q444.8 734.0 444.6 729.7 Q444.3 725.4 445.6 721.8 Q446.8 718.2 449.8 715.7 Q452.8 713.3 457.0 712.8 Q461.1 712.3 464.0 715.3 Q466.8 718.2 469.2 721.8Z" fill="#18c0f0" filter="url(#b05)"/><path d="M467.8 722.1 Q469.3 725.5 468.1 729.2 Q466.9 732.8 463.4 734.2 Q459.9 735.5 456.5 735.9 Q453.1 736.3 450.4 734.1 Q447.7 731.9 446.2 728.7 Q444.7 725.5 445.1 721.5 Q445.5 717.5 448.9 714.9 Q452.3 712.3 456.6 712.5 Q460.8 712.8 463.6 715.7 Q466.3 718.6 467.8 722.1Z" fill="#30dc70" filter="url(#b05)"/><path d="M466.2 722.8 Q467.7 725.7 466.7 729.0 Q465.8 732.3 463.1 734.7 Q460.5 737.2 456.9 736.7 Q453.3 736.1 450.3 734.3 Q447.4 732.4 446.5 729.1 Q445.6 725.7 446.0 722.1 Q446.5 718.4 449.8 716.6 Q453.1 714.8 456.5 715.5 Q459.8 716.1 462.3 718.0 Q464.8 719.9 466.2 722.8Z" fill="#a8e822" filter="url(#b05)"/><path d="M464.6 721.0 Q466.7 724.0 466.1 727.7 Q465.5 731.4 463.6 734.9 Q461.7 738.5 457.8 738.4 Q453.9 738.4 450.6 736.8 Q447.2 735.1 445.4 731.6 Q443.6 728.1 444.4 724.3 Q445.2 720.5 447.3 717.4 Q449.5 714.2 453.3 713.1 Q457.0 712.0 459.8 715.0 Q462.5 718.0 464.6 721.0Z" fill="#f4e61c" filter="url(#b05)"/><path d="M460.7 722.0 Q461.9 725.5 461.5 728.8 Q461.0 732.2 459.8 735.6 Q458.5 739.0 455.5 738.7 Q452.4 738.5 450.2 736.3 Q448.0 734.0 445.8 731.4 Q443.6 728.7 444.8 725.4 Q446.0 722.2 447.5 719.8 Q449.0 717.4 451.4 717.2 Q453.9 717.0 456.6 717.8 Q459.4 718.6 460.7 722.0Z" fill="#f8901a" filter="url(#b05)"/><path d="M456.5 723.8 Q457.8 726.4 458.0 729.7 Q458.1 733.0 456.5 734.8 Q455.0 736.7 453.1 738.1 Q451.1 739.5 449.6 736.4 Q448.0 733.2 445.8 731.0 Q443.6 728.9 444.1 725.4 Q444.5 721.9 445.9 719.3 Q447.2 716.8 449.4 716.4 Q451.7 716.0 453.4 718.6 Q455.1 721.3 456.5 723.8Z" fill="#ee1c1c" filter="url(#b05)"/><ellipse cx="545.0" cy="748.0" rx="24.0" ry="19.0" fill="#343434" opacity="0.75" transform="rotate(0 545.0 748.0)" filter="url(#b2)" /><path d="M560.7 743.2 Q560.3 746.6 558.3 749.6 Q556.3 752.6 553.4 754.2 Q550.6 755.7 548.4 754.1 Q546.2 752.5 545.1 749.9 Q544.0 747.2 544.2 743.7 Q544.4 740.2 546.6 737.4 Q548.8 734.6 551.5 733.5 Q554.2 732.5 556.6 733.4 Q559.0 734.3 560.0 737.0 Q561.0 739.8 560.7 743.2Z" fill="#3a22dc" filter="url(#b05)"/><path d="M560.9 743.2 Q560.3 746.8 558.1 749.6 Q555.9 752.3 553.3 753.4 Q550.6 754.5 548.5 753.3 Q546.4 752.0 545.3 749.6 Q544.2 747.2 544.9 744.0 Q545.7 740.9 547.2 737.8 Q548.7 734.8 551.3 734.1 Q553.9 733.5 556.1 734.4 Q558.2 735.2 559.9 737.4 Q561.6 739.6 560.9 743.2Z" fill="#1e5af0" filter="url(#b05)"/><path d="M559.4 743.7 Q559.2 746.7 557.4 749.5 Q555.7 752.2 553.2 753.1 Q550.7 754.1 548.8 752.8 Q547.0 751.5 545.6 749.5 Q544.2 747.5 545.0 744.4 Q545.9 741.4 547.5 738.9 Q549.1 736.3 551.4 735.7 Q553.7 735.0 555.5 735.8 Q557.4 736.6 558.5 738.7 Q559.7 740.7 559.4 743.7Z" fill="#18c0f0" filter="url(#b05)"/><path d="M558.5 743.8 Q558.7 746.6 557.0 749.2 Q555.3 751.8 553.0 752.3 Q550.6 752.7 548.9 751.7 Q547.2 750.6 546.2 748.7 Q545.2 746.8 545.8 744.2 Q546.5 741.6 547.9 739.4 Q549.3 737.2 551.4 735.9 Q553.5 734.5 555.4 735.3 Q557.4 736.1 557.8 738.6 Q558.3 741.1 558.5 743.8Z" fill="#30dc70" filter="url(#b05)"/><path d="M557.9 743.5 Q557.5 746.0 556.0 747.9 Q554.5 749.7 552.6 750.8 Q550.7 751.8 549.2 750.9 Q547.7 750.0 546.5 748.4 Q545.3 746.7 545.7 744.1 Q546.1 741.4 547.7 739.3 Q549.2 737.1 551.3 736.4 Q553.3 735.7 555.3 736.0 Q557.3 736.2 557.8 738.6 Q558.3 741.1 557.9 743.5Z" fill="#a8e822" filter="url(#b05)"/><path d="M557.8 743.5 Q557.5 746.0 555.8 747.5 Q554.1 749.1 552.3 750.4 Q550.6 751.6 548.8 751.1 Q547.1 750.5 546.3 748.5 Q545.5 746.5 546.2 744.1 Q546.8 741.7 548.1 739.8 Q549.5 737.9 551.3 736.7 Q553.1 735.6 554.8 736.4 Q556.4 737.2 557.3 739.1 Q558.1 741.0 557.8 743.5Z" fill="#f4e61c" filter="url(#b05)"/><path d="M556.4 743.7 Q556.5 745.7 555.1 747.2 Q553.7 748.7 552.2 749.3 Q550.7 750.0 549.1 749.9 Q547.5 749.7 547.0 747.9 Q546.4 746.1 546.8 744.0 Q547.2 742.0 548.4 740.3 Q549.5 738.6 551.1 738.0 Q552.7 737.5 554.0 738.1 Q555.3 738.6 555.9 740.2 Q556.4 741.7 556.4 743.7Z" fill="#f8901a" filter="url(#b05)"/><path d="M555.9 743.5 Q556.0 745.3 554.9 747.0 Q553.7 748.6 552.2 749.1 Q550.7 749.5 549.6 748.7 Q548.6 747.9 547.8 746.7 Q547.0 745.6 547.5 743.8 Q548.0 742.1 548.9 740.6 Q549.8 739.1 551.1 738.7 Q552.5 738.2 553.7 738.5 Q555.0 738.7 555.4 740.2 Q555.7 741.7 555.9 743.5Z" fill="#ee1c1c" filter="url(#b05)"/><path d="M543.5 747.2 Q545.2 750.7 545.8 754.5 Q546.4 758.2 544.5 760.8 Q542.7 763.4 540.1 765.1 Q537.4 766.7 534.4 764.8 Q531.4 762.9 529.6 759.6 Q527.7 756.3 526.8 752.4 Q525.9 748.4 527.7 745.3 Q529.5 742.3 532.5 741.2 Q535.5 740.1 538.7 741.9 Q541.8 743.7 543.5 747.2Z" fill="#3a22dc" filter="url(#b05)"/><path d="M542.7 747.6 Q544.3 750.8 545.2 754.4 Q546.0 758.1 543.8 760.1 Q541.7 762.1 539.4 763.9 Q537.2 765.7 534.6 763.6 Q531.9 761.5 530.1 758.8 Q528.2 756.1 527.6 752.5 Q527.0 748.9 528.5 746.1 Q530.0 743.2 532.7 742.5 Q535.5 741.9 538.3 743.2 Q541.1 744.5 542.7 747.6Z" fill="#1e5af0" filter="url(#b05)"/><path d="M542.4 747.8 Q543.6 751.2 544.0 754.2 Q544.4 757.3 542.9 759.4 Q541.4 761.5 539.3 763.0 Q537.1 764.4 534.7 762.8 Q532.2 761.3 530.5 758.6 Q528.9 755.9 528.7 752.8 Q528.4 749.7 529.3 746.6 Q530.1 743.4 532.9 743.6 Q535.7 743.8 538.4 744.1 Q541.2 744.5 542.4 747.8Z" fill="#18c0f0" filter="url(#b05)"/><path d="M542.4 748.6 Q544.5 750.7 544.1 753.7 Q543.8 756.7 542.9 759.3 Q542.0 762.0 539.6 762.1 Q537.2 762.2 535.0 761.4 Q532.7 760.5 531.0 758.1 Q529.3 755.6 529.2 752.6 Q529.1 749.7 530.0 746.9 Q531.0 744.2 533.4 743.6 Q535.9 743.0 538.1 744.8 Q540.2 746.5 542.4 748.6Z" fill="#30dc70" filter="url(#b05)"/><path d="M541.7 748.3 Q542.8 751.0 543.2 753.6 Q543.6 756.3 542.4 758.3 Q541.2 760.3 539.3 761.2 Q537.3 762.1 534.9 761.4 Q532.5 760.7 531.0 758.0 Q529.5 755.3 529.5 752.4 Q529.4 749.5 530.5 747.1 Q531.5 744.6 533.7 744.6 Q536.0 744.6 538.3 745.1 Q540.6 745.7 541.7 748.3Z" fill="#a8e822" filter="url(#b05)"/><path d="M541.7 749.1 Q543.0 751.3 543.3 753.9 Q543.5 756.5 542.3 758.3 Q541.1 760.1 539.3 760.7 Q537.5 761.4 535.3 760.9 Q533.1 760.3 532.2 757.7 Q531.4 755.1 530.6 752.5 Q529.9 749.9 531.4 748.3 Q532.8 746.8 534.6 745.9 Q536.3 745.0 538.3 745.9 Q540.3 746.9 541.7 749.1Z" fill="#f4e61c" filter="url(#b05)"/><path d="M540.6 749.7 Q541.5 751.7 542.3 754.0 Q543.0 756.4 542.0 758.3 Q541.0 760.2 539.1 760.5 Q537.2 760.8 535.3 760.0 Q533.4 759.3 532.1 757.2 Q530.9 755.2 531.1 752.9 Q531.3 750.7 532.2 749.2 Q533.1 747.7 534.6 746.9 Q536.1 746.1 537.9 746.9 Q539.6 747.7 540.6 749.7Z" fill="#f8901a" filter="url(#b05)"/><path d="M540.5 750.2 Q541.8 751.7 541.8 753.8 Q541.8 755.9 540.8 757.1 Q539.7 758.3 538.4 759.0 Q537.1 759.7 535.5 759.1 Q533.9 758.6 532.6 756.8 Q531.4 755.1 531.7 753.2 Q532.1 751.2 532.6 749.4 Q533.0 747.6 534.6 747.3 Q536.2 746.9 537.7 747.8 Q539.2 748.6 540.5 750.2Z" fill="#ee1c1c" filter="url(#b05)"/><ellipse cx="493.0" cy="796.0" rx="19.0" ry="21.0" fill="#303030" opacity="0.9" transform="rotate(0 493.0 796.0)" filter="url(#b2)" /><ellipse cx="491.5" cy="795.0" rx="11.5" ry="15.0" fill="#808080" opacity="1" transform="rotate(-10 491.5 795.0)" filter="url(#b1)" /><circle cx="496.1" cy="797.8" r="0.7" fill="#555" opacity="0.63"/><circle cx="493.3" cy="783.7" r="1.1" fill="#eee" opacity="0.80"/><circle cx="486.9" cy="805.4" r="1.0" fill="#eee" opacity="0.82"/><circle cx="497.0" cy="804.4" r="0.7" fill="#555" opacity="0.81"/><circle cx="487.1" cy="787.6" r="0.7" fill="#555" opacity="0.75"/><circle cx="500.8" cy="797.5" r="1.1" fill="#555" opacity="0.68"/><circle cx="492.8" cy="799.6" r="0.6" fill="#555" opacity="0.91"/><circle cx="499.6" cy="799.2" r="0.9" fill="#555" opacity="0.51"/><circle cx="490.3" cy="785.1" r="0.8" fill="#555" opacity="0.77"/><circle cx="485.2" cy="792.4" r="0.6" fill="#bbb" opacity="0.57"/><circle cx="486.1" cy="800.0" r="0.9" fill="#555" opacity="0.76"/><circle cx="493.0" cy="806.4" r="0.6" fill="#555" opacity="0.95"/><circle cx="496.4" cy="785.5" r="1.1" fill="#555" opacity="0.54"/><circle cx="487.4" cy="795.3" r="1.0" fill="#bbb" opacity="0.85"/><circle cx="488.5" cy="807.2" r="0.8" fill="#eee" opacity="0.58"/><circle cx="485.0" cy="786.6" r="0.7" fill="#eee" opacity="0.58"/><circle cx="486.6" cy="786.9" r="0.7" fill="#eee" opacity="0.60"/><circle cx="489.2" cy="785.9" r="0.6" fill="#eee" opacity="0.61"/><circle cx="487.0" cy="792.3" r="0.8" fill="#555" opacity="0.85"/><circle cx="493.9" cy="787.4" r="1.1" fill="#555" opacity="0.68"/><circle cx="491.9" cy="792.6" r="0.8" fill="#bbb" opacity="0.89"/><circle cx="487.8" cy="792.3" r="1.1" fill="#eee" opacity="0.89"/><circle cx="491.2" cy="803.9" r="0.7" fill="#eee" opacity="0.64"/><circle cx="486.7" cy="801.6" r="0.7" fill="#bbb" opacity="0.53"/><circle cx="490.8" cy="798.8" r="0.8" fill="#eee" opacity="0.88"/><circle cx="494.8" cy="800.8" r="0.7" fill="#555" opacity="0.84"/><circle cx="493.3" cy="793.4" r="1.0" fill="#bbb" opacity="0.76"/><circle cx="499.2" cy="802.9" r="0.7" fill="#bbb" opacity="0.86"/><circle cx="499.1" cy="798.0" r="0.9" fill="#bbb" opacity="0.59"/><circle cx="497.1" cy="790.6" r="0.7" fill="#eee" opacity="0.61"/><path d="M495.9 792.7 Q495.6 794.6 495.1 796.3 Q494.7 798.1 493.5 798.6 Q492.2 799.1 491.1 799.1 Q489.9 799.0 488.5 798.3 Q487.2 797.5 487.8 795.5 Q488.4 793.4 488.8 791.6 Q489.3 789.9 490.5 789.3 Q491.7 788.7 493.5 787.6 Q495.2 786.4 495.8 788.6 Q496.3 790.8 495.9 792.7Z" fill="#3a22dc" filter="url(#b05)"/><ellipse cx="494.0" cy="800.0" rx="2.6" ry="2.2" fill="#1e7af0" opacity="1" transform="rotate(0 494.0 800.0)" filter="url(#b05)" /><ellipse cx="504.0" cy="816.0" rx="7.0" ry="5.0" fill="#5e5e5e" opacity="0.7" transform="rotate(40 504.0 816.0)" filter="url(#b2)" /><ellipse cx="432.0" cy="800.0" rx="15.0" ry="14.0" fill="#363636" opacity="0.9" transform="rotate(0 432.0 800.0)" filter="url(#b2)" /><ellipse cx="432.5" cy="798.0" rx="8.0" ry="9.0" fill="#222" opacity="1" transform="rotate(0 432.5 798.0)" filter="url(#b2)" /><ellipse cx="432.5" cy="798.0" rx="3.6" ry="5.5" fill="#101010" opacity="1" transform="rotate(0 432.5 798.0)" filter="url(#b1)" /><circle cx="434.0" cy="801.2" r="0.4" fill="#fff" opacity="0.93"/><circle cx="434.0" cy="796.4" r="0.6" fill="#aaa" opacity="0.59"/><circle cx="431.6" cy="792.5" r="0.5" fill="#aaa" opacity="0.74"/><circle cx="431.2" cy="801.2" r="0.8" fill="#fff" opacity="0.64"/><circle cx="432.5" cy="792.8" r="0.8" fill="#fff" opacity="0.94"/><circle cx="432.6" cy="802.0" r="0.6" fill="#aaa" opacity="0.91"/><circle cx="433.0" cy="792.8" r="0.4" fill="#aaa" opacity="0.96"/><ellipse cx="433.5" cy="792.0" rx="0.9" ry="1.0" fill="#3a22e0" opacity="1" transform="rotate(0 433.5 792.0)" /><circle cx="412.2" cy="675.0" r="0.9" fill="#fff" opacity="0.89"/><circle cx="412.7" cy="673.3" r="0.9" fill="#fff" opacity="0.75"/><text transform="translate(329.5,613.8) scale(0.92,1)" font-size="16.5" text-anchor="start" fill="#f4f4f4" stroke="#f4f4f4" stroke-width=".28">i</text><text x="524.4" y="611.3" font-size="12.9" text-anchor="start" fill="#f4f4f4" stroke="#f4f4f4" stroke-width=".28">S-ICG@Lip</text><text x="419.0" y="669.7" font-size="12.8" text-anchor="start" fill="#f4f4f4" stroke="#f4f4f4" stroke-width=".28">Liver</text><text x="385.5" y="736.3" font-size="12.8" text-anchor="start" fill="#f4f4f4" stroke="#f4f4f4" stroke-width=".28">Spleen</text><text x="454.0" y="752.2" font-size="12.8" text-anchor="start" fill="#f4f4f4" stroke="#f4f4f4" stroke-width=".28">Tumor</text><text x="526.4" y="728.9" font-size="12.8" text-anchor="start" fill="#f4f4f4" stroke="#f4f4f4" stroke-width=".28">Kidney</text><text x="510.0" y="810.6" font-size="12.8" text-anchor="start" fill="#f4f4f4" stroke="#f4f4f4" stroke-width=".28">Lung</text><text x="428.4" y="826.1" font-size="12.8" text-anchor="start" fill="#f4f4f4" stroke="#f4f4f4" stroke-width=".28">Heart</text></g><rect x="610.7" y="646.1" width="7.7" height="188.7" fill="url(#jet)"/><text x="626.3" y="650.8" font-size="9.2" text-anchor="start" fill="#111" stroke="#111" stroke-width=".28">1.6</text><path d="M618.4 647.5 h2.4" stroke="#222" stroke-width="0.7"/><text x="626.3" y="679.2" font-size="9.2" text-anchor="start" fill="#111" stroke="#111" stroke-width=".28">1.4</text><path d="M618.4 675.9 h2.4" stroke="#222" stroke-width="0.7"/><text x="626.3" y="705.9" font-size="9.2" text-anchor="start" fill="#111" stroke="#111" stroke-width=".28">1.2</text><path d="M618.4 702.6 h2.4" stroke="#222" stroke-width="0.7"/><text x="626.3" y="734.5" font-size="9.2" text-anchor="start" fill="#111" stroke="#111" stroke-width=".28">1.0</text><path d="M618.4 731.2 h2.4" stroke="#222" stroke-width="0.7"/><text x="626.3" y="761.7" font-size="9.2" text-anchor="start" fill="#111" stroke="#111" stroke-width=".28">0.8</text><path d="M618.4 758.4 h2.4" stroke="#222" stroke-width="0.7"/><text x="626.3" y="790.7" font-size="9.2" text-anchor="start" fill="#111" stroke="#111" stroke-width=".28">0.6</text><path d="M618.4 787.4 h2.4" stroke="#222" stroke-width="0.7"/><text x="626.3" y="817.6" font-size="9.2" text-anchor="start" fill="#111" stroke="#111" stroke-width=".28">0.4</text><path d="M618.4 814.3 h2.4" stroke="#222" stroke-width="0.7"/><text x="626.0" y="747.6" font-size="9.2" text-anchor="start" fill="#111" stroke="#111" stroke-width=".28">×10<tspan font-size="6" dy="-3.4">9</tspan></text><text transform="translate(657.0,743.5) rotate(-90)" font-size="9.3" text-anchor="middle" fill="#111" stroke="#111" stroke-width=".28">Radiant efficiency</text><text transform="translate(669.8,743.5) rotate(-90)" font-size="9.3" text-anchor="middle" fill="#111" stroke="#111" stroke-width=".28">(p s<tspan font-size="6" dy="-3.5">-1</tspan><tspan dy="3.5"> cm</tspan><tspan font-size="6" dy="-3.5">-2</tspan><tspan dy="3.5"> sr</tspan><tspan font-size="6" dy="-3.5">-1</tspan><tspan dy="3.5">)/(μw cm</tspan><tspan font-size="6" dy="-3.5">-2</tspan><tspan dy="3.5">)</tspan></text></g>
<!-- p_jk -->
<g><text transform="translate(696.0,497.0) scale(0.92,1)" font-size="17" text-anchor="start" fill="#111" stroke="#111" stroke-width=".28" >j</text><rect x="736.7" y="511.5" width="184.6" height="147.6" fill="none" stroke="#3a3a3a" stroke-width="1.3"/><path d="M736.7 659.1 h-3.2" stroke="#333" stroke-width="1"/><text x="731.8" y="663.0" font-size="10.6" text-anchor="end" fill="#111" stroke="#111" stroke-width=".28" >0</text><path d="M736.7 622.2 h-3.2" stroke="#333" stroke-width="1"/><text x="731.8" y="626.1" font-size="10.6" text-anchor="end" fill="#111" stroke="#111" stroke-width=".28" >100</text><path d="M736.7 585.3 h-3.2" stroke="#333" stroke-width="1"/><text x="731.8" y="589.2" font-size="10.6" text-anchor="end" fill="#111" stroke="#111" stroke-width=".28" >200</text><path d="M736.7 548.4 h-3.2" stroke="#333" stroke-width="1"/><text x="731.8" y="552.3" font-size="10.6" text-anchor="end" fill="#111" stroke="#111" stroke-width=".28" >300</text><path d="M736.7 511.5 h-3.2" stroke="#333" stroke-width="1"/><text x="731.8" y="515.4" font-size="10.6" text-anchor="end" fill="#111" stroke="#111" stroke-width=".28" >400</text><path d="M736.7 640.6 h-1.8" stroke="#333" stroke-width="0.8"/><path d="M736.7 603.8 h-1.8" stroke="#333" stroke-width="0.8"/><path d="M736.7 566.9 h-1.8" stroke="#333" stroke-width="0.8"/><path d="M736.7 530.0 h-1.8" stroke="#333" stroke-width="0.8"/><path d="M754.9 659.1 v3" stroke="#333" stroke-width="1"/><text x="754.9" y="676.8" font-size="11" text-anchor="middle" fill="#111" stroke="#111" stroke-width=".28" >Pre</text><path d="M791.7 659.1 v3" stroke="#333" stroke-width="1"/><text x="791.7" y="676.8" font-size="11" text-anchor="middle" fill="#111" stroke="#111" stroke-width=".28" >30</text><path d="M828.8 659.1 v3" stroke="#333" stroke-width="1"/><text x="828.8" y="676.8" font-size="11" text-anchor="middle" fill="#111" stroke="#111" stroke-width=".28" >60</text><path d="M865.7 659.1 v3" stroke="#333" stroke-width="1"/><text x="865.7" y="676.8" font-size="11" text-anchor="middle" fill="#111" stroke="#111" stroke-width=".28" >90</text><path d="M902.6 659.1 v3" stroke="#333" stroke-width="1"/><text x="902.6" y="676.8" font-size="11" text-anchor="middle" fill="#111" stroke="#111" stroke-width=".28" >120</text><text transform="translate(697.6,585.7) rotate(-90)" font-size="9.15" text-anchor="middle" fill="#111" stroke="#111" stroke-width=".28">Radiant efficiency</text><text transform="translate(709.1,585.7) rotate(-90)" font-size="9.3" text-anchor="middle" fill="#111" stroke="#111" stroke-width=".28">(p s<tspan font-size="6" dy="-3.5">-1</tspan><tspan dy="3.5"> cm</tspan><tspan font-size="6" dy="-3.5">-2</tspan><tspan dy="3.5"> sr</tspan><tspan font-size="6" dy="-3.5">-1</tspan><tspan dy="3.5">)/(μw cm</tspan><tspan font-size="6" dy="-3.5">-2</tspan><tspan dy="3.5">)</tspan></text><rect x="743" y="656.8" width="10" height="2.4" fill="#111"/><rect x="757.5" y="657.6" width="10" height="1.6" fill="#e8262e"/><rect x="779.7" y="556.5" width="10.4" height="102.6" fill="#fff" stroke="#1a1a1a" stroke-width="1.2"/><rect x="794.3" y="631.8" width="10.2" height="27.3" fill="#fff" stroke="#e8262e" stroke-width="1.4"/><path d="M784.9 552.1 V560.9 M782.4 552.1 h5 M782.4 560.9 h5" stroke="#1a1a1a" stroke-width="1" fill="none"/><circle cx="782.9" cy="560.5" r="1.3" fill="none" stroke="#333" stroke-width="0.6"/><circle cx="784.5" cy="555.2" r="1.3" fill="none" stroke="#333" stroke-width="0.6"/><circle cx="786.1" cy="555.2" r="1.3" fill="none" stroke="#333" stroke-width="0.6"/><circle cx="787.7" cy="560.5" r="1.3" fill="none" stroke="#333" stroke-width="0.6"/><rect x="795.1" y="630.2" width="8.6" height="2.4" fill="#e8262e" opacity="0.8"/><rect x="816.8" y="568.3" width="10.4" height="90.8" fill="#fff" stroke="#1a1a1a" stroke-width="1.2"/><rect x="831.4" y="633.6" width="10.2" height="25.5" fill="#fff" stroke="#e8262e" stroke-width="1.4"/><path d="M822.0 566.1 V570.5 M819.5 566.1 h5 M819.5 570.5 h5" stroke="#1a1a1a" stroke-width="1" fill="none"/><circle cx="820.0" cy="570.3" r="1.3" fill="none" stroke="#333" stroke-width="0.6"/><circle cx="821.6" cy="567.7" r="1.3" fill="none" stroke="#333" stroke-width="0.6"/><circle cx="823.2" cy="567.7" r="1.3" fill="none" stroke="#333" stroke-width="0.6"/><circle cx="824.8" cy="570.3" r="1.3" fill="none" stroke="#333" stroke-width="0.6"/><rect x="832.2" y="632.0" width="8.6" height="2.4" fill="#e8262e" opacity="0.8"/><rect x="853.7" y="583.8" width="10.4" height="75.3" fill="#fff" stroke="#1a1a1a" stroke-width="1.2"/><rect x="868.3" y="643.6" width="10.2" height="15.5" fill="#fff" stroke="#e8262e" stroke-width="1.4"/><path d="M858.9 581.2 V586.4 M856.4 581.2 h5 M856.4 586.4 h5" stroke="#1a1a1a" stroke-width="1" fill="none"/><circle cx="856.9" cy="586.1" r="1.3" fill="none" stroke="#333" stroke-width="0.6"/><circle cx="858.5" cy="583.0" r="1.3" fill="none" stroke="#333" stroke-width="0.6"/><circle cx="860.1" cy="583.0" r="1.3" fill="none" stroke="#333" stroke-width="0.6"/><circle cx="861.7" cy="586.1" r="1.3" fill="none" stroke="#333" stroke-width="0.6"/><rect x="869.1" y="642.0" width="8.6" height="2.4" fill="#e8262e" opacity="0.8"/><rect x="890.6" y="592.7" width="10.4" height="66.4" fill="#fff" stroke="#1a1a1a" stroke-width="1.2"/><rect x="905.2" y="646.2" width="10.2" height="12.9" fill="#fff" stroke="#e8262e" stroke-width="1.4"/><path d="M895.8 589.4 V596.0 M893.3 589.4 h5 M893.3 596.0 h5" stroke="#1a1a1a" stroke-width="1" fill="none"/><circle cx="893.8" cy="595.7" r="1.3" fill="none" stroke="#333" stroke-width="0.6"/><circle cx="895.4" cy="591.7" r="1.3" fill="none" stroke="#333" stroke-width="0.6"/><circle cx="897.0" cy="591.7" r="1.3" fill="none" stroke="#333" stroke-width="0.6"/><circle cx="898.6" cy="595.7" r="1.3" fill="none" stroke="#333" stroke-width="0.6"/><rect x="906.0" y="644.6" width="8.6" height="2.4" fill="#e8262e" opacity="0.8"/><rect x="784.2" y="516.0" width="11" height="5.2" fill="#fff" stroke="#1a1a1a" stroke-width="1"/><text x="798.6" y="521.6" font-size="7.4" text-anchor="start" fill="#111" stroke="#111" stroke-width=".28" >S-ICG@Lip</text><rect x="846.2" y="516.0" width="10.4" height="5.2" fill="#fff" stroke="#e8262e" stroke-width="1"/><text x="859.2" y="521.6" font-size="7.4" text-anchor="start" fill="#111" stroke="#111" stroke-width=".28" >L-ICG@Lip</text><text x="790.9" y="536.7" font-size="7.6" text-anchor="middle" fill="#111" stroke="#111" stroke-width=".28"><tspan font-style="italic">P</tspan> &lt; 0.0001</text><text x="792.3" y="546.2" font-size="9" text-anchor="middle" fill="#111" stroke="#111" stroke-width=".28">***</text><path d="M785.1 550.5 V545.4 H799.5 V631.5" fill="none" stroke="#333" stroke-width="0.8"/><text x="828.0" y="552.3" font-size="7.6" text-anchor="middle" fill="#111" stroke="#111" stroke-width=".28"><tspan font-style="italic">P</tspan> &lt; 0.0001</text><text x="829.5" y="560.8" font-size="9" text-anchor="middle" fill="#111" stroke="#111" stroke-width=".28">***</text><path d="M822.5 562.5 V560.0 H836.6 V633.0" fill="none" stroke="#333" stroke-width="0.8"/><text x="865.0" y="565.2" font-size="7.6" text-anchor="middle" fill="#111" stroke="#111" stroke-width=".28"><tspan font-style="italic">P</tspan> &lt; 0.0001</text><text x="866.5" y="575.3" font-size="9" text-anchor="middle" fill="#111" stroke="#111" stroke-width=".28">***</text><path d="M859.5 578.0 V574.5 H873.5 V642.5" fill="none" stroke="#333" stroke-width="0.8"/><text x="900.0" y="573.3" font-size="7.6" text-anchor="middle" fill="#111" stroke="#111" stroke-width=".28"><tspan font-style="italic">P</tspan> &lt; 0.0001</text><text x="903.2" y="582.2" font-size="9" text-anchor="middle" fill="#111" stroke="#111" stroke-width=".28">***</text><path d="M896.0 586.5 V581.4 H910.4 V645.0" fill="none" stroke="#333" stroke-width="0.8"/><text transform="translate(694.5,704.4) scale(0.92,1)" font-size="17" text-anchor="start" fill="#111" stroke="#111" stroke-width=".28" >k</text><rect x="738.6" y="699.4" width="183.2" height="147.0" fill="none" stroke="#3a3a3a" stroke-width="1.3"/><path d="M738.6 846.4 h-3.2" stroke="#333" stroke-width="1"/><text x="733.5" y="850.3" font-size="10.6" text-anchor="end" fill="#111" stroke="#111" stroke-width=".28" >0</text><path d="M738.6 772.9 h-3.2" stroke="#333" stroke-width="1"/><text x="733.5" y="776.8" font-size="10.6" text-anchor="end" fill="#111" stroke="#111" stroke-width=".28" >200</text><path d="M738.6 699.4 h-3.2" stroke="#333" stroke-width="1"/><text x="733.5" y="703.3" font-size="10.6" text-anchor="end" fill="#111" stroke="#111" stroke-width=".28" >400</text><path d="M738.6 809.6 h-1.8" stroke="#333" stroke-width="0.8"/><path d="M738.6 736.1 h-1.8" stroke="#333" stroke-width="0.8"/><path d="M754.3 846.4 v3" stroke="#333" stroke-width="1"/><text x="754.3" y="858.6" font-size="9.4" text-anchor="middle" fill="#111" stroke="#111" stroke-width=".28" >Heart</text><path d="M785.1 846.4 v3" stroke="#333" stroke-width="1"/><text x="784.8" y="858.6" font-size="9.4" text-anchor="middle" fill="#111" stroke="#111" stroke-width=".28" >Liver</text><path d="M815.9 846.4 v3" stroke="#333" stroke-width="1"/><text x="816.8" y="858.6" font-size="9.4" text-anchor="middle" fill="#111" stroke="#111" stroke-width=".28" >Spleen</text><path d="M847.0 846.4 v3" stroke="#333" stroke-width="1"/><text x="848.2" y="858.6" font-size="9.4" text-anchor="middle" fill="#111" stroke="#111" stroke-width=".28" >Lung</text><path d="M878.1 846.4 v3" stroke="#333" stroke-width="1"/><text x="880.2" y="858.6" font-size="9.4" text-anchor="middle" fill="#111" stroke="#111" stroke-width=".28" >Kidney</text><path d="M908.9 846.4 v3" stroke="#333" stroke-width="1"/><text x="912.2" y="858.6" font-size="9.4" text-anchor="middle" fill="#111" stroke="#111" stroke-width=".28" >Tumor</text><text transform="translate(698.0,772.6) rotate(-90)" font-size="9.15" text-anchor="middle" fill="#111" stroke="#111" stroke-width=".28">Radiant efficiency</text><text transform="translate(710.0,772.6) rotate(-90)" font-size="9.3" text-anchor="middle" fill="#111" stroke="#111" stroke-width=".28">(p s<tspan font-size="6" dy="-3.5">-1</tspan><tspan dy="3.5"> cm</tspan><tspan font-size="6" dy="-3.5">-2</tspan><tspan dy="3.5"> sr</tspan><tspan font-size="6" dy="-3.5">-1</tspan><tspan dy="3.5">)/(μw cm</tspan><tspan font-size="6" dy="-3.5">-2</tspan><tspan dy="3.5">)</tspan></text><rect x="743.9" y="845.3" width="8.2" height="1.1" fill="#fff" stroke="#1a1a1a" stroke-width="1.3"/><rect x="756.1" y="845.7" width="8.0" height="0.7" fill="#fff" stroke="#e8262e" stroke-width="1.5"/><rect x="745.0" y="844.1" width="6" height="1.6" fill="#111"/><rect x="757.1" y="844.5" width="6" height="1.6" fill="#e8262e"/><rect x="774.7" y="793.8" width="8.2" height="52.6" fill="#fff" stroke="#1a1a1a" stroke-width="1.3"/><rect x="786.9" y="738.7" width="8.0" height="107.7" fill="#fff" stroke="#e8262e" stroke-width="1.5"/><rect x="775.8" y="792.6" width="6" height="1.6" fill="#111"/><rect x="787.9" y="737.5" width="6" height="1.6" fill="#e8262e"/><rect x="805.5" y="842.0" width="8.2" height="4.4" fill="#fff" stroke="#1a1a1a" stroke-width="1.3"/><rect x="817.7" y="833.5" width="8.0" height="12.9" fill="#fff" stroke="#e8262e" stroke-width="1.5"/><rect x="806.6" y="840.8" width="6" height="1.6" fill="#111"/><rect x="818.7" y="832.3" width="6" height="1.6" fill="#e8262e"/><rect x="836.6" y="836.8" width="8.2" height="9.6" fill="#fff" stroke="#1a1a1a" stroke-width="1.3"/><rect x="848.8" y="840.5" width="8.0" height="5.9" fill="#fff" stroke="#e8262e" stroke-width="1.5"/><rect x="837.7" y="835.6" width="6" height="1.6" fill="#111"/><rect x="849.8" y="839.3" width="6" height="1.6" fill="#e8262e"/><rect x="867.7" y="786.9" width="8.2" height="59.5" fill="#fff" stroke="#1a1a1a" stroke-width="1.3"/><rect x="879.9" y="822.5" width="8.0" height="23.9" fill="#fff" stroke="#e8262e" stroke-width="1.5"/><rect x="868.8" y="785.7" width="6" height="1.6" fill="#111"/><rect x="880.9" y="821.3" width="6" height="1.6" fill="#e8262e"/><rect x="898.5" y="785.0" width="8.2" height="61.4" fill="#fff" stroke="#1a1a1a" stroke-width="1.3"/><rect x="910.7" y="837.2" width="8.0" height="9.2" fill="#fff" stroke="#e8262e" stroke-width="1.5"/><rect x="899.6" y="783.8" width="6" height="1.6" fill="#111"/><rect x="911.7" y="836.0" width="6" height="1.6" fill="#e8262e"/><rect x="786.0" y="704.6" width="11" height="5.2" fill="#fff" stroke="#1a1a1a" stroke-width="1"/><text x="800.4" y="710.2" font-size="7.4" text-anchor="start" fill="#111" stroke="#111" stroke-width=".28" >S-ICG@Lip</text><rect x="845.0" y="704.6" width="10.4" height="5.2" fill="#fff" stroke="#e8262e" stroke-width="1"/><text x="858.6" y="710.2" font-size="7.4" text-anchor="start" fill="#111" stroke="#111" stroke-width=".28" >L-ICG@Lip</text><text x="784.8" y="721.9" font-size="7.6" text-anchor="middle" fill="#111" stroke="#111" stroke-width=".28"><tspan font-style="italic">P</tspan> &lt; 0.0001</text><text x="784.4" y="729.7" font-size="9" text-anchor="middle" fill="#111" stroke="#111" stroke-width=".28">***</text><path d="M777.9 790.0 V729.4 H790.9 V736.0" fill="none" stroke="#333" stroke-width="0.8"/><text x="756.0" y="834.2" font-size="7.6" text-anchor="middle" fill="#111" stroke="#111" stroke-width=".28"><tspan font-style="italic">P</tspan> = 0.003</text><text x="754.2" y="843.0" font-size="9" text-anchor="middle" fill="#111" stroke="#111" stroke-width=".28">**</text><path d="M747.7 843.5 V840.8 H760.6 V843.5" fill="none" stroke="#333" stroke-width="0.8"/><text x="815.5" y="816.9" font-size="7.6" text-anchor="middle" fill="#111" stroke="#111" stroke-width=".28"><tspan font-style="italic">P</tspan> &lt; 0.0001</text><text x="814.9" y="829.6" font-size="9" text-anchor="middle" fill="#111" stroke="#111" stroke-width=".28">***</text><path d="M808.7 839.5 V827.9 H821.1 V831.5" fill="none" stroke="#333" stroke-width="0.8"/><text x="842.8" y="826.1" font-size="7.6" text-anchor="middle" fill="#111" stroke="#111" stroke-width=".28"><tspan font-style="italic">P</tspan> &lt; 0.0001</text><text x="845.5" y="834.7" font-size="9" text-anchor="middle" fill="#111" stroke="#111" stroke-width=".28">***</text><path d="M839.2 835.0 V832.8 H851.9 V838.5" fill="none" stroke="#333" stroke-width="0.8"/><text x="875.1" y="765.7" font-size="7.6" text-anchor="middle" fill="#111" stroke="#111" stroke-width=".28"><tspan font-style="italic">P</tspan> &lt; 0.0001</text><text x="876.2" y="781.2" font-size="9" text-anchor="middle" fill="#111" stroke="#111" stroke-width=".28">***</text><path d="M870.1 785.0 V779.8 H882.4 V820.0" fill="none" stroke="#333" stroke-width="0.8"/><text x="902.7" y="773.7" font-size="7.6" text-anchor="middle" fill="#111" stroke="#111" stroke-width=".28"><tspan font-style="italic">P</tspan> &lt; 0.0001</text><text x="906.8" y="782.2" font-size="9" text-anchor="middle" fill="#111" stroke="#111" stroke-width=".28">***</text><path d="M900.9 783.5 V780.3 H912.7 V835.0" fill="none" stroke="#333" stroke-width="0.8"/></g>
</svg>
</body></html>
